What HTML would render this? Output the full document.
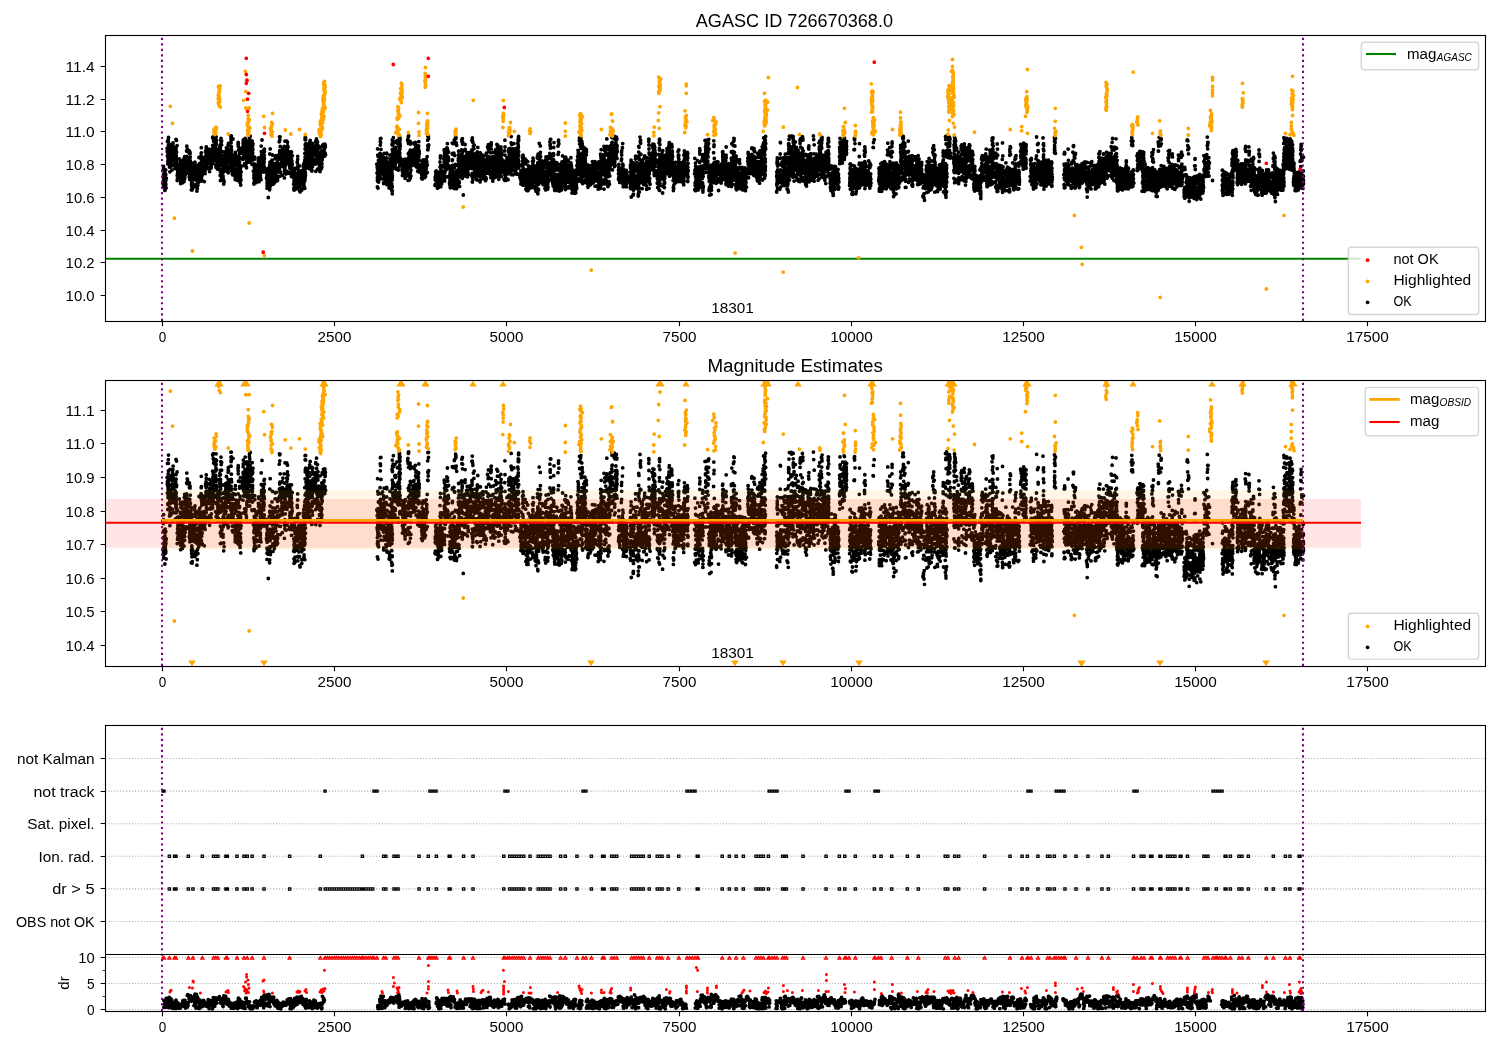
<!DOCTYPE html>
<html><head><meta charset="utf-8"><title>AGASC ID 726670368.0</title>
<style>html,body{margin:0;padding:0;background:#fff}svg{display:block;will-change:transform}</style></head>
<body>
<svg width="1500" height="1050" viewBox="0 0 1500 1050" font-family="Liberation Sans, sans-serif" fill="#000">
<rect width="1500" height="1050" fill="#fff"/>
<defs>
<clipPath id="c1"><rect x="105.5" y="35.5" width="1380.0" height="286.0"/></clipPath>
<clipPath id="c2"><rect x="105.5" y="380.5" width="1380.0" height="286.0"/></clipPath>
<clipPath id="c3"><rect x="105.5" y="725.5" width="1380.0" height="286.0"/></clipPath>
</defs>
<g clip-path="url(#c1)">
<line x1="105.5" y1="258.8" x2="1360.7" y2="258.8" stroke="#008000" stroke-width="2.08"/>
<path transform="scale(.1)" d="M1629 1835h0m4-142h0m0 14h0m1-16h0m0 85h0m1 29h0m1-140h0m0 78h0m0-55h0m0 138h0m0 24h0m1 26h0m0-34h0m1-64h0m0 84h0m0-162h0m1 141h0m0-140h0m1 109h0m0-28h0m1 20h0m1 16h0m0-11h0m3-35h0m2-20h0m1 39h0m1-48h0m0 161h0m0-70h0m1-67h0m1-32h0m0 102h0m1-22h0m0-14h0m0 43h0m1-22h0m0-71h0m0 57h0m1 24h0m0-17h0m2-33h0m1-82h0m0 151h0m0-71h0m1 62h0m0-50h0m0-46h0m1 59h0m2 75h0m2-98h0m8-299h0m2 35h0m0-6h0m1 47h0m1-58h0m0-86h0m3 224h0m1-25h0m1-33h0m0-51h0m0 79h0m1-68h0m1-42h0m0 73h0m0-106h0m0 41h0m1 51h0m0-162h0m1 171h0m0-116h0m0 83h0m0-120h0m1-40h0m2 173h0m8 16h0m0 65h0m0 43h0m1-111h0m0 78h0m0-74h0m0 77h0m1-58h0m1 9h0m0-17h0m1 28h0m0 28h0m0 87h0m0-114h0m0 62h0m1-6h0m0-216h0m0 185h0m1-22h0m0-123h0m1-9h0m0 181h0m2-99h0m0 112h0m0-4h0m0-94h0m0 38h0m1-22h0m0-41h0m1 87h0m1 33h0m0-145h0m3-26h0m1 24h0m9-35h0m0 216h0m1-110h0m0-6h0m0 12h0m1-96h0m0 91h0m1-56h0m0 36h0m2-77h0m0-35h0m1 180h0m0-117h0m0 67h0m1-123h0m0 19h0m1 56h0m0 20h0m1-116h0m0 86h0m0-54h0m0 129h0m1-84h0m0 84h0m0-122h0m1 171h0m0-75h0m0-152h0m0 170h0m0-111h0m2 90h0m1-60h0m1 84h0m1-68h0m1 4h0m13 58h0m3 91h0m0-134h0m1-2h0m0 50h0m1-85h0m0 95h0m1-50h0m0-61h0m1 7h0m0 109h0m1 13h0m0 24h0m0-161h0m0 163h0m1-86h0m0-8h0m1-165h0m0 261h0m0-64h0m0 9h0m1-109h0m0 84h0m0 30h0m0-137h0m0 214h0m2-125h0m1 70h0m0-32h0m0 18h0m0-86h0m1-124h0m1 117h0m2 116h0m0 51h0m3-232h0m1 349h0m0-51h0m3-76h0m0 106h0m1-49h0m1-90h0m1 60h0m0 16h0m1 9h0m0 17h0m1-13h0m0 37h0m0 4h0m1-6h0m0-59h0m1 31h0m0-40h0m1 7h0m1-3h0m0-30h0m0 13h0m0 67h0m4 9h0m5-176h0m0 191h0m2-74h0m0 60h0m1-46h0m1 40h0m0-77h0m1 23h0m1 44h0m1-60h0m0 16h0m1 93h0m0-59h0m1-126h0m0 100h0m0-34h0m1 119h0m1-192h0m0 52h0m2 177h0m1-136h0m0 115h0m1-105h0m1-56h0m0-24h0m7 131h0m1 3h0m1 26h0m1 15h0m1-135h0m0 63h0m0-34h0m0 92h0m2-28h0m0 64h0m0-191h0m0 97h0m1-101h0m0 71h0m0-42h0m0-56h0m1 170h0m0-159h0m0 56h0m0 47h0m0 110h0m0-93h0m1-2h0m0 66h0m1-185h0m1 194h0m0-58h0m0-25h0m0 24h0m9-28h0m0 2h0m2 11h0m0-45h0m1-12h0m1 140h0m1-129h0m0-41h0m0 114h0m1-65h0m0-13h0m1-103h0m1 161h0m0-126h0m0 55h0m1 25h0m0 37h0m0-97h0m0 47h0m1-99h0m0-17h0m1 223h0m0-60h0m1 42h0m0-25h0m1-139h0m0 48h0m1 93h0m1 3h0m1-167h0m0 5h0m1 5h0m8 47h0m1-29h0m1 2h0m0 73h0m1-64h0m1-35h0m0-14h0m0 106h0m1-45h0m0-71h0m0 160h0m0-213h0m1 106h0m0-34h0m0 85h0m1-206h0m0 270h0m0-117h0m1 45h0m0-150h0m0 72h0m0 87h0m0-22h0m1 26h0m0 5h0m0-69h0m0-7h0m1 43h0m0 1h0m1 30h0m0-35h0m0 36h0m0-39h0m1-147h0m0 22h0m1 165h0m1-182h0m2 179h0m1 4h0m12-56h0m2-34h0m0 181h0m1-100h0m1 1h0m0-162h0m0 191h0m0-167h0m1 125h0m1 96h0m1 28h0m1-80h0m0 94h0m0-128h0m0-77h0m0 140h0m0-42h0m0 27h0m0-69h0m0 29h0m1 68h0m1-220h0m1 170h0m0 23h0m0-183h0m0 244h0m0-35h0m1-136h0m0 119h0m0-156h0m1 41h0m0 159h0m0-54h0m0-45h0m0 71h0m2-76h0m0 117h0m2-155h0m2 162h0m1-145h0m3 61h0m0 192h0m1-150h0m1 91h0m1-114h0m0-95h0m0 223h0m0-115h0m0 21h0m0 17h0m1 54h0m0-138h0m0 20h0m1 104h0m0-69h0m1-3h0m0-81h0m0 129h0m0 77h0m0-144h0m1 35h0m0-13h0m0 7h0m0 4h0m0 143h0m0-76h0m1-56h0m0-93h0m0 71h0m0 120h0m0-30h0m2 56h0m0-100h0m0-42h0m1 85h0m1-3h0m1-106h0m0 62h0m1 0h0m0-2h0m18-26h0m0-125h0m1 222h0m0-219h0m1 114h0m0-51h0m0 72h0m0-66h0m1 13h0m0 20h0m0-7h0m1 56h0m0-3h0m0 82h0m0-108h0m1 31h0m0-13h0m0-157h0m1 176h0m0 0h0m0 48h0m1-85h0m0-100h0m1 11h0m0-23h0m1 123h0m6 88h0m3-152h0m1 67h0m1 68h0m0-152h0m1-35h0m1 141h0m1-33h0m0 88h0m0-90h0m1 148h0m2-105h0m0-71h0m0 117h0m2 33h0m0-200h0m0 56h0m0 35h0m2 58h0m0-66h0m2 28h0m2 58h0m1-71h0m3 10h0m2-94h0m1 124h0m2-90h0m1-67h0m0-22h0m0 140h0m1-208h0m0 150h0m0-28h0m1 61h0m0-83h0m0 130h0m0-125h0m1-15h0m0 85h0m1-67h0m1 8h0m1-28h0m1 23h0m0-30h0m0 46h0m2-69h0m1 36h0m0 104h0m2-194h0m0 136h0m5 35h0m1-43h0m0-38h0m0 50h0m0-39h0m1 3h0m1-10h0m0 74h0m0-177h0m1 125h0m1-8h0m0-126h0m0 212h0m1-240h0m0 277h0m0-150h0m1 37h0m0-220h0m0 186h0m0 34h0m0-45h0m0 49h0m0-136h0m1-37h0m0 66h0m0 197h0m1-58h0m2-160h0m0 108h0m0 87h0m0-149h0m1-43h0m0 31h0m0 68h0m1 50h0m1 31h0m1-53h0m0 49h0m0-166h0m2 111h0m1 110h0m1-198h0m10 121h0m4-21h0m1-20h0m0 44h0m1-16h0m0-69h0m1-35h0m0 52h0m0-60h0m0 50h0m0-81h0m1 242h0m0-136h0m2 10h0m0-89h0m0 125h0m1-127h0m2 72h0m0-80h0m1 89h0m1 15h0m1 41h0m0-27h0m3-115h0m1-77h0m3 7h0m0 54h0m1-25h0m0 61h0m1-86h0m0 2h0m0-25h0m0 49h0m1-35h0m0 99h0m0-60h0m0 2h0m0-27h0m0-14h0m1 6h0m0 38h0m0 51h0m0-144h0m0 184h0m1-166h0m0-18h0m0 159h0m1 50h0m0-129h0m0 27h0m1-48h0m0 152h0m1-83h0m1-22h0m1 30h0m0-94h0m2 127h0m16-40h0m2-50h0m0 140h0m3-18h0m1-69h0m0-110h0m0 69h0m0-47h0m0 72h0m1-13h0m1 37h0m2-16h0m0 122h0m0-116h0m1-12h0m1-53h0m1-17h0m1 114h0m1-20h0m3 25h0m0 39h0m0-40h0m1-71h0m2 115h0m1-108h0m1 60h0m0-33h0m0-99h0m0 90h0m1-9h0m1 99h0m2-121h0m1 49h0m0 5h0m0-20h0m0 68h0m1-115h0m3 89h0m3-51h0m1 29h0m0-45h0m2-14h0m0 2h0m0 67h0m2-249h0m0 173h0m0-94h0m0 112h0m1-26h0m0 32h0m0-7h0m0 68h0m0-118h0m0 29h0m0-46h0m1-15h0m0 108h0m1-92h0m0 86h0m0-63h0m0-15h0m0 19h0m0 63h0m1-52h0m0 2h0m0 42h0m1-88h0m0 21h0m1-46h0m0 33h0m0-20h0m0 75h0m0 28h0m1-58h0m0-134h0m1 208h0m0-130h0m0-14h0m0 101h0m0-189h0m1 29h0m1 155h0m0-138h0m1 67h0m2-23h0m13-35h0m4 228h0m1-177h0m1-25h0m0 3h0m1 160h0m0-215h0m0 90h0m0-48h0m0 141h0m1 32h0m1-89h0m0-19h0m0-135h0m0 203h0m0 103h0m0-254h0m1-18h0m0 93h0m1 51h0m0 58h0m1-161h0m1 93h0m1 119h0m0-127h0m0 39h0m0-166h0m2 268h0m0-100h0m6 120h0m0-114h0m2 12h0m0 59h0m0 46h0m1-74h0m1-44h0m0 26h0m0-38h0m0 9h0m0 59h0m0-13h0m2 24h0m0-32h0m0 71h0m2-114h0m1 92h0m0-101h0m1 126h0m0-33h0m0-9h0m1-57h0m0 10h0m2-99h0m1 125h0m8-66h0m0-40h0m1 34h0m0-74h0m1-10h0m0 91h0m0 28h0m1-66h0m0 10h0m2 107h0m0-118h0m0 12h0m1 64h0m0 162h0m0-210h0m1-31h0m0-46h0m0-19h0m1 357h0m0-336h0m0 23h0m0 228h0m1-226h0m0 28h0m0-17h0m0 249h0m1-223h0m0 121h0m0-135h0m0 75h0m1 130h0m0-158h0m0-46h0m0 22h0m1 151h0m0-285h0m1 347h0m1-369h0m0 362h0m1-224h0m0-115h0m0 234h0m0 161h0m1-382h0m0 228h0m0 120h0m4-320h0m0 154h0m0-192h0m0 211h0m1 114h0m2-148h0m1 152h0m7-40h0m0-15h0m2-48h0m2-117h0m0 242h0m0 13h0m1-51h0m0-50h0m0-112h0m1 55h0m0-7h0m0-26h0m1 94h0m1-92h0m0 92h0m0-35h0m0-15h0m1 0h0m1 175h0m0 38h0m0-160h0m0-52h0m1 67h0m0-83h0m0 24h0m0 79h0m1-46h0m0-35h0m0-4h0m0-74h0m0 2h0m0 149h0m1-149h0m1 262h0m2-160h0m0 32h0m9-60h0m1-50h0m0 109h0m1-107h0m0 72h0m0 44h0m1-174h0m2 17h0m0 90h0m1-34h0m0-11h0m1 118h0m0-138h0m0-12h0m0-44h0m1 108h0m0 29h0m0-43h0m0 13h0m1-57h0m0 26h0m1-54h0m2-3h0m0-53h0m1 126h0m1-14h0m1 15h0m7 76h0m1-147h0m1 183h0m1-160h0m2-50h0m0 75h0m1 16h0m1-42h0m0 1h0m0 171h0m0-271h0m0 212h0m0 14h0m1-237h0m0 46h0m0 30h0m2-87h0m0 71h0m0 97h0m0-84h0m0-84h0m0 191h0m1-175h0m0 147h0m0 31h0m1-62h0m0 26h0m0-61h0m0 189h0m1-119h0m0-48h0m0 114h0m1-147h0m0 58h0m1 18h0m1-2h0m1-55h0m1-20h0m14 167h0m2-20h0m0-239h0m1-68h0m0 252h0m0 31h0m1-258h0m0 184h0m1-141h0m0 274h0m0-81h0m0-215h0m0 170h0m0 64h0m0-12h0m0-102h0m0-125h0m1 145h0m0 139h0m0-147h0m1-178h0m0 133h0m1 178h0m0-204h0m0 28h0m0 147h0m0-258h0m1 306h0m1-55h0m0-23h0m0-107h0m0-115h0m0 269h0m2-68h0m2 27h0m0 67h0m3 57h0m1-168h0m1-8h0m0 154h0m1-27h0m1-16h0m0-12h0m0-38h0m1 15h0m0 47h0m0-71h0m0 131h0m1-76h0m0-109h0m0 120h0m1-294h0m0 238h0m0 56h0m1-15h0m1-81h0m0 83h0m0-47h0m1-12h0m1 110h0m0-160h0m0 2h0m1 25h0m0 98h0m14-148h0m1 207h0m0-90h0m2 108h0m0 20h0m0 12h0m1-24h0m1-56h0m0-193h0m1 17h0m0 70h0m0 101h0m1-145h0m0 210h0m0-150h0m0 109h0m1-22h0m1-88h0m0 101h0m2-80h0m0-7h0m1-45h0m0 204h0m0-68h0m1-33h0m2-77h0m0 71h0m11 16h0m1 13h0m0 23h0m2-74h0m1 100h0m0-143h0m1-187h0m0 315h0m1 52h0m0-63h0m1-292h0m0 311h0m0-199h0m0 224h0m0-362h0m1 9h0m0 287h0m0-111h0m0-145h0m0 304h0m1-70h0m0 71h0m0-100h0m0 14h0m1-183h0m0 254h0m1-160h0m0 154h0m1-39h0m1 55h0m0-112h0m0 65h0m0-23h0m5 82h0m1-147h0m2-95h0m0 175h0m0-87h0m1-97h0m0 268h0m1-88h0m0-29h0m0 15h0m0 17h0m1 24h0m0 54h0m0-82h0m1 68h0m0 43h0m0-313h0m0 228h0m1-24h0m0 117h0m0-249h0m0-42h0m0 55h0m0 110h0m0 21h0m1 10h0m1-31h0m0-24h0m0 99h0m0-289h0m2 291h0m0 14h0m0-116h0m1 83h0m0-26h0m1 120h0m0-172h0m0-19h0m3 141h0m1-81h0m13-200h0m4-11h0m1 25h0m1 61h0m0-108h0m1-27h0m0 36h0m0-65h0m2-12h0m0 116h0m0-135h0m0 70h0m1 19h0m0 2h0m1 54h0m0-58h0m1 23h0m0 37h0m0 110h0m0-83h0m0-39h0m1-58h0m1 54h0m0-32h0m1-30h0m0 30h0m2 55h0m5 83h0m1-164h0m1 93h0m1-153h0m1 89h0m0 46h0m1-42h0m0-60h0m0 5h0m1 112h0m0-178h0m2 191h0m0-97h0m0 42h0m0-32h0m4-5h0m0 167h0m1-175h0m0 36h0m1 128h0m1-73h0m0 100h0m0-211h0m2 49h0m2 174h0m2-270h0m0 71h0m1 135h0m1-10h0m0-69h0m0 23h0m1 2h0m0 41h0m0-53h0m1 6h0m0 69h0m0-147h0m0 62h0m1-69h0m0 99h0m1-108h0m0 111h0m0-149h0m0 130h0m1 4h0m0-117h0m0 102h0m0 33h0m0 8h0m1-71h0m1-10h0m0 76h0m1-19h0m0-1h0m1-21h0m0-19h0m1-75h0m1 48h0m1 42h0m8-61h0m3-21h0m0 4h0m2 132h0m0-206h0m0 5h0m0 110h0m1-126h0m0 156h0m0-73h0m0 148h0m1-2h0m0-125h0m0 108h0m1-173h0m1 168h0m0-182h0m0 177h0m0 51h0m1-188h0m0 71h0m1-29h0m0-3h0m0-113h0m1 66h0m1 122h0m0-92h0m0 134h0m1-229h0m0 87h0m2 75h0m9 60h0m0-55h0m3-59h0m0 82h0m1 18h0m0 72h0m1-152h0m0 45h0m0 36h0m2-47h0m0 26h0m1-54h0m0-84h0m0 159h0m1-17h0m0 91h0m0-95h0m1-85h0m0 38h0m1 100h0m1-23h0m0-136h0m0 79h0m0 13h0m1-76h0m0 184h0m2-149h0m1-56h0m4 274h0m4 66h0m1 54h0m1 8h0m0-88h0m1-11h0m0 3h0m1 44h0m1-115h0m0-33h0m0 84h0m0 23h0m1 53h0m0-97h0m0 19h0m1 23h0m0 71h0m1-126h0m0 134h0m0-183h0m0 41h0m1-110h0m0 159h0m0 89h0m0-111h0m2-118h0m2 225h0m0-107h0m1-10h0m2 14h0m1 22h0m2-35h0m1-50h0m1 177h0m0-123h0m1-17h0m1 99h0m1-60h0m0 11h0m0-76h0m0 60h0m1 28h0m1-92h0m0 110h0m0-98h0m1 41h0m1 10h0m0 7h0m1 68h0m1-95h0m9 60h0m2 33h0m0-97h0m4 0h0m0-41h0m1 89h0m0-134h0m0 149h0m0-23h0m1-87h0m0-25h0m1 22h0m0 8h0m0-76h0m1 146h0m0 67h0m0-88h0m0 88h0m1-43h0m0-163h0m0 41h0m2 191h0m1-66h0m1-58h0m0-78h0m1 178h0m2-31h0m2-44h0m1 13h0m1-21h0m0 1h0m1 20h0m0-9h0m0-83h0m1 139h0m1-102h0m1 91h0m0 12h0m0-47h0m1-29h0m0-74h0m0 90h0m0 47h0m0-105h0m0 93h0m1 26h0m2 14h0m3 3h0m1-88h0m1 15h0m0-263h0m0 246h0m1-110h0m0-3h0m0 23h0m0-100h0m0 201h0m2-166h0m0 90h0m0 13h0m1-93h0m1 27h0m0 85h0m0-127h0m1-27h0m1 169h0m0-117h0m0 135h0m1-84h0m0-223h0m2 153h0m3 130h0m1-15h0m2-103h0m1 52h0m2 17h0m0-24h0m1 81h0m0-53h0m1 62h0m0-73h0m0-25h0m1 101h0m0-171h0m0 103h0m1-22h0m0-52h0m0 135h0m0-59h0m0 76h0m0-103h0m1 70h0m0-93h0m0 25h0m1 12h0m0 3h0m0 14h0m1 42h0m1-77h0m0 65h0m1 1h0m0-125h0m0-49h0m0 221h0m0-101h0m0 6h0m1-10h0m0-38h0m0 115h0m1-25h0m0-114h0m2-36h0m0 70h0m0-94h0m21 288h0m2 7h0m1-62h0m1 62h0m0-29h0m0 7h0m0-77h0m1 66h0m0 73h0m0 55h0m1-30h0m0-136h0m0 82h0m1-41h0m0 32h0m0-76h0m1 120h0m1-42h0m0-55h0m0 51h0m2 49h0m0-77h0m0 7h0m3 4h0m0 5h0m1 9h0m1 73h0m2 118h0m8-189h0m0 50h0m0-55h0m2-108h0m1 29h0m0 80h0m0-82h0m0 53h0m1 79h0m1 66h0m0-143h0m1 130h0m0-55h0m1-290h0m0 196h0m0-89h0m0 5h0m0 170h0m1 3h0m0-64h0m0-14h0m1 10h0m0 64h0m0-200h0m0 169h0m0-168h0m1 82h0m0-49h0m0 50h0m0 86h0m0-45h0m1-257h0m0 185h0m0 96h0m1 8h0m0-73h0m1 153h0m0-13h0m1-109h0m4 84h0m1-139h0m8 74h0m0-55h0m2-98h0m3 28h0m1-80h0m0 133h0m0 30h0m0 51h0m0-49h0m1 22h0m1 33h0m0-93h0m0-23h0m2 79h0m0-69h0m0 143h0m1-118h0m0-40h0m0 16h0m1 7h0m0 141h0m0 30h0m0-65h0m2-124h0m1 3h0m0 96h0m2-70h0m0-1h0m9 147h0m3-178h0m2 129h0m1-85h0m0 9h0m0 108h0m1-18h0m0-207h0m1 146h0m0-52h0m1-48h0m0 50h0m0-125h0m1 239h0m0-81h0m0-9h0m1-3h0m0 26h0m0-25h0m0-26h0m0-28h0m0 122h0m1-96h0m2 135h0m2-96h0m0 28h0m2-188h0m3 255h0m2-95h0m2 83h0m1-7h0m0-141h0m1 18h0m2 104h0m0 9h0m1 23h0m0-216h0m0 108h0m2-97h0m0 26h0m0-1h0m0 178h0m1-24h0m0-18h0m1-74h0m1-102h0m1 63h0m8-60h0m4-170h0m1 302h0m1-180h0m0 43h0m0-2h0m1 90h0m0 22h0m0-325h0m1 208h0m1-203h0m0 142h0m0 74h0m1-15h0m0-37h0m0 14h0m0-149h0m0 104h0m1 86h0m0-4h0m0 78h0m1-95h0m1-202h0m0 271h0m1-98h0m0-77h0m1 92h0m0 204h0m0-204h0m1 36h0m0-57h0m1 185h0m13-112h0m0 38h0m0-98h0m0 35h0m1 40h0m0-119h0m1 59h0m0-19h0m1 97h0m0-139h0m0 152h0m0-5h0m1-109h0m0 92h0m0-75h0m0-13h0m0 101h0m1 106h0m2-125h0m0-94h0m0 74h0m1-40h0m0 9h0m1 89h0m0-29h0m1 27h0m1-176h0m1 140h0m0 10h0m1-98h0m9 28h0m0 57h0m1-159h0m1 162h0m0-25h0m1 34h0m1 76h0m0 67h0m0-269h0m1 38h0m2-6h0m0 41h0m0-13h0m0-23h0m1 146h0m0 25h0m0-83h0m1-78h0m0 176h0m0-155h0m0 110h0m1 48h0m0-324h0m0 140h0m3 59h0m0 20h0m0 29h0m0-69h0m3 32h0m0-73h0m1 3h0m2 187h0m8-254h0m1 53h0m0-127h0m1 90h0m1 136h0m0-110h0m1 187h0m2-228h0m0 40h0m1-7h0m0-53h0m0 22h0m0 139h0m0-77h0m1 13h0m0-108h0m0 91h0m0-124h0m1 145h0m0 37h0m1-35h0m1 2h0m2-100h0m1 137h0m3-42h0m7-3h0m0 170h0m3-155h0m1 1h0m0-3h0m1 18h0m1-49h0m0 122h0m0-149h0m1 46h0m0 160h0m1-196h0m0 154h0m0-58h0m0-46h0m1 75h0m0-70h0m0-42h0m1 43h0m1 151h0m3-179h0m0 62h0m1 56h0m3-95h0m0-11h0m0 19h0m3 139h0m0-154h0m1 28h0m0-48h0m0 111h0m1-46h0m0-16h0m0 77h0m0 29h0m0-124h0m1 181h0m0-246h0m2 139h0m1 79h0m1-129h0m0 22h0m1 87h0m0 14h0m1-82h0m1-4h0m1-88h0m13 284h0m1-115h0m1 117h0m0-61h0m1 97h0m1-193h0m0 215h0m0-89h0m2 88h0m1-183h0m0 76h0m0 86h0m0-51h0m0-34h0m1 12h0m0 36h0m0-138h0m0 139h0m1-4h0m0 45h0m1-201h0m0 41h0m0 172h0m0-52h0m0 41h0m0-184h0m1-9h0m0 47h0m0 158h0m0-6h0m1-89h0m0-75h0m0 18h0m1-62h0m1 131h0m0-57h0m0 114h0m0 1h0m0-96h0m2 1h0m4 44h0m12-48h0m3-34h0m0 51h0m1 0h0m0-21h0m0-150h0m0 206h0m1 2h0m1-198h0m1 187h0m0-148h0m1 77h0m1 20h0m0-77h0m0-95h0m0-30h0m0 120h0m1 3h0m0 106h0m1 97h0m0-50h0m0 28h0m0-117h0m1-89h0m1 209h0m0-179h0m2 36h0m1-2h0m0-7h0m4 96h0m1 31h0m2-35h0m2-34h0m1-117h0m0 210h0m0-108h0m0-39h0m1-6h0m0 152h0m1-136h0m2 91h0m0-46h0m0 136h0m2-88h0m0-1h0m1-44h0m0 139h0m1-115h0m0-52h0m1 1h0m0 26h0m0 25h0m1 7h0m6-80h0m1 31h0m0-19h0m1 31h0m0-14h0m0-15h0m0 23h0m1 2h0m0 33h0m2-42h0m1 68h0m0-4h0m0-119h0m1 102h0m0-43h0m0-55h0m0 6h0m0 128h0m1 57h0m0-85h0m0-56h0m0 54h0m1 69h0m1-160h0m1 86h0m1-81h0m0-10h0m0 71h0m0 35h0m1-28h0m1 29h0m0-72h0m9-97h0m1 15h0m2 134h0m2-167h0m1 107h0m0 88h0m1-36h0m0-30h0m0-29h0m0-56h0m0 189h0m1-12h0m1-79h0m0-59h0m0 5h0m0-88h0m1 98h0m0 67h0m0-124h0m0 111h0m0 12h0m0-131h0m1 111h0m0-101h0m1 69h0m0 132h0m0-113h0m0 43h0m0-138h0m0 26h0m1-80h0m0 5h0m1-3h0m0 131h0m0-131h0m1 185h0m0-274h0m0 350h0m0-151h0m0-130h0m1 113h0m0 86h0m1-88h0m1-336h0m0 403h0m0-290h0m0 110h0m0-31h0m0-172h0m1 216h0m1-168h0m0 11h0m0 145h0m1 129h0m0-138h0m1 163h0m1-379h0m0 22h0m1 261h0m0-4h0m0-38h0m1 17h0m0-197h0m0 184h0m1-90h0m1-25h0m1 52h0m0 73h0m2 49h0m0-158h0m0-15h0m0 154h0m2-69h0m2-6h0m1 92h0m1-38h0m0-127h0m1-51h0m0 8h0m1 25h0m0 110h0m0-69h0m0-28h0m0 47h0m1-56h0m0 160h0m0-101h0m1-67h0m0 101h0m1-117h0m0 69h0m1 93h0m0-193h0m1 203h0m1-55h0m1-62h0m0 85h0m0-39h0m1 35h0m7 14h0m1-18h0m1 42h0m0-6h0m1-185h0m1 214h0m0-112h0m1 57h0m0 36h0m1-75h0m0 8h0m0-49h0m0 133h0m0-124h0m1-44h0m0 33h0m0 48h0m0 101h0m2-1h0m0-247h0m0 196h0m0 56h0m1-186h0m0 169h0m0-28h0m0-112h0m0 28h0m0-81h0m1 64h0m0-121h0m0 103h0m0 23h0m1 136h0m0-158h0m1 13h0m0 142h0m1-116h0m2-159h0m0 106h0m10-11h0m1 118h0m2-55h0m0 82h0m1-95h0m1 69h0m1 92h0m1-244h0m0 147h0m0-77h0m0 168h0m0-175h0m1-32h0m0 203h0m0-122h0m0-40h0m1-37h0m0 15h0m0-78h0m0 185h0m0-67h0m0 23h0m1-146h0m0 143h0m0-3h0m0-16h0m0-58h0m1 48h0m1-14h0m0 29h0m0 86h0m1-49h0m0-67h0m0 70h0m0-149h0m0 212h0m1-115h0m1 63h0m0-1h0m1-176h0m2 175h0m1-122h0m18 39h0m0 21h0m1-77h0m0 41h0m0 77h0m1 10h0m1-113h0m0-27h0m1 1h0m1 85h0m0-45h0m0-25h0m1 65h0m0-33h0m1 131h0m1-105h0m0-120h0m0 45h0m1-49h0m0 302h0m0-106h0m1-68h0m0 59h0m6-209h0m2 245h0m0-195h0m1 121h0m1 46h0m1-134h0m1 149h0m0-33h0m1-21h0m0-9h0m1-22h0m1 12h0m0 77h0m0 69h0m1-274h0m0 159h0m1-35h0m1-18h0m0-38h0m0 66h0m1 134h0m1-233h0m0 41h0m1 106h0m0-146h0m1 98h0m0-12h0m8-17h0m1 14h0m2 152h0m3-27h0m0-101h0m1 105h0m1-44h0m0 40h0m1-53h0m0 31h0m0-29h0m2 103h0m1-168h0m0 65h0m1-138h0m2 152h0m0-54h0m4-22h0m1 15h0m1-31h0m0 94h0m1 61h0m1-164h0m0 66h0m0-12h0m0-33h0m0 101h0m0-119h0m1 43h0m1 39h0m1-74h0m0 145h0m0-48h0m0-90h0m1-7h0m0 33h0m0-33h0m1 126h0m0-123h0m0-1h0m0 5h0m1 12h0m0-46h0m0 160h0m1-80h0m0 47h0m1-114h0m0 73h0m1-3h0m0 2h0m0-20h0m1 24h0m0-140h0m6 7h0m0 82h0m2 1h0m2-86h0m0 58h0m2-78h0m4 62h0m0 58h0m3-64h0m1 35h0m1-8h0m0 27h0m4-23h0m0 20h0m1 11h0m0-23h0m1-82h0m0-14h0m0 108h0m1-22h0m0-50h0m2-5h0m2-14h0m2 87h0m512 96h0m2 86h0m2-59h0m2 107h0m0-37h0m0 131h0m0-64h0m1-116h0m1 106h0m0-148h0m0-159h0m1 180h0m0-5h0m1-113h0m0 164h0m0 17h0m0 19h0m1-51h0m0 115h0m0-52h0m0-17h0m1-111h0m0 66h0m0 180h0m1-317h0m0 234h0m0-130h0m1 25h0m0 7h0m0-22h0m0 138h0m0-158h0m1 56h0m0-44h0m0 141h0m1-208h0m1 125h0m1 93h0m2-67h0m10-82h0m1-27h0m2 122h0m0-157h0m0-77h0m1 159h0m0-56h0m0 76h0m1-75h0m0-186h0m0 205h0m0-43h0m0 37h0m0 50h0m0-284h0m1-29h0m0 326h0m0-123h0m1 127h0m0-60h0m0-24h0m1-207h0m0 224h0m1 70h0m0-112h0m1 26h0m0 68h0m0 87h0m0-227h0m0 123h0m0-66h0m1 68h0m0 0h0m0-28h0m0-274h0m0 286h0m0-29h0m1-149h0m0 169h0m1 1h0m0-13h0m0 85h0m4-105h0m0 70h0m2-67h0m0 56h0m9-135h0m3 133h0m0-45h0m1 15h0m1 38h0m2 44h0m0-94h0m1-59h0m0 87h0m0 45h0m1 30h0m1-66h0m0-93h0m0 58h0m0 141h0m0-130h0m0-24h0m0-61h0m1 263h0m0-10h0m0-241h0m0 142h0m1-10h0m1-77h0m0 24h0m1-47h0m0-10h0m1 163h0m0-235h0m0 103h0m2-8h0m0 66h0m2-83h0m14 170h0m0 27h0m1-147h0m0 80h0m0-84h0m1 8h0m0-63h0m0 145h0m1-2h0m0-76h0m0 66h0m1 48h0m0 36h0m1-93h0m0 46h0m2-159h0m0 197h0m0-121h0m1-113h0m0-47h0m0 224h0m0-86h0m0 73h0m1 42h0m0-78h0m0-168h0m0 237h0m1-43h0m0 58h0m0 51h0m0-149h0m0 10h0m1 145h0m1-87h0m0 84h0m0-94h0m0-106h0m2 97h0m9 51h0m2-22h0m0-54h0m0 79h0m2 53h0m1-57h0m2-38h0m0 5h0m0-14h0m1-66h0m0 72h0m0-10h0m1 139h0m0-126h0m1 59h0m0-12h0m1-77h0m0 59h0m0-35h0m0-76h0m1 59h0m0 126h0m0-179h0m1 179h0m0-85h0m0-43h0m1-110h0m0 133h0m0 59h0m0-98h0m1-58h0m0 214h0m1 14h0m1-331h0m0 262h0m2-225h0m12 150h0m0-64h0m0 59h0m0-50h0m2-55h0m0 95h0m1 174h0m0-59h0m0-232h0m1 51h0m1 66h0m0-75h0m0 98h0m0 94h0m1-35h0m0-116h0m0 75h0m0-144h0m0 291h0m1-467h0m0 239h0m0-12h0m0 34h0m0 58h0m0-27h0m1 20h0m0 11h0m0-161h0m0 57h0m1-167h0m0 373h0m0-114h0m0 110h0m0-87h0m0-86h0m0-154h0m1 101h0m0-240h0m0 539h0m0-149h0m0-340h0m1 309h0m0-199h0m0 82h0m0 267h0m0-315h0m1-139h0m0-25h0m1 84h0m1 4h0m0 73h0m1-32h0m0-29h0m1 114h0m0-70h0m1 96h0m0-162h0m0 141h0m1-137h0m0 63h0m0-156h0m2 220h0m1-261h0m0 198h0m1 5h0m0 50h0m1-200h0m9 90h0m1 143h0m1 2h0m1 11h0m0-82h0m0-120h0m1 50h0m0 60h0m0-8h0m0-6h0m0-151h0m0 60h0m1 86h0m0 101h0m3-30h0m0 47h0m0-48h0m0-59h0m1 67h0m0-116h0m0-44h0m0 39h0m0-49h0m1 74h0m3 54h0m1-80h0m3 170h0m8-284h0m4 198h0m0-170h0m2 178h0m0-26h0m2-20h0m0-48h0m1 14h0m0 40h0m1-46h0m0-15h0m0 9h0m0 160h0m1-75h0m1-98h0m1 51h0m1 58h0m0 84h0m6-236h0m1 92h0m1 31h0m0-80h0m0 1h0m0-32h0m1-89h0m1 107h0m0 60h0m0-75h0m0-108h0m1 223h0m0-216h0m0 47h0m0 31h0m0-76h0m0 25h0m0-41h0m0 201h0m1-125h0m0-2h0m0 146h0m1-100h0m0 41h0m0 126h0m0-227h0m0-37h0m0 150h0m1 123h0m0-190h0m0 101h0m0-174h0m1 187h0m0-95h0m0 123h0m1-210h0m1 38h0m0 131h0m0-189h0m1 266h0m1-187h0m1 149h0m0-19h0m14 26h0m2 77h0m1-82h0m3 141h0m0-36h0m2-53h0m2 58h0m0-47h0m0-34h0m1-11h0m0 59h0m0 28h0m1-121h0m0 1h0m0 130h0m0-1h0m2-13h0m0-78h0m0 24h0m0 23h0m1 41h0m0 16h0m1-77h0m3 51h0m6-44h0m1-67h0m1 37h0m0-15h0m1 81h0m0 39h0m0-125h0m1 125h0m1-43h0m0 9h0m1-46h0m0-2h0m0-38h0m0 142h0m0-75h0m1-27h0m0 33h0m0 65h0m1 6h0m0-120h0m0 134h0m1-153h0m0-2h0m0 141h0m0-82h0m1-95h0m0 34h0m0 77h0m0-15h0m1 12h0m0 38h0m1-107h0m0 38h0m1 75h0m0-63h0m0 13h0m1-8h0m17 10h0m0-74h0m2-219h0m1 355h0m2-367h0m0 346h0m0-81h0m0-37h0m1 47h0m0 2h0m2-254h0m0 390h0m0-76h0m1-192h0m0 100h0m1-14h0m0 37h0m0-297h0m0 241h0m0-237h0m0 213h0m1-145h0m0-75h0m1 402h0m1-401h0m2 187h0m1-8h0m0-7h0m0 93h0m3 126h0m1-229h0m1 276h0m3-228h0m1 99h0m1-237h0m0 158h0m1-177h0m2 14h0m0 75h0m0 114h0m0 110h0m0-208h0m1 261h0m0-339h0m1 230h0m0-103h0m1 87h0m0-101h0m0 76h0m0 42h0m1-63h0m0 47h0m1-43h0m0-10h0m1 55h0m0-33h0m0 136h0m0-211h0m1-44h0m0 119h0m0 77h0m14-128h0m2 4h0m2 11h0m0 31h0m1-82h0m0 15h0m2-3h0m0-25h0m1 60h0m1-1h0m0-20h0m0 75h0m0 13h0m1-41h0m0-60h0m1-47h0m0 23h0m0 48h0m0 21h0m0 22h0m1-30h0m0-156h0m0 132h0m0 31h0m1-95h0m0 99h0m0-52h0m1 78h0m1-125h0m1 73h0m1-132h0m10 156h0m1 51h0m1-75h0m0-147h0m0 178h0m0-75h0m2 69h0m0-5h0m0-76h0m1 27h0m0-67h0m0 72h0m1 12h0m0-2h0m1 18h0m0 26h0m1-19h0m0-126h0m0 69h0m1 43h0m0 61h0m0-42h0m1 77h0m0-214h0m1 98h0m0-24h0m0 18h0m2 56h0m0-73h0m0-42h0m2 93h0m0 92h0m2-87h0m9 130h0m0-184h0m2 20h0m0-70h0m0 199h0m1-115h0m0 34h0m1-68h0m1 41h0m1 42h0m0-81h0m1 4h0m0-24h0m0-28h0m2 16h0m0 39h0m0 110h0m0-184h0m0-4h0m1 103h0m0 137h0m1-128h0m0 26h0m0 68h0m0-248h0m1 136h0m1-16h0m1-15h0m1 185h0m0-193h0m1 206h0m0-185h0m1 121h0m16 43h0m2 22h0m1-44h0m1 38h0m1 66h0m1-74h0m1-99h0m0 90h0m0 46h0m1-19h0m1-74h0m0 13h0m1 71h0m0-31h0m0 51h0m1-124h0m0 72h0m1 36h0m0-126h0m0 151h0m1 27h0m1-113h0m0 63h0m0-27h0m2 45h0m5-161h0m1 157h0m1-93h0m1 99h0m2-9h0m0-46h0m0 2h0m1-4h0m0 63h0m1-128h0m1 52h0m0 67h0m0 10h0m0-126h0m1 42h0m1 83h0m0-20h0m1-78h0m1 82h0m0-58h0m1 33h0m0 35h0m1-33h0m0-72h0m0 87h0m1 1h0m0 33h0m0-69h0m1-101h0m1-5h0m2 95h0m5 0h0m0 68h0m1-101h0m3 5h0m1 64h0m0-62h0m2-79h0m1 94h0m0 49h0m2-78h0m1 3h0m0-24h0m0-4h0m0 93h0m1-111h0m1 5h0m1 106h0m3-159h0m1 85h0m0 72h0m4-226h0m0-95h0m1 54h0m1-94h0m1 97h0m0 39h0m2-22h0m3-90h0m0-25h0m2 89h0m63 402h0m2-80h0m0 26h0m1-18h0m1 62h0m1 13h0m0-53h0m1-8h0m0-75h0m2 26h0m1 6h0m0-25h0m0 16h0m1 107h0m1-54h0m0-34h0m1 16h0m0-23h0m0 7h0m1-25h0m0-27h0m2 59h0m1 5h0m1 5h0m3-35h0m1 115h0m1-13h0m1-75h0m1 42h0m1 70h0m1-87h0m0-44h0m1 4h0m0 92h0m1-56h0m2-22h0m0 79h0m0 1h0m1-70h0m0-15h0m0 86h0m1-119h0m0 31h0m0 113h0m0-15h0m0-15h0m1-54h0m0 32h0m2 12h0m12-35h0m1-37h0m1-23h0m0 35h0m0-1h0m1-154h0m0 145h0m1-93h0m0 169h0m1-25h0m0-104h0m1 10h0m0 35h0m0-21h0m1-66h0m0-110h0m0 20h0m1 163h0m0-87h0m1 111h0m0-39h0m2 139h0m0-91h0m0 9h0m0 22h0m1-6h0m1-102h0m0 28h0m0-45h0m2 48h0m1 24h0m1 29h0m1 47h0m1-34h0m0-58h0m0-1h0m1 101h0m0-49h0m0 9h0m1-52h0m0 13h0m0 17h0m0 7h0m0 32h0m0-11h0m1-19h0m0-12h0m1-39h0m0 6h0m0 21h0m2 32h0m0-137h0m0 100h0m0 52h0m0-44h0m1 26h0m1 12h0m5-72h0m10-138h0m0 75h0m2 113h0m0-218h0m1 146h0m0-211h0m0 129h0m1-4h0m0 164h0m1-277h0m0 153h0m0 131h0m1-159h0m0-50h0m0-49h0m1 274h0m0-77h0m0-62h0m0 97h0m0-58h0m1-78h0m0-33h0m0 166h0m0-129h0m1-8h0m0 44h0m1 6h0m0-174h0m0 141h0m0-67h0m0 54h0m1 22h0m0-103h0m0 160h0m0-64h0m0 0h0m1-11h0m0 38h0m0-31h0m2-123h0m0 124h0m0-9h0m1-23h0m0 100h0m1-51h0m13-180h0m0 65h0m0 32h0m2 13h0m0 51h0m0-45h0m1 171h0m0-77h0m1-1h0m0-39h0m1 30h0m0-154h0m1-41h0m0-48h0m0 207h0m0-36h0m1 161h0m0-161h0m0-22h0m1 24h0m1 47h0m0-74h0m0 82h0m0-164h0m1 186h0m1-39h0m1 28h0m0-152h0m2 46h0m0 5h0m1 34h0m1 64h0m2-151h0m1 64h0m8 244h0m1-62h0m0-98h0m1 174h0m2-95h0m0-83h0m1 131h0m0-48h0m0 48h0m0 13h0m1-82h0m0 145h0m0-46h0m1-63h0m1 66h0m1-21h0m0-65h0m0 74h0m0 17h0m0-115h0m2 88h0m0 70h0m1-189h0m1 137h0m3 22h0m1 25h0m7-33h0m0-183h0m0 120h0m1 39h0m0-105h0m0-24h0m0 55h0m1 6h0m1 68h0m0 27h0m1-237h0m0-66h0m0-109h0m0 360h0m2-192h0m0 208h0m0 15h0m0-3h0m1-122h0m0 99h0m0-11h0m1-250h0m0 244h0m0 14h0m0-38h0m1-65h0m0 134h0m0-4h0m0-43h0m1-122h0m1-220h0m7 360h0m0-36h0m1 10h0m0-43h0m0-7h0m1-187h0m2 214h0m0 130h0m0-64h0m1-261h0m0 236h0m1 98h0m0-484h0m1 389h0m0 92h0m0-95h0m0-111h0m1 128h0m0 19h0m0 47h0m1-50h0m1 36h0m0 18h0m0-137h0m0-182h0m0 180h0m1 129h0m0-117h0m0-352h0m2 34h0m1 360h0m0-48h0m0-15h0m1 3h0m2-85h0m2-274h0m1 69h0m1-58h0m1 5h0m1-7h0m1 344h0m2-295h0m0 389h0m1 26h0m0-35h0m1-45h0m0 124h0m1-158h0m0 2h0m1 145h0m0-423h0m1 321h0m0-124h0m0 103h0m1-50h0m0 75h0m0 45h0m0-171h0m1 94h0m1 5h0m1 67h0m0-7h0m2 32h0m1-130h0m0-66h0m0 123h0m2-40h0m5 46h0m1 33h0m0-205h0m1-22h0m0 135h0m0 39h0m1-37h0m0-170h0m1 58h0m0 36h0m0 46h0m0-177h0m0 230h0m0-48h0m0-80h0m1 125h0m1 11h0m0-39h0m0-69h0m0 73h0m1-165h0m0 184h0m0-8h0m1 28h0m0-91h0m0 149h0m0-119h0m0-74h0m1-1h0m0 40h0m0 29h0m0-119h0m1 167h0m0-58h0m1 0h0m0 151h0m1-83h0m0-36h0m1-73h0m1 228h0m0-254h0m3-10h0m1 85h0m10-177h0m0 204h0m3-72h0m0-2h0m1 11h0m1-149h0m1 126h0m0 27h0m0-104h0m0 223h0m1-92h0m0-131h0m1 18h0m0 151h0m1-136h0m0 129h0m0-295h0m0-22h0m1 262h0m0-29h0m1-23h0m0 85h0m0-155h0m1-7h0m0-4h0m0 95h0m1 153h0m0-19h0m0 7h0m0 24h0m1-161h0m0 30h0m0-266h0m1 55h0m0 63h0m0 105h0m1-190h0m7 531h0m7-348h0m1 58h0m2 97h0m0-158h0m2 28h0m0-128h0m1 126h0m1-54h0m0 55h0m0 100h0m1-137h0m0 127h0m0-3h0m1-101h0m0-48h0m1-57h0m0 84h0m0 102h0m1 17h0m0-265h0m1 50h0m1 209h0m0-79h0m0-58h0m1 194h0m0-78h0m0-24h0m2 5h0m0-64h0m0 28h0m1 77h0m9-159h0m4 16h0m1 163h0m0-34h0m1-13h0m0-151h0m0 69h0m1 48h0m0 57h0m0-72h0m1 39h0m0-5h0m0-55h0m0-52h0m1 62h0m0-71h0m0 221h0m0-170h0m1 94h0m0-128h0m1 115h0m1 10h0m0 37h0m0-66h0m0 27h0m0 41h0m1-109h0m0 103h0m0-86h0m1-66h0m0 65h0m0 59h0m0-62h0m1 106h0m1 6h0m0 3h0m1-142h0m0-39h0m15-41h0m0 65h0m1 57h0m1-2h0m0-52h0m1-54h0m0 48h0m0-60h0m1 134h0m0-4h0m0-83h0m1 98h0m0-127h0m1 34h0m1 45h0m1-24h0m0 1h0m0-69h0m2 62h0m2-72h0m2 161h0m2-49h0m1-79h0m1 16h0m1 185h0m0-81h0m0-100h0m1-22h0m1-55h0m0-93h0m0 236h0m1 40h0m0-104h0m1-57h0m0-15h0m0 63h0m0 80h0m1 87h0m1-331h0m0 161h0m0-186h0m0 440h0m0-250h0m1-25h0m0 225h0m0 51h0m1-43h0m0-155h0m0 24h0m1-234h0m0 275h0m1 51h0m0-66h0m1 112h0m1 14h0m0-374h0m0 226h0m1-29h0m0-17h0m4 35h0m0-177h0m5 26h0m3-36h0m1 111h0m2 133h0m1 34h0m0-47h0m0-24h0m2 90h0m0-46h0m0 32h0m1-104h0m1 103h0m0 33h0m0-115h0m1 80h0m0-153h0m1 130h0m0-169h0m0 107h0m0-28h0m0 86h0m1-99h0m0 5h0m0 39h0m0-52h0m2 99h0m5-4h0m0-88h0m3 123h0m2-188h0m2 108h0m0-91h0m0 239h0m0-158h0m1 82h0m0-22h0m1-73h0m0-67h0m0 165h0m1-26h0m0-155h0m1 142h0m0 55h0m1-142h0m0 203h0m1-221h0m0-59h0m0 196h0m2-132h0m0-16h0m1-41h0m0 178h0m1-23h0m0 77h0m1-285h0m0 227h0m0-63h0m1-4h0m1 22h0m1-12h0m0 117h0m1-60h0m1-19h0m0-115h0m0 173h0m0-209h0m1 209h0m0-146h0m0 150h0m1-63h0m0 18h0m0-20h0m1 33h0m0 31h0m1-143h0m1 19h0m3 21h0m4 74h0m1-82h0m1 35h0m1-89h0m0 3h0m0 37h0m1 4h0m1-94h0m0 93h0m0 59h0m0-54h0m0 75h0m0-85h0m1 92h0m0 26h0m0 85h0m0-146h0m1 79h0m0-125h0m0 120h0m0-112h0m1 130h0m0-79h0m0 52h0m1-60h0m0-73h0m0-76h0m0 161h0m1 34h0m1-54h0m1 11h0m0-22h0m0 137h0m1-109h0m0 14h0m1-141h0m0 142h0m1 44h0m0-70h0m0 75h0m18-183h0m0 186h0m1 3h0m0-205h0m1 38h0m0 145h0m0-111h0m1-57h0m0 21h0m0 118h0m0 15h0m1-56h0m1 41h0m0-26h0m0 32h0m1 42h0m0-136h0m0 139h0m1-90h0m1 41h0m0-105h0m0 27h0m0 138h0m1-25h0m0 43h0m3-88h0m0-12h0m9 81h0m2-108h0m3 25h0m0 10h0m0-44h0m1-51h0m0 95h0m0 113h0m0-132h0m1-65h0m1 120h0m0-124h0m1 45h0m0 13h0m1 68h0m0-88h0m0 28h0m1-41h0m0 49h0m0 8h0m0 39h0m0-31h0m1-142h0m0 42h0m0 184h0m0-93h0m1-82h0m0 96h0m1 88h0m0-94h0m0-37h0m0 34h0m1-14h0m0-23h0m0-124h0m3 176h0m7-37h0m0 37h0m0-72h0m1-166h0m1 182h0m2 26h0m1-32h0m0 3h0m1-34h0m0 84h0m0-122h0m0 33h0m1-5h0m0-116h0m0 196h0m0 13h0m0-134h0m0 101h0m1 3h0m1 3h0m0-51h0m0 108h0m1-280h0m0 213h0m1 27h0m0-206h0m0 124h0m0-1h0m1 128h0m0-108h0m2-108h0m0 138h0m0-59h0m1 124h0m1-31h0m2-56h0m1-61h0m11 176h0m1-39h0m0-89h0m2 129h0m0-220h0m1-69h0m1 318h0m1-151h0m1 117h0m0-313h0m0 195h0m0 109h0m0-279h0m1-10h0m1 44h0m0-61h0m1 178h0m1 66h0m0-29h0m1 88h0m0-138h0m0 122h0m2-2h0m1-143h0m3 144h0m3 10h0m2-3h0m1 89h0m1-45h0m1-199h0m1 200h0m0-80h0m0 34h0m1 24h0m1-66h0m0 68h0m0-69h0m0 99h0m0-252h0m1 204h0m1-87h0m0 22h0m1 32h0m0 22h0m1-77h0m1-25h0m5 163h0m2-64h0m0-17h0m2-80h0m2-35h0m1 65h0m0 99h0m0-43h0m1-47h0m0 118h0m1-22h0m0-77h0m1-92h0m1 37h0m2-121h0m0 104h0m0 49h0m4-134h0m1 39h0m1-13h0m1 105h0m2-22h0m2 127h0m1-244h0m0 186h0m1-252h0m0 259h0m0-61h0m1-47h0m0-10h0m0 84h0m0-43h0m1 7h0m0-16h0m0 45h0m0-32h0m0 17h0m1 73h0m0-88h0m1-123h0m1 171h0m0-203h0m1 171h0m0-102h0m2-94h0m0 140h0m3 44h0m5-98h0m1 95h0m1 136h0m0-66h0m0-110h0m1 169h0m0 31h0m1-85h0m1 1h0m0-72h0m0 30h0m0-189h0m0 152h0m1 68h0m0 54h0m0-49h0m1 14h0m0-41h0m1-97h0m2 51h0m1 20h0m0-141h0m0 207h0m1-47h0m4-106h0m3-6h0m1 65h0m1-4h0m1-23h0m0 46h0m1-130h0m0 220h0m0-225h0m0 221h0m1-106h0m0-93h0m0 121h0m0-181h0m1 40h0m1 138h0m0 42h0m0 0h0m0-148h0m0-47h0m0 80h0m1-41h0m0 106h0m1-55h0m0 181h0m0-151h0m0 23h0m0-21h0m1-10h0m0-51h0m0 141h0m1-142h0m0 125h0m1-37h0m1-107h0m1 114h0m0-48h0m2-5h0m18 74h0m1 42h0m1-49h0m1 66h0m0 65h0m0-135h0m1 57h0m0-33h0m1 7h0m1 35h0m2-11h0m0 30h0m0-114h0m1 174h0m0-167h0m0-127h0m0 166h0m0-17h0m1 138h0m0-97h0m0-24h0m0 14h0m0-22h0m0-55h0m1 91h0m0-301h0m0 270h0m1-34h0m0-87h0m0-81h0m0 258h0m0 20h0m1-92h0m0-27h0m0 62h0m0-5h0m0-58h0m1 148h0m1-86h0m0 10h0m1 27h0m0 30h0m1-90h0m2 137h0m12-162h0m0-61h0m1 80h0m1 24h0m1 19h0m0 86h0m0-144h0m1-67h0m1 131h0m0 16h0m2 13h0m1-127h0m0 62h0m0-35h0m0 3h0m2 36h0m1-103h0m0 222h0m3-143h0m3-152h0m1 147h0m0-129h0m0 134h0m0-51h0m1-27h0m0 134h0m1-206h0m0-14h0m1 123h0m1-31h0m1 34h0m0-47h0m1 52h0m0-78h0m0 133h0m1-18h0m1-57h0m1 96h0m1-78h0m4-136h0m1 195h0m5-137h0m1-38h0m1 72h0m0 145h0m1-49h0m1-243h0m0 211h0m1-273h0m0 265h0m0 115h0m1-125h0m0-12h0m1 41h0m0-19h0m0-195h0m1 240h0m2-139h0m0 52h0m0-76h0m0 65h0m1-53h0m0-23h0m0-57h0m0 48h0m0 60h0m0 128h0m2-44h0m1-82h0m6-65h0m0 183h0m1-131h0m1 2h0m1 204h0m1-189h0m0 111h0m1 33h0m0-176h0m1 58h0m0 0h0m0-22h0m1 56h0m0-129h0m0 94h0m1-29h0m0 105h0m0-122h0m1 24h0m0 31h0m1 60h0m2-120h0m1-97h0m0 143h0m9 10h0m3-75h0m1 206h0m0 17h0m1-234h0m0 159h0m0-19h0m0-40h0m1-16h0m0-12h0m1 36h0m0 5h0m0-13h0m1-38h0m0 39h0m1 19h0m0-122h0m2 176h0m0-73h0m0-52h0m0-57h0m0 120h0m0-102h0m1 109h0m1 118h0m0-124h0m1-117h0m0-16h0m1 208h0m1-193h0m2 133h0m0 101h0m6-251h0m3 196h0m1-112h0m1 80h0m0-212h0m1 97h0m0-57h0m1 270h0m0-62h0m0-90h0m0-93h0m0 139h0m1-194h0m0 164h0m1-17h0m0 16h0m0-214h0m0 221h0m0-2h0m0-205h0m1 55h0m0 90h0m0-75h0m0 188h0m1-258h0m1 338h0m1-372h0m0 244h0m0 54h0m0-263h0m0-42h0m1 32h0m0 121h0m0 121h0m0 1h0m0-84h0m1 117h0m11 101h0m5-24h0m1-6h0m1 19h0m0 29h0m0 2h0m2-36h0m0 2h0m1 79h0m0-133h0m0 77h0m0-53h0m0 44h0m1-43h0m1 16h0m0-30h0m0 96h0m0-161h0m1 109h0m0 63h0m3-22h0m1-88h0m0 53h0m4 5h0m1-59h0m3 103h0m1 17h0m0-224h0m0-34h0m1 234h0m1-11h0m0 15h0m0-151h0m1 115h0m0-172h0m0 206h0m1-50h0m0-38h0m1 105h0m0-220h0m0-38h0m0 60h0m0 147h0m0-101h0m0-124h0m0 121h0m0 179h0m1-15h0m0-247h0m0 230h0m1-66h0m0-46h0m1 38h0m0 20h0m0-70h0m0-126h0m0 179h0m1 66h0m0-16h0m0-83h0m0 132h0m0-97h0m1 22h0m1-149h0m2 129h0m1-62h0m12-102h0m1 128h0m3 70h0m0-35h0m1 60h0m0 10h0m0-91h0m0 77h0m1-170h0m1 100h0m0-35h0m1 189h0m0-149h0m1 20h0m1-16h0m0 93h0m1 21h0m1-256h0m1 126h0m0-14h0m2 21h0m1 86h0m1 58h0m0-106h0m1 130h0m0 0h0m1-162h0m2 140h0m0-51h0m0 28h0m1 5h0m0-23h0m0-41h0m1-69h0m1 121h0m0-45h0m1 59h0m0-47h0m0-55h0m1-11h0m0-62h0m0-76h0m0 109h0m0 88h0m1 83h0m0-6h0m1-86h0m2-48h0m0 149h0m1-105h0m0 9h0m2-151h0m9 71h0m1 111h0m1-46h0m0-31h0m1-64h0m0-3h0m2 26h0m1-32h0m0 41h0m0-59h0m1 62h0m0-4h0m1 92h0m1-43h0m0-41h0m0 36h0m0-100h0m0 174h0m1-100h0m0 34h0m1 98h0m0-171h0m0-32h0m0 140h0m0-118h0m0 95h0m1 23h0m0-147h0m0 50h0m1 112h0m1-115h0m0 7h0m0-1h0m1-55h0m11 83h0m1-81h0m3 120h0m1 1h0m1-64h0m0 101h0m0-216h0m0 238h0m1-177h0m0-9h0m0 163h0m1 33h0m0-82h0m0-22h0m1 116h0m1-137h0m0-60h0m0-36h0m0 75h0m0-68h0m1 39h0m0 103h0m0-60h0m0-148h0m0 97h0m0 120h0m1-81h0m0-99h0m0 133h0m0-46h0m1-1h0m1 3h0m0 8h0m0 9h0m1 20h0m0-37h0m0 31h0m0 28h0m0-66h0m0 98h0m0-192h0m1 74h0m1 189h0m15-90h0m1 108h0m3-77h0m2-115h0m0 82h0m0 40h0m0 10h0m1 62h0m0-90h0m0-128h0m1 153h0m1 35h0m0-32h0m0-72h0m0 157h0m1-19h0m0-174h0m0-33h0m1-28h0m1 186h0m1 19h0m0-76h0m0-13h0m0-35h0m0 119h0m1-138h0m0 96h0m0 44h0m0-175h0m0 44h0m1-26h0m0 171h0m1-140h0m2 53h0m0 13h0m0-99h0m2 89h0m1 31h0m1-241h0m0 149h0m2-38h0m0 204h0m0-217h0m0 55h0m0-170h0m1 113h0m1 254h0m0-281h0m0 81h0m1-81h0m0 53h0m0 101h0m0-168h0m1 303h0m0-235h0m0-77h0m1 109h0m1-15h0m0-178h0m0 163h0m0 184h0m0-58h0m0-168h0m1 33h0m0 11h0m0 113h0m0-52h0m1-20h0m0 0h0m0 90h0m1-65h0m2 126h0m0-57h0m5-186h0m1-223h0m2 147h0m1 73h0m0-82h0m1 89h0m0-51h0m0 87h0m0-105h0m1 55h0m0 46h0m1-40h0m0 23h0m0-93h0m1 243h0m0-19h0m0-231h0m0-33h0m0 219h0m1 3h0m0-125h0m1 106h0m1-85h0m0 51h0m1-252h0m0 224h0m0 55h0m1-215h0m0 292h0m0-47h0m1-102h0m0 85h0m1-185h0m1 97h0m1 137h0m0-79h0m0 33h0m1-94h0m8 19h0m2-22h0m2-3h0m1-43h0m0 130h0m1 35h0m0-28h0m0-2h0m0 64h0m1 22h0m0-28h0m0-38h0m0-155h0m1 45h0m0 91h0m1 55h0m0-39h0m0 65h0m0-20h0m1-187h0m0 83h0m0 112h0m1-25h0m1-24h0m0 6h0m1-27h0m0-91h0m1 192h0m0-5h0m1-161h0m0-66h0m0 183h0m1 20h0m0-101h0m0 108h0m2-94h0m12-17h0m3 170h0m1-110h0m1 2h0m0-19h0m1 116h0m1-213h0m1 136h0m0-168h0m1 182h0m1-199h0m0 113h0m0 175h0m1-148h0m0-151h0m0 129h0m0 45h0m0 67h0m0-43h0m2 47h0m0-128h0m0-148h0m1 103h0m2 47h0m2 43h0m0-111h0m1 116h0m5 44h0m2-31h0m1-91h0m0-4h0m1-31h0m0 51h0m1-12h0m1 155h0m0-179h0m0 113h0m0 108h0m1-123h0m0 59h0m1-236h0m0 87h0m0 118h0m0-32h0m0-58h0m1 35h0m0 80h0m0-73h0m0-31h0m0 3h0m1 154h0m0-135h0m1-171h0m0 63h0m0 73h0m0-33h0m2 137h0m0-103h0m0 38h0m1 10h0m0 65h0m0-251h0m3 174h0m0-60h0m1 59h0m10-42h0m0-163h0m0-115h0m2 31h0m1 8h0m1-13h0m1-52h0m0 361h0m0 39h0m1-59h0m0 22h0m0-274h0m0 171h0m0 54h0m1-28h0m1-11h0m1-275h0m0 404h0m0-163h0m0-4h0m0 99h0m0-80h0m1 73h0m0-30h0m0 33h0m1-25h0m0 6h0m1-120h0m0 53h0m0 115h0m0-131h0m0 1h0m0-75h0m1 135h0m3 37h0m1-1h0m0-101h0m2-61h0m0-2h0m1 191h0m1-34h0m7 101h0m0 22h0m2-63h0m3-80h0m0 168h0m0-65h0m1-86h0m0 57h0m0-70h0m0 128h0m0-77h0m1-6h0m0-186h0m0 198h0m0-58h0m0 148h0m0-19h0m1-154h0m0 79h0m0-154h0m0 189h0m0 8h0m0-257h0m0 135h0m1-132h0m0 194h0m0-188h0m0 105h0m0 184h0m0-164h0m0 166h0m1-226h0m0-135h0m0 342h0m1-210h0m0 4h0m0 12h0m0 126h0m0 29h0m0-63h0m0 45h0m1 25h0m1-20h0m0-339h0m0 319h0m0 23h0m1 100h0m0-55h0m0-56h0m0 6h0m0-17h0m1-97h0m0 180h0m0-27h0m1 47h0m0 10h0m0-30h0m1 34h0m0-86h0m0 40h0m0 46h0m0-11h0m1-37h0m0-12h0m0 77h0m0-97h0m0 5h0m1 106h0m1-66h0m0 24h0m1-75h0m0 53h0m0 74h0m0-203h0m0 130h0m1-43h0m0 29h0m1-135h0m3 79h0m7-15h0m2 127h0m0-200h0m1 142h0m2 6h0m0-194h0m0 158h0m1 10h0m0 16h0m1-50h0m0 20h0m0-38h0m0 29h0m1 74h0m0-41h0m1-115h0m0 69h0m0 73h0m1 47h0m0-250h0m0 137h0m0 97h0m1 16h0m0-180h0m1 139h0m1-43h0m0 62h0m0-75h0m0-100h0m1 106h0m0-19h0m0 64h0m0 71h0m1-258h0m1 144h0m1 39h0m1 46h0m0-20h0m2-395h0m1 84h0m3-130h0m2-12h0m0 121h0m0 167h0m3-43h0m0 246h0m0-455h0m1 340h0m1 82h0m1-114h0m0 96h0m1-10h0m0-23h0m0 11h0m0-10h0m1 37h0m0 63h0m1-92h0m0 8h0m2 25h0m0 1h0m1-22h0m0-50h0m1-83h0m1 16h0m7-41h0m0 149h0m0 60h0m1-237h0m1 245h0m0-142h0m1-60h0m1 107h0m1 35h0m0-65h0m0-47h0m0 103h0m0-111h0m0 4h0m1-8h0m0 150h0m0 46h0m0-172h0m0 69h0m1-63h0m0 159h0m0-66h0m1-88h0m0 62h0m0-2h0m1-16h0m0-1h0m0 14h0m1-133h0m0 85h0m0 136h0m0-132h0m1 133h0m0-18h0m0-46h0m0-28h0m0-20h0m0-88h0m1 38h0m1-81h0m0 29h0m0-53h0m2 0h0m0 142h0m1 81h0m0-93h0m1 24h0m0 26h0m1-32h0m1-208h0m0 124h0m0 80h0m0 34h0m1-92h0m0-42h0m0 195h0m1-161h0m0 10h0m0 31h0m1 116h0m0-7h0m1-137h0m0-85h0m0 119h0m1-54h0m1 169h0m0-200h0m0 177h0m1-149h0m0 112h0m0-19h0m1-28h0m0-77h0m0 11h0m1 81h0m0-84h0m2 124h0m10-215h0m3 221h0m1 22h0m1-153h0m0-19h0m0 10h0m1 107h0m0-68h0m0-10h0m0 16h0m0 130h0m1 47h0m0-200h0m0 170h0m1-132h0m0-141h0m1 91h0m0 26h0m1-137h0m0 144h0m0 74h0m1-91h0m0-62h0m1 158h0m0-27h0m0 21h0m0-17h0m0-174h0m0 55h0m0 34h0m1 187h0m0-133h0m1-85h0m0 121h0m0-173h0m0 26h0m0 98h0m2-41h0m10 134h0m1-223h0m2 172h0m2-57h0m0 21h0m0-80h0m1 93h0m0 7h0m1-29h0m0-34h0m0-9h0m0-73h0m0 214h0m0 58h0m1-174h0m0 37h0m0-140h0m0 97h0m0 74h0m0-36h0m1 26h0m0-28h0m0-52h0m0 22h0m0 162h0m1-46h0m0-95h0m1-120h0m0 5h0m0-5h0m0 167h0m0-90h0m1 106h0m0 15h0m1-153h0m1 59h0m1 94h0m1-86h0m2-4h0m1 147h0m10-55h0m1-173h0m0 96h0m1-6h0m0 91h0m0-131h0m2-2h0m0-4h0m1 74h0m0-54h0m0 15h0m1-4h0m1-82h0m0 128h0m0-65h0m0-114h0m1 128h0m0 129h0m1-190h0m0 222h0m1-96h0m1-12h0m0 49h0m0-25h0m1-40h0m0-40h0m0-22h0m0-12h0m0 21h0m0 198h0m1-161h0m0-68h0m1 21h0m0 161h0m0-23h0m0 14h0m1-27h0m3 127h0m3-107h0m1 1h0m1 99h0m0-225h0m0 197h0m1-152h0m0 161h0m0-30h0m1-94h0m0 93h0m0-18h0m1-28h0m0 23h0m0-88h0m0 166h0m1-85h0m0-72h0m1 43h0m0 68h0m0-120h0m0 155h0m2-102h0m0 24h0m1-41h0m0 33h0m0 92h0m1-130h0m1 81h0m2-68h0m0-86h0m9 104h0m1-19h0m3 127h0m1-203h0m1 84h0m0 66h0m0-124h0m1 133h0m1-2h0m0 36h0m0-38h0m0-89h0m0 29h0m1 82h0m0-23h0m0-112h0m0 137h0m0-39h0m1-12h0m0-54h0m0 78h0m2-1h0m0-105h0m0 152h0m0-71h0m1 21h0m0 20h0m0-158h0m0-8h0m0 130h0m1-27h0m0-133h0m0 124h0m0-32h0m0 71h0m1 17h0m0-64h0m1 8h0m1 21h0m1 26h0m0-129h0m1 62h0m0 46h0m3 29h0m1-224h0m3-4h0m0-50h0m1 5h0m2 34h0m0 165h0m0-124h0m0 65h0m1-46h0m0-134h0m1 95h0m0-41h0m1 18h0m0 151h0m0-89h0m0 0h0m1-67h0m0 41h0m0 121h0m1-195h0m0-33h0m0-66h0m1 307h0m0-210h0m0 214h0m1-265h0m0 80h0m1 94h0m0-55h0m0-140h0m0 152h0m1-142h0m0-23h0m0 138h0m1-19h0m0 9h0m1-57h0m1 154h0m2-134h0m0 74h0m4-275h0m2-25h0m0 268h0m1-209h0m2 147h0m0 96h0m1-2h0m0-130h0m1 37h0m0 150h0m0-42h0m0-291h0m0 258h0m0-59h0m1 146h0m1 34h0m1-57h0m1-57h0m1-30h0m1-250h0m0 78h0m1 162h0m1 18h0m1-270h0m1 281h0m1 72h0m0-23h0m1-223h0m0 177h0m2 66h0m0 88h0m1-239h0m1 60h0m1 149h0m0-34h0m1-339h0m1 261h0m0-9h0m0 47h0m0 35h0m0 15h0m0-27h0m1-183h0m0 45h0m0-64h0m1 149h0m0-234h0m1 135h0m0-146h0m1 179h0m0 186h0m0-320h0m0-20h0m1 370h0m0-106h0m0-9h0m1-64h0m1 184h0m0-193h0m0-185h0m0 307h0m1-80h0m1 122h0m8-204h0m1 62h0m1-152h0m1 157h0m1 12h0m0-88h0m1 39h0m0 12h0m0-1h0m1-11h0m0 45h0m0-145h0m1 178h0m0-7h0m0-156h0m1 78h0m0-69h0m0-29h0m0 140h0m0-52h0m0-52h0m1 92h0m1-85h0m0 5h0m1 82h0m0-113h0m1 5h0m0 103h0m0-23h0m1-148h0m1 168h0m0-75h0m0 40h0m0-14h0m0-99h0m0-1h0m1 234h0m2-152h0m0 26h0m1 150h0m1 66h0m0-163h0m1 34h0m1 45h0m1-105h0m0 160h0m1-28h0m0-94h0m1 92h0m0-76h0m1-184h0m1 154h0m0 49h0m0 8h0m0-3h0m0 32h0m0 25h0m0 51h0m1-273h0m1 250h0m0-132h0m0-170h0m1 21h0m0 232h0m1-52h0m0 85h0m1-32h0m0 60h0m1-152h0m3 77h0m4 98h0m2-65h0m2 101h0m0-65h0m1-19h0m0 87h0m0-86h0m1-12h0m0 23h0m1-84h0m0 146h0m0-209h0m0 122h0m0 4h0m1 43h0m1 36h0m2-72h0m0-83h0m0 72h0m0-85h0m1 68h0m7 96h0m2-179h0m1 34h0m1 107h0m3 37h0m1-38h0m0 18h0m1-42h0m1 32h0m1-163h0m0 62h0m0 34h0m1-87h0m0 134h0m0 43h0m0-17h0m1-84h0m0-30h0m0 83h0m0 17h0m0-17h0m0-2h0m2-25h0m0 7h0m3 30h0m0-30h0m3-47h0m8 51h0m0-86h0m0 58h0m0-97h0m0 32h0m1 85h0m0-62h0m0-94h0m0 179h0m0-147h0m0 183h0m1-99h0m0 14h0m1-72h0m0-24h0m1 75h0m0 13h0m0-15h0m0-55h0m0 32h0m0-11h0m2 22h0m0 16h0m0-21h0m1 62h0m0 12h0m0-111h0m1 81h0m1 52h0m0-39h0m0 59h0m0-61h0m1 45h0m0-162h0m2 31h0m0-2h0m0 150h0m0-142h0m9-2h0m2 22h0m3-46h0m0 101h0m0 7h0m1 98h0m0-184h0m0-60h0m0 171h0m0-46h0m1-7h0m0-73h0m1 141h0m0-52h0m0-41h0m0 39h0m1-51h0m0 37h0m0-3h0m1-52h0m0 41h0m1 29h0m0-63h0m1-31h0m0 21h0m0 7h0m0 7h0m1 10h0m0 55h0m0-40h0m0-77h0m0 48h0m0 25h0m1 75h0m2-90h0m2 111h0m0 53h0m0-143h0m18 95h0m0-23h0m2 73h0m0 29h0m0-159h0m1-4h0m0-98h0m0 104h0m0-8h0m0-70h0m1 192h0m0-177h0m0-27h0m1 88h0m0 6h0m0-11h0m2 43h0m0-151h0m0 51h0m0 203h0m3-141h0m1 144h0m0-188h0m3 95h0m1 28h0m0 1h0m0-169h0m1 98h0m1 29h0m1 31h0m1-26h0m0-64h0m0-20h0m0-27h0m1 15h0m1 11h0m1 132h0m0-71h0m0 46h0m0-7h0m0 67h0m1 16h0m0-96h0m0-102h0m0 192h0m1-83h0m1-4h0m0-40h0m0 142h0m0-94h0m0-149h0m1 72h0m0 127h0m0-187h0m0 23h0m0-134h0m0 224h0m0 32h0m0-49h0m1-133h0m0 87h0m0-143h0m1 212h0m0 72h0m1-129h0m1 134h0m0-195h0m0-71h0m0 57h0m1 48h0m0 165h0m0-176h0m0-61h0m0-68h0m0 244h0m1-59h0m0-189h0m0-46h0m0 108h0m0 9h0m0-31h0m1 53h0m0 171h0m0-140h0m1-79h0m0 151h0m0 87h0m0-184h0m0-13h0m1-55h0m1 14h0m0 10h0m0 141h0m0-132h0m1 75h0m1 1h0m16-133h0m0 89h0m1 18h0m1-57h0m1 9h0m0 85h0m1 52h0m1-103h0m1-2h0m0-178h0m0 206h0m0 222h0m1-183h0m0-129h0m1 169h0m1-13h0m1-92h0m0-33h0m1 229h0m0-160h0m1 131h0m0 23h0m1-328h0m1 289h0m0-1h0m0-41h0m0-204h0m0 0h0m0-63h0m1 135h0m0 119h0m8-214h0m0 260h0m0-135h0m1-25h0m2 53h0m0-179h0m0 262h0m0 39h0m1-190h0m1 110h0m0 6h0m1-8h0m0-53h0m1-1h0m1 12h0m0-200h0m0 166h0m0-16h0m1-75h0m1-86h0m0 25h0m0 346h0m1-220h0m0-227h0m0 92h0m1 257h0m1-197h0m0 213h0m2-258h0m2 259h0m1-57h0m3-29h0m1 195h0m1-40h0m0 42h0m4-257h0m1 6h0m0 17h0m0-21h0m0-117h0m0 97h0m1-31h0m1 288h0m1-19h0m0-64h0m0-125h0m1 92h0m0 30h0m0-32h0m1 87h0m0 1h0m0-209h0m1 70h0m0-13h0m0-131h0m1 37h0m1 15h0m0 112h0m1 144h0m0-227h0m1 42h0m2-119h0m1 220h0m0-98h0m0-54h0m0-142h0m0 117h0m1 87h0m1-164h0m0 29h0m0 136h0m1-191h0m0 50h0m2 7h0m1-76h0m0 54h0m1 29h0m0 9h0m1-39h0m4-4h0m0-9h0m4-7h0m1 84h0m1 32h0m0-115h0m1 150h0m0-164h0m0 39h0m0-77h0m0 43h0m1 23h0m0 32h0m0-83h0m1-96h0m0 179h0m0-50h0m1-115h0m0 51h0m0 173h0m0-117h0m0 68h0m3-127h0m0 176h0m1 0h0m0 100h0m1-193h0m0 101h0m1-95h0m4 84h0m11-112h0m1 36h0m0 49h0m0-183h0m1-21h0m1 178h0m0 122h0m2-36h0m0-252h0m1 168h0m0 81h0m0-40h0m1 27h0m3-86h0m1-76h0m0 204h0m0-262h0m1 137h0m0 17h0m2 19h0m2-43h0m0-49h0m1 66h0m0-71h0m1-42h0m1 64h0m2-16h0m1-25h0m0 2h0m0 34h0m0 57h0m1-172h0m0 136h0m0 25h0m1-6h0m0-137h0m0 99h0m0 28h0m1-67h0m0 123h0m0-72h0m0-29h0m1 16h0m0-93h0m1 79h0m0 17h0m1 0h0m0-37h0m0-64h0m1 195h0m1-119h0m1 50h0m13 223h0m0 55h0m0-91h0m2 79h0m0-107h0m0 121h0m1-53h0m1-97h0m0 76h0m0 20h0m0 31h0m1 8h0m0 3h0m1-91h0m1 36h0m0 45h0m1-49h0m0-7h0m0 82h0m0-15h0m2-78h0m0 63h0m1-2h0m0 44h0m1-34h0m1 47h0m0-55h0m13-55h0m1 28h0m1-137h0m0 95h0m1 25h0m0-17h0m1-186h0m1 198h0m0-130h0m1 202h0m0-71h0m0-214h0m0 43h0m0 149h0m2-10h0m0 30h0m0-15h0m0 8h0m1-28h0m0 71h0m1-16h0m0-39h0m0 93h0m1-70h0m0 10h0m2-256h0m0 192h0m1 97h0m0-83h0m2 151h0m0-398h0m1 206h0m1 81h0m2 19h0m0-88h0m0 139h0m1-20h0m0-9h0m0 103h0m0-102h0m0-35h0m1-25h0m1 9h0m0 100h0m0-49h0m0-34h0m0-3h0m0 30h0m1-69h0m1 47h0m0 89h0m0-80h0m0-52h0m0 61h0m0 9h0m1-2h0m0 28h0m0 66h0m1-68h0m0 20h0m0-75h0m0 56h0m1-62h0m0 117h0m1-52h0m0-18h0m1-70h0m0 163h0m1-66h0m1-57h0m1 7h0m1 9h0m11 10h0m0 20h0m3-7h0m1-30h0m0 71h0m0-22h0m1 39h0m0-56h0m0-14h0m0 73h0m1-133h0m1 34h0m0-39h0m0 163h0m0-70h0m1-91h0m0 39h0m0-14h0m0 92h0m1-29h0m0-5h0m0-9h0m1 56h0m0-105h0m1 59h0m0 25h0m0-10h0m0-84h0m1 32h0m0 42h0m1-66h0m1 62h0m0 31h0m2-65h0m1 29h0m1 21h0m2-21h0m25-28h0m0 64h0m1-56h0m0 110h0m0-73h0m1-43h0m1-83h0m0 40h0m0-65h0m0 172h0m1-32h0m0 46h0m0-4h0m1 15h0m0-80h0m1 51h0m0-138h0m1 114h0m0 90h0m0-170h0m1-74h0m0 117h0m1-14h0m0 47h0m0 66h0m1-257h0m0 129h0m0 129h0m0-240h0m0 121h0m0 62h0m2 167h0m0-209h0m1-22h0m0 29h0m0-57h0m0 56h0m2-26h0m11 30h0m2-18h0m0 104h0m1-124h0m1 130h0m0-125h0m0 209h0m1-59h0m0-47h0m0-166h0m1 60h0m0 17h0m0 198h0m1-86h0m0-57h0m0 48h0m0-138h0m0 224h0m1-306h0m0 136h0m0 131h0m0-198h0m1-37h0m0-38h0m0 170h0m3-5h0m0 27h0m0-87h0m1-14h0m2 99h0m10-32h0m2 24h0m1-221h0m0-27h0m0 103h0m0 109h0m1 6h0m1 53h0m1-273h0m0 237h0m1-149h0m0 30h0m0 14h0m0 85h0m1 89h0m1-41h0m0 56h0m1-177h0m0 82h0m0-15h0m1 14h0m0-25h0m2 20h0m0-153h0m2 145h0m4-145h0m5 235h0m1 5h0m1-63h0m1 55h0m1-137h0m0 52h0m0 114h0m1-162h0m1 84h0m0 149h0m0-96h0m1 22h0m0-136h0m0 91h0m0 98h0m1-78h0m0-63h0m0 159h0m0-260h0m0 163h0m0-125h0m2-159h0m0 287h0m0 6h0m1-93h0m0-65h0m0 83h0m0-227h0m0-46h0m0 279h0m0-337h0m0 266h0m1-65h0m1 255h0m0-78h0m0-141h0m0 182h0m0-108h0m1 103h0m0-37h0m0-79h0m0-288h0m0 256h0m1-171h0m1 37h0m1 324h0m1-331h0m1 108h0m1 82h0m1-49h0m1-79h0m2 126h0m0-405h0m0 389h0m0 38h0m1-253h0m0 203h0m0 64h0m1-39h0m0-233h0m0 184h0m1-6h0m0-174h0m0-129h0m0 359h0m0 16h0m1 1h0m0-155h0m0 104h0m0 33h0m1-346h0m0 316h0m1-341h0m1 324h0m0 3h0m0-296h0m1 385h0m0-61h0m1 29h0m0-242h0m4 66h0m4 95h0m0 24h0m2-41h0m2 199h0m0-263h0m0 69h0m0-91h0m1 71h0m0 79h0m0-101h0m0-49h0m0 184h0m0 4h0m1 34h0m0-158h0m0 149h0m0-62h0m1-99h0m0 161h0m1-201h0m0 155h0m1-66h0m0 102h0m0-125h0m0-4h0m0 94h0m0 18h0m1-91h0m1-16h0m2 9h0m6 155h0m0-49h0m2-208h0m1 214h0m1-38h0m1-103h0m0 30h0m1 73h0m0-125h0m0 204h0m1-171h0m0 51h0m2-76h0m0 152h0m0-225h0m1 101h0m1-115h0m2 205h0m2-19h0m1-106h0m3 137h0m0 51h0m2-87h0m0-36h0m1 45h0m1-73h0m1 62h0m0 79h0m0-92h0m0-41h0m1 75h0m0-68h0m0 100h0m0-68h0m0 83h0m1-58h0m0-74h0m1 68h0m1 115h0m0-224h0m0 26h0m1 6h0m0 36h0m1 191h0m0-213h0m1-24h0m1-41h0m2-35h0m1 213h0m12-160h0m1 33h0m1 109h0m2-107h0m1 107h0m0-3h0m0-380h0m0 22h0m1-17h0m0 412h0m0-112h0m0-248h0m1-54h0m0 320h0m0-225h0m1 287h0m0-247h0m0 354h0m0-92h0m1-96h0m0 91h0m1-67h0m0-174h0m0 77h0m0 206h0m0-90h0m1 67h0m0 10h0m0-127h0m1-75h0m0 42h0m1-73h0m1 107h0m0 94h0m4 58h0m2-154h0m15-141h0m0 23h0m0 82h0m2-59h0m0-44h0m1-3h0m0-87h0m0 189h0m2-92h0m0 65h0m1-82h0m0 134h0m1-136h0m0 124h0m0-27h0m1-85h0m0 150h0m0-96h0m0-145h0m1 203h0m0-15h0m1-69h0m0 75h0m1-130h0m0-42h0m0-39h0m1 33h0m7 20h0m0 181h0m1-114h0m0 134h0m1-101h0m1 0h0m0-151h0m0 152h0m1 14h0m0-36h0m0 35h0m1 104h0m0 23h0m1-87h0m0-89h0m0 197h0m0-235h0m0 117h0m0-99h0m1 70h0m0-18h0m0-13h0m0-3h0m0 20h0m0-41h0m0 106h0m1-33h0m0-162h0m0 37h0m0 61h0m0 14h0m1 173h0m0-186h0m1 6h0m0-97h0m0 89h0m0 105h0m0-23h0m0-125h0m1 46h0m1-60h0m1 99h0m1 2h0m0-21h0m1-57h0m0 75h0m3-54h0m16 169h0m1-8h0m0-4h0m1 80h0m0 47h0m0-3h0m0-64h0m0-138h0m2 165h0m0-176h0m0 1h0m1 93h0m0 59h0m0-30h0m1 91h0m0 43h0m1-108h0m1-159h0m1 59h0m0 71h0m0-20h0m2-83h0m1 164h0m0 80h0m1-40h0m2-52h0m0-243h0m2 154h0m0 82h0m1 64h0m0-294h0m0 59h0m1 39h0m0 135h0m0 114h0m1-106h0m0-363h0m2 248h0m0-2h0m0-66h0m0 82h0m0 115h0m1 52h0m0-24h0m0-438h0m0 90h0m0 105h0m1 58h0m0 158h0m0-159h0m0-145h0m1-109h0m0 512h0m0-318h0m0 179h0m0 24h0m0-194h0m0 76h0m0-1h0m1 181h0m0-445h0m1 393h0m0-171h0m0 214h0m1-397h0m0 346h0m0 40h0m0-124h0m0 57h0m1-208h0m1 215h0m0-48h0m1-7h0m1 4h0m2-112h0m13 179h0m0-52h0m3-142h0m0 94h0m0-156h0m1 106h0m1 13h0m0 113h0m1-33h0m1-132h0m0 91h0m0-99h0m1 184h0m0 156h0m1-198h0m0-65h0m0-104h0m0 180h0m1-93h0m0-144h0m1 77h0m0 280h0m4-140h0m1-49h0m5 5h0m0 161h0m1-80h0m1-187h0m0 99h0m0 132h0m1-100h0m0 38h0m1-35h0m0 19h0m0 57h0m0-80h0m1-55h0m0 227h0m0-222h0m1 181h0m1-172h0m0 90h0m0-82h0m0-7h0m1-3h0m0-42h0m0 208h0m0-64h0m1-85h0m0 106h0m0-95h0m0 58h0m1-155h0m2 117h0m3-157h0m11 97h0m1-84h0m0 101h0m3-126h0m0-53h0m1 232h0m0-205h0m1 158h0m0-74h0m0 26h0m0 112h0m1-13h0m0-117h0m0-8h0m0 14h0m1 34h0m0-73h0m1-62h0m0 87h0m2 22h0m1 66h0m0-181h0m3 149h0m1 43h0m0 33h0m2-80h0m1-83h0m1-24h0m1 84h0m1-110h0m0-46h0m0 205h0m1 17h0m0-7h0m1-126h0m0-40h0m1 34h0m0 81h0m0-178h0m1 110h0m0 19h0m1 152h0m0-191h0m0-38h0m0 132h0m0-105h0m0 65h0m0-165h0m0 261h0m1-135h0m0-11h0m0-124h0m0 56h0m0 99h0m1 51h0m0-32h0m1-2h0m0 13h0m0 43h0m0 108h0m0-126h0m1-100h0m1-18h0m0 127h0m1-90h0m0 78h0m1 24h0m13-1h0m0 63h0m2-162h0m1 3h0m1-117h0m0 14h0m1 144h0m0 89h0m0-134h0m1-108h0m0 169h0m0-45h0m1 0h0m0 7h0m0 118h0m1-31h0m1-195h0m0 123h0m0-31h0m0 69h0m0-105h0m0 56h0m0-10h0m1-64h0m1 10h0m0 32h0m0 15h0m0 145h0m1-16h0m1-71h0m1 72h0m0-129h0m0 1h0m0 178h0m1-33h0m2-26h0m2 41h0m0-38h0m0 116h0m0-71h0m0-71h0m1 75h0m1 136h0m0-155h0m1-25h0m0 69h0m0 142h0m0-184h0m1 48h0m0-35h0m1 146h0m0-146h0m0 68h0m0-164h0m1 155h0m0 91h0m2-37h0m2-124h0m0 59h0m7-76h0m1-2h0m0-24h0m0-6h0m1 154h0m0-176h0m1 150h0m0-163h0m1 168h0m0-26h0m0-1h0m0-62h0m1 42h0m0 61h0m0-73h0m1-17h0m0 9h0m0 1h0m0 35h0m0-153h0m1 80h0m0 61h0m0 15h0m0 47h0m1-203h0m1 187h0m0-41h0m0 3h0m0-83h0m0-12h0m1 105h0m2-92h0m0 37h0m0 8h0m2 77h0m2-15h0m13 15h0m1-126h0m0 82h0m0-38h0m1 82h0m1-296h0m0 146h0m0 127h0m1-79h0m1 24h0m0 28h0m0-32h0m0 54h0m1-1h0m0-230h0m1 237h0m0-171h0m1 88h0m0-132h0m0 199h0m0-85h0m1 126h0m0-9h0m0-244h0m0 182h0m1 29h0m1-55h0m0-220h0m0 53h0m0 228h0m0-34h0m0-65h0m0 104h0m1-90h0m0-50h0m0-52h0m0 72h0m0 65h0m1 12h0m0-37h0m1-1h0m0 31h0m0-16h0m16-93h0m1 94h0m0 22h0m0-54h0m1 27h0m0 0h0m1-34h0m0-8h0m1 48h0m0 47h0m0-56h0m1-6h0m0 83h0m0-46h0m0-53h0m0-16h0m1 49h0m1 93h0m1-26h0m0-123h0m1-32h0m1 124h0m0-24h0m1 9h0m4 34h0m5 6h0m4 43h0m0-199h0m1 197h0m0-3h0m0-91h0m0 3h0m1 79h0m0-146h0m0 52h0m1 16h0m0 94h0m1-108h0m0 30h0m0-8h0m1-5h0m0-72h0m0 84h0m0 77h0m1-71h0m0 92h0m0-237h0m0 131h0m0-80h0m1 75h0m0 6h0m0 6h0m1-143h0m0 176h0m0 25h0m0-48h0m0-32h0m0 55h0m0-229h0m0 159h0m0 31h0m1 20h0m1-20h0m0 70h0m0-187h0m1 83h0m0-163h0m1 98h0m0-17h0m0 55h0m0 36h0m1-23h0m0-186h0m0 182h0m0 47h0m0-119h0m1 27h0m1 93h0m0-209h0m0 56h0m1 150h0m0-149h0m0 13h0m0-49h0m0 138h0m0 53h0m1-71h0m1-67h0m1-47h0m1 83h0m1 33h0m15-130h0m6 174h0m0-73h0m0 18h0m0-64h0m0-75h0m1 24h0m0 41h0m0 142h0m0-179h0m1 86h0m1 128h0m0-86h0m0 64h0m2-166h0m0 130h0m0 101h0m0 7h0m0-279h0m1 238h0m0-101h0m2 39h0m0 58h0m0-136h0m1 70h0m63 32h0m2 161h0m2-192h0m0-121h0m2 246h0m0-88h0m1 113h0m1-161h0m2-62h0m0 275h0m0-198h0m1 56h0m0 97h0m0 34h0m0-233h0m1 170h0m1 22h0m0-189h0m1 30h0m0 90h0m0 28h0m3 71h0m0-134h0m1 65h0m1-96h0m11 38h0m0 49h0m1-109h0m1 63h0m0 33h0m0-187h0m1 150h0m0 52h0m1-84h0m0 93h0m0-78h0m0 110h0m1-27h0m0-50h0m1-6h0m0-4h0m1 57h0m0-31h0m0 110h0m0-228h0m1 63h0m4 148h0m0-40h0m1-145h0m2 107h0m1 3h0m1-45h0m1-62h0m0 134h0m0-50h0m1 53h0m0-35h0m0-90h0m0-21h0m0 87h0m0-52h0m1 81h0m0-59h0m0-54h0m1-70h0m0 239h0m0-164h0m1-213h0m0 277h0m0-248h0m1 260h0m0 10h0m0-244h0m0 293h0m0-22h0m1 19h0m1-328h0m0 184h0m1 94h0m0 50h0m0-58h0m0 38h0m2-68h0m1-14h0m1-15h0m0-51h0m12-57h0m2 256h0m1-147h0m0 14h0m1 20h0m0 128h0m0-5h0m0-150h0m0 24h0m1 41h0m0-46h0m0 15h0m0-40h0m1-32h0m0 162h0m1-108h0m0-25h0m0 15h0m0-143h0m0 90h0m1 184h0m0-31h0m0 7h0m0-119h0m1-37h0m0 23h0m0-2h0m0-140h0m0 99h0m1 182h0m0-294h0m0 183h0m1-55h0m1 76h0m0 154h0m0-178h0m0 194h0m0-174h0m1 20h0m1-89h0m0-73h0m0 281h0m0-120h0m3 99h0m12-247h0m4-213h0m0 173h0m2 57h0m2 6h0m1-175h0m0 4h0m1 60h0m1-31h0m0 151h0m1-245h0m0 96h0m0 186h0m0-178h0m1 215h0m1-284h0m1 115h0m0-1h0m0 34h0m1-79h0m2-65h0m0-11h0m12 118h0m1-69h0m0 147h0m1-20h0m0-151h0m2 56h0m1 6h0m0 49h0m0 94h0m0 21h0m0-202h0m1-84h0m1 3h0m2 275h0m1-242h0m0 255h0m2 35h0m0 34h0m0-365h0m0 284h0m1 101h0m1 126h0m0-210h0m0-203h0m1 188h0m1 210h0m0-194h0m1 119h0m0-8h0m1-107h0m0 92h0m1-28h0m0 3h0m0-99h0m1 204h0m0 2h0m0-190h0m0 268h0m1-42h0m1-160h0m1-1h0m1 57h0m5-122h0m0 49h0m1 118h0m0-96h0m2-19h0m0 9h0m0 72h0m1 37h0m0-143h0m0 150h0m1-189h0m0-19h0m1 77h0m0 216h0m1-109h0m1-180h0m0 166h0m0-116h0m1 15h0m0-19h0m0 125h0m0-91h0m0 26h0m0 111h0m1 29h0m0-35h0m0-99h0m0-37h0m1 55h0m0-56h0m0 86h0m0-7h0m1-71h0m0 22h0m1-61h0m1 102h0m1 19h0m1-52h0m1-52h0m1-34h0m9 37h0m0 99h0m2 0h0m0-73h0m1-73h0m0 142h0m0-31h0m1-256h0m1 262h0m0-30h0m0 66h0m0-40h0m0-10h0m1 9h0m0-50h0m0-326h0m1 224h0m0-167h0m1 303h0m1-320h0m0 327h0m0 26h0m0-122h0m0 52h0m1 46h0m0-41h0m1-151h0m0 41h0m0 101h0m0 76h0m1-37h0m0 26h0m0-137h0m1 51h0m2 108h0m7-139h0m2 24h0m1-68h0m0 107h0m1-37h0m0 30h0m1-4h0m1-20h0m0-19h0m1 145h0m0-172h0m0 60h0m1-49h0m0-17h0m1 163h0m1-178h0m0 89h0m0-86h0m0 12h0m0 109h0m1 58h0m0-116h0m0 8h0m0 33h0m0-106h0m0 101h0m0-123h0m1 189h0m1-79h0m0-30h0m0-32h0m5 76h0m4-46h0m1 32h0m1-37h0m0-36h0m2-37h0m0 202h0m0-131h0m0 102h0m1-99h0m0 91h0m0-131h0m1 55h0m1 33h0m0-52h0m0 22h0m0-30h0m1 23h0m0-41h0m0 63h0m1-23h0m0 18h0m0 184h0m0-227h0m1 30h0m0 18h0m1-33h0m0-42h0m2 88h0m3-52h0m13 45h0m2-49h0m0 70h0m1-91h0m0 105h0m0 0h0m0-19h0m1 0h0m0 67h0m0-103h0m1 4h0m1 97h0m0-87h0m0 20h0m1 85h0m0-93h0m0-5h0m1 26h0m1-8h0m0 38h0m0-147h0m0 154h0m1-34h0m0-3h0m0-79h0m0-23h0m0 110h0m0-10h0m1-116h0m1 19h0m1 35h0m1-43h0m0 90h0m0-53h0m2 64h0m0-111h0m1 71h0m0-10h0m3-182h0m0 163h0m0 69h0m0-22h0m0 18h0m1-29h0m0-78h0m0 80h0m1-48h0m0-103h0m0 204h0m0-109h0m0 21h0m1 17h0m0-105h0m0-55h0m0 17h0m0 98h0m0 13h0m0-156h0m1 106h0m0 8h0m0-30h0m1-23h0m0 102h0m0-136h0m1 46h0m0 113h0m1 39h0m0 8h0m0 46h0m0-152h0m0 0h0m1-101h0m0 147h0m1 52h0m1 40h0m17-42h0m0 22h0m2-87h0m3 28h0m1 38h0m0-135h0m0 86h0m1 145h0m0-97h0m1-171h0m0 277h0m0-40h0m0-60h0m1 6h0m0-75h0m0 47h0m0-172h0m0 94h0m0 87h0m1 50h0m0-143h0m0 83h0m0-30h0m0-115h0m0-107h0m1 204h0m0 96h0m1-27h0m0-9h0m0 77h0m0-67h0m1-29h0m0 6h0m0 31h0m1-53h0m0 142h0m0-137h0m1 50h0m2-52h0m0 97h0m1-76h0m1-48h0m9 118h0m1-50h0m1-10h0m1 63h0m1-85h0m0 127h0m0-168h0m1 124h0m0 26h0m0-33h0m0 74h0m0-90h0m1 17h0m0 9h0m0-39h0m1 49h0m0-26h0m0-144h0m0 193h0m1-177h0m0 104h0m0 79h0m0-23h0m1-49h0m1-27h0m0 52h0m0-79h0m0 21h0m0 52h0m1-72h0m0 51h0m0-74h0m1 30h0m4 10h0m1 43h0m0 66h0m12-93h0m0-16h0m0 30h0m1 57h0m3-63h0m0-8h0m0-72h0m0 4h0m0 87h0m1-241h0m0-5h0m0 274h0m0-209h0m0 171h0m0-58h0m1 170h0m0-268h0m1 160h0m1-30h0m0-100h0m0 227h0m0-166h0m0 80h0m0 22h0m0-27h0m0-21h0m1-90h0m0 38h0m0-13h0m0 73h0m0-313h0m0 171h0m1 244h0m0-16h0m0-103h0m0-33h0m1-3h0m0 109h0m0-71h0m1 42h0m1-115h0m0 68h0m2-25h0m6-35h0m0-157h0m1 286h0m2-75h0m0-85h0m1-223h0m0 215h0m0-176h0m0 233h0m0-42h0m1-101h0m0 167h0m0-42h0m1 79h0m0-165h0m0 45h0m0-77h0m1 196h0m0-145h0m1 17h0m0 48h0m0-285h0m0 322h0m1-132h0m0 31h0m1-197h0m1 302h0m0-165h0m0 122h0m0-34h0m1-246h0m2 137h0m1 193h0m2 17h0m2-273h0m2 224h0m0 60h0m2 102h0m1-204h0m1 36h0m0 43h0m1-21h0m0 84h0m0-19h0m0 7h0m0-44h0m0-99h0m1 61h0m1 3h0m1-10h0m1-76h0m0 150h0m0-63h0m0 165h0m0-138h0m0 80h0m1-61h0m0 64h0m0-97h0m0 174h0m0-85h0m1-6h0m0-92h0m0-137h0m0 283h0m0-51h0m0-206h0m1 297h0m0 9h0m0-125h0m1-37h0m0-2h0m1 133h0m0-188h0m0 141h0m0-80h0m1-118h0m0 281h0m1-116h0m0-7h0m1 91h0m0-95h0m0-44h0m0 66h0m0 41h0m0 61h0m1-193h0m0 162h0m0-85h0m1 70h0m0-108h0m0 136h0m0 7h0m0-170h0m1 90h0m0 47h0m0-44h0m0 40h0m0-9h0m0 51h0m3-40h0m0 7h0m2 29h0m0-118h0m11-65h0m3 153h0m0-65h0m2-55h0m0 98h0m0 12h0m2 5h0m0 31h0m0-41h0m0-10h0m1 4h0m0-209h0m0 195h0m0-224h0m1 224h0m0-71h0m0 31h0m0 42h0m0 1h0m1 55h0m0-244h0m0 47h0m0 59h0m0-67h0m0 194h0m1-71h0m0-26h0m0 83h0m0 31h0m0-207h0m1 14h0m0 149h0m0-15h0m1-50h0m0-8h0m1 44h0m1-17h0m12-30h0m4 10h0m1-3h0m0 85h0m0-113h0m0 57h0m1-77h0m0 120h0m0-16h0m1 69h0m0-29h0m0-104h0m0-88h0m1 150h0m0-37h0m0 23h0m0-5h0m0 21h0m1-17h0m0 37h0m1 3h0m0-119h0m0 60h0m0 26h0m0 80h0m2-151h0m0-45h0m1 198h0m0-39h0m0-42h0m0 12h0m0-74h0m1 26h0m0-86h0m1 47h0m0 50h0m0-79h0m1 164h0m1-146h0m2-50h0m1 48h0m12 41h0m1-25h0m0 69h0m1 48h0m1-102h0m0 62h0m1-144h0m0 105h0m0-7h0m0 45h0m1 33h0m0-118h0m0 35h0m1-33h0m0 47h0m1 45h0m1-116h0m0 165h0m0-172h0m0 34h0m0-20h0m0 97h0m1-59h0m0 147h0m0-126h0m0-38h0m0 39h0m1-23h0m0 40h0m1-58h0m0 73h0m0-31h0m0 55h0m0-37h0m1-41h0m0 65h0m2 0h0m0-67h0m0 22h0m1-14h0m4 106h0m13-289h0m0 30h0m3-90h0m0 103h0m1-30h0m0-56h0m1 103h0m1 9h0m0-76h0m0 110h0m1 88h0m1 4h0m0-56h0m0-26h0m0-155h0m0 16h0m1 147h0m0-114h0m0 53h0m0 56h0m0-128h0m1 64h0m0 13h0m0-54h0m1 33h0m0 82h0m1 1h0m0-148h0m0 99h0m1 25h0m0 50h0m1-162h0m14 83h0m3 9h0m0-27h0m3 90h0m1-171h0m1 4h0m0 123h0m1 5h0m0-51h0m0-12h0m1 35h0m0-33h0m0-39h0m1-104h0m1 137h0m0 39h0m0-45h0m1 75h0m0-213h0m0 256h0m1-96h0m0-55h0m0 93h0m0 1h0m0-133h0m1 122h0m0 18h0m0-84h0m2-14h0m1 64h0m9-87h0m0 60h0m0-14h0m1-125h0m0 191h0m0-114h0m1 189h0m0-129h0m0 22h0m0 62h0m3-28h0m1-12h0m0 6h0m0 11h0m0-102h0m1 99h0m0-174h0m0 155h0m0-61h0m1-113h0m0 144h0m0 38h0m1-16h0m0 73h0m1 1h0m1-114h0m0 7h0m0 132h0m1-183h0m0 188h0m0-11h0m1-79h0m0-79h0m1-72h0m0 87h0m2 131h0m0-71h0m0-40h0m3 16h0m13 21h0m0 4h0m2 22h0m0 34h0m1-3h0m1-20h0m0 55h0m0-136h0m0 165h0m3-133h0m1 83h0m0-88h0m0 118h0m0 40h0m1 7h0m1-98h0m0-19h0m0-153h0m0 192h0m0 1h0m0-68h0m1 22h0m1 54h0m0-91h0m0 131h0m0-116h0m1-89h0m0 121h0m0-2h0m1-52h0m0-110h0m2 114h0m6-79h0m2 211h0m0-25h0m2-34h0m0 38h0m0-214h0m1 136h0m0-27h0m1-22h0m0 94h0m1-197h0m0 160h0m1 31h0m0-53h0m1-48h0m0 216h0m0-151h0m0-24h0m1 16h0m0-111h0m1 106h0m1-137h0m0-22h0m1 206h0m0-142h0m0 221h0m0-136h0m1 86h0m0-96h0m4 5h0m1 128h0m6-172h0m1 138h0m1-147h0m1 132h0m0-172h0m0 85h0m1-63h0m1-29h0m0 110h0m0-46h0m2-3h0m0-14h0m0 94h0m1-48h0m0 69h0m0-103h0m0 53h0m1-54h0m0-143h0m0 172h0m0 29h0m0-81h0m1-51h0m0 189h0m1-81h0m0-57h0m1-73h0m0 95h0m0-113h0m0 31h0m1 272h0m1-207h0m0-42h0m1 134h0m1-37h0m3-197h0m2-11h0m3 10h0m0-71h0m3 46h0m1 0h0m1 216h0m2 100h0m1-146h0m0 187h0m1-265h0m0-77h0m0 66h0m0 97h0m0-7h0m1 185h0m0-97h0m0-139h0m0-63h0m0 101h0m1 135h0m0-260h0m1 296h0m0-108h0m0-251h0m0 154h0m0 206h0m1-375h0m0 330h0m1-302h0m0 335h0m1 3h0m0 11h0m1-9h0m0-56h0m0-3h0m1-219h0m0 149h0m0 52h0m0 37h0m0-304h0m0 186h0m1 73h0m2-298h0m1 69h0m0 56h0m109 424h0m1-149h0m0 155h0m0 0h0m1-202h0m0 134h0m1-103h0m0 85h0m0-115h0m2-92h0m0 146h0m0-136h0m1-26h0m0 177h0m0 11h0m1 23h0m0-244h0m0 61h0m0 124h0m0 52h0m0-217h0m1 190h0m1 95h0m0-267h0m0 177h0m0-177h0m0 140h0m1 81h0m0-177h0m1 38h0m0 21h0m1 74h0m1 14h0m0-169h0m1 181h0m1-51h0m16 17h0m1 108h0m1-132h0m1 48h0m0-101h0m2-168h0m1 335h0m0-231h0m0-62h0m0 180h0m0-338h0m1 392h0m0-234h0m0 196h0m0 6h0m1-357h0m0 365h0m0 25h0m0-389h0m1 443h0m0-226h0m0 55h0m1 39h0m0-1h0m0 55h0m1 31h0m0-75h0m2-100h0m0 92h0m0 20h0m4-14h0m6-127h0m1 157h0m1-152h0m1 0h0m0 213h0m2-35h0m0-99h0m1-42h0m2-11h0m0-30h0m0 233h0m0-150h0m0 76h0m1 67h0m0-103h0m1-100h0m0 193h0m1-257h0m0 75h0m1 84h0m2 76h0m1-29h0m0 19h0m5-211h0m2 40h0m1 142h0m0 74h0m1-155h0m0 160h0m0-253h0m1 73h0m0 180h0m1-107h0m1-4h0m0 2h0m0-6h0m1-80h0m1 111h0m0-175h0m0 217h0m1-239h0m0 119h0m0-87h0m1 110h0m0 127h0m0-41h0m1-204h0m0 32h0m1 190h0m0-278h0m0 232h0m1-96h0m4-40h0m10 117h0m3 135h0m1-198h0m0 16h0m0 27h0m0-33h0m1 46h0m0 4h0m1-149h0m0 91h0m1 23h0m0-136h0m0 187h0m1 8h0m0 80h0m0-122h0m0-23h0m1-7h0m1 41h0m0-208h0m0 360h0m1-143h0m0 31h0m1 53h0m0-24h0m1-237h0m1 12h0m0 164h0m0-139h0m1 6h0m0 300h0m2-396h0m0 114h0m0-37h0m1-157h0m0 263h0m0-271h0m1 56h0m0 274h0m0-307h0m0 228h0m0-16h0m0-218h0m1 139h0m0 63h0m0 117h0m1 31h0m0-124h0m0-240h0m0 166h0m0 67h0m0-45h0m1 81h0m0 36h0m0-88h0m0 103h0m0-174h0m0-191h0m0 49h0m1 163h0m0 41h0m0 71h0m0-134h0m1 139h0m0-78h0m1-66h0m1 222h0m0-439h0m1 315h0m8-22h0m2-1h0m1-79h0m0 72h0m2-167h0m1 225h0m0-52h0m1-183h0m0 137h0m1 91h0m0-42h0m0-106h0m1 70h0m1-105h0m1-154h0m2 8h0m0 303h0m0 30h0m0-153h0m2 71h0m0-29h0m1 166h0m0-395h0m0 359h0m0 13h0m1-259h0m6 35h0m1 206h0m0-34h0m0 12h0m1 34h0m0-364h0m1 357h0m0 51h0m1-199h0m1 32h0m0-24h0m1-58h0m0-101h0m0-30h0m0 242h0m0-268h0m1 285h0m0-74h0m0-164h0m1 9h0m0 204h0m0-49h0m1-144h0m1 33h0m0 187h0m1 20h0m0-35h0m0 28h0m0-74h0m0-168h0m0 314h0m1-79h0m0-104h0m0-136h0m1 241h0m1-86h0m1-119h0m0 356h0m1-51h0m7-89h0m0-122h0m1 55h0m3-12h0m0-172h0m1 156h0m0 183h0m2-247h0m0 115h0m0-139h0m1 110h0m1 97h0m0-122h0m1-6h0m1-48h0m0 83h0m0-36h0m2 206h0m0-133h0m2 65h0m0-231h0m7 186h0m1 138h0m1-127h0m0 18h0m1 101h0m0-45h0m0-50h0m1-162h0m0 166h0m1 23h0m0-148h0m1 73h0m1 59h0m1-82h0m0 89h0m1-20h0m0-91h0m0 68h0m0 134h0m1-302h0m1 145h0m0 152h0m3 13h0m0-114h0m1-170h0m2 148h0m5 73h0m1-197h0m4 262h0m0-234h0m0 87h0m0-71h0m1 21h0m0 201h0m1-17h0m0-146h0m0 21h0m1-242h0m0-31h0m0 11h0m1 180h0m0 64h0m1-264h0m0 335h0m1-126h0m0 129h0m0-335h0m0 146h0m0 177h0m0-142h0m1 133h0m0-322h0m0 319h0m0-311h0m0 275h0m1 81h0m0-34h0m0-42h0m0 36h0m0-18h0m1-223h0m0 324h0m0-9h0m1-253h0m1 130h0m0 31h0m1-289h0m1 189h0m7 190h0m1-194h0m1 71h0m1 0h0m0-21h0m1-93h0m0-63h0m0 216h0m0-29h0m1-2h0m0-30h0m1-37h0m0-236h0m1 235h0m0-88h0m0 61h0m0 31h0m0 1h0m1 127h0m0 55h0m0-400h0m0 147h0m0 189h0m0-28h0m1-117h0m1 52h0m0-14h0m1-216h0m0 139h0m0 19h0m0 38h0m0 180h0m0-393h0m1 185h0m0 154h0m0-184h0m0 46h0m1 123h0m0-96h0m0 54h0m0-24h0m1-22h0m0-112h0m1 117h0m2-77h0m1 264h0m0-209h0m0 131h0m14-4h0m2 50h0m1-157h0m0 75h0m2 130h0m1-221h0m0-63h0m0 202h0m0 100h0m0-212h0m0 14h0m1 95h0m0 56h0m0-73h0m1 5h0m0 95h0m2-208h0m1 174h0m0-236h0m0 90h0m0 1h0m0 8h0m0 22h0m1-10h0m1 21h0m1-84h0m0 230h0m1-150h0m0 177h0m1-150h0m2 54h0m6-160h0m4 142h0m1-182h0m2 12h0m0 125h0m1 85h0m1-137h0m0-52h0m0-11h0m0-37h0m1 40h0m0 28h0m2-50h0m0 152h0m0-164h0m0-80h0m1 137h0m0 70h0m0 118h0m0-106h0m0 62h0m1-5h0m0-261h0m1 127h0m0-158h0m0 131h0m2 137h0m0-6h0m1 96h0m6-171h0m1-62h0m1 95h0m0-19h0m0 129h0m0-160h0m1 118h0m0-66h0m1 55h0m0 40h0m1-55h0m0 49h0m0 12h0m1-225h0m0 190h0m0-77h0m0 117h0m1-13h0m1-210h0m0 106h0m0-61h0m0 104h0m0-100h0m0-70h0m1 86h0m0 90h0m0-110h0m1-73h0m0 132h0m0-79h0m1 18h0m1 84h0m0-58h0m1 70h0m0-72h0m0 82h0m0-65h0m0 88h0m1 65h0m1-54h0m0-20h0m0 45h0m1-64h0m3 9h0m11 62h0m1-134h0m3 3h0m0-32h0m0 117h0m2-375h0m1 235h0m0 44h0m0 43h0m0 37h0m1-76h0m0 14h0m0 77h0m1-337h0m0 365h0m0-163h0m0 91h0m1 47h0m0-127h0m1 154h0m0-16h0m0-4h0m0 0h0m0-110h0m0-95h0m1 172h0m1 102h0m0-227h0m1-137h0m0 197h0m1 24h0m0 23h0m2 85h0m13-161h0m2 23h0m2-98h0m1 200h0m0-47h0m1-9h0m0-117h0m1 143h0m1-47h0m0 30h0m1-71h0m1-8h0m0 123h0m1-26h0m0-117h0m1 63h0m1 55h0m0-156h0m3-4h0m1 210h0m1-94h0m0 40h0m1-17h0m0 15h0m2-51h0m0 84h0m0-78h0m2 141h0m0-167h0m1-50h0m2 41h0m1 3h0m0 14h0m0-12h0m1 24h0m0-90h0m1 46h0m0 92h0m1-53h0m0 33h0m1-256h0m1 194h0m1 167h0m0-95h0m2-221h0m0 190h0m0-168h0m2 250h0m1-273h0m0-5h0m0 221h0m1-277h0m0 113h0m0-33h0m1 197h0m0 12h0m0-206h0m0 75h0m1 83h0m0 20h0m0-126h0m2 71h0m1 54h0m1 13h0m1-174h0m1 136h0m0-117h0m1 88h0m1 42h0m0-94h0m2-112h0m1 232h0m2-210h0m0 115h0m1 41h0m1-76h0m0-169h0m1 307h0m0-226h0m2 16h0m0-50h0m2 336h0m0-376h0m1 331h0m0-13h0m0-163h0m0 93h0m0-238h0m1-29h0m1 307h0m0-10h0m0 83h0m1-106h0m0-12h0m1 108h0m0-160h0m0 35h0m0 90h0m1-2h0m0-111h0m1 23h0m5 88h0m2 70h0m0-45h0m2-68h0m1-96h0m0 91h0m0-34h0m0 75h0m1-17h0m0 15h0m0-16h0m0-74h0m1 102h0m1-45h0m0-31h0m1 108h0m0-31h0m1 65h0m0-65h0m1 20h0m0-83h0m1-67h0m0 35h0m1 55h0m1-108h0m0 160h0m1-76h0m0 70h0m0 4h0m0-21h0m1-141h0m2 107h0m0 137h0m0-169h0m1-40h0m2 114h0m0-110h0m0 66h0m0 10h0m0-44h0m0 9h0m0 30h0m1-119h0m0 65h0m1 27h0m1 67h0m0-47h0m1-31h0m0 136h0m0-95h0m0 0h0m0-6h0m0-37h0m0-49h0m1 193h0m1 63h0m0-131h0m0-13h0m0-36h0m0 16h0m0 6h0m1-49h0m1 140h0m1-245h0m0-3h0m14 153h0m0-154h0m1 173h0m1-106h0m0 25h0m0 34h0m0-209h0m2 184h0m0-189h0m0 291h0m1-19h0m0-107h0m0 66h0m0-119h0m0-80h0m0 292h0m1-10h0m0-212h0m0-28h0m0 68h0m1-175h0m0 226h0m0-4h0m0 1h0m1-72h0m0 130h0m0-61h0m0-235h0m0 17h0m0-2h0m1 179h0m0 72h0m0-22h0m0-117h0m1 64h0m0 61h0m0-252h0m0 279h0m0-70h0m1-45h0m0 187h0m0-91h0m0-17h0m1 2h0m0-212h0m0 189h0m1-66h0m0 48h0m1-121h0m0 197h0m1 32h0m11 90h0m1 46h0m0-7h0m2 44h0m0-98h0m1 66h0m1-37h0m0 9h0m0-16h0m1-55h0m0 144h0m0-55h0m0-6h0m2-32h0m0 116h0m0-125h0m1-5h0m0 10h0m0-14h0m0-27h0m0 119h0m0-43h0m1-82h0m0-49h0m0 65h0m0 2h0m2-20h0m0 3h0m0 56h0m0-27h0m1 73h0m0-73h0m2-108h0m0 86h0m2 10h0m2 22h0m4 11h0m0 46h0m1-108h0m1 199h0m1-125h0m0 38h0m1-42h0m1-4h0m0 133h0m0-67h0m1 35h0m1-109h0m0-30h0m1 90h0m0 109h0m1-138h0m0-44h0m0-84h0m0 254h0m0-156h0m1-14h0m4-1h0m1 48h0m1-73h0m0-8h0m0 89h0m1-96h0m1-36h0m1 119h0m1-103h0m1 38h0m0 60h0m0-122h0m0 209h0m0-67h0m1-90h0m0-4h0m1-70h0m0 97h0m0 78h0m0-51h0m1-26h0m0-9h0m0 58h0m1 7h0m1-9h0m0 65h0m0-128h0m1 29h0m0 109h0m0-30h0m0-105h0m0-16h0m2-56h0m0 130h0m0-19h0m0-30h0m1-46h0m0-7h0m1 69h0m0 78h0m0-186h0m2 83h0m0-15h0m0-7h0m1 13h0m13 73h0m4-77h0m1-4h0m1 98h0m0-106h0m1 16h0m0 62h0m0-54h0m1 103h0m1-58h0m0 38h0m1-139h0m0 107h0m1-18h0m0-8h0m1-22h0m0 5h0m1 135h0m0-82h0m1-67h0m1 44h0m1-6h0m0 9h0m2 83h0m0-54h0m6-255h0m1 8h0m0-99h0m1 164h0m0-148h0m1 118h0m1-94h0m0-24h0m1 35h0m0 34h0m0-135h0m0-40h0m1 173h0m0-77h0m0 123h0m0-96h0m1-84h0m0 104h0m0-89h0m1 124h0m1 47h0m0 5h0m0-142h0m0 78h0m1-46h0m1 1h0m0 48h0m1-81h0m1 3h0m1 75h0m3 4h0m5-32h0m2-77h0m2 108h0m0-41h0m0 52h0m1-57h0m2 51h0m0 74h0m0-40h0m1 8h0m0-62h0m2-72h0m0-56h0m2 128h0m1-92h0m1 108h0m0-76h0m6 96h0m1-103h0m2-40h0m0 71h0m1-123h0m0 80h0m0 104h0m1-69h0m0 55h0m0-76h0m1 22h0m0 100h0m2-213h0m0 121h0m0 74h0m1-162h0m1 31h0m0 45h0m1 56h0m3-64h0m1-73h0m1 117h0m0-58h0m2 56h0m0-15h0m3-34h0m1 1h0m0-25h0m0 71h0m1 24h0m0-102h0m1-1h0m1 6h0m0 95h0m0-27h0m1-36h0m0-47h0m0 40h0m1-25h0m0-31h0m1 76h0m0 5h0m1-35h0m0 67h0m0-116h0m30 439h0m0-117h0m2 53h0m0 29h0m1 16h0m1-194h0m0 131h0m2 3h0m0-90h0m0-8h0m0 51h0m1-90h0m0 182h0m0 71h0m1-90h0m0-91h0m0 24h0m1-43h0m0 71h0m1 3h0m0 11h0m1 59h0m2-69h0m1 128h0m2-130h0m1 30h0m2-6h0m3 83h0m0-75h0m1 144h0m0-109h0m1 37h0m0-133h0m0 139h0m1-117h0m0 50h0m0-22h0m0-62h0m0-69h0m1 221h0m0-129h0m0 22h0m0 26h0m0 16h0m1-1h0m0-110h0m2 103h0m0 81h0m0 4h0m0-96h0m0 128h0m0 25h0m1-240h0m2 139h0m1-21h0m0-74h0m0 29h0m2-46h0m1 0h0m2 133h0m0 13h0m2-72h0m0-14h0m1 57h0m0 6h0m1-73h0m0-31h0m0 44h0m2-2h0m0-295h0m1 363h0m0-111h0m0 125h0m1-131h0m1-356h0m0 335h0m1-224h0m0 285h0m0-122h0m1-166h0m0-102h0m1 6h0m0-17h0m0 315h0m2 98h0m0-118h0m1 17h0m1-258h0m3 380h0m1-35h0m2 17h0m0-28h0m0 112h0m1-60h0m1-27h0m0-45h0m0-19h0m0 72h0m1-25h0m0-95h0m0 85h0m0 170h0m1-197h0m0 54h0m0 46h0m0-54h0m0-71h0m0 110h0m1 63h0m0-35h0m1-101h0m1 24h0m0 139h0m0-162h0m0 90h0m1 48h0m0-115h0m0 2h0m0 70h0m0-36h0m1-1h0m0 9h0m0-37h0m0 42h0m1-36h0m0-91h0m0 127h0m0-36h0m1 64h0m0 10h0m2-29h0m0-73h0m3-67h0m11 187h0m2-50h0m1-51h0m2-33h0m1 105h0m0-27h0m0 40h0m0-105h0m0 39h0m1-1h0m1-154h0m0 174h0m2 12h0m0-44h0m0 40h0m0-262h0m1 134h0m0 41h0m0-20h0m1-283h0m0 440h0m0-75h0m0-170h0m1 105h0m0 12h0m0 29h0m2-13h0m0 23h0m1-102h0m1 105h0m2 58h0m1-135h0m1-8h0m3-1h0m0 49h0m2-35h0m0 110h0m2-155h0m0 178h0m1-30h0m0-142h0m0 160h0m0-171h0m1 94h0m1-12h0m0-48h0m0 4h0m1-54h0m0 81h0m0 34h0m1-42h0m2 67h0m1-161h0m0 156h0m0-132h0m2 180h0m2-175h0m4-19h0m0 138h0m1-98h0m0 52h0m0 46h0m0-22h0m1 45h0m1-12h0m1-2h0m0-104h0m0 131h0m0-85h0m0 62h0m0-112h0m1 88h0m0-90h0m0 60h0m1-44h0m0 60h0m1-36h0m1-65h0m0 77h0m0 57h0m3-62h0m0 25h0m1-18h0m4-225h0m2 155h0m0-118h0m0 5h0m1 11h0m0 259h0m0-258h0m0-3h0m0 292h0m0-340h0m1 156h0m0 29h0m1 59h0m0-139h0m0 166h0m0-312h0m1 416h0m0-416h0m0 215h0m1 96h0m0-266h0m0 329h0m0-41h0m0-305h0m0 252h0m1 45h0m0-2h0m0-58h0m1 10h0m0 50h0m0-277h0m1 199h0m0-196h0m0 338h0m0-200h0m1 80h0m0 93h0m0-47h0m0-150h0m4 86h0m0 52h0m2-17h0m10 20h0m4 33h0m0 8h0m1 5h0m0-6h0m2-78h0m0 2h0m0 25h0m0 7h0m1-25h0m0 1h0m0 36h0m1 43h0m0-92h0m0-73h0m0 81h0m1-40h0m2 14h0m1 43h0m0 37h0m1-133h0m1 125h0m1 63h0m1-243h0m0 214h0m4-71h0m6-7h0m1 135h0m0-56h0m0-44h0m0 40h0m1-169h0m0 117h0m0-136h0m0 43h0m2 137h0m1-9h0m0 44h0m0-97h0m0-87h0m1 101h0m1-16h0m2 109h0m1-118h0m0 85h0m0-172h0m2 139h0m1 40h0m21-357h0m3 2h0m1-51h0m7-28h0m45 413h0m1-14h0m1-111h0m2-5h0m0 93h0m1-54h0m0 24h0m1-65h0m0 221h0m1-14h0m0 27h0m0-205h0m1 68h0m0 108h0m0-110h0m0 64h0m1-9h0m0 67h0m2-179h0m1 106h0m3-44h0m1 83h0m2-107h0m0-9h0m2-107h0m0 60h0m0 140h0m0-44h0m3-91h0m0-32h0m1 143h0m0 87h0m1-139h0m0-45h0m2 11h0m1 37h0m0-61h0m0 118h0m1-129h0m0 199h0m1-128h0m0 149h0m0-225h0m1 42h0m2 20h0m0 131h0m1-72h0m1-182h0m0 179h0m1-13h0m1-66h0m2 72h0m2-44h0m2-66h0m1 12h0m0 79h0m0-2h0m1-84h0m0 103h0m1 61h0m0-20h0m0-84h0m1 130h0m0-111h0m0-51h0m0 18h0m0-54h0m0 31h0m0 79h0m0-45h0m1 4h0m1-59h0m1 31h0m0 47h0m1 31h0m1-25h0m0-126h0m1 162h0m1 45h0m5-244h0m3 171h0m3 62h0m0 2h0m0-102h0m0 96h0m1-109h0m0 80h0m1-73h0m0 16h0m0-43h0m0 61h0m0-26h0m0-118h0m0 153h0m2 12h0m0-128h0m2 50h0m1 6h0m1 30h0m0-9h0m0 99h0m0-205h0m1 64h0m1-11h0m0-5h0m0 198h0m1-234h0m0 29h0m6-39h0m5 124h0m0-220h0m0 282h0m1-329h0m0 347h0m2-102h0m0 11h0m1-92h0m0 74h0m0-307h0m1 266h0m0 31h0m0 79h0m0-33h0m1 90h0m0-340h0m1-13h0m1 320h0m0-175h0m1 112h0m2-37h0m0 112h0m2-150h0m4 77h0m2-18h0m0-205h0m1-3h0m0 252h0m1-36h0m0-27h0m0 75h0m1 0h0m0-28h0m0 45h0m1-349h0m0 307h0m0-107h0m1 69h0m1 73h0m0-79h0m0-124h0m0-63h0m1 254h0m0-17h0m0-67h0m0-21h0m1 21h0m0 44h0m1-27h0m0 34h0m1 60h0m0-199h0m1 48h0m2-18h0m3 167h0m0 19h0m1 34h0m2-87h0m0-31h0m0-234h0m1 251h0m1 40h0m1-256h0m1 276h0m0-90h0m1 64h0m1-303h0m0 250h0m1 18h0m0-50h0m0 124h0m0-28h0m0-27h0m1 40h0m0-377h0m1-46h0m0 15h0m0 235h0m1 155h0m1 5h0m0-309h0m1 0h0m1 328h0m0 43h0m1-212h0m1-13h0m2 115h0m0 24h0m1 85h0m0-232h0m0-18h0m1 262h0m0-169h0m1 28h0m0-130h0m1 270h0m0-83h0m0-67h0m2 114h0m0 12h0m0-46h0m1 24h0m0-119h0m0 22h0m0 207h0m0-215h0m0 53h0m1-100h0m0 19h0m0 92h0m1-85h0m0 196h0m1-197h0m0 22h0m1 8h0m0-103h0m2 141h0m0 75h0m1-60h0m2 134h0m7-185h0m2 100h0m1-45h0m0-106h0m2 28h0m0 33h0m1-50h0m0-21h0m0 55h0m0 59h0m1-98h0m1 142h0m1 81h0m0-256h0m0 256h0m0-175h0m0 82h0m0-67h0m1-74h0m0 61h0m0-12h0m0-26h0m1 39h0m0 122h0m0-259h0m0 1h0m1 224h0m0-72h0m2 39h0m1-32h0m0-34h0m1 102h0m0-200h0m1 73h0m7 23h0m1 1h0m0-11h0m1 72h0m2-162h0m0 154h0m0-155h0m1 154h0m0-25h0m0 40h0m2-48h0m0-64h0m0 127h0m0-77h0m0-37h0m1 3h0m0 13h0m1-2h0m0 2h0m0-24h0m1 66h0m0 98h0m1-82h0m1-85h0m0 158h0m1-61h0m0-140h0m1 13h0m0 70h0m2 41h0m0 41h0m12-118h0m1-196h0m1-64h0m0 326h0m0-167h0m0 0h0m0 53h0m0-182h0m1 170h0m1-54h0m0 80h0m1 128h0m0-15h0m1-195h0m0-59h0m0 158h0m1 25h0m0-163h0m0 105h0m0-63h0m0-23h0m1 15h0m0 117h0m0-237h0m1 231h0m1 0h0m1-81h0m3-15h0m0 121h0m6-203h0m0 41h0m1 206h0m1-329h0m0-63h0m2 145h0m0 213h0m1-79h0m0 133h0m0-428h0m0 283h0m1-125h0m0-158h0m0 3h0m1 262h0m1-181h0m0 124h0m0 160h0m0-371h0m1 1h0m1 72h0m0-17h0m0 233h0m0-222h0m1 205h0m0-102h0m0 97h0m0-248h0m1 234h0m1-114h0m0-56h0m2 239h0m5-214h0m3 253h0m1-289h0m0 353h0m0-151h0m0-5h0m0-21h0m1-52h0m0-95h0m1 205h0m0-129h0m0 218h0m0-186h0m1 96h0m0-11h0m0-88h0m0 47h0m1 5h0m0-57h0m0-34h0m1 78h0m0 52h0m1 94h0m0 120h0m0-357h0m1 128h0m0-62h0m1 229h0m0-21h0m1-105h0m3 27h0m0 160h0m2-305h0m10 95h0m5 14h0m1-156h0m1 128h0m0 23h0m1 4h0m1 55h0m0-34h0m0-117h0m1 148h0m0-83h0m1-234h0m0 314h0m1-212h0m0 108h0m1-16h0m0-31h0m0 250h0m1-202h0m3 128h0m1-31h0m0-68h0m0-3h0m0 54h0m1-115h0m0 122h0m1-17h0m0-19h0m0 75h0m1-17h0m0-30h0m0-133h0m0 237h0m0-98h0m1-36h0m0-110h0m1 53h0m0 174h0m1-79h0m0-25h0m0 30h0m2-121h0m0 75h0m0 49h0m1 30h0m0-98h0m0 73h0m1 6h0m0-85h0m0-78h0m1 31h0m1 213h0m2-154h0m14 195h0m1-54h0m1-172h0m1 27h0m1 142h0m0-103h0m0-133h0m1 166h0m0-129h0m1 119h0m0 96h0m1-49h0m0-31h0m1-33h0m0-3h0m0 38h0m0 131h0m1-17h0m0-111h0m0-70h0m1 55h0m6-62h0m4 30h0m0 87h0m1-173h0m2 73h0m3 12h0m0 107h0m1-110h0m1 15h0m0 63h0m1-49h0m0 38h0m0-1h0m0-63h0m1 75h0m1-85h0m2 29h0m0 20h0m0 2h0m0-2h0m0-22h0m0-136h0m1 139h0m0 79h0m0-91h0m1 75h0m0-31h0m5 8h0m3-85h0m1 135h0m1-81h0m0-109h0m2 63h0m2 79h0m0-104h0m0-28h0m1 124h0m0-46h0m0 109h0m0-62h0m1-149h0m0 106h0m1-14h0m0-1h0m0 16h0m1 20h0m0-41h0m3-69h0m2 236h0m1-157h0m0-83h0m3 115h0m2-63h0m0 142h0m0-243h0m0 235h0m0 19h0m1-106h0m0 120h0m0-126h0m1 76h0m0 34h0m1-178h0m0 168h0m0 46h0m1-233h0m0 186h0m1-67h0m0 79h0m0-61h0m0-15h0m1 61h0m0-73h0m0 24h0m2-88h0m0 153h0m0-220h0m0 120h0m2-83h0m0 67h0m4 104h0m8 28h0m0-54h0m1-97h0m0 54h0m2-9h0m0 19h0m1-105h0m0 202h0m0-109h0m0-19h0m1 3h0m1 18h0m0 28h0m0-88h0m2 86h0m0-106h0m0 51h0m0 51h0m1 58h0m0-1h0m1-98h0m0-53h0m0 67h0m0 27h0m0-93h0m0 115h0m1-56h0m0 28h0m0-34h0m1-20h0m1-68h0m1 147h0m0-122h0m0 88h0m11 229h0m0-217h0m3 131h0m2 93h0m0-13h0m1-9h0m0-198h0m1-6h0m1 67h0m1 50h0m2 114h0m0-114h0m1-90h0m0 53h0m0-36h0m1-1h0m0 22h0m0 126h0m1-128h0m2 194h0m12-117h0m1-80h0m4-35h0m0-68h0m1 112h0m1-126h0m0 92h0m1-123h0m0 25h0m0 162h0m1-76h0m0 19h0m2-20h0m0 39h0m1 67h0m0-168h0m0 115h0m0-100h0m0 203h0m0-184h0m2 75h0m0-79h0m1-120h0m0 205h0m0-69h0m1 64h0m3 15h0m6-47h0m1 134h0m0-74h0m0-206h0m1 112h0m0-104h0m1 96h0m2-83h0m0 227h0m0-87h0m1-110h0m0-15h0m0 119h0m1-169h0m0 172h0m0-69h0m0 118h0m1-10h0m0-200h0m0 5h0m0 20h0m1 240h0m0-316h0m0 304h0m1-14h0m0-89h0m0 7h0m0-24h0m1 64h0m0-3h0m0 10h0m1 61h0m3-79h0m0 81h0m0-210h0m2 146h0m6-120h0m0-16h0m2 93h0m0-67h0m3-31h0m0 95h0m0 53h0m0-145h0m1 51h0m0 87h0m0-135h0m1 41h0m0-66h0m0 29h0m0 79h0m0-8h0m0 118h0m1-214h0m0 114h0m1-112h0m0 37h0m0-4h0m1-46h0m0 158h0m1-39h0m0-181h0m0 121h0m0 54h0m1-33h0m0 4h0m0 32h0m0-30h0m0 30h0m1-74h0m0 161h0m1-61h0m0-31h0m0 22h0m1-149h0m0 159h0m1 48h0m0-143h0m2-57h0m5-139h0m0-38h0m1 41h0m1-48h0m5 65h0m0-70h0m1 29h0m1-46h0m3 316h0m0 10h0m2-226h0m1-59h0m1 308h0m0-188h0m0 98h0m1-132h0m0 76h0m0 83h0m0 104h0m0-139h0m1 100h0m0-184h0m0-76h0m0 65h0m0 217h0m1-112h0m1-20h0m0-148h0m0 372h0m1-230h0m0-143h0m1 213h0m0-117h0m0 90h0m1 16h0m0-123h0m0-71h0m0 205h0m1 20h0m0-82h0m0 12h0m1-41h0m0 69h0m9 5h0m1 33h0m1-39h0m2 31h0m1-80h0m2 130h0m0-14h0m0-78h0m1-43h0m0 175h0m0-79h0m1-48h0m0 16h0m0-2h0m0 56h0m0 110h0m2-154h0m0 9h0m0 148h0m0-191h0m1 90h0m0 92h0m0-123h0m0 9h0m1 75h0m0-65h0m0 58h0m1 56h0m0-127h0m0 26h0m0-81h0m1 119h0m1-113h0m2-30h0m0-21h0m1 154h0m0 30h0m1-67h0m0 42h0m9 33h0m2-229h0m1 67h0m0-36h0m2 20h0m0 2h0m0-31h0m0 105h0m1-73h0m1-2h0m1-24h0m0 188h0m0-79h0m0 19h0m1-12h0m0-16h0m0 26h0m0-7h0m0-115h0m1-14h0m0 54h0m0-12h0m0 37h0m1-103h0m0 122h0m0 123h0m0-43h0m0-122h0m0 123h0m0-36h0m1-1h0m0-139h0m1 64h0m0-32h0m0 114h0m1-127h0m0 132h0m1-2h0m0-97h0m0-35h0m1 49h0m0 68h0m1-91h0m1 120h0m3-19h0m13-101h0m1-87h0m0 93h0m0 72h0m1 25h0m0-74h0m1 102h0m1-67h0m0 40h0m0-98h0m0-40h0m0 13h0m0-39h0m1 65h0m0 34h0m0 4h0m1-234h0m0 82h0m0 16h0m0 238h0m1-307h0m0 7h0m0 132h0m0 152h0m1-246h0m0 89h0m0 96h0m0-276h0m0 194h0m0-179h0m1 125h0m0 180h0m1-313h0m0 199h0m0 67h0m0 138h0m0-82h0m0-108h0m2 30h0m1 21h0m3 12h0m10-13h0m2 107h0m0-162h0m0 80h0m1 141h0m1-309h0m0 72h0m0-342h0m0 387h0m0-224h0m0 208h0m1-22h0m0 70h0m0-140h0m1-249h0m0 139h0m2 33h0m0 152h0m0 51h0m0 151h0m0 39h0m1-110h0m0-17h0m0 139h0m0-312h0m0-272h0m1 51h0m0 493h0m0-146h0m0 76h0m1-126h0m0 128h0m0-95h0m1 51h0m0-112h0m0 92h0m1-44h0m0-105h0m1 36h0m0 131h0m1-167h0m0 265h0m0-236h0m0-322h0m0 150h0m0 223h0m1 39h0m1 50h0m1-427h0m1 344h0m0 31h0m6-268h0m3-35h0m1-92h0m0 62h0m3 140h0m0-129h0m1-64h0m0 126h0m1 35h0m0-89h0m3 56h0m1-120h0m3 29h0m1-13h0m1-35h0m1 32h0m0-17h0m0 118h0m0 68h0m2-112h0m0-37h0m1 14h0m1 111h0m0-166h0m1 10h0m2 187h0m2-16h0m1-33h0m2 47h0m29-10h0m2 64h0m0-40h0m1 109h0m0-89h0m0 171h0m1-194h0m0-138h0m0 267h0m1-184h0m1 76h0m0 32h0m0-167h0m0-20h0m2 130h0m0-17h0m0-64h0m0 146h0m0-148h0m0-92h0m0 293h0m0-56h0m0-1h0m1-277h0m0 302h0m0 55h0m0-150h0m0 15h0m1-1h0m0 27h0m0 210h0m1-250h0m0-148h0m0 195h0m1-193h0m0 143h0m0-192h0m0 299h0m1 115h0m0-391h0m0 25h0m0-12h0m0 15h0m1 253h0m0-298h0m1 10h0m0 428h0m0-431h0m1-6h0m3 59h0m2-38h0m4 288h0m2 19h0m1-76h0m0-62h0m1 67h0m1 7h0m0 143h0m0-317h0m1 195h0m0-58h0m0-118h0m1 180h0m1-79h0m1-33h0m0 18h0m0 36h0m1 85h0m1 19h0m0-172h0m1 96h0m1 154h0m3-84h0m2-15h0m1-34h0m1 17h0m1 10h0m0 22h0m1-92h0m1 162h0m0-267h0m1 145h0m0 18h0m1-46h0m0 95h0m0-150h0m0 254h0m0-242h0m1 219h0m1-34h0m0-105h0m0-31h0m0 159h0m0-133h0m0 27h0m1 83h0m0-60h0m0 93h0m0-136h0m1-89h0m0 113h0m3-99h0m2-37h0m14 48h0m1-10h0m1 48h0m0-190h0m1 179h0m0-154h0m0 230h0m1-219h0m0 133h0m0-22h0m1-66h0m0 3h0m0 122h0m1-192h0m0 115h0m1 207h0m1-139h0m0-27h0m0-181h0m0 244h0m1-145h0m1-64h0m1 158h0m0-101h0m0 225h0m0-57h0m1-167h0m2 63h0m0 77h0m1-172h0m9 173h0m0-94h0m1 187h0m1-326h0m3 80h0m0 204h0m0-78h0m0-50h0m0-67h0m2 140h0m0 128h0m1-107h0m1-66h0m1 1h0m0-196h0m0 19h0m0 160h0m2-114h0m0 119h0m2 5h0m1-22h0m1-53h0m2 97h0m2 55h0m1-164h0m0-52h0m1 361h0m0-318h0m1 103h0m0 51h0m2-83h0m0-3h0m0 84h0m0-168h0m0 137h0m1 1h0m0 59h0m0 100h0m0-110h0m1-166h0m1 65h0m0-38h0m0 126h0m1 67h0m0-136h0m0 162h0m0-248h0m0 59h0m1 104h0m0-209h0m0 282h0m1-116h0m0 27h0m1-205h0m0 265h0m0 24h0m0-232h0m1 135h0m1 42h0m3-24h0m14-184h0m1 187h0m0-84h0m0-8h0m1-27h0m0 12h0m1-6h0m0 21h0m1 92h0m2-226h0m0 51h0m0 68h0m0 187h0m1-103h0m0-113h0m1 0h0m1 134h0m0-104h0m0 122h0m0-178h0m0-82h0m0 124h0m1 145h0m0 20h0m0-170h0m0 200h0m1-67h0m1-209h0m0 29h0m0 10h0m1 79h0m1-49h0m0 94h0m1-100h0m0-96h0m13 234h0m2-163h0m0 0h0m1 224h0m1-166h0m1 198h0m0-119h0m0 92h0m0-85h0m0-46h0m2 42h0m0-63h0m0-22h0m0 65h0m0 56h0m1-60h0m0 111h0m1-165h0m0 187h0m0-133h0m1 58h0m0 2h0m1-190h0m0 24h0m0 97h0m2 145h0m0-245h0m0 79h0m0 151h0m0-237h0m0 106h0m1 132h0m0 23h0m0-121h0m2 28h0m0-101h0m1 117h0m1-162h0m7 180h0m0 112h0m0-162h0m1 191h0m1-33h0m1 56h0m1-168h0m0 61h0m1-17h0m0 94h0m1 5h0m1 8h0m0-62h0m0-20h0m0 8h0m0 47h0m0-40h0m1 32h0m0-19h0m0-149h0m1 29h0m0-6h0m0 119h0m0 95h0m1-220h0m1 22h0m0 169h0m0-218h0m1 189h0m1-25h0m0-122h0m1 99h0m0-38h0m2 60h0m1-79h0m17 82h0m2 46h0m0-74h0m1-27h0m0-13h0m1 45h0m0-43h0m1 70h0m0 62h0m1-22h0m0-107h0m0 49h0m0-34h0m0 71h0m0 47h0m1 3h0m0-47h0m0 8h0m1-3h0m0-57h0m0 80h0m0-69h0m3 38h0m2 21h0m1-34h0m0-23h0m7 41h0m0 41h0m3-81h0m0-23h0m2-11h0m0 119h0m1-58h0m0-44h0m1 11h0m0-19h0m1-16h0m0 1h0m0 158h0m0-235h0m0-4h0m0 103h0m1-14h0m1-8h0m1 79h0m0 84h0m0-185h0m0 152h0m1-28h0m0-41h0m1-65h0m1 104h0m2 33h0m0 43h0m0-122h0m0 153h0m0-6h0m1-46h0m1-255h0m0 24h0m5 108h0m0-218h0m1 79h0m1-10h0m1-90h0m0 60h0m1 153h0m0-75h0m0 20h0m0 53h0m0-113h0m0 63h0m1-1h0m0 6h0m2-161h0m1 142h0m0 18h0m0-74h0m0 5h0m0-99h0m0 164h0m0-32h0m0-140h0m1 18h0m0 21h0m0 170h0m0-213h0m1 230h0m0-87h0m0-129h0m1 199h0m0 36h0m0-32h0m1-71h0m1-100h0m0 136h0m0-11h0m2 27h0m2-99h0m2-74h0m13 11h0m4 120h0m1 6h0m1 85h0m0-154h0m0 35h0m2 38h0m1 78h0m1-230h0m0 11h0m0 187h0m0-228h0m2 25h0m0 79h0m1-16h0m0 90h0m2-227h0m1 303h0m1-162h0m1 40h0m1 124h0m1-179h0m0 154h0m0-61h0m0 42h0m0-35h0m0-47h0m1-41h0m0 146h0m0 61h0m0-132h0m1 159h0m0-96h0m0 40h0m1-148h0m1 13h0m0 129h0m0 59h0m0-264h0m0 42h0m1 130h0m0 43h0m0 56h0m0-119h0m0-48h0m0 51h0m1-7h0m0-3h0m0 16h0m2-103h0m0 200h0m1-74h0m1-2h0m0-89h0m0-117h0m2 45h0m0 145h0m4 66h0m9-163h0m1 136h0m3 18h0m0-143h0m0-81h0m1-94h0m0 226h0m1-108h0m0 141h0m1-198h0m0 140h0m0-12h0m1 151h0m0-137h0m0 86h0m0 41h0m1-61h0m1 79h0m0-317h0m0 140h0m1 16h0m0 32h0m0 15h0m0-23h0m1 91h0m1-104h0m1-11h0m0 19h0m1-176h0m1 292h0m2-69h0m7 24h0m3-156h0m1-215h0m0 429h0m1-141h0m0 145h0m0-459h0m1 262h0m0 180h0m0-330h0m0 337h0m0-293h0m0 168h0m0-108h0m1 93h0m0-243h0m0 162h0m1 210h0m0-153h0m0-139h0m0 23h0m0 63h0m0 208h0m0-235h0m2 103h0m0-58h0m0 124h0m1-366h0m0 279h0m0-236h0m0 339h0m0-122h0m0 10h0m1 79h0m0-2h0m0-27h0m0-198h0m0 171h0m0 69h0m0-55h0m0-140h0m0-63h0m1 152h0m0-267h0m1 256h0m0-79h0m0-34h0m1 200h0m0-260h0m1 209h0m0-83h0m18 185h0m2 47h0m1 8h0m0-60h0m3 102h0m0-145h0m1 91h0m0-51h0m0-112h0m1-120h0m0 43h0m1 77h0m0-3h0m1 77h0m0 20h0m0-65h0m1-45h0m0 27h0m1-87h0m0 292h0m1-289h0m1 137h0m1 171h0m1-202h0m1 52h0m0-179h0m1 104h0m0 190h0m1-152h0m0 74h0m0-49h0m1 190h0m0-122h0m0-68h0m1-26h0m0-259h0m0 333h0m1-28h0m0-79h0m1 88h0m0-60h0m1-7h0m0 226h0m0-123h0m0-299h0m0 202h0m1 58h0m0 144h0m1-185h0m0-158h0m0 184h0m1 177h0m0-144h0m1-14h0m1 6h0m0-75h0m0-35h0m1 117h0m4-27h0m9 136h0m1-108h0m0-28h0m1 51h0m0-13h0m0 1h0m1 45h0m0-78h0m0-13h0m0-79h0m1 27h0m0 23h0m1 125h0m1 33h0m0-149h0m0-57h0m0 167h0m1 3h0m1-136h0m1 12h0m0 43h0m1-27h0m0 125h0m1-76h0m0 92h0m0-7h0m0-191h0m1 40h0m0 133h0m1-18h0m3 58h0m1-217h0m9 78h0m1-55h0m1 82h0m0-8h0m0-63h0m1-98h0m0 247h0m1-15h0m0-115h0m0 166h0m0 20h0m0-50h0m1-22h0m0-396h0m1 481h0m0-56h0m0-124h0m0 193h0m0-119h0m1 118h0m0-100h0m0-49h0m1 53h0m0-267h0m0 176h0m0-68h0m1 127h0m0-3h0m1-60h0m0 58h0m0-120h0m0 185h0m0-40h0m1-68h0m1 35h0m1 72h0m0-41h0m0-8h0m0-24h0m0-15h0m1 93h0m0-42h0m0 20h0m14 36h0m3-163h0m1 0h0m1 97h0m1-89h0m0 83h0m0-69h0m0 175h0m1-77h0m1-79h0m0 44h0m1 24h0m1-77h0m1 66h0m0 15h0m0-194h0m1 190h0m0 29h0m1-136h0m0 85h0m1-56h0m0-9h0m0-32h0m2 93h0m1 64h0m5-49h0m0-40h0m1-23h0m1-63h0m0 29h0m1 67h0m2-6h0m0-51h0m1-15h0m0 122h0m0-155h0m0 24h0m1-5h0m0 171h0m0 45h0m1-103h0m0 5h0m0 1h0m2-40h0m0 85h0m0-153h0m1 24h0m0 23h0m2 5h0m0 79h0m3-99h0m0 21h0m4-6h0m2 166h0m0-86h0m1-77h0m0 70h0m1 97h0m0-22h0m0-177h0m0 68h0m0 26h0m1-129h0m0 153h0m0-63h0m1-43h0m0 99h0m0-81h0m0 89h0m0-54h0m0 27h0m1 2h0m0-20h0m0-244h0m0 257h0m0-254h0m1 362h0m0-211h0m0 154h0m0-34h0m0-330h0m0 267h0m0 80h0m1-92h0m0 46h0m0-278h0m1 263h0m1-49h0m0 47h0m0 32h0m0-96h0m1-248h0m0 315h0m3-237h0m0 223h0m1-293h0m0 227h0m1 90h0m15-3h0m0-54h0m1 38h0m1-45h0m1 83h0m0-53h0m0 39h0m0-21h0m1 45h0m0-81h0m1-5h0m0-106h0m0 157h0m1 69h0m0-121h0m0 51h0m1 19h0m0-109h0m0 71h0m1-51h0m1 134h0m1-60h0m0-61h0m1 35h0m0-15h0m0 41h0m1 97h0m1-127h0m3 140h0m9-69h0m1 40h0m1-108h0m0-49h0m0-115h0m1 214h0m0-80h0m0-78h0m0 163h0m1 19h0m0-119h0m2 83h0m0-119h0m0 146h0m0-81h0m1-176h0m0 235h0m0-42h0m1-38h0m0 7h0m1-76h0m0 197h0m0 17h0m1-107h0m0-20h0m0-158h0m0 55h0m1 109h0m0 42h0m1-54h0m0 83h0m1 67h0m0-149h0m0-22h0m0-12h0m1-146h0m0 190h0m1 61h0m0-98h0m2 38h0m1 36h0m1-59h0m11 74h0m3 19h0m1-3h0m0-66h0m0 143h0m0-126h0m2 20h0m2-7h0m0-8h0m0 31h0m0-53h0m0 38h0m1-155h0m1 129h0m0-30h0m0 10h0m0-37h0m1 75h0m0 37h0m0-156h0m0 140h0m0 87h0m0-151h0m0-82h0m2 164h0m1-22h0m0-30h0m0-24h0m0 60h0m1-80h0m0 49h0m1 71h0m1-19h0m1-29h0m0 22h0m11-373h0m0 73h0m1 48h0m1 52h0m1-164h0m0 97h0m0-44h0m1 109h0m0-35h0m3-123h0m0 9h0m0-3h0m1 35h0m1 142h0m1-183h0m0 161h0m0-1h0m1-135h0m3 122h0m1 6h0m6-86h0m0-75h0m3 216h0m0-133h0m0-77h0m0 41h0m2-41h0m0 238h0m1-78h0m0 25h0m0-74h0m1 17h0m2 78h0m0-183h0m0-17h0m1 209h0m0-238h0m0 187h0m1-29h0m0-61h0m1 118h0m0-126h0m1 45h0m3-75h0m2-32h0m2 78h0m1-93h0m1 240h0m0-201h0m3 110h0m0 11h0m0-110h0m1 0h0m1 115h0m1 8h0m0-32h0m1-67h0m0 129h0m1-109h0m0 119h0m0-72h0m1 9h0m0-122h0m1 145h0m0 57h0m0-74h0m1-60h0m0 79h0m1-120h0m0-52h0m0 21h0m0 168h0m1-120h0m0 166h0m40 86h0m0 42h0m2-209h0m3 212h0m0-166h0m2 63h0m1-20h0m0-58h0m1 174h0m0-151h0m0 56h0m0-25h0m1 38h0m0 70h0m0-52h0m1-57h0m0-100h0m0 59h0m1 87h0m0-134h0m0 177h0m0-36h0m1 21h0m0-76h0m1 25h0m3 138h0m8-10h0m4-49h0m1-9h0m0-59h0m0 70h0m2 86h0m0-138h0m1 149h0m0 6h0m0-86h0m0-119h0m1 30h0m0 64h0m0-25h0m0 2h0m0-69h0m0-38h0m1 130h0m0 34h0m1-82h0m1-5h0m0-38h0m0 170h0m0-106h0m1 31h0m1-103h0m0 40h0m0 116h0m2-108h0m3-92h0m1 94h0m9 102h0m1-125h0m1 151h0m0-134h0m0 18h0m0-10h0m1 142h0m0-119h0m0 24h0m1-103h0m0 156h0m0-74h0m0-171h0m1 177h0m0-39h0m3-19h0m0 61h0m0 74h0m1-283h0m1 240h0m0-63h0m0-366h0m1 359h0m0-36h0m0 29h0m1 51h0m2 67h0m1-161h0m4-234h0m0 302h0m1 1h0m1 23h0m0-4h0m0-115h0m1 44h0m0 62h0m1 21h0m0-59h0m0-26h0m1 9h0m0 48h0m1-121h0m0-24h0m0 164h0m0-158h0m0-105h0m1 253h0m0-245h0m0-80h0m0 313h0m0-77h0m1 123h0m0-61h0m1-69h0m0 110h0m0-91h0m1-4h0m1 40h0m0-3h0m0 16h0m5 63h0m5-7h0m2-68h0m1 70h0m1 24h0m1-156h0m0 107h0m0 7h0m1-38h0m0-26h0m1-15h0m1 80h0m0-107h0m2 10h0m0 46h0m0 29h0m1-40h0m1 13h0m0-59h0m0 66h0m0-110h0m0 59h0m0 106h0m1 37h0m0-146h0m0 171h0m0-82h0m1 16h0m1-20h0m1-124h0m0 153h0m1-122h0m1 88h0m0-71h0m1-31h0m15-276h0m1 430h0m0-94h0m1 32h0m1 22h0m0-149h0m0 179h0m0-355h0m0 365h0m1-238h0m0 157h0m0-237h0m0 329h0m1-171h0m0 31h0m0-56h0m1-188h0m0 112h0m0 100h0m0 77h0m0-113h0m1-156h0m0 283h0m0-14h0m0 105h0m1-238h0m0-84h0m0 248h0m0 101h0m0-257h0m0 135h0m1-79h0m0 139h0m0 97h0m0-93h0m0-95h0m1 7h0m1 36h0m3 40h0m1-78h0m12-89h0m0 137h0m1-34h0m1-42h0m0 153h0m1-39h0m0-169h0m0 64h0m1 127h0m0-214h0m0 46h0m0 118h0m1-44h0m0 106h0m0-186h0m0 217h0m1-240h0m1 162h0m0 0h0m1-36h0m0 77h0m0-139h0m1 44h0m0-47h0m1 25h0m0 62h0m2-24h0m4 59h0m7 8h0m1-23h0m0-10h0m1-131h0m2 86h0m0 65h0m0-197h0m1 135h0m0 22h0m0-36h0m0 38h0m1 4h0m0-144h0m0 31h0m1 188h0m0-13h0m1-161h0m0 116h0m0 30h0m1-167h0m0 185h0m0-153h0m1 66h0m0 87h0m0-99h0m2 0h0m1-28h0m1 109h0m1-96h0m13 101h0m2-35h0m0-54h0m1-4h0m1-16h0m1 106h0m0-17h0m0-162h0m0 96h0m0 53h0m0-46h0m1-90h0m0 75h0m1-85h0m0 69h0m0-27h0m0 135h0m1-62h0m0-132h0m0 165h0m1-17h0m1-7h0m0 102h0m0-152h0m0-82h0m1 191h0m0 35h0m1-173h0m0 104h0m0-45h0m3 55h0m0-27h0m22-395h0m0 126h0m0 27h0m0-113h0m1 71h0m0-31h0m1 22h0m0-80h0m1 115h0m0-7h0m1-92h0m0 94h0m2-82h0m2 109h0m2 0h0m0-149h0m83 362h0m3 100h0m0 3h0m1-208h0m0-102h0m0 242h0m1-131h0m0 228h0m2-177h0m1 8h0m0 163h0m0-136h0m0-212h0m0 354h0m0-339h0m0 120h0m1 78h0m0-44h0m0 63h0m1-4h0m0-219h0m0 265h0m0-18h0m1-2h0m1 97h0m1-123h0m3-78h0m2 55h0m1 72h0m1-48h0m1 58h0m1-22h0m1-15h0m0-134h0m1 116h0m1-70h0m1 103h0m0-120h0m0 53h0m0 23h0m0 65h0m0-31h0m2-14h0m0-106h0m0 103h0m3 48h0m0-81h0m0 72h0m0 2h0m0-30h0m5-50h0m1-31h0m0 85h0m0 65h0m0-59h0m2 28h0m0-152h0m1 62h0m0 85h0m3-64h0m0 24h0m0-275h0m0 149h0m1 149h0m0 58h0m0-97h0m0 6h0m0 18h0m0-11h0m1-49h0m0-14h0m1 80h0m0-177h0m0 97h0m0 28h0m0-52h0m0 80h0m0-18h0m1 103h0m0-103h0m0 3h0m0-100h0m1 104h0m0-81h0m0 81h0m1-3h0m0 24h0m1-52h0m0 11h0m14 29h0m2 42h0m0-16h0m2-84h0m1 87h0m1-73h0m1 73h0m0 80h0m1-53h0m0 48h0m1-98h0m0 26h0m1-57h0m1 154h0m0-94h0m0-19h0m1 3h0m0 97h0m0-76h0m1-155h0m1 61h0m1 115h0m0-49h0m1-141h0m2 251h0m0-180h0m0 122h0m0-66h0m1-71h0m2 53h0m5 17h0m1-229h0m2 233h0m0 42h0m0-84h0m1-109h0m0 129h0m1 26h0m0 24h0m0-325h0m1 314h0m0-87h0m0 151h0m0-124h0m0 63h0m1-4h0m0-241h0m0 179h0m0 78h0m0-322h0m1-8h0m1 295h0m2-43h0m0-85h0m1-2h0m2 173h0m1-7h0m0-217h0m3 206h0m0-225h0m3 299h0m0-123h0m0-147h0m1 226h0m0 27h0m0 19h0m2-60h0m0-27h0m0 13h0m0 30h0m0 71h0m1-64h0m0-9h0m0-2h0m0-260h0m0 197h0m2 12h0m0-221h0m1 178h0m0 61h0m0 77h0m0-110h0m1 74h0m0-32h0m0-129h0m1 172h0m1-147h0m2 78h0m1 78h0m2-88h0m5-98h0m1 96h0m1-17h0m0 36h0m1-86h0m0 111h0m1-14h0m2-21h0m0 101h0m0-115h0m1 56h0m0-90h0m0 96h0m0 35h0m1-102h0m0-34h0m0 74h0m1-107h0m1 107h0m0 13h0m1-45h0m0 79h0m2-130h0m3 96h0m1-87h0m0 27h0m2 43h0m1-37h0m2-47h0m0-18h0m1 55h0m0 28h0m0 8h0m1 117h0m0-104h0m1 16h0m0-95h0m0 134h0m0-67h0m0-86h0m1 182h0m0-144h0m0-57h0m0 67h0m1-8h0m0 4h0m0-3h0m1 147h0m0-50h0m1-151h0m0 103h0m1-46h0m0 99h0m1-138h0m1 133h0m2-37h0m1-95h0m4 141h0m3-70h0m2-28h0m0 81h0m0 16h0m2-52h0m0-101h0m0 58h0m1 61h0m0 11h0m0-12h0m1-140h0m0 117h0m0 6h0m0 23h0m0 20h0m1-12h0m0-20h0m0-10h0m0-118h0m0 143h0m0-150h0m0 186h0m1-87h0m0 32h0m0-30h0m1 61h0m0 3h0m0-24h0m1-111h0m0 88h0m0 69h0m0-59h0m1-47h0m0 21h0m0-49h0m1 96h0m0-158h0m0 102h0m0-16h0m1 83h0m2-2h0m12-127h0m1 98h0m1 37h0m2-115h0m1 81h0m0-16h0m0-48h0m1 8h0m0-59h0m0 105h0m1 0h0m0 12h0m0-155h0m1 93h0m0 34h0m0-79h0m0-3h0m0 16h0m1 37h0m0 66h0m1-44h0m1-113h0m0 12h0m1-21h0m0 95h0m2-31h0m0 43h0m3 9h0m1 1h0m6 72h0m1-51h0m1-83h0m1 128h0m0 87h0m0-154h0m1 97h0m2-59h0m1-54h0m0-49h0m1 123h0m0-18h0m0 31h0m0 97h0m1-55h0m0-125h0m1 247h0m1-64h0m0 10h0m0-293h0m1 174h0m1 25h0m0-69h0m2 18h0m1 36h0m2 14h0m0 37h0m2-128h0m1 124h0m0 23h0m0-101h0m0 32h0m1-44h0m1 69h0m0-13h0m1-44h0m0-29h0m1 26h0m0 35h0m0-59h0m0-62h0m1 176h0m0-110h0m0-41h0m0 65h0m0 4h0m0-7h0m1-17h0m0-88h0m0 121h0m0 20h0m2-17h0m0-41h0m1 9h0m0 95h0m2-29h0m1-103h0m7 62h0m1 19h0m1-62h0m1 93h0m0-208h0m2 121h0m1 100h0m0-17h0m0-34h0m1 32h0m0-70h0m1 128h0m0-166h0m0 38h0m1 9h0m0 21h0m1-148h0m0 14h0m0 60h0m1 85h0m1 42h0m0-53h0m0-58h0m1-18h0m2 126h0m1-225h0m0 108h0m1 97h0m1-21h0m3-59h0m1 15h0m1-60h0m1 63h0m2 73h0m0-103h0m0 84h0m0-10h0m1-30h0m1-81h0m1 152h0m0-88h0m0 44h0m1-32h0m0-18h0m0 49h0m1-63h0m1 49h0m0 29h0m0-18h0m1-59h0m0 15h0m1-1h0m1 26h0m1-48h0m1 52h0m1-126h0m1 69h0m0 90h0m5-133h0m2 53h0m1 14h0m0-76h0m3 116h0m0-132h0m0 112h0m1 121h0m0-157h0m0 8h0m0 23h0m1 59h0m1-145h0m0-5h0m0 204h0m0-103h0m0 20h0m1 3h0m0-117h0m2 209h0m1-10h0m2-169h0m3 6h0m1 132h0m2-60h0m1-32h0m1-86h0m0 129h0m1-58h0m0-78h0m1 211h0m0-163h0m1 15h0m0-14h0m0 38h0m0 10h0m3-48h0m0 135h0m2-112h0m0-36h0m2-53h0m0 107h0m0 3h0m1-101h0m1 99h0m0-24h0m5-6h0m0 144h0m0-138h0m0-57h0m1 55h0m0-32h0m1-157h0m0 176h0m0 102h0m1-17h0m0-35h0m0-190h0m0 166h0m1-66h0m0 31h0m0 36h0m0-123h0m0 197h0m0-39h0m1 50h0m0-157h0m0-53h0m0 196h0m0-173h0m1 20h0m0 162h0m0-62h0m1 76h0m0-94h0m1 38h0m0-239h0m0 283h0m1 7h0m0-248h0m0 184h0m0 16h0m0-179h0m0 236h0m1-89h0m0 23h0m0-24h0m0-119h0m1 134h0m0 9h0m0-60h0m2-197h0m1 278h0m0-86h0m2-58h0m3-25h0m0 177h0m1-73h0m2-24h0m0 2h0m1 121h0m0-115h0m1-60h0m0 98h0m0-117h0m0 77h0m1 7h0m0-41h0m1 78h0m0-84h0m0 29h0m1 68h0m0-132h0m0 117h0m3 70h0m0-223h0m0 85h0m0 21h0m0 36h0m1-21h0m0-29h0m0 121h0m0-99h0m0 6h0m0-139h0m3 152h0m0-78h0m12-22h0m0 59h0m2-152h0m0 156h0m0-89h0m0 85h0m1-23h0m0-36h0m2 80h0m0-99h0m1 4h0m0 199h0m0-27h0m0 2h0m1-106h0m0 99h0m0-83h0m0-78h0m0 103h0m3 75h0m0-6h0m0-140h0m0 85h0m0-158h0m0 154h0m1-67h0m0-20h0m0 60h0m1-3h0m1 59h0m2-56h0m1 130h0m1-237h0m12 112h0m1 43h0m0-61h0m1 46h0m0-88h0m1 88h0m0-220h0m1 75h0m0-4h0m0-33h0m1 207h0m1-74h0m0 75h0m1-245h0m0 175h0m1 5h0m0-103h0m0 33h0m0 31h0m0-41h0m1 149h0m0-174h0m0 1h0m0 13h0m0 143h0m1-158h0m0-2h0m0 185h0m1-220h0m0 60h0m0-57h0m7 109h0m0-130h0m10-10h0m1 172h0m2-27h0m0 20h0m2-142h0m1 3h0m0 54h0m0 88h0m1-82h0m0 23h0m1-77h0m0 57h0m0-53h0m0 50h0m1 31h0m1-97h0m1 204h0m0-94h0m1 40h0m0-100h0m0 41h0m1 54h0m1-26h0m1 10h0m1-123h0m5 100h0m0-56h0m0 75h0m0-55h0m2-156h0m0 199h0m0-19h0m1 75h0m0-187h0m0 114h0m0 44h0m0-65h0m2 42h0m1-11h0m1 59h0m0-25h0m0 56h0m0-72h0m0-205h0m2 301h0m0-108h0m0 63h0m1-100h0m1 135h0m0-192h0m0-148h0m0 78h0m1 174h0m0-60h0m1 109h0m0-92h0m0-32h0m0 176h0m1-8h0m0-171h0m1-212h0m0 398h0m1-130h0m10 93h0m1-58h0m2 49h0m0-119h0m0 36h0m0-4h0m1 99h0m0 57h0m1-102h0m0-120h0m0 121h0m0-204h0m1 110h0m0 108h0m0-25h0m1 40h0m1-149h0m1-12h0m0 35h0m1-136h0m0 187h0m2 8h0m1 1h0m0-109h0m3 182h0m4 16h0m2-216h0m2-153h0m0 250h0m1 98h0m0-63h0m0-193h0m1 198h0m1-35h0m1-13h0m1-27h0m0-67h0m0 166h0m0 86h0m0-153h0m1-67h0m0 51h0m0 57h0m0-192h0m0 338h0m2-141h0m0 126h0m0-24h0m1 6h0m0 44h0m0-186h0m0 161h0m1-98h0m0 68h0m2 18h0m0-193h0m1 64h0m0 106h0m0-52h0m0-15h0m1 161h0m0 39h0m0-23h0m0-191h0m0 79h0m1-37h0m1 1h0m0 87h0m1 21h0m0 17h0m0-18h0m0 8h0m0-50h0m1 109h0m0-30h0m1-137h0m0 160h0m2-154h0m1 121h0m0-152h0m1 185h0m2-119h0m9-5h0m1 35h0m0-52h0m0 122h0m1-49h0m2-79h0m0 43h0m2-46h0m0 28h0m0 46h0m1-97h0m0-49h0m0 18h0m1 144h0m0-79h0m0 12h0m0-79h0m1 134h0m0-45h0m1 44h0m0-109h0m3 70h0m2 95h0m4-35h0m1 43h0m0-74h0m0-14h0m2 28h0m0-91h0m0 18h0m1 16h0m1-6h0m0 45h0m0-57h0m1 97h0m0-131h0m1 79h0m1-73h0m1 30h0m0-71h0m0 147h0m0-6h0m1-124h0m2 193h0m1-70h0m0-78h0m3-59h0m2 93h0m0 36h0m1-25h0m0-60h0m0 16h0m0 34h0m1 99h0m0-92h0m1 30h0m0-79h0m0 23h0m1 105h0m0-87h0m0-47h0m0 36h0m1 2h0m0-24h0m0-10h0m0-44h0m1 102h0m0-21h0m0-43h0m0 77h0m0-30h0m1 31h0m1 43h0m1-90h0m1-69h0m0 149h0m1-145h0m0 23h0m0 94h0m0-78h0m1 62h0m0 79h0m11-181h0m1 96h0m1 21h0m0 1h0m1-143h0m0 120h0m1 89h0m0-189h0m0 158h0m1-103h0m0 71h0m1-1h0m0 34h0m0-161h0m0 169h0m1-6h0m0 2h0m1-206h0m0 182h0m0-15h0m0-148h0m1-57h0m0 7h0m0-13h0m1 175h0m0 17h0m0-7h0m0-69h0m0 129h0m0-100h0m1 58h0m1 13h0m1 40h0m0-52h0m8-29h0m1-105h0m4 33h0m0 62h0m0 47h0m0-50h0m1-92h0m0 71h0m1 22h0m0 117h0m0-147h0m1 117h0m1-43h0m1 6h0m0-137h0m0 196h0m0-65h0m0 25h0m0-68h0m0 85h0m1-61h0m1 38h0m2-13h0m3 11h0m7 9h0m0-111h0m1 13h0m3 88h0m0 22h0m1-29h0m0-76h0m0 67h0m1 53h0m0-69h0m0 5h0m0 37h0m1-61h0m0 18h0m0 13h0m2-11h0m1 58h0m0-28h0m0 28h0m0-52h0m1 10h0m1-7h0m2 19h0m0-421h0m1 421h0m1-109h0m1-269h0m2-5h0m0-71h0m2 48h0m0-25h0m2 470h0m0-142h0m0 99h0m1-378h0m2 365h0m0-9h0m1-356h0m1 9h0m0 332h0m1 19h0m1 55h0m0-22h0m1-428h0m0 355h0m0 49h0m0-36h0m1 34h0m0 4h0m2-120h0m1 91h0m0-45h0m2 87h0m0-127h0m1 125h0m2 2h0m31-271h0m3 124h0m1 22h0m0-102h0m1-52h0m1-13h0m1 70h0m0-56h0m0 36h0m0 17h0m1-38h0m0 132h0m0-56h0m1-85h0m0 108h0m1-134h0m1 56h0m0 68h0m2-120h0m0 21h0m0 112h0m0-48h0m1-14h0m11-25h0m2 82h0m0-98h0m1-54h0m0 115h0m1-64h0m1 54h0m1-46h0m1 114h0m1-43h0m0-75h0m1 88h0m0 28h0m0-108h0m0-47h0m0 7h0m0 136h0m1-158h0m1 35h0m0 122h0m1-135h0m1 10h0m1 140h0m0-74h0m1-56h0m3 80h0m8 9h0m0 267h0m3-84h0m1-201h0m1 86h0m1 9h0m0-30h0m1 145h0m0-68h0m0 46h0m0-43h0m0-98h0m1 13h0m0-28h0m0-141h0m0 31h0m0 281h0m0-74h0m0 150h0m1-278h0m0 138h0m0-105h0m0 50h0m0-14h0m0-108h0m0 237h0m0-67h0m0 64h0m0-297h0m0 26h0m1 221h0m0-20h0m1-26h0m0-176h0m0 104h0m0 217h0m1-79h0m0-185h0m1 3h0m0 170h0m0-206h0m0 39h0m0 16h0m0 136h0m0 25h0m1-221h0m0 284h0m1-307h0m0 98h0m1 203h0m0-324h0m1 62h0m3 27h0m2 222h0m2 78h0m2-108h0m0 101h0m1-72h0m0 31h0m0-19h0m0-7h0m0-85h0m0 85h0m1 49h0m0-62h0m0-174h0m1 192h0m0-118h0m0 114h0m0-202h0m1 9h0m0 212h0m0-170h0m0 66h0m0 140h0m1-14h0m0-40h0m1 27h0m2-35h0m0-88h0m1 87h0m0-143h0m1 173h0m0-155h0m1 135h0m1-20h0m6-7h0m2 9h0m0-67h0m1 65h0m0 13h0m0-12h0m2 73h0m0-124h0m0 22h0m1 30h0m0-94h0m1 82h0m1 38h0m0 3h0m1-157h0m0 27h0m1 18h0m0 48h0m2 13h0m0 76h0m1 5h0m0-206h0m0 76h0m1 74h0m0-40h0m3 63h0m3-42h0m3-67h0m1 79h0m0 16h0m2-143h0m0 44h0m1 51h0m1-76h0m1 58h0m0 91h0m0-75h0m1 80h0m0-98h0m0-82h0m0 99h0m1-44h0m0-13h0m0 166h0m0-49h0m1-52h0m0 19h0m1-63h0m1 54h0m0-44h0m0 37h0m0 18h0m1 44h0m1-55h0m1-91h0m1 97h0m1 72h0m12-70h0m0 7h0m1 65h0m1-320h0m2-36h0m0 319h0m0 60h0m0-76h0m0 32h0m1 20h0m1-126h0m1-59h0m0 16h0m1 155h0m0-321h0m1 129h0m0-132h0m0 280h0m1-212h0m1-27h0m0-57h0m0 379h0m1-100h0m0-27h0m0-257h0m1 320h0m0-245h0m1 256h0m1-113h0m1 81h0m0-32h0m1-76h0m0 89h0m2-182h0m0-125h0m1 309h0m1-35h0m2 137h0m0-104h0m0 11h0m1-78h0m0 74h0m0 50h0m1-89h0m0 7h0m1 88h0m1-114h0m0 34h0m0 47h0m1-121h0m1 57h0m0-46h0m0 89h0m1 21h0m0-47h0m3-87h0m1 122h0m3 72h0m4-57h0m0 6h0m1 13h0m1-28h0m0 18h0m1 31h0m0-57h0m0 49h0m1-70h0m0 51h0m1 22h0m0 57h0m0 34h0m1-80h0m0 25h0m0-96h0m1-33h0m0 91h0m0 30h0m0-14h0m1 22h0m0-154h0m0 105h0m1 62h0m0-192h0m0 169h0m0-42h0m1-51h0m0 48h0m1 56h0m3-65h0m1-49h0m0 171h0m9-99h0m1-448h0m1 342h0m0 28h0m1-280h0m0 334h0m0 58h0m0-470h0m0 82h0m1 204h0m1-268h0m0 393h0m0-73h0m1-25h0m0-281h0m1 374h0m0-51h0m1-22h0m0-302h0m1 386h0m1-103h0m0 82h0m0 4h0m1-455h0m0 408h0m0 91h0m1-97h0m1-45h0m0 107h0m0-26h0m0 35h0m1-105h0m0 76h0m0-55h0m2-5h0m0-64h0m1 156h0m4-98h0m3-296h0m1 239h0m2 111h0m0 56h0m0-77h0m0-23h0m0-26h0m1 7h0m0 125h0m0-134h0m0 35h0m1 16h0m0-387h0m1 349h0m0 40h0m1-65h0m0 37h0m0-370h0m0 336h0m0-70h0m0 109h0m0 31h0m0 32h0m1-43h0m0-13h0m0 15h0m0-349h0m0 307h0m1 31h0m1 46h0m0-112h0m0 61h0m0-36h0m0-3h0m2 123h0m1-93h0m3 1h0m9 10h0m3-97h0m1 140h0m1 33h0m0-20h0m1 1h0m0-77h0m0 3h0m0 22h0m1-84h0m0 31h0m0 71h0m1-54h0m0 117h0m0-117h0m0-9h0m1 57h0m0-126h0m0 64h0m1 49h0m0 3h0m2-17h0m0 34h0m0-64h0m0-10h0m1 27h0m0-47h0m0 79h0m2-53h0m0 14h0m0-31h0m10 93h0m2-28h0m1 13h0m1 39h0m0 39h0m1-112h0m1 74h0m0-76h0m1-24h0m0 71h0m0-34h0m0-18h0m1-1h0m0 92h0m0-84h0m2 86h0m0-65h0m0 27h0m1-111h0m0-8h0m0 6h0m1 87h0m0-78h0m1 8h0m0 148h0m0-41h0m1 45h0m0-10h0m0-107h0m0-38h0m0 100h0m1-28h0m2 111h0m1-94h0m1 47h0m7-263h0m2 25h0m0-26h0m0-66h0m2 330h0m1-84h0m1-180h0m0 135h0m1-166h0m1 189h0m1 8h0m0 4h0m0 49h0m1-7h0m0-70h0m0-95h0m1 191h0m0-277h0m0 13h0m1 273h0m0-18h0m0-36h0m1 13h0m0 43h0m0 35h0m0-128h0m0-35h0m0 113h0m1-41h0m1-265h0m0 303h0m0-269h0m0 318h0m0 4h0m0-196h0m0 104h0m1 41h0m0 34h0m1-18h0m0-51h0m0 67h0m0-87h0m0-15h0m4 104h0m12-11h0m1 24h0m1-139h0m1 149h0m0-78h0m1 81h0m1-70h0m0-130h0m0 143h0m1 27h0m1-27h0m0-28h0m1 48h0m0 12h0m0-165h0m0 28h0m0-64h0m0 43h0m1 135h0m0 48h0m0 10h0m0-123h0m0-217h0m1 219h0m0 50h0m0-16h0m1-224h0m0 177h0m0 133h0m0-35h0m0-45h0m1 13h0m0 65h0m1-153h0m0 116h0m0-35h0m13 20h0m0-68h0m1 7h0m1-9h0m1-91h0m2 86h0m0-50h0m0 24h0m1 49h0m0 44h0m1-87h0m0 94h0m0 4h0m0-130h0m1 196h0m0-150h0m0 35h0m1-24h0m0-29h0m0 109h0m0-39h0m1-34h0m1-59h0m0 80h0m1-67h0m0 165h0m0-118h0m0-14h0m1-101h0m0 111h0m1 60h0m0-6h0m0-95h0m2 21h0m1-42h0m3 179h0m6-30h0m1-65h0m1 8h0m0 7h0m0-6h0m2-88h0m0 93h0m0-51h0m1 4h0m1-40h0m1-52h0m1 83h0m1 22h0m0-43h0m0 107h0m0 15h0m1 19h0m1-66h0m0-65h0m1-4h0m0 92h0m1-37h0m0 14h0m2-33h0m1 87h0m0-91h0m2-205h0m1 300h0m0-260h0m1 259h0m0-243h0m4 158h0m1-203h0m0 7h0m0 236h0m1-69h0m0 99h0m0-74h0m0 25h0m0 11h0m1 30h0m0-53h0m1-102h0m0-101h0m0 190h0m1-85h0m0-124h0m0 217h0m0 20h0m0 30h0m1 25h0m0-119h0m0 87h0m0 15h0m0-4h0m1-62h0m0 93h0m0-13h0m2 12h0m0-12h0m1-36h0m0 39h0m0-23h0m0 4h0m8-75h0m3 93h0m1-270h0m1 282h0m1-123h0m1-80h0m0 118h0m0 28h0m0-277h0m1 19h0m0 219h0m0 90h0m0-2h0m1-156h0m1-34h0m0 45h0m1 43h0m0-104h0m0 127h0m1 75h0m0-76h0m1 55h0m0-45h0m1 40h0m0-109h0m2 79h0m0-235h0m1 230h0m16 183h0m0-68h0m1 21h0m0 15h0m0-14h0m2-164h0m0 170h0m1 27h0m0 7h0m1-42h0m0 24h0m0-21h0m0 6h0m1-253h0m0 258h0m1-13h0m0 64h0m0-107h0m1 62h0m0-60h0m1-127h0m0 206h0m0-261h0m0 202h0m1 69h0m0-25h0m1 35h0m1-45h0m0 10h0m0-1h0m2 18h0m3 6h0m1-58h0m0-6h0m2-77h0m0 140h0m0-217h0m0 160h0m1-1h0m0-19h0m0 12h0m3 69h0m0-72h0m0-18h0m1 32h0m0-151h0m1 109h0m1 21h0m0-83h0m1 31h0m0-21h0m0 91h0m0 43h0m0-129h0m0-23h0m1-17h0m1 53h0m0-427h0m1 450h0m1-458h0m0 530h0m1-127h0m0 37h0m1-10h0m0 21h0m2-393h0m1 41h0m1-89h0m4 466h0m1 84h0m0-468h0m0 406h0m1-358h0m0 280h0m0-343h0m2 338h0m1-6h0m0 46h0m0-45h0m0-325h0m1 427h0m0 10h0m1 9h0m1-153h0m0 34h0m1 102h0m0 101h0m0-154h0m0 55h0m1 64h0m0-123h0m0-51h0m1 120h0m0-115h0m0 102h0m1 3h0m0 44h0m2-91h0m1-26h0m1-63h0m1 132h0m1-109h0m7 55h0m6 84h0m0-68h0m1 86h0m0-175h0m0 144h0m1-74h0m0 46h0m1-85h0m0 35h0m1-7h0m0 10h0m1-38h0m1 41h0m0 7h0m0 109h0m0-32h0m1-22h0m0 23h0m0 30h0m0-63h0m0 49h0m1-105h0m0-66h0m1 122h0m2-9h0m1 21h0m9-101h0m1 68h0m1 19h0m0-43h0m0 107h0m2-43h0m1-90h0m0 74h0m0-27h0m1-115h0m0 129h0m0-64h0m0-31h0m1 182h0m0-208h0m0 174h0m0-35h0m0 16h0m1 6h0m0-64h0m0-74h0m2 131h0m0-72h0m1-62h0m0 93h0m0-32h0m0 20h0m0-218h0m0 162h0m1-30h0m0 73h0m0 9h0m1 100h0m0-91h0m0-45h0m1 143h0m1-110h0m0-54h0m0-223h0m1-6h0m1 71h0m0 0h0m1 37h0m0 132h0m1-64h0m12 151h0m1 81h0m1-212h0m2-13h0m1 172h0m0-32h0m0-114h0m1 25h0m1 75h0m0 21h0m1-18h0m0-132h0m1-7h0m0 121h0m0-108h0m0 160h0m1-132h0m0 80h0m0-47h0m1 128h0m1-42h0m0-138h0m1 94h0m1 10h0m0-46h0m0 66h0m10-139h0m1 109h0m0 59h0m1-49h0m0-99h0m1 113h0m0-14h0m1-70h0m0 98h0m1-25h0m0 33h0m0-25h0m1 45h0m0-120h0m1 83h0m0-47h0m0 29h0m0-143h0m0 88h0m1 110h0m0-123h0m1 159h0m0-115h0m0 63h0m0-7h0m1-45h0m0-12h0m0 82h0m1-79h0m0-45h0m1-32h0m0 66h0m1-51h0m1 80h0m0-35h0m0-87h0m0 64h0m1-7h0m3 173h0m1-70h0m13-9h0m3-24h0m0-68h0m1 83h0m0-47h0m0-16h0m1 90h0m0-93h0m0-80h0m0 19h0m0 93h0m1 8h0m0-11h0m1-40h0m0-25h0m0-24h0m0 124h0m0-86h0m0 43h0m0 27h0m0-15h0m1 10h0m0 16h0m0-9h0m0-114h0m0 8h0m0 62h0m1-43h0m1 61h0m0 2h0m0 50h0m1-92h0m0 34h0m2 25h0m0-128h0m1 122h0m3-260h0m0-57h0m1 137h0m2 15h0m2-149h0m1 61h0m0-61h0m0 176h0m2-100h0m0 56h0m1 4h0m1-29h0m0-76h0m1 149h0m1-57h0m2-115h0m2 114h0m0 58h0m7-86h0m0 110h0m3-118h0m0 104h0m1-57h0m0 40h0m1-88h0m0-98h0m0 199h0m2-70h0m0-49h0m0 129h0m1-92h0m0-33h0m1-51h0m1 95h0m0 75h0m0-36h0m1 35h0m0-292h0m0-86h0m4 73h0m0 44h0m0-63h0m4 0h0m1 299h0m1-40h0m1-30h0m0 32h0m1-71h0m0 145h0m1-103h0m1 102h0m0-103h0m1 28h0m0-107h0m2 183h0m5-132h0m30 177h0m97 48h0m1-151h0m0 201h0m0-100h0m1-48h0m2 151h0m1-17h0m0-34h0m0-150h0m1 175h0m0-2h0m1-41h0m0 97h0m0-144h0m0 136h0m0-182h0m1 209h0m1-112h0m0 12h0m1 46h0m0-103h0m1 41h0m0 74h0m0 7h0m1-112h0m0-20h0m1 162h0m6-138h0m3 6h0m0 20h0m0 13h0m1 42h0m0-69h0m0 33h0m0-26h0m1 18h0m1-45h0m1 86h0m0-24h0m0-66h0m0 78h0m1-23h0m0-34h0m0-41h0m0 36h0m1 54h0m1-145h0m2 118h0m0-97h0m1 84h0m0 25h0m1-61h0m1-9h0m0-53h0m1 51h0m1-47h0m2 102h0m2 51h0m0 52h0m2-76h0m2-118h0m0-11h0m1 193h0m0-43h0m0-73h0m0 23h0m0 19h0m1-52h0m1 95h0m1-28h0m0-4h0m0 80h0m1-152h0m1 130h0m0-55h0m0 4h0m1-57h0m0 41h0m1-1h0m0 16h0m1 15h0m1 16h0m0-116h0m0 85h0m5 42h0m6-108h0m1 32h0m1 104h0m0-73h0m2-92h0m0 81h0m0 22h0m1-43h0m0-70h0m0 121h0m1-123h0m0 79h0m0-97h0m1 116h0m0-6h0m1-31h0m0-70h0m1 155h0m0-52h0m1-63h0m0 65h0m0-4h0m1 19h0m0-113h0m1 108h0m3-3h0m3-21h0m1-28h0m8 29h0m1-30h0m0 43h0m0 1h0m2-96h0m0-28h0m1 178h0m1-80h0m1 35h0m0-214h0m0-29h0m0-31h0m1 165h0m0-45h0m0 1h0m0 120h0m1-194h0m0 181h0m0-176h0m0 94h0m0 181h0m0-41h0m1 18h0m0 54h0m0-60h0m0-12h0m1-165h0m0-87h0m0-4h0m0-22h0m1 217h0m0 13h0m0-299h0m1 185h0m0-197h0m0 66h0m0 67h0m0 49h0m0 139h0m0-98h0m1-17h0m0 125h0m0-22h0m0-290h0m0 45h0m0 302h0m1-73h0m0-288h0m0 304h0m0-243h0m0 64h0m1-145h0m0 193h0m0-180h0m0 240h0m1 17h0m0-55h0m0-33h0m0-135h0m0 67h0m1-12h0m0 28h0m0-58h0m0 38h0m1 77h0m0-55h0m0-48h0m1-2h0m2 23h0m0 88h0m3-29h0m1-2h0m9-6h0m0 8h0m1-84h0m1-84h0m4-2h0m0 88h0m1-3h0m0 17h0m0 60h0m0-66h0m0-73h0m2-26h0m0 73h0m1 57h0m0-127h0m0 43h0m1 8h0m0 50h0m0 98h0m0-37h0m0-169h0m2 55h0m0 88h0m0-84h0m0 6h0m0 117h0m1-85h0m1 72h0m1-144h0m2 163h0m5 145h0m2-52h0m1 14h0m1-39h0m0 4h0m0 46h0m1 45h0m0-100h0m0 26h0m0-16h0m0-25h0m1 22h0m0 78h0m1-180h0m0-2h0m0 65h0m0-108h0m1 186h0m0-63h0m0-34h0m1-12h0m0 30h0m0 52h0m1-58h0m0 84h0m0-82h0m1 115h0m0-65h0m0-72h0m1-7h0m0 58h0m0-95h0m1 127h0m0 63h0m1-82h0m0-12h0m0 85h0m1-85h0m0 11h0m0-28h0m0 74h0m1 21h0m16-66h0m1-69h0m1-18h0m0 69h0m0 29h0m0 11h0m3 23h0m0-43h0m3-5h0m1-46h0m0 11h0m1 17h0m0-89h0m1 122h0m0-73h0m0 115h0m1-38h0m1 77h0m5-16h0m0-74h0m2 34h0m1-31h0m0-31h0m3 81h0m0 13h0m0-55h0m1-109h0m1 46h0m0-19h0m1 20h0m1 54h0m0-118h0m1 29h0m0 24h0m0 123h0m1-48h0m1 17h0m0-86h0m0-8h0m1-24h0m2 105h0m1-127h0m0 83h0m1-3h0m8-6h0m0 17h0m0-41h0m1 40h0m0 35h0m1-75h0m1 37h0m0 31h0m0-46h0m1 56h0m1 22h0m0-88h0m0-215h0m0 302h0m0-22h0m1-1h0m0 69h0m0-183h0m1 52h0m1 62h0m0 55h0m0-102h0m0 33h0m0 18h0m0-25h0m1-70h0m0 125h0m0 28h0m0-367h0m0 161h0m0 44h0m0 93h0m0 13h0m0-139h0m1-36h0m0 116h0m0-213h0m1 11h0m0 130h0m1-25h0m2 163h0m0-99h0m17-79h0m0 170h0m4-13h0m1-34h0m0 85h0m0-115h0m0 39h0m1-116h0m0 99h0m1 2h0m0 14h0m0-31h0m1 21h0m0-208h0m0 241h0m1-47h0m0 88h0m0-67h0m1 68h0m0-53h0m0 0h0m1-278h0m0 222h0m1 77h0m1-237h0m0 18h0m0 152h0m0 68h0m0 43h0m1-284h0m0 126h0m0-135h0m2-6h0m5 207h0m1 48h0m0-19h0m3 24h0m0-22h0m1-143h0m0 165h0m0-29h0m1 55h0m0-116h0m0-73h0m0 43h0m1 211h0m1-48h0m0-83h0m0 0h0m1 38h0m1-110h0m0 10h0m1 186h0m2-53h0m0-124h0m0 37h0m0-126h0m0 312h0m2-61h0m0-92h0m1-8h0m1-33h0m8-19h0m2 99h0m0-102h0m1 96h0m1-25h0m0-110h0m0-39h0m1 32h0m0 64h0m1-29h0m0 95h0m0 66h0m0-103h0m1 80h0m0-68h0m2 43h0m0-89h0m2-125h0m1 239h0m0-54h0m1-174h0m0 106h0m1 13h0m3 83h0m0 98h0m0-170h0m0 180h0m1-20h0m0-107h0m0 131h0m0-103h0m1-105h0m0 2h0m0 166h0m1-120h0m0 107h0m0-84h0m1 33h0m0 36h0m1 56h0m0-209h0m0 111h0m1 50h0m0-59h0m0 85h0m1 57h0m1-37h0m0-14h0m0-62h0m0 23h0m0-25h0m1 59h0m0 58h0m1-68h0m2-41h0m0 26h0m0-6h0m0 63h0m3 44h0m10-60h0m1 34h0m1-156h0m2 92h0m1 36h0m1-56h0m0-26h0m1 145h0m0-119h0m0-4h0m1 33h0m1-80h0m0 46h0m0 28h0m0 47h0m1-69h0m1-65h0m1 105h0m0-177h0m0 59h0m0 22h0m1 87h0m3 86h0m4-256h0m1 164h0m1-38h0m0-52h0m0-64h0m1 22h0m0-187h0m1-40h0m1 221h0m0-107h0m0 236h0m1-47h0m0 91h0m0-41h0m0-9h0m1-65h0m0 105h0m0-120h0m0 99h0m0-34h0m0 31h0m0-81h0m1 23h0m0 9h0m1-88h0m0-182h0m0 353h0m0-34h0m1 14h0m0-123h0m0-186h0m1 146h0m1-29h0m0 106h0m1 93h0m0-133h0m1 114h0m1 14h0m0-145h0m1-18h0m1 24h0m9-28h0m2 114h0m0-101h0m0 8h0m2 200h0m1-125h0m0-91h0m1 97h0m0-14h0m0 129h0m1-115h0m1 100h0m0-99h0m1-97h0m0 237h0m0-131h0m0 73h0m1-26h0m1-164h0m0 127h0m1-80h0m1 158h0m1-42h0m0-36h0m0-39h0m1-21h0m0 55h0m6-13h0m1-65h0m1 149h0m1-98h0m0 85h0m1 7h0m1-64h0m0-79h0m0 111h0m1-20h0m0 14h0m0 27h0m1 2h0m0-83h0m1 98h0m0-23h0m0-86h0m1 136h0m1-56h0m1-97h0m1 17h0m1 116h0m0-71h0m0 24h0m1 75h0m4-192h0m8-6h0m0 107h0m1-53h0m1 70h0m0 3h0m1 69h0m1-204h0m0 44h0m1 89h0m1-142h0m0 122h0m1-81h0m0-58h0m0 114h0m0 40h0m1-56h0m1 50h0m1 3h0m1-83h0m1 123h0m0-51h0m1-78h0m1 96h0m2-91h0m1-4h0m3 5h0m0 17h0m1 18h0m1-32h0m0-57h0m1 95h0m0 3h0m0-114h0m0 5h0m1 79h0m1-46h0m0 51h0m1-66h0m0 127h0m0-150h0m0 138h0m0-122h0m0 79h0m0 29h0m1-59h0m0 142h0m1-121h0m0-44h0m1-11h0m0 34h0m0 105h0m0-53h0m0-86h0m1 6h0m1 54h0m2-23h0m1-2h0m1 112h0m12-56h0m3-68h0m0 86h0m2-12h0m0 37h0m1-14h0m0-27h0m0 100h0m0-46h0m1-27h0m0 52h0m0-125h0m0 68h0m0 39h0m1-12h0m1-22h0m1 26h0m1 57h0m0-2h0m1-89h0m1 59h0m0-69h0m4-101h0m1 162h0m0-73h0m3 14h0m1-56h0m0 78h0m0 40h0m1-38h0m1-15h0m0 18h0m0-196h0m0 215h0m1-148h0m0-78h0m1 275h0m1-343h0m0 268h0m1-69h0m0-200h0m0 241h0m0-57h0m0 47h0m0 126h0m0-410h0m0 254h0m1-200h0m0 219h0m1-40h0m1 163h0m2-146h0m1 48h0m0-215h0m1-50h0m2 285h0m1-4h0m0-18h0m3-265h0m0 167h0m0 118h0m0-164h0m0 149h0m1-6h0m0 31h0m0-164h0m0 97h0m0 94h0m1-57h0m0 149h0m0-360h0m0 302h0m0-92h0m1 35h0m0 99h0m0-306h0m0-26h0m0 171h0m1-219h0m1 185h0m1 39h0m0-46h0m1 257h0m0-172h0m1-81h0m1 44h0m0-40h0m0 109h0m0 73h0m0-179h0m3-52h0m0 102h0m1-140h0m1 143h0m5-33h0m1 51h0m0 19h0m0-77h0m1 76h0m1-63h0m2 116h0m0-13h0m1-46h0m1-15h0m1 21h0m1-85h0m0 62h0m0 59h0m0-27h0m0 77h0m0-131h0m1 47h0m0-3h0m1-120h0m1-45h0m0 155h0m0-15h0m0-90h0m1-7h0m1 67h0m1-14h0m1 83h0m2-29h0m0-1h0m1-112h0m13 165h0m0-154h0m1-8h0m1 4h0m0 71h0m1-43h0m0 92h0m0-112h0m0 149h0m1-66h0m0 16h0m1 17h0m0-3h0m0-41h0m0 8h0m0-97h0m1 56h0m0 70h0m0-150h0m0 104h0m0-16h0m0-8h0m0-22h0m1-32h0m1 135h0m0-90h0m0-28h0m0 101h0m2-97h0m0 97h0m1-12h0m1-61h0m0 128h0m0-79h0m1 21h0m1-65h0m2-27h0m12-47h0m1 67h0m3 103h0m0-26h0m0 52h0m0-21h0m0-65h0m0-15h0m1-156h0m0 161h0m1-67h0m0 109h0m1-107h0m0 64h0m0-95h0m0 74h0m0 63h0m0-47h0m0 36h0m1-35h0m0-52h0m0-94h0m1 130h0m0 11h0m0 11h0m0-135h0m1 169h0m0-170h0m0 4h0m1 4h0m0-76h0m0 135h0m0-125h0m0 247h0m0-425h0m1 215h0m0 130h0m0-90h0m0 120h0m1 19h0m0-452h0m0 163h0m0 311h0m0-281h0m1 139h0m0 117h0m0-290h0m0 326h0m0-287h0m1-36h0m0-152h0m1 172h0m0-60h0m1 107h0m0-66h0m0-44h0m2-82h0m0 144h0m1 82h0m0-106h0m0-21h0m1 80h0m0-115h0m1 33h0m0 32h0m1-128h0m8 57h0m1-33h0m2 109h0m0 135h0m0-87h0m1-31h0m0-146h0m1 202h0m0-72h0m2 122h0m0-127h0m0-154h0m0 193h0m1-72h0m0 94h0m0-117h0m0 81h0m1 82h0m1-105h0m1-162h0m0 140h0m0 47h0m1-153h0m1 43h0m0 225h0m0-296h0m3 99h0m1 64h0m11-83h0m1 180h0m1-186h0m1 162h0m1-65h0m1 67h0m1-215h0m0 212h0m0-138h0m1 182h0m0-66h0m0-9h0m0-58h0m1 29h0m1-19h0m0 67h0m0-66h0m0 20h0m0-2h0m1-8h0m0-91h0m0 17h0m1 39h0m0-17h0m0 106h0m0-192h0m1 275h0m0-252h0m0 118h0m0-111h0m0 54h0m1 137h0m0-154h0m1-8h0m0-49h0m0 129h0m2-168h0m2 259h0m9-241h0m2 228h0m1-123h0m0-10h0m1 61h0m1 48h0m0-150h0m0-17h0m1 71h0m1 186h0m0-283h0m1 261h0m0-153h0m0 37h0m0-57h0m2-63h0m0 104h0m0-11h0m1-50h0m0 56h0m0 38h0m0-59h0m2 72h0m0-14h0m0-21h0m1-109h0m0 35h0m1 68h0m0 46h0m1 50h0m0-141h0m0 115h0m0-104h0m1 101h0m5 199h0m0 4h0m2 25h0m1-30h0m0-16h0m0-9h0m0 40h0m1-171h0m0 122h0m0 0h0m2-152h0m0 195h0m0-29h0m0 49h0m0-204h0m0 41h0m0 79h0m1 95h0m0-158h0m1 103h0m0-88h0m0 114h0m1-44h0m0-54h0m1 109h0m2-114h0m0 49h0m0-48h0m5 180h0m1-62h0m0 54h0m2-126h0m0 10h0m0 83h0m1-60h0m0 59h0m0-4h0m0 36h0m1-24h0m0-81h0m0-24h0m1 64h0m0 6h0m1-114h0m0 103h0m1 60h0m0-125h0m1 60h0m0 59h0m1-14h0m0 17h0m1-10h0m0-38h0m0-12h0m1-79h0m0 100h0m0-24h0m0-2h0m1 89h0m0-95h0m1 12h0m1-19h0m0 7h0m0 83h0m1-38h0m13-72h0m2-35h0m0 101h0m1 48h0m0-169h0m2 108h0m0 22h0m2-58h0m0 4h0m0-35h0m1 18h0m1 26h0m0 70h0m1-152h0m0 73h0m0-86h0m0 108h0m0-67h0m0 75h0m0-52h0m1 12h0m0-77h0m1 121h0m2 12h0m2-4h0m4-76h0m1-159h0m1 140h0m1 71h0m0-50h0m2-4h0m0-1h0m1-230h0m0 66h0m0 272h0m1-49h0m1-331h0m0 346h0m0-17h0m0-2h0m0-158h0m2 151h0m0-348h0m0 328h0m1 8h0m0 53h0m0-415h0m0 368h0m1 2h0m0-311h0m1 305h0m0-349h0m0 339h0m1 44h0m0 13h0m1-29h0m0-88h0m1 67h0m1-236h0m1 40h0m1-29h0m0 235h0m8-8h0m0-39h0m2 117h0m1-172h0m0 137h0m0-42h0m0 1h0m2-51h0m0 48h0m1 22h0m0-68h0m0 35h0m0-84h0m1 97h0m0-1h0m0-42h0m1-192h0m0 266h0" stroke="#000" stroke-width="38" stroke-linecap="round" fill="none"/>
<path transform="scale(.1)" d="M1703 1063h0m22 170h0m19 949h0m180 328h0m216-1179h0m1-16h0m0-23h0m1 30h0m5-21h0m1 44h0m8-40h0m3 30h0m2-64h0m3 12h0m18-297h0m0-35h0m1 77h0m2-164h0m0 111h0m1-36h0m0 100h0m3-112h0m1-46h0m1 127h0m0-48h0m1-59h0m0 5h0m0 153h0m4-39h0m0-106h0m1 86h0m0-14h0m1-102h0m3-24h0m2 209h0m1 2h0m79 269h0m154-337h0m16-290h0m5 204h0m0 163h0m9-280h0m6 437h0m0 15h0m1 53h0m0-77h0m2 31h0m2 64h0m1 7h0m1 19h0m0-10h0m1-108h0m1-45h0m0 79h0m1 37h0m0-149h0m2 53h0m1 10h0m1-23h0m0 82h0m0 77h0m2-65h0m1 26h0m2-233h0m0 1150h0m1-1033h0m6 83h0m139-117h0m6 1391h0m1-1279h0m59 11h0m6 58h0m1-39h0m1-4h0m1 25h0m0-53h0m2-48h0m0 38h0m3-4h0m1-31h0m0 134h0m1-11h0m4-33h0m0-79h0m1-106h0m128 167h0m55 40h0m87-45h0m58 50h0m136-36h0m3-12h0m2 39h0m3-23h0m4-93h0m0 128h0m1 12h0m1-117h0m0 3h0m1 72h0m1-81h0m1 96h0m0-43h0m0 76h0m1-24h0m1-63h0m1 48h0m2-70h0m0 7h0m1-64h0m1 151h0m0-49h0m0-25h0m1-137h0m0 112h0m2-21h0m1-25h0m0-53h0m2 25h0m1-5h0m0-60h0m0 101h0m0-70h0m1-20h0m1 147h0m2-186h0m1 5h0m1 195h0m0-91h0m1-46h0m0 79h0m0-65h0m1-60h0m1-102h0m0-13h0m1 142h0m1 54h0m1-170h0m1 60h0m1-120h0m0 12h0m0 141h0m0-13h0m0-57h0m1 8h0m0 151h0m0-78h0m1-276h0m2-2h0m0 201h0m0 17h0m0-164h0m0 130h0m0-199h0m1 191h0m0-56h0m0 14h0m0 191h0m2-215h0m1-52h0m0-35h0m0 49h0m0-80h0m0 45h0m1 184h0m1-81h0m1-164h0m1 186h0m0-96h0m2 25h0m0-45h0m1 56h0m1-88h0m2 227h0m0-210h0m1 49h0m704 408h0m9-59h0m4 43h0m1-34h0m2-15h0m0-86h0m0 17h0m1 103h0m3 8h0m1-197h0m1-41h0m0 253h0m1 19h0m1-53h0m0-194h0m2 48h0m1 44h0m0-79h0m0 22h0m2-45h0m1 273h0m1-11h0m7 9h0m0-60h0m2-128h0m0-13h0m0-164h0m7-57h0m1 70h0m1-114h0m4 74h0m0 49h0m3-64h0m0 80h0m0-193h0m5 45h0m1-32h0m0 95h0m0-78h0m1 55h0m1-18h0m2 76h0m60 350h0m102-200h0m0 108h0m5 87h0m0 35h0m60-546h0m1-75h0m1 139h0m0-47h0m1-41h0m1-33h0m1 107h0m0-184h0m0 92h0m0 9h0m1 64h0m2 8h0m0-46h0m5 497h0m1 36h0m3-82h0m1 35h0m0-18h0m2-39h0m0 93h0m2-8h0m1-102h0m2-81h0m1 129h0m1 22h0m0-74h0m1 27h0m5 106h0m269-36h0m0 40h0m0-23h0m6 10h0m1 8h0m1-28h0m2-23h0m70 779h0m101-1067h0m294 164h0m1 108h0m3-62h0m1-35h0m0 16h0m1-190h0m0 129h0m1 1h0m3 16h0m47 206h0m0-34h0m5 9h0m2-40h0m3-17h0m2 66h0m1-60h0m3 28h0m1-1h0m4-82h0m38 88h0m154-8h0m3 31h0m1-46h0m5 27h0m347-87h0m0 83h0m0 47h0m136-37h0m7-14h0m2-157h0m1 64h0m0 45h0m3-76h0m1 81h0m1-108h0m0-22h0m1 151h0m0-43h0m0 99h0m1-95h0m0 103h0m0-62h0m1-108h0m0 23h0m1 129h0m3 24h0m0-147h0m0 19h0m0 88h0m1-124h0m0-44h0m1 128h0m3-40h0m2 63h0m5-133h0m89 1535h0m101-1407h0m0 0h0m87 53h0m4-40h0m0-33h0m1 57h0m5 8h0m2-27h0m1-171h0m4-2h0m0 211h0m4-59h0m0 19h0m0-17h0m1 26h0m1 15h0m0-47h0m1 72h0m1-150h0m0 2h0m8 97h0m405 16h0m0 33h0m4-86h0m41-67h0m4-77h0m0-357h0m0 150h0m1-58h0m2 70h0m2 350h0m1-382h0m1-30h0m0-60h0m1 9h0m0-36h0m1 106h0m0-52h0m0-9h0m4 77h0m0 161h0m0-213h0m3 28h0m0-33h0m1-49h0m2-12h0m241 537h0m2-73h0m1-144h0m4 59h0m1 71h0m0-27h0m1-16h0m0-16h0m1-5h0m0 104h0m0-50h0m0 38h0m4-5h0m1-62h0m1-357h0m0 16h0m0 75h0m1 222h0m5 63h0m206 129h0m51-141h0m10 110h0m2-141h0m1 178h0m2-88h0m1-75h0m0 2h0m1 113h0m0-26h0m1-36h0m5 10h0m1 34h0m3 10h0m2 51h0m2-15h0m2-97h0m1-18h0m191 1313h0m282-1218h0m8-96h0m3-204h0m0 236h0m1-316h0m0 319h0m2-66h0m0 73h0m0-143h0m1-9h0m1 71h0m1-134h0m1 89h0m1-59h0m0 95h0m1 57h0m0-146h0m0 4h0m0-45h0m0 122h0m1 79h0m1-96h0m0-80h0m1-7h0m1-55h0m3 31h0m0 159h0m0-71h0m1 83h0m1 20h0m2-66h0m0-20h0m11-38h0m3-79h0m5-246h0m149 1946h0m1-1449h0m142-397h0m20 470h0m203-5h0m1 5h0m1 5h0m227-41h0m4 38h0m2-80h0m2 90h0m0-11h0m1 13h0m1-92h0m3 65h0m1-17h0m0 18h0m1-15h0m2-18h0m1-217h0m0 0h0m3 246h0m5-104h0m0 0h0m99 134h0m1-104h0m1 72h0m2 18h0m0-34h0m0 6h0m30 1261h0m127-1740h0m1 170h0m1-29h0m0 143h0m1-95h0m1 17h0m0-122h0m1 415h0m1-287h0m1 21h0m1-162h0m0 26h0m1 168h0m1-118h0m0 334h0m1-348h0m0 125h0m0-147h0m0 169h0m1-103h0m0-55h0m0 255h0m2-149h0m0 163h0m1-231h0m0 83h0m0 142h0m0 42h0m3-347h0m1 280h0m1 89h0m0-111h0m1 123h0m1 49h0m1-161h0m1 107h0m0-17h0m3 48h0m0-76h0m0-12h0m2 22h0m5-58h0m7 112h0m171-18h0m72 55h0m2-32h0m1-34h0m0 21h0m3-53h0m1 91h0m1-221h0m0 58h0m2 97h0m1-57h0m1 21h0m1 79h0m0-56h0m1 28h0m1-61h0m1 106h0m463-373h0m2-55h0m2 433h0m0-413h0m3 371h0m0-309h0m1-75h0m2-22h0m1 94h0m0-41h0m1 174h0m0-92h0m0 38h0m0 39h0m1-248h0m1 110h0m0 44h0m0 9h0m4 74h0m0-53h0m1 47h0m0 116h0m1-340h0m1 20h0m5 175h0m12-206h0m0-142h0m2 380h0m3-44h0m0-67h0m0-71h0m1 95h0m2 11h0m0-118h0m1 113h0m0 116h0m0-195h0m0-231h0m1 132h0m0 155h0m0 177h0m1-265h0m0-305h0m0 68h0m0 377h0m1-170h0m1-103h0m1 371h0m0-318h0m0 257h0m1-268h0m1 257h0m0 87h0m0-355h0m1-45h0m0 35h0m0 60h0m0-77h0m0 345h0m0-17h0m1-367h0m1-10h0m0 97h0m0 414h0m0-488h0m1 123h0m0 241h0m1-189h0m0 106h0m1 31h0m1-111h0m0-61h0m2 75h0m1 14h0m1 169h0m0-188h0m1 395h0m3-78h0m200 50h0m358-27h0m114-28h0m0 41h0m38-145h0m2-163h0m1 52h0m1 8h0m1-20h0m0-30h0m1-28h0m2 41h0m4-51h0m0 109h0m0-164h0m1 129h0m0-26h0m1-54h0m0 158h0m1-25h0m2 10h0m0-118h0m3-296h0m0 638h0m0-244h0m3-19h0m267 213h0m5 44h0m1 28h0m1-23h0m1 10h0m0-259h0m0 130h0m8 102h0m183 839h0m69 320h0m9 169h0m234-1671h0m2 121h0m2-12h0m0-63h0m1-38h0m0-155h0m1 40h0m1 237h0m1-42h0m0-114h0m1-12h0m0 61h0m0 43h0m0-8h0m0-154h0m0 136h0m1-162h0m1 80h0m1 139h0m1-111h0m2-68h0m0-47h0m0 67h0m4-9h0m241 357h0m4 75h0m3-14h0m0-10h0m1-66h0m0 51h0m1 53h0m3-96h0m0 21h0m2 17h0m3-567h0m34 496h0m5-16h0m0 11h0m2 18h0m3-61h0m0-2h0m1 14h0m2 67h0m145 84h0m72-125h0m4 125h0m1 1640h0m1-1661h0m1 17h0m1-21h0m0 33h0m3 12h0m275-70h0m0 67h0m213-92h0m2-10h0m5-27h0m2-116h0m0 64h0m2 21h0m1-28h0m4 69h0m0 37h0m0 12h0m0-38h0m0-58h0m0 103h0m0-133h0m1 151h0m1-132h0m1 127h0m0-153h0m0-7h0m0 64h0m1 7h0m1 63h0m3-57h0m5-442h0m0 25h0m0 63h0m0 37h0m0 30h0m0 28h0m296 101h0m2-73h0m1 86h0m0-29h0m0 10h0m1-220h0m0 175h0m2 13h0m1-26h0m1 20h0m1 17h0m3-104h0m231 1962h0m177-736h0m14-821h0m45 14h0m13-122h0m0 35h0m0 32h0m0-254h0m2-55h0m2 25h0m0-107h0m0 116h0m1 309h0m0 5h0m2-286h0m1 25h0m1-131h0m1 37h0m1 119h0m0-43h0m1-130h0m0-159h0m0 392h0m0-91h0m0 22h0m0-121h0m0 354h0m1-375h0m1 83h0m2-115h0m3 81h0m3 345h0m0-385h0m5 400h0" stroke="#ffa500" stroke-width="38" stroke-linecap="round" fill="none"/>
<path transform="scale(.1)" d="M2463 583h0m0 162h0m0 88h0m7-28h0m5 187h0m0 121h0m12-180h0m145 1589h0m13-1189h0m1288-688h0m350-62h0m0 180h0m760 312h0m3700-453h0m3920 1011h0m339 59h0" stroke="#ff0000" stroke-width="38" stroke-linecap="round" fill="none"/>
<line x1="162.0" y1="320.9" x2="162.0" y2="35.5" stroke="#800080" stroke-width="2.08" stroke-dasharray="2.08 3.43"/>
<line x1="1303.0" y1="320.9" x2="1303.0" y2="35.5" stroke="#800080" stroke-width="2.08" stroke-dasharray="2.08 3.43"/>
</g>
<text x="732.5" y="312.7" font-size="14.7" text-anchor="middle" textLength="42.6" lengthAdjust="spacingAndGlyphs">18301</text>
<rect x="105.5" y="35.5" width="1380.0" height="286.0" fill="none" stroke="#000" stroke-width="1.11"/>
<text x="162.5" y="342.0" font-size="14.7" text-anchor="middle" textLength="7.5" lengthAdjust="spacingAndGlyphs">0</text>
<text x="334.5" y="342.0" font-size="14.7" text-anchor="middle" textLength="33.8" lengthAdjust="spacingAndGlyphs">2500</text>
<text x="506.5" y="342.0" font-size="14.7" text-anchor="middle" textLength="33.8" lengthAdjust="spacingAndGlyphs">5000</text>
<text x="679.5" y="342.0" font-size="14.7" text-anchor="middle" textLength="33.8" lengthAdjust="spacingAndGlyphs">7500</text>
<text x="851.5" y="342.0" font-size="14.7" text-anchor="middle" textLength="42.7" lengthAdjust="spacingAndGlyphs">10000</text>
<text x="1023.5" y="342.0" font-size="14.7" text-anchor="middle" textLength="42.7" lengthAdjust="spacingAndGlyphs">12500</text>
<text x="1195.5" y="342.0" font-size="14.7" text-anchor="middle" textLength="42.7" lengthAdjust="spacingAndGlyphs">15000</text>
<text x="1367.5" y="342.0" font-size="14.7" text-anchor="middle" textLength="42.7" lengthAdjust="spacingAndGlyphs">17500</text>
<path d="M162.5 321.5v4.86M334.5 321.5v4.86M506.5 321.5v4.86M679.5 321.5v4.86M851.5 321.5v4.86M1023.5 321.5v4.86M1195.5 321.5v4.86M1367.5 321.5v4.86" stroke="#000" stroke-width="1.11"/>
<text x="94.6" y="300.8" font-size="14.7" text-anchor="end" textLength="29.0" lengthAdjust="spacingAndGlyphs">10.0</text>
<text x="94.6" y="267.8" font-size="14.7" text-anchor="end" textLength="29.0" lengthAdjust="spacingAndGlyphs">10.2</text>
<text x="94.6" y="235.8" font-size="14.7" text-anchor="end" textLength="29.0" lengthAdjust="spacingAndGlyphs">10.4</text>
<text x="94.6" y="202.8" font-size="14.7" text-anchor="end" textLength="29.0" lengthAdjust="spacingAndGlyphs">10.6</text>
<text x="94.6" y="169.8" font-size="14.7" text-anchor="end" textLength="29.0" lengthAdjust="spacingAndGlyphs">10.8</text>
<text x="94.6" y="136.8" font-size="14.7" text-anchor="end" textLength="29.0" lengthAdjust="spacingAndGlyphs">11.0</text>
<text x="94.6" y="104.8" font-size="14.7" text-anchor="end" textLength="29.0" lengthAdjust="spacingAndGlyphs">11.2</text>
<text x="94.6" y="71.8" font-size="14.7" text-anchor="end" textLength="29.0" lengthAdjust="spacingAndGlyphs">11.4</text>
<path d="M105.5 295.5h-4.86M105.5 262.5h-4.86M105.5 230.5h-4.86M105.5 197.5h-4.86M105.5 164.5h-4.86M105.5 131.5h-4.86M105.5 99.5h-4.86M105.5 66.5h-4.86" stroke="#000" stroke-width="1.11"/>
<text x="794.4" y="26.7" font-size="17.6" text-anchor="middle" textLength="197.2" lengthAdjust="spacingAndGlyphs">AGASC ID 726670368.0</text>
<rect x="1361.3" y="42.3" width="117.3" height="27.4" rx="2.8" fill="#fff" fill-opacity=".8" stroke="#ccc" stroke-opacity=".8" stroke-width="1.39"/>
<line x1="1366" y1="54" x2="1396" y2="54" stroke="#008000" stroke-width="2.08"/>
<text x="1407.0" y="59.0" font-size="14.7" text-anchor="start" textLength="29.4" lengthAdjust="spacingAndGlyphs">mag</text>
<text x="1436.8" y="61.4" font-size="10.4" text-anchor="start" textLength="35.0" lengthAdjust="spacingAndGlyphs" font-style="italic">AGASC</text>
<rect x="1348.3" y="247.3" width="130.4" height="67.2" rx="2.8" fill="#fff" fill-opacity=".8" stroke="#ccc" stroke-opacity=".8" stroke-width="1.39"/>
<circle cx="1367.6" cy="260.2" r="1.85" fill="#ff0000"/>
<text x="1393.4" y="263.9" font-size="14.7" text-anchor="start" textLength="45.2" lengthAdjust="spacingAndGlyphs">not OK</text>
<circle cx="1367.6" cy="281.4" r="1.85" fill="#ffa500"/>
<text x="1393.4" y="285.1" font-size="14.7" text-anchor="start" textLength="77.8" lengthAdjust="spacingAndGlyphs">Highlighted</text>
<circle cx="1367.6" cy="302.3" r="1.85" fill="#000"/>
<text x="1393.4" y="306.0" font-size="14.7" text-anchor="start" textLength="18.2" lengthAdjust="spacingAndGlyphs">OK</text>
<g clip-path="url(#c2)">
<path transform="scale(.1)" d="M1629 5498h0m4-292h0m0 29h0m1-34h0m0 176h0m1 60h0m1-290h0m0 161h0m0-112h0m0 282h0m0 51h0m1 52h0m0-70h0m1-131h0m0 173h0m0-333h0m1 291h0m0-290h0m1 225h0m0-58h0m1 42h0m1 34h0m0-23h0m3-73h0m2-41h0m1 80h0m1-98h0m0 331h0m0-145h0m1-137h0m1-67h0m0 210h0m1-45h0m0-29h0m0 89h0m1-45h0m0-146h0m0 117h0m1 49h0m0-35h0m2-68h0m1-168h0m0 311h0m0-146h0m1 127h0m0-103h0m0-95h0m1 122h0m2 154h0m2-202h0m8-613h0m2 71h0m0-12h0m1 96h0m1-118h0m0-178h0m3 461h0m1-51h0m1-68h0m0-105h0m0 162h0m1-139h0m1-87h0m0 150h0m0-217h0m0 84h0m1 103h0m0-331h0m1 350h0m0-238h0m0 171h0m0-246h0m1-82h0m2 356h0m8 31h0m0 133h0m0 89h0m1-228h0m0 160h0m0-150h0m0 157h0m1-119h0m1 17h0m0-34h0m1 58h0m0 58h0m0 178h0m0-234h0m0 128h0m1-14h0m0-443h0m0 380h0m1-45h0m0-253h0m1-18h0m0 371h0m2-202h0m0 229h0m0-8h0m0-193h0m0 78h0m1-44h0m0-86h0m1 180h0m1 67h0m0-297h0m3-55h0m1 50h0m9-71h0m0 442h0m1-225h0m0-11h0m0 24h0m1-197h0m0 185h0m1-114h0m0 73h0m2-156h0m0-73h0m1 370h0m0-240h0m0 137h0m1-252h0m0 38h0m1 115h0m0 41h0m1-238h0m0 178h0m0-113h0m0 265h0m1-172h0m0 172h0m0-249h0m1 351h0m0-155h0m0-312h0m0 350h0m0-228h0m2 185h0m1-124h0m1 173h0m1-141h0m1 10h0m13 118h0m3 187h0m0-275h0m1-4h0m0 103h0m1-175h0m0 195h0m1-103h0m0-124h0m1 14h0m0 224h0m1 26h0m0 50h0m0-331h0m0 335h0m1-177h0m0-16h0m1-339h0m0 535h0m0-132h0m0 19h0m1-224h0m0 174h0m0 61h0m0-282h0m0 439h0m2-256h0m1 145h0m0-67h0m0 38h0m0-177h0m1-256h0m1 241h0m2 238h0m0 106h0m3-476h0m1 716h0m0-105h0m3-157h0m0 220h0m1-103h0m1-184h0m1 124h0m0 32h0m1 19h0m0 34h0m1-27h0m0 78h0m0 7h0m1-12h0m0-121h0m1 64h0m0-82h0m1 13h0m1-6h0m0-61h0m0 27h0m0 136h0m4 19h0m5-361h0m0 393h0m2-153h0m0 124h0m1-96h0m1 83h0m0-157h0m1 47h0m1 91h0m1-124h0m0 32h0m1 191h0m0-120h0m1-260h0m0 205h0m0-69h0m1 245h0m1-395h0m0 107h0m2 363h0m1-280h0m0 237h0m1-215h0m1-115h0m0-49h0m7 268h0m1 6h0m1 54h0m1 30h0m1-276h0m0 129h0m0-71h0m0 189h0m2-57h0m0 132h0m0-392h0m0 199h0m1-208h0m0 147h0m0-88h0m0-115h0m1 351h0m0-327h0m0 115h0m0 96h0m0 227h0m0-192h0m1-4h0m0 135h0m1-379h0m1 398h0m0-119h0m0-51h0m0 49h0m9-59h0m0 6h0m2 22h0m0-93h0m1-24h0m1 288h0m1-265h0m0-84h0m0 234h0m1-133h0m0-28h0m1-211h0m1 331h0m0-260h0m0 114h0m1 51h0m0 76h0m0-200h0m0 98h0m1-205h0m0-34h0m1 458h0m0-123h0m1 86h0m0-52h0m1-284h0m0 98h0m1 191h0m1 7h0m1-343h0m0 9h0m1 11h0m8 95h0m1-59h0m1 6h0m0 148h0m1-130h0m1-73h0m0-29h0m0 219h0m1-93h0m0-147h0m0 330h0m0-439h0m1 219h0m0-70h0m0 175h0m1-424h0m0 556h0m0-242h0m1 93h0m0-309h0m0 149h0m0 178h0m0-45h0m1 53h0m0 10h0m0-141h0m0-13h0m1 88h0m0 0h0m1 62h0m0-70h0m0 73h0m0-81h0m1-302h0m0 47h0m1 337h0m1-374h0m2 369h0m1 7h0m12-113h0m2-71h0m0 373h0m1-207h0m1 4h0m0-334h0m0 392h0m0-343h0m1 257h0m1 197h0m1 57h0m1-164h0m0 194h0m0-265h0m0-158h0m0 289h0m0-87h0m0 55h0m0-140h0m0 59h0m1 139h0m1-451h0m1 349h0m0 48h0m0-377h0m0 502h0m0-72h0m1-280h0m0 244h0m0-321h0m1 84h0m0 329h0m0-111h0m0-94h0m0 146h0m2-155h0m0 240h0m2-319h0m2 332h0m1-296h0m3 124h0m0 395h0m1-308h0m1 186h0m1-233h0m0-196h0m0 458h0m0-237h0m0 45h0m0 34h0m1 112h0m0-284h0m0 41h0m1 214h0m0-142h0m1-7h0m0-167h0m0 267h0m0 158h0m0-296h0m1 71h0m0-27h0m0 15h0m0 8h0m0 293h0m0-155h0m1-115h0m0-192h0m0 146h0m0 247h0m0-62h0m2 115h0m0-206h0m0-85h0m1 175h0m1-6h0m1-219h0m0 129h0m1-1h0m0-3h0m18-54h0m0-258h0m1 458h0m0-450h0m1 232h0m0-105h0m0 150h0m0-135h0m1 26h0m0 40h0m0-13h0m1 113h0m0-6h0m0 168h0m0-220h0m1 62h0m0-26h0m0-322h0m1 361h0m0 0h0m0 100h0m1-175h0m0-206h0m1 22h0m0-47h0m1 253h0m6 182h0m3-313h0m1 138h0m1 140h0m0-314h0m1-71h0m1 289h0m1-67h0m0 180h0m0-184h0m1 304h0m2-215h0m0-147h0m0 241h0m2 66h0m0-409h0m0 115h0m0 70h0m2 121h0m0-136h0m2 58h0m2 119h0m1-146h0m3 21h0m2-194h0m1 255h0m2-184h0m1-139h0m0-44h0m0 287h0m1-427h0m0 308h0m0-58h0m1 126h0m0-171h0m0 268h0m0-259h0m1-30h0m0 176h0m1-139h0m1 17h0m1-58h0m1 47h0m0-62h0m0 95h0m2-142h0m1 74h0m0 214h0m2-398h0m0 278h0m5 74h0m1-90h0m0-78h0m0 104h0m0-81h0m1 6h0m1-21h0m0 152h0m0-364h0m1 257h0m1-15h0m0-258h0m0 434h0m1-493h0m0 569h0m0-308h0m1 77h0m0-452h0m0 382h0m0 70h0m0-94h0m0 101h0m0-279h0m1-77h0m0 137h0m0 404h0m1-118h0m2-329h0m0 221h0m0 179h0m0-306h0m1-88h0m0 64h0m0 139h0m1 102h0m1 64h0m1-108h0m0 99h0m0-339h0m2 228h0m1 225h0m1-406h0m10 248h0m4-43h0m1-41h0m0 90h0m1-33h0m0-141h0m1-72h0m0 107h0m0-124h0m0 103h0m0-166h0m1 496h0m0-280h0m2 21h0m0-182h0m0 256h0m1-260h0m2 147h0m0-164h0m1 183h0m1 32h0m1 83h0m0-55h0m3-237h0m1-157h0m3 13h0m0 112h0m1-52h0m0 126h0m1-177h0m0 3h0m0-51h0m0 101h0m1-71h0m0 202h0m0-122h0m0 3h0m0-56h0m0-28h0m1 12h0m0 78h0m0 105h0m0-295h0m0 377h0m1-341h0m0-36h0m0 327h0m1 101h0m0-263h0m0 54h0m1-97h0m0 311h0m1-171h0m1-44h0m1 60h0m0-193h0m2 261h0m16-81h0m2-104h0m0 289h0m3-38h0m1-141h0m0-226h0m0 141h0m0-96h0m0 148h0m1-28h0m1 78h0m2-33h0m0 250h0m0-239h0m1-24h0m1-108h0m1-37h0m1 236h0m1-43h0m3 53h0m0 79h0m0-80h0m1-148h0m2 237h0m1-223h0m1 124h0m0-67h0m0-204h0m0 185h0m1-17h0m1 203h0m2-250h0m1 100h0m0 12h0m0-41h0m0 138h0m1-234h0m3 182h0m3-104h0m1 59h0m0-93h0m2-29h0m0 5h0m0 137h0m2-512h0m0 356h0m0-194h0m0 231h0m1-53h0m0 66h0m0-15h0m0 139h0m0-242h0m0 60h0m0-95h0m1-30h0m0 221h0m1-188h0m0 175h0m0-130h0m0-30h0m0 40h0m0 129h0m1-106h0m0 4h0m0 85h0m1-181h0m0 45h0m1-95h0m0 67h0m0-40h0m0 153h0m0 57h0m1-118h0m0-277h0m1 428h0m0-266h0m0-28h0m0 205h0m0-386h0m1 58h0m1 320h0m0-285h0m1 138h0m2-47h0m13-73h0m4 469h0m1-363h0m1-51h0m0 6h0m1 328h0m0-441h0m0 184h0m0-98h0m0 290h0m1 65h0m1-183h0m0-38h0m0-278h0m0 417h0m0 213h0m0-523h0m1-36h0m0 190h0m1 105h0m0 120h0m1-331h0m1 190h0m1 244h0m0-261h0m0 82h0m0-342h0m2 550h0m0-205h0m6 247h0m0-234h0m2 24h0m0 121h0m0 95h0m1-152h0m1-91h0m0 53h0m0-77h0m0 18h0m0 122h0m0-26h0m2 48h0m0-65h0m0 146h0m2-236h0m1 190h0m0-207h0m1 258h0m0-68h0m0-18h0m1-116h0m0 20h0m2-204h0m1 256h0m8-134h0m0-84h0m1 72h0m0-154h0m1-19h0m0 186h0m0 57h0m1-136h0m0 23h0m2 218h0m0-243h0m0 26h0m1 131h0m0 332h0m0-430h0m1-64h0m0-94h0m0-39h0m1 733h0m0-691h0m0 48h0m0 468h0m1-463h0m0 56h0m0-35h0m0 512h0m1-458h0m0 248h0m0-276h0m0 153h0m1 268h0m0-325h0m0-95h0m0 45h0m1 310h0m0-585h0m1 713h0m1-758h0m0 744h0m1-461h0m0-235h0m0 481h0m0 331h0m1-786h0m0 469h0m0 246h0m4-658h0m0 316h0m0-393h0m0 434h0m1 232h0m2-304h0m1 314h0m7-83h0m0-30h0m2-100h0m2-239h0m0 496h0m0 27h0m1-104h0m0-102h0m0-232h0m1 113h0m0-14h0m0-53h0m1 193h0m1-189h0m0 189h0m0-72h0m0-30h0m1 0h0m1 358h0m0 79h0m0-329h0m0-107h0m1 139h0m0-171h0m0 49h0m0 161h0m1-94h0m0-71h0m0-10h0m0-151h0m0 5h0m0 306h0m1-307h0m1 539h0m2-329h0m0 65h0m9-122h0m1-102h0m0 222h0m1-219h0m0 147h0m0 91h0m1-357h0m2 34h0m0 185h0m1-69h0m0-22h0m1 241h0m0-283h0m0-26h0m0-88h0m1 221h0m0 59h0m0-89h0m0 27h0m1-116h0m0 52h0m1-110h0m2-6h0m0-108h0m1 257h0m1-28h0m1 31h0m7 155h0m1-301h0m1 376h0m1-330h0m2-102h0m0 155h0m1 32h0m1-86h0m0 1h0m0 353h0m0-556h0m0 434h0m0 29h0m1-487h0m0 95h0m0 62h0m2-179h0m0 146h0m0 200h0m0-175h0m0-172h0m0 393h0m1-359h0m0 302h0m0 64h0m1-129h0m0 55h0m0-127h0m0 390h0m1-245h0m0-99h0m0 235h0m1-303h0m0 120h0m1 37h0m1-4h0m1-113h0m1-41h0m14 342h0m2-40h0m0-491h0m1-140h0m0 518h0m0 62h0m1-530h0m0 379h0m1-289h0m0 562h0m0-166h0m0-441h0m0 349h0m0 130h0m0-24h0m0-209h0m0-256h0m1 296h0m0 287h0m0-303h0m1-365h0m0 272h0m1 367h0m0-419h0m0 56h0m0 304h0m0-532h0m1 629h0m1-113h0m0-47h0m0-220h0m0-237h0m0 553h0m2-139h0m2 57h0m0 136h0m3 118h0m1-346h0m1-15h0m0 316h0m1-57h0m1-32h0m0-24h0m0-78h0m1 30h0m0 96h0m0-145h0m0 269h0m1-155h0m0-226h0m0 246h0m1-603h0m0 489h0m0 114h0m1-29h0m1-167h0m0 171h0m0-98h0m1-23h0m1 225h0m0-329h0m0 5h0m1 52h0m0 200h0m14-303h0m1 425h0m0-184h0m2 221h0m0 40h0m0 26h0m1-51h0m1-114h0m0-396h0m1 34h0m0 144h0m0 208h0m1-298h0m0 431h0m0-309h0m0 226h0m1-46h0m1-181h0m0 207h0m2-164h0m0-13h0m1-94h0m0 419h0m0-139h0m1-69h0m2-158h0m0 146h0m11 32h0m1 28h0m0 48h0m2-153h0m1 206h0m0-295h0m1-382h0m0 645h0m1 109h0m0-130h0m1-601h0m0 639h0m0-409h0m0 461h0m0-743h0m1 19h0m0 588h0m0-229h0m0-296h0m0 623h0m1-144h0m0 146h0m0-204h0m0 28h0m1-375h0m0 521h0m1-328h0m0 317h0m1-82h0m1 113h0m0-230h0m0 134h0m0-47h0m5 169h0m1-302h0m2-196h0m0 359h0m0-177h0m1-199h0m0 549h0m1-181h0m0-58h0m0 30h0m0 34h0m1 50h0m0 111h0m0-169h0m1 140h0m0 89h0m0-643h0m0 467h0m1-48h0m0 239h0m0-512h0m0-85h0m0 114h0m0 225h0m0 44h0m1 19h0m1-63h0m0-50h0m0 204h0m0-593h0m2 597h0m0 29h0m0-238h0m1 171h0m0-54h0m1 247h0m0-353h0m0-41h0m3 290h0m1-166h0m13-411h0m4-22h0m1 51h0m1 125h0m0-222h0m1-56h0m0 76h0m0-134h0m2-26h0m0 238h0m0-277h0m0 145h0m1 38h0m0 5h0m1 111h0m0-119h0m1 47h0m0 77h0m0 224h0m0-169h0m0-81h0m1-120h0m1 113h0m0-67h0m1-61h0m0 61h0m2 113h0m5 171h0m1-337h0m1 191h0m1-313h0m1 181h0m0 95h0m1-87h0m0-123h0m0 11h0m1 230h0m0-366h0m2 391h0m0-198h0m0 87h0m0-67h0m4-10h0m0 343h0m1-358h0m0 73h0m1 262h0m1-150h0m0 206h0m0-433h0m2 100h0m2 358h0m2-556h0m0 147h0m1 277h0m1-21h0m0-141h0m0 47h0m1 5h0m0 83h0m0-108h0m1 13h0m0 141h0m0-302h0m0 128h0m1-142h0m0 202h0m1-222h0m0 228h0m0-304h0m0 266h0m1 9h0m0-240h0m0 209h0m0 68h0m0 17h0m1-147h0m1-20h0m0 154h0m1-37h0m0-3h0m1-44h0m0-37h0m1-155h0m1 100h0m1 86h0m8-126h0m3-44h0m0 9h0m2 270h0m0-421h0m0 9h0m0 226h0m1-259h0m0 320h0m0-148h0m0 302h0m1-3h0m0-258h0m0 223h0m1-356h0m1 345h0m0-374h0m0 364h0m0 105h0m1-386h0m0 145h0m1-58h0m0-7h0m0-233h0m1 135h0m1 252h0m0-189h0m0 275h0m1-471h0m0 180h0m2 154h0m9 122h0m0-113h0m3-121h0m0 169h0m1 37h0m0 148h0m1-313h0m0 93h0m0 75h0m2-98h0m0 53h0m1-110h0m0-172h0m0 326h0m1-34h0m0 186h0m0-195h0m1-174h0m0 76h0m1 208h0m1-48h0m0-279h0m0 161h0m0 28h0m1-158h0m0 378h0m2-305h0m1-116h0m4 563h0m4 136h0m1 111h0m1 16h0m0-180h0m1-23h0m0 7h0m1 90h0m1-236h0m0-68h0m0 173h0m0 46h0m1 110h0m0-199h0m0 38h0m1 48h0m0 145h0m1-258h0m0 276h0m0-377h0m0 84h0m1-226h0m0 327h0m0 182h0m0-228h0m2-241h0m2 460h0m0-219h0m1-21h0m2 30h0m1 44h0m2-71h0m1-102h0m1 362h0m0-251h0m1-35h0m1 202h0m1-122h0m0 22h0m0-156h0m0 123h0m1 59h0m1-190h0m0 225h0m0-201h0m1 84h0m1 20h0m0 16h0m1 139h0m1-194h0m9 123h0m2 68h0m0-199h0m4-1h0m0-84h0m1 182h0m0-275h0m0 307h0m0-49h0m1-177h0m0-52h0m1 46h0m0 16h0m0-157h0m1 300h0m0 138h0m0-180h0m0 181h0m1-88h0m0-336h0m0 84h0m2 392h0m1-135h0m1-120h0m0-160h0m1 365h0m2-62h0m2-91h0m1 28h0m1-45h0m0 4h0m1 40h0m0-19h0m0-169h0m1 284h0m1-209h0m1 187h0m0 24h0m0-95h0m1-60h0m0-153h0m0 185h0m0 96h0m0-216h0m0 191h0m1 55h0m2 29h0m3 5h0m1-180h0m1 30h0m0-540h0m0 505h0m1-226h0m0-5h0m0 48h0m0-207h0m0 413h0m2-341h0m0 184h0m0 27h0m1-190h0m1 56h0m0 173h0m0-261h0m1-54h0m1 347h0m0-241h0m0 277h0m1-173h0m0-457h0m2 314h0m3 267h0m1-31h0m2-211h0m1 106h0m2 36h0m0-49h0m1 166h0m0-109h0m1 127h0m0-149h0m0-53h0m1 208h0m0-351h0m0 213h0m1-46h0m0-107h0m0 278h0m0-123h0m0 157h0m0-212h0m1 144h0m0-191h0m0 51h0m1 25h0m0 7h0m0 28h0m1 86h0m1-159h0m0 134h0m1 2h0m0-257h0m0-101h0m0 455h0m0-207h0m0 11h0m1-20h0m0-78h0m0 236h0m1-51h0m0-233h0m2-76h0m0 145h0m0-193h0m21 591h0m2 15h0m1-127h0m1 128h0m0-62h0m0 16h0m0-159h0m1 135h0m0 151h0m0 113h0m1-62h0m0-279h0m0 169h0m1-84h0m0 65h0m0-157h0m1 247h0m1-87h0m0-112h0m0 104h0m2 102h0m0-158h0m0 14h0m3 7h0m0 11h0m1 19h0m1 149h0m2 243h0m8-388h0m0 103h0m0-114h0m2-221h0m1 58h0m0 166h0m0-169h0m0 109h0m1 162h0m1 137h0m0-294h0m1 266h0m0-113h0m1-596h0m0 404h0m0-183h0m0 10h0m0 348h0m1 7h0m0-131h0m0-30h0m1 21h0m0 132h0m0-411h0m0 348h0m0-346h0m1 168h0m0-100h0m0 102h0m0 177h0m0-92h0m1-528h0m0 379h0m0 199h0m1 15h0m0-150h0m1 315h0m0-28h0m1-223h0m4 172h0m1-285h0m8 151h0m0-113h0m2-200h0m3 57h0m1-163h0m0 273h0m0 61h0m0 104h0m0-100h0m1 46h0m1 68h0m0-192h0m0-48h0m2 164h0m0-142h0m0 293h0m1-242h0m0-83h0m0 32h0m1 15h0m0 291h0m0 61h0m0-134h0m2-255h0m1 6h0m0 198h0m2-143h0m0-3h0m9 302h0m3-366h0m2 266h0m1-175h0m0 19h0m0 222h0m1-38h0m0-424h0m1 298h0m0-107h0m1-98h0m0 102h0m0-255h0m1 491h0m0-167h0m0-18h0m1-7h0m0 53h0m0-50h0m0-55h0m0-57h0m0 251h0m1-196h0m2 276h0m2-197h0m0 58h0m2-387h0m3 524h0m2-196h0m2 172h0m1-14h0m0-291h0m1 38h0m2 214h0m0 17h0m1 49h0m0-445h0m0 222h0m2-200h0m0 54h0m0-2h0m0 365h0m1-49h0m0-36h0m1-152h0m1-210h0m1 130h0m8-123h0m4-349h0m1 620h0m1-370h0m0 89h0m0-5h0m1 186h0m0 44h0m0-667h0m1 426h0m1-417h0m0 292h0m0 151h0m1-31h0m0-74h0m0 27h0m0-304h0m0 213h0m1 175h0m0-6h0m0 159h0m1-196h0m1-413h0m0 556h0m1-202h0m0-157h0m1 188h0m0 420h0m0-419h0m1 73h0m0-117h0m1 380h0m13-231h0m0 79h0m0-201h0m0 72h0m1 82h0m0-244h0m1 121h0m0-38h0m1 198h0m0-285h0m0 312h0m0-10h0m1-224h0m0 189h0m0-155h0m0-26h0m0 208h0m1 217h0m2-256h0m0-194h0m0 151h0m1-82h0m0 20h0m1 182h0m0-59h0m1 55h0m1-362h0m1 287h0m0 22h0m1-201h0m9 57h0m0 117h0m1-326h0m1 332h0m0-52h0m1 71h0m1 156h0m0 138h0m0-552h0m1 78h0m2-13h0m0 84h0m0-26h0m0-47h0m1 299h0m0 52h0m0-171h0m1-160h0m0 361h0m0-319h0m0 227h0m1 97h0m0-665h0m0 288h0m3 121h0m0 42h0m0 59h0m0-143h0m3 67h0m0-150h0m1 6h0m2 384h0m8-521h0m1 108h0m0-260h0m1 185h0m1 279h0m0-226h0m1 384h0m2-469h0m0 82h0m1-13h0m0-109h0m0 45h0m0 285h0m0-158h0m1 27h0m0-223h0m0 188h0m0-254h0m1 298h0m0 76h0m1-74h0m1 6h0m2-206h0m1 281h0m3-86h0m7-6h0m0 349h0m3-319h0m1 3h0m0-7h0m1 37h0m1-99h0m0 249h0m0-305h0m1 94h0m0 329h0m1-404h0m0 318h0m0-120h0m0-94h0m1 153h0m0-143h0m0-87h0m1 90h0m1 309h0m3-368h0m0 128h0m1 114h0m3-195h0m0-22h0m0 38h0m3 286h0m0-315h0m1 56h0m0-98h0m0 227h0m1-93h0m0-33h0m0 157h0m0 60h0m0-254h0m1 371h0m0-505h0m2 286h0m1 163h0m1-266h0m0 46h0m1 179h0m0 27h0m1-167h0m1-10h0m1-180h0m13 583h0m1-235h0m1 240h0m0-125h0m1 199h0m1-397h0m0 442h0m0-183h0m2 181h0m1-375h0m0 155h0m0 177h0m0-106h0m0-68h0m1 24h0m0 74h0m0-283h0m0 284h0m1-7h0m0 93h0m1-413h0m0 84h0m0 353h0m0-107h0m0 85h0m0-380h0m1-17h0m0 97h0m0 325h0m0-14h0m1-182h0m0-154h0m0 37h0m1-128h0m1 269h0m0-117h0m0 235h0m0 1h0m0-196h0m2 2h0m4 91h0m12-100h0m3-69h0m0 104h0m1 0h0m0-43h0m0-309h0m0 424h0m1 4h0m1-407h0m1 385h0m0-305h0m1 159h0m1 42h0m0-159h0m0-196h0m0-61h0m0 246h0m1 7h0m0 217h0m1 199h0m0-102h0m0 58h0m0-242h0m1-182h0m1 429h0m0-367h0m2 74h0m1-4h0m0-14h0m4 196h0m1 65h0m2-73h0m2-71h0m1-239h0m0 432h0m0-222h0m0-80h0m1-12h0m0 312h0m1-280h0m2 187h0m0-95h0m0 279h0m2-181h0m0-1h0m1-90h0m0 284h0m1-236h0m0-106h0m1 3h0m0 53h0m0 52h0m1 12h0m6-163h0m1 64h0m0-40h0m1 64h0m0-29h0m0-31h0m0 47h0m1 5h0m0 68h0m2-87h0m1 140h0m0-8h0m0-245h0m1 209h0m0-86h0m0-115h0m0 14h0m0 262h0m1 117h0m0-174h0m0-116h0m0 110h0m1 144h0m1-329h0m1 175h0m1-166h0m0-20h0m0 147h0m0 71h0m1-57h0m1 59h0m0-147h0m9-201h0m1 32h0m2 275h0m2-342h0m1 218h0m0 182h0m1-75h0m0-61h0m0-59h0m0-115h0m0 388h0m1-24h0m1-163h0m0-122h0m0 10h0m0-181h0m1 202h0m0 137h0m0-254h0m0 228h0m0 24h0m0-267h0m1 226h0m0-207h0m1 142h0m0 272h0m0-233h0m0 89h0m0-284h0m0 54h0m1-164h0m0 8h0m1-5h0m0 270h0m0-269h0m1 380h0m0-564h0m0 720h0m0-310h0m0-268h0m1 233h0m0 175h0m1-180h0m1-690h0m0 828h0m0-597h0m0 226h0m0-64h0m0-352h0m1 443h0m1-344h0m0 22h0m0 298h0m1 264h0m0-282h0m1 333h0m1-778h0m0 46h0m1 536h0m0-8h0m0-78h0m1 34h0m0-403h0m0 376h0m1-183h0m1-52h0m1 107h0m0 150h0m2 100h0m0-324h0m0-31h0m0 315h0m2-141h0m2-12h0m1 189h0m1-78h0m0-262h0m1-103h0m0 17h0m1 49h0m0 227h0m0-143h0m0-55h0m0 96h0m1-115h0m0 328h0m0-208h0m1-137h0m0 208h0m1-242h0m0 142h0m1 191h0m0-397h0m1 418h0m1-112h0m1-127h0m0 173h0m0-80h0m1 73h0m7 27h0m1-36h0m1 86h0m0-12h0m1-379h0m1 440h0m0-232h0m1 117h0m0 75h0m1-154h0m0 16h0m0-100h0m0 272h0m0-255h0m1-89h0m0 67h0m0 98h0m0 209h0m2-2h0m0-509h0m0 404h0m0 115h0m1-383h0m0 348h0m0-58h0m0-230h0m0 58h0m0-168h0m1 132h0m0-247h0m0 211h0m0 47h0m1 278h0m0-323h0m1 27h0m0 292h0m1-239h0m2-327h0m0 218h0m10-23h0m1 242h0m2-113h0m0 169h0m1-195h0m1 142h0m1 190h0m1-503h0m0 303h0m0-159h0m0 346h0m0-360h0m1-65h0m0 417h0m0-252h0m0-82h0m1-75h0m0 30h0m0-160h0m0 380h0m0-138h0m0 47h0m1-299h0m0 293h0m0-5h0m0-33h0m0-119h0m1 97h0m1-28h0m0 59h0m0 178h0m1-102h0m0-136h0m0 142h0m0-306h0m0 436h0m1-235h0m1 128h0m0-1h0m1-361h0m2 358h0m1-250h0m18 79h0m0 44h0m1-158h0m0 84h0m0 157h0m1 22h0m1-233h0m0-55h0m1 2h0m1 175h0m0-92h0m0-52h0m1 133h0m0-66h0m1 267h0m1-215h0m0-246h0m0 92h0m1-101h0m0 620h0m0-218h0m1-138h0m0 121h0m6-429h0m2 502h0m0-400h0m1 248h0m1 96h0m1-277h0m1 306h0m0-68h0m1-42h0m0-19h0m1-44h0m1 23h0m0 158h0m0 142h0m1-561h0m0 325h0m1-71h0m1-37h0m0-79h0m0 136h0m1 275h0m1-478h0m0 84h0m1 217h0m0-300h0m1 202h0m0-24h0m8-35h0m1 28h0m2 312h0m3-55h0m0-208h0m1 216h0m1-90h0m0 82h0m1-108h0m0 63h0m0-60h0m2 213h0m1-345h0m0 132h0m1-283h0m2 313h0m0-111h0m4-46h0m1 30h0m1-63h0m0 193h0m1 126h0m1-337h0m0 134h0m0-23h0m0-68h0m0 208h0m0-245h0m1 87h0m1 80h0m1-150h0m0 297h0m0-99h0m0-185h0m1-14h0m0 69h0m0-68h0m1 259h0m0-254h0m0-3h0m0 12h0m1 25h0m0-95h0m0 328h0m1-164h0m0 96h0m1-234h0m0 151h0m1-7h0m0 4h0m0-40h0m1 49h0m0-287h0m6 13h0m0 169h0m2 2h0m2-177h0m0 120h0m2-160h0m4 126h0m0 120h0m3-132h0m1 71h0m1-16h0m0 56h0m4-47h0m0 41h0m1 23h0m0-48h0m1-167h0m0-30h0m0 223h0m1-46h0m0-102h0m2-11h0m2-29h0m2 178h0m512 197h0m2 178h0m2-121h0m2 220h0m0-76h0m0 267h0m0-130h0m1-238h0m1 217h0m0-303h0m0-327h0m1 370h0m0-11h0m1-232h0m0 336h0m0 36h0m0 38h0m1-104h0m0 237h0m0-107h0m0-35h0m1-228h0m0 135h0m0 369h0m1-650h0m0 481h0m0-267h0m1 50h0m0 15h0m0-45h0m0 283h0m0-323h0m1 115h0m0-91h0m0 289h0m1-428h0m1 258h0m1 190h0m2-137h0m10-168h0m1-56h0m2 251h0m0-322h0m0-159h0m1 326h0m0-114h0m0 155h0m1-153h0m0-383h0m0 422h0m0-88h0m0 76h0m0 102h0m0-582h0m1-61h0m0 670h0m0-252h0m1 259h0m0-122h0m0-49h0m1-427h0m0 462h0m1 143h0m0-231h0m1 54h0m0 141h0m0 177h0m0-466h0m0 253h0m0-135h0m1 139h0m0 0h0m0-58h0m0-561h0m0 586h0m0-58h0m1-308h0m0 349h0m1 1h0m0-26h0m0 173h0m4-214h0m0 143h0m2-138h0m0 116h0m9-278h0m3 273h0m0-93h0m1 31h0m1 79h0m2 90h0m0-193h0m1-122h0m0 181h0m0 92h0m1 62h0m1-137h0m0-191h0m0 120h0m0 289h0m0-268h0m0-48h0m0-126h0m1 540h0m0-20h0m0-495h0m0 292h0m1-20h0m1-160h0m0 51h0m1-97h0m0-20h0m1 334h0m0-482h0m0 211h0m2-17h0m0 135h0m2-170h0m14 349h0m0 56h0m1-302h0m0 165h0m0-173h0m1 17h0m0-130h0m0 298h0m1-4h0m0-156h0m0 136h0m1 97h0m0 75h0m1-191h0m0 94h0m2-327h0m0 405h0m0-247h0m1-234h0m0-96h0m0 461h0m0-178h0m0 150h0m1 87h0m0-160h0m0-345h0m0 487h0m1-89h0m0 119h0m0 105h0m0-306h0m0 21h0m1 296h0m1-178h0m0 173h0m0-193h0m0-218h0m2 199h0m9 105h0m2-45h0m0-110h0m0 162h0m2 108h0m1-116h0m2-78h0m0 9h0m0-28h0m1-136h0m0 148h0m0-21h0m1 286h0m0-258h0m1 120h0m0-24h0m1-159h0m0 121h0m0-70h0m0-157h0m1 121h0m0 259h0m0-368h0m1 367h0m0-173h0m0-89h0m1-226h0m0 272h0m0 122h0m0-202h0m1-119h0m0 440h0m1 28h0m1-680h0m0 539h0m2-462h0m12 308h0m0-131h0m0 120h0m0-102h0m2-114h0m0 197h0m1 356h0m0-120h0m0-476h0m1 104h0m1 136h0m0-156h0m0 202h0m0 193h0m1-71h0m0-238h0m0 153h0m0-294h0m0 596h0m1-958h0m0 490h0m0-24h0m0 69h0m0 120h0m0-57h0m1 43h0m0 22h0m0-331h0m0 116h0m1-342h0m0 766h0m0-234h0m0 226h0m0-178h0m0-178h0m0-316h0m1 208h0m0-493h0m0 1107h0m0-307h0m0-698h0m1 636h0m0-409h0m0 168h0m0 548h0m0-646h0m1-285h0m0-52h0m1 173h0m1 7h0m0 150h0m1-65h0m0-59h0m1 233h0m0-145h0m1 198h0m0-332h0m0 288h0m1-279h0m0 129h0m0-320h0m2 451h0m1-536h0m0 405h0m1 13h0m0 102h0m1-411h0m9 185h0m1 294h0m1 4h0m1 22h0m0-168h0m0-246h0m1 102h0m0 123h0m0-17h0m0-12h0m0-310h0m0 122h0m1 177h0m0 209h0m3-62h0m0 96h0m0-98h0m0-121h0m1 137h0m0-238h0m0-91h0m0 81h0m0-102h0m1 154h0m3 110h0m1-164h0m3 348h0m8-583h0m4 408h0m0-349h0m2 364h0m0-53h0m2-41h0m0-98h0m1 28h0m0 83h0m1-96h0m0-31h0m0 19h0m0 330h0m1-155h0m1-202h0m1 105h0m1 119h0m0 173h0m6-485h0m1 189h0m1 65h0m0-166h0m0 4h0m0-66h0m1-183h0m1 218h0m0 125h0m0-154h0m0-223h0m1 459h0m0-445h0m0 98h0m0 63h0m0-157h0m0 53h0m0-85h0m0 413h0m1-257h0m0-3h0m0 299h0m1-206h0m0 85h0m0 258h0m0-466h0m0-76h0m0 309h0m1 251h0m0-389h0m0 208h0m0-357h0m1 383h0m0-195h0m0 252h0m1-431h0m1 79h0m0 267h0m0-386h0m1 545h0m1-383h0m1 306h0m0-41h0m14 55h0m2 158h0m1-168h0m3 289h0m0-74h0m2-109h0m2 119h0m0-95h0m0-70h0m1-24h0m0 122h0m0 57h0m1-248h0m0 1h0m0 268h0m0-1h0m2-28h0m0-161h0m0 50h0m0 46h0m1 86h0m0 32h0m1-157h0m3 103h0m6-89h0m1-137h0m1 74h0m0-29h0m1 166h0m0 80h0m0-256h0m1 255h0m1-88h0m0 19h0m1-94h0m0-4h0m0-79h0m0 293h0m0-156h0m1-55h0m0 69h0m0 132h0m1 12h0m0-246h0m0 275h0m1-313h0m0-5h0m0 289h0m0-168h0m1-196h0m0 70h0m0 159h0m0-31h0m1 26h0m0 77h0m1-220h0m0 78h0m1 155h0m0-129h0m0 25h0m1-15h0m17 21h0m0-152h0m2-450h0m1 728h0m2-754h0m0 712h0m0-167h0m0-77h0m1 97h0m0 4h0m2-520h0m0 800h0m0-156h0m1-395h0m0 206h0m1-29h0m0 76h0m0-610h0m0 494h0m0-486h0m0 437h0m1-298h0m0-153h0m1 825h0m1-824h0m2 384h0m1-16h0m0-15h0m0 193h0m3 258h0m1-470h0m1 567h0m3-469h0m1 203h0m1-487h0m0 326h0m1-364h0m2 29h0m0 153h0m0 235h0m0 225h0m0-426h0m1 536h0m0-697h0m1 472h0m0-211h0m1 179h0m0-209h0m0 156h0m0 88h0m1-130h0m0 98h0m1-91h0m0-20h0m1 114h0m0-68h0m0 280h0m0-435h0m1-89h0m0 243h0m0 159h0m14-263h0m2 8h0m2 24h0m0 62h0m1-168h0m0 30h0m2-4h0m0-53h0m1 125h0m1-4h0m0-40h0m0 154h0m0 26h0m1-84h0m0-122h0m1-97h0m0 48h0m0 97h0m0 43h0m0 45h0m1-62h0m0-319h0m0 271h0m0 63h0m1-194h0m0 203h0m0-108h0m1 161h0m1-257h0m1 149h0m1-270h0m10 321h0m1 103h0m1-154h0m0-301h0m0 366h0m0-155h0m2 144h0m0-13h0m0-154h0m1 54h0m0-138h0m0 148h0m1 26h0m0-5h0m1 37h0m0 53h0m1-39h0m0-257h0m0 142h0m1 86h0m0 126h0m0-86h0m1 159h0m0-441h0m1 202h0m0-49h0m0 37h0m2 115h0m0-151h0m0-85h0m2 191h0m0 188h0m2-178h0m9 267h0m0-378h0m2 40h0m0-143h0m0 408h0m1-234h0m0 69h0m1-140h0m1 85h0m1 86h0m0-167h0m1 8h0m0-50h0m0-57h0m2 33h0m0 81h0m0 226h0m0-378h0m0-8h0m1 210h0m0 282h0m1-263h0m0 53h0m0 140h0m0-509h0m1 279h0m1-32h0m1-31h0m1 379h0m0-396h0m1 423h0m0-380h0m1 248h0m16 89h0m2 45h0m1-89h0m1 78h0m1 134h0m1-152h0m1-204h0m0 186h0m0 95h0m1-40h0m1-152h0m0 28h0m1 144h0m0-63h0m0 105h0m1-255h0m0 149h0m1 73h0m0-259h0m0 311h0m1 54h0m1-232h0m0 131h0m0-56h0m2 93h0m5-332h0m1 323h0m1-192h0m1 205h0m2-19h0m0-95h0m0 5h0m1-8h0m0 129h0m1-264h0m1 108h0m0 138h0m0 19h0m0-258h0m1 86h0m1 170h0m0-40h0m1-160h0m1 168h0m0-118h0m1 67h0m0 72h0m1-68h0m0-147h0m0 177h0m1 2h0m0 69h0m0-142h0m1-208h0m1-10h0m2 195h0m5 0h0m0 141h0m1-208h0m3 9h0m1 132h0m0-128h0m2-161h0m1 192h0m0 101h0m2-160h0m1 6h0m0-49h0m0-9h0m0 192h0m1-229h0m1 10h0m1 218h0m3-327h0m1 175h0m0 148h0m4-465h0m0-194h0m1 112h0m1-195h0m1 200h0m0 80h0m2-45h0m3-185h0m0-52h0m2 183h0m63 826h0m2-164h0m0 53h0m1-36h0m1 126h0m1 27h0m0-109h0m1-15h0m0-156h0m2 55h0m1 12h0m0-52h0m0 33h0m1 221h0m1-112h0m0-70h0m1 33h0m0-48h0m0 16h0m1-51h0m0-56h0m2 121h0m1 10h0m1 10h0m3-73h0m1 237h0m1-26h0m1-155h0m1 87h0m1 144h0m1-179h0m0-90h0m1 9h0m0 187h0m1-113h0m2-47h0m0 164h0m0 1h0m1-143h0m0-32h0m0 178h0m1-245h0m0 63h0m0 233h0m0-30h0m0-32h0m1-110h0m0 66h0m2 23h0m12-71h0m1-77h0m1-46h0m0 72h0m0-2h0m1-317h0m0 297h0m1-190h0m0 346h0m1-50h0m0-215h0m1 21h0m0 73h0m0-43h0m1-137h0m0-225h0m0 41h0m1 335h0m0-180h0m1 229h0m0-80h0m2 286h0m0-187h0m0 18h0m0 44h0m1-11h0m1-209h0m0 56h0m0-93h0m2 100h0m1 48h0m1 62h0m1 95h0m1-70h0m0-120h0m0-1h0m1 207h0m0-100h0m0 18h0m1-106h0m0 26h0m0 35h0m0 16h0m0 64h0m0-23h0m1-38h0m0-25h0m1-80h0m0 12h0m0 44h0m2 66h0m0-282h0m0 205h0m0 107h0m0-91h0m1 53h0m1 26h0m5-149h0m10-282h0m0 154h0m2 232h0m0-448h0m1 299h0m0-434h0m0 266h0m1-8h0m0 336h0m1-569h0m0 314h0m0 271h0m1-327h0m0-103h0m0-100h0m1 562h0m0-159h0m0-126h0m0 200h0m0-121h0m1-159h0m0-69h0m0 341h0m0-264h0m1-17h0m0 92h0m1 11h0m0-358h0m0 290h0m0-137h0m0 111h0m1 44h0m0-211h0m0 329h0m0-132h0m0 1h0m1-23h0m0 77h0m0-62h0m2-253h0m0 255h0m0-19h0m1-47h0m0 205h0m1-105h0m13-369h0m0 133h0m0 66h0m2 26h0m0 104h0m0-92h0m1 352h0m0-158h0m1-2h0m0-80h0m1 61h0m0-316h0m1-85h0m0-98h0m0 425h0m0-73h0m1 329h0m0-329h0m0-47h0m1 50h0m1 96h0m0-152h0m0 170h0m0-339h0m1 384h0m1-80h0m1 56h0m0-311h0m2 95h0m0 9h0m1 70h0m1 132h0m2-310h0m1 131h0m8 501h0m1-127h0m0-201h0m1 357h0m2-195h0m0-170h0m1 269h0m0-99h0m0 98h0m0 27h0m1-168h0m0 297h0m0-94h0m1-129h0m1 135h0m1-43h0m0-133h0m0 152h0m0 35h0m0-236h0m2 180h0m0 145h0m1-389h0m1 281h0m3 45h0m1 51h0m7-68h0m0-375h0m0 246h0m1 80h0m0-214h0m0-51h0m0 113h0m1 13h0m1 139h0m0 56h0m1-487h0m0-135h0m0-225h0m0 739h0m2-392h0m0 426h0m0 32h0m0-8h0m1-251h0m0 205h0m0-24h0m1-513h0m0 501h0m0 29h0m0-78h0m1-134h0m0 275h0m0-7h0m0-89h0m1-251h0m1-452h0m7 741h0m0-76h0m1 22h0m0-89h0m0-14h0m1-385h0m2 440h0m0 267h0m0-131h0m1-537h0m0 485h0m1 202h0m0-995h0m1 800h0m0 189h0m0-195h0m0-229h0m1 264h0m0 39h0m0 97h0m1-103h0m1 73h0m0 38h0m0-283h0m0-373h0m0 370h0m1 266h0m0-242h0m0-723h0m2 71h0m1 739h0m0-98h0m0-31h0m1 6h0m2-175h0m2-563h0m1 141h0m1-119h0m1 11h0m1-14h0m1 707h0m2-607h0m0 800h0m1 53h0m0-72h0m1-92h0m0 255h0m1-325h0m0 4h0m1 298h0m0-869h0m1 659h0m0-254h0m0 210h0m1-102h0m0 155h0m0 92h0m0-352h0m1 194h0m1 10h0m1 137h0m0-13h0m2 64h0m1-266h0m0-135h0m0 251h0m2-81h0m5 94h0m1 67h0m0-421h0m1-43h0m0 277h0m0 78h0m1-75h0m0-349h0m1 119h0m0 75h0m0 93h0m0-362h0m0 472h0m0-99h0m0-164h0m1 257h0m1 21h0m0-80h0m0-141h0m0 150h0m1-339h0m0 377h0m0-16h0m1 58h0m0-186h0m0 306h0m0-245h0m0-153h0m1-1h0m0 82h0m0 60h0m0-245h0m1 343h0m0-118h0m1-1h0m0 310h0m1-171h0m0-74h0m1-150h0m1 469h0m0-522h0m3-19h0m1 173h0m10-364h0m0 419h0m3-147h0m0-5h0m1 24h0m1-307h0m1 260h0m0 54h0m0-214h0m0 460h0m1-189h0m0-270h0m1 36h0m0 310h0m1-278h0m0 264h0m0-605h0m0-45h0m1 537h0m0-59h0m1-47h0m0 174h0m0-317h0m1-16h0m0-8h0m0 196h0m1 314h0m0-40h0m0 16h0m0 49h0m1-332h0m0 63h0m0-547h0m1 113h0m0 130h0m0 216h0m1-392h0m7 1092h0m7-714h0m1 119h0m2 198h0m0-324h0m2 58h0m0-263h0m1 257h0m1-110h0m0 113h0m0 206h0m1-282h0m0 260h0m0-5h0m1-208h0m0-98h0m1-116h0m0 171h0m0 210h0m1 34h0m0-544h0m1 103h0m1 429h0m0-162h0m0-119h0m1 397h0m0-158h0m0-51h0m2 10h0m0-130h0m0 58h0m1 157h0m9-326h0m4 32h0m1 336h0m0-69h0m1-27h0m0-311h0m0 142h0m1 97h0m0 117h0m0-148h0m1 81h0m0-9h0m0-114h0m0-107h0m1 128h0m0-146h0m0 454h0m0-350h0m1 193h0m0-261h0m1 235h0m1 21h0m0 75h0m0-134h0m0 55h0m0 84h0m1-224h0m0 211h0m0-175h0m1-138h0m0 135h0m0 120h0m0-126h0m1 218h0m1 11h0m0 7h0m1-291h0m0-81h0m15-84h0m0 132h0m1 118h0m1-4h0m0-107h0m1-111h0m0 99h0m0-122h0m1 274h0m0-9h0m0-170h0m1 201h0m0-261h0m1 70h0m1 94h0m1-51h0m0 2h0m0-140h0m2 127h0m2-149h0m2 332h0m2-101h0m1-162h0m1 31h0m1 381h0m0-167h0m0-204h0m1-46h0m1-114h0m0-189h0m0 484h0m1 81h0m0-213h0m1-117h0m0-31h0m0 130h0m0 164h0m1 178h0m1-680h0m0 333h0m0-383h0m0 903h0m0-514h0m1-50h0m0 462h0m0 106h0m1-90h0m0-318h0m0 50h0m1-482h0m0 565h0m1 105h0m0-135h0m1 229h0m1 30h0m0-769h0m0 464h0m1-60h0m0-34h0m4 71h0m0-363h0m5 53h0m3-73h0m1 228h0m2 272h0m1 72h0m0-97h0m0-50h0m2 185h0m0-95h0m0 67h0m1-214h0m1 210h0m0 68h0m0-236h0m1 165h0m0-314h0m1 266h0m0-347h0m0 219h0m0-56h0m0 176h0m1-204h0m0 10h0m0 82h0m0-106h0m2 202h0m5-8h0m0-181h0m3 253h0m2-386h0m2 221h0m0-187h0m0 491h0m0-323h0m1 166h0m0-44h0m1-150h0m0-138h0m0 339h0m1-53h0m0-319h0m1 293h0m0 112h0m1-292h0m0 418h0m1-454h0m0-122h0m0 403h0m2-270h0m0-35h0m1-83h0m0 365h0m1-47h0m0 159h0m1-587h0m0 466h0m0-128h0m1-8h0m1 45h0m1-26h0m0 242h0m1-124h0m1-39h0m0-236h0m0 355h0m0-430h0m1 429h0m0-298h0m0 307h0m1-129h0m0 38h0m0-41h0m1 67h0m0 64h0m1-295h0m1 39h0m3 44h0m4 153h0m1-170h0m1 72h0m1-182h0m0 6h0m0 77h0m1 6h0m1-192h0m0 191h0m0 121h0m0-111h0m0 154h0m0-175h0m1 189h0m0 54h0m0 175h0m0-300h0m1 163h0m0-257h0m0 247h0m0-232h0m1 268h0m0-162h0m0 107h0m1-124h0m0-151h0m0-155h0m0 331h0m1 70h0m1-112h0m1 24h0m0-47h0m0 282h0m1-224h0m0 30h0m1-290h0m0 290h0m1 92h0m0-144h0m0 155h0m18-377h0m0 383h0m1 5h0m0-421h0m1 77h0m0 300h0m0-228h0m1-118h0m0 43h0m0 243h0m0 30h0m1-114h0m1 83h0m0-53h0m0 65h0m1 87h0m0-280h0m0 287h0m1-185h0m1 83h0m0-214h0m0 54h0m0 283h0m1-51h0m0 88h0m3-180h0m0-24h0m9 167h0m2-224h0m3 52h0m0 21h0m0-91h0m1-104h0m0 195h0m0 233h0m0-272h0m1-133h0m1 247h0m0-256h0m1 93h0m0 26h0m1 139h0m0-179h0m0 57h0m1-85h0m0 101h0m0 17h0m0 81h0m0-65h0m1-292h0m0 87h0m0 378h0m0-192h0m1-167h0m0 197h0m1 180h0m0-193h0m0-75h0m0 70h0m1-30h0m0-47h0m0-256h0m3 363h0m7-76h0m0 76h0m0-149h0m1-341h0m1 375h0m2 53h0m1-67h0m0 6h0m1-68h0m0 172h0m0-250h0m0 67h0m1-10h0m0-238h0m0 402h0m0 26h0m0-274h0m0 207h0m1 7h0m1 5h0m0-105h0m0 223h0m1-577h0m0 439h0m1 56h0m0-423h0m0 254h0m0-2h0m1 262h0m0-222h0m2-220h0m0 283h0m0-122h0m1 254h0m1-62h0m2-115h0m1-126h0m11 362h0m1-80h0m0-184h0m2 267h0m0-453h0m1-141h0m1 652h0m1-309h0m1 240h0m0-644h0m0 400h0m0 226h0m0-574h0m1-20h0m1 90h0m0-126h0m1 366h0m1 135h0m0-59h0m1 182h0m0-285h0m0 252h0m2-5h0m1-293h0m3 295h0m3 20h0m2-5h0m1 183h0m1-94h0m1-408h0m1 410h0m0-165h0m0 71h0m1 49h0m1-135h0m0 139h0m0-140h0m0 201h0m0-515h0m1 418h0m1-179h0m0 45h0m1 66h0m0 44h0m1-157h0m1-52h0m5 335h0m2-130h0m0-36h0m2-164h0m2-72h0m1 134h0m0 203h0m0-89h0m1-97h0m0 243h0m1-45h0m0-158h0m1-189h0m1 76h0m2-249h0m0 213h0m0 101h0m4-275h0m1 80h0m1-26h0m1 215h0m2-46h0m2 261h0m1-499h0m0 380h0m1-516h0m0 531h0m0-124h0m1-98h0m0-21h0m0 174h0m0-89h0m1 14h0m0-33h0m0 93h0m0-66h0m0 36h0m1 150h0m0-181h0m1-252h0m1 350h0m0-417h0m1 351h0m0-209h0m2-192h0m0 286h0m3 91h0m5-201h0m1 195h0m1 279h0m0-135h0m0-227h0m1 348h0m0 64h0m1-175h0m1 1h0m0-148h0m0 62h0m0-388h0m0 313h0m1 139h0m0 111h0m0-101h0m1 30h0m0-85h0m1-200h0m2 106h0m1 41h0m0-290h0m0 426h0m1-98h0m4-216h0m3-13h0m1 132h0m1-7h0m1-47h0m0 93h0m1-267h0m0 452h0m0-461h0m0 453h0m1-217h0m0-192h0m0 249h0m0-372h0m1 83h0m1 284h0m0 84h0m0 2h0m0-305h0m0-96h0m0 164h0m1-84h0m0 219h0m1-114h0m0 371h0m0-309h0m0 48h0m0-44h0m1-21h0m0-104h0m0 288h0m1-291h0m0 256h0m1-76h0m1-218h0m1 234h0m0-99h0m2-11h0m18 153h0m1 85h0m1-101h0m1 137h0m0 134h0m0-278h0m1 117h0m0-69h0m1 15h0m1 73h0m2-24h0m0 63h0m0-235h0m1 358h0m0-344h0m0-261h0m0 342h0m0-36h0m1 285h0m0-200h0m0-49h0m0 29h0m0-45h0m0-114h0m1 188h0m0-619h0m0 554h0m1-69h0m0-179h0m0-167h0m0 531h0m0 41h0m1-190h0m0-54h0m0 126h0m0-10h0m0-118h0m1 302h0m1-175h0m0 21h0m1 55h0m0 62h0m1-185h0m2 281h0m12-333h0m0-125h0m1 165h0m1 48h0m1 40h0m0 176h0m0-295h0m1-139h0m1 270h0m0 33h0m2 26h0m1-261h0m0 129h0m0-74h0m0 8h0m2 74h0m1-213h0m0 455h0m3-292h0m3-312h0m1 302h0m0-267h0m0 277h0m0-104h0m1-57h0m0 276h0m1-423h0m0-29h0m1 252h0m1-64h0m1 70h0m0-95h0m1 105h0m0-159h0m0 273h0m1-36h0m1-118h0m1 197h0m1-160h0m4-279h0m1 399h0m5-280h0m1-78h0m1 148h0m0 298h0m1-100h0m1-500h0m0 432h0m1-560h0m0 544h0m0 236h0m1-256h0m0-24h0m1 84h0m0-41h0m0-398h0m1 491h0m2-285h0m0 107h0m0-156h0m0 133h0m1-107h0m0-48h0m0-117h0m0 99h0m0 122h0m0 262h0m2-88h0m1-169h0m6-133h0m0 374h0m1-269h0m1 4h0m1 420h0m1-388h0m0 227h0m1 69h0m0-362h0m1 118h0m0 1h0m0-46h0m1 116h0m0-266h0m0 194h0m1-60h0m0 216h0m0-251h0m1 49h0m0 63h0m1 125h0m2-246h0m1-200h0m0 294h0m9 20h0m3-154h0m1 423h0m0 35h0m1-480h0m0 325h0m0-38h0m0-82h0m1-33h0m0-24h0m1 73h0m0 10h0m0-25h0m1-80h0m0 81h0m1 39h0m0-251h0m2 362h0m0-149h0m0-109h0m0-115h0m0 245h0m0-208h0m1 223h0m1 243h0m0-255h0m1-241h0m0-32h0m1 427h0m1-396h0m2 272h0m0 208h0m6-516h0m3 404h0m1-232h0m1 166h0m0-437h0m1 199h0m0-117h0m1 555h0m0-127h0m0-184h0m0-192h0m0 285h0m1-399h0m0 338h0m1-34h0m0 31h0m0-438h0m0 453h0m0-3h0m0-422h0m1 114h0m0 184h0m0-155h0m0 387h0m1-530h0m1 694h0m1-763h0m0 501h0m0 110h0m0-541h0m0-85h0m1 65h0m0 250h0m0 247h0m0 4h0m0-173h0m1 240h0m11 207h0m5-49h0m1-12h0m1 39h0m0 60h0m0 3h0m2-74h0m0 4h0m1 162h0m0-273h0m0 158h0m0-109h0m0 91h0m1-88h0m1 32h0m0-61h0m0 198h0m0-332h0m1 225h0m0 129h0m3-46h0m1-180h0m0 110h0m4 9h0m1-121h0m3 211h0m1 34h0m0-459h0m0-70h0m1 482h0m1-23h0m0 31h0m0-310h0m1 236h0m0-353h0m0 421h0m1-101h0m0-78h0m1 215h0m0-452h0m0-77h0m0 122h0m0 301h0m0-207h0m0-253h0m0 247h0m0 369h0m1-32h0m0-506h0m0 471h0m1-136h0m0-94h0m1 78h0m0 42h0m0-145h0m0-257h0m0 366h0m1 136h0m0-33h0m0-171h0m0 271h0m0-198h0m1 46h0m1-307h0m2 264h0m1-127h0m12-208h0m1 262h0m3 144h0m0-72h0m1 123h0m0 21h0m0-187h0m0 158h0m1-350h0m1 207h0m0-74h0m1 390h0m0-306h0m1 41h0m1-33h0m0 191h0m1 42h0m1-525h0m1 258h0m0-27h0m2 43h0m1 176h0m1 120h0m0-219h0m1 268h0m0-2h0m1-332h0m2 288h0m0-105h0m0 57h0m1 11h0m0-47h0m0-85h0m1-142h0m1 249h0m0-91h0m1 121h0m0-98h0m0-113h0m1-23h0m0-127h0m0-155h0m0 224h0m0 180h0m1 170h0m0-11h0m1-176h0m2-100h0m0 307h0m1-217h0m0 18h0m2-310h0m9 147h0m1 227h0m1-93h0m0-65h0m1-131h0m0-7h0m2 54h0m1-65h0m0 84h0m0-122h0m1 129h0m0-10h0m1 189h0m1-87h0m0-85h0m0 74h0m0-205h0m0 357h0m1-205h0m0 70h0m1 200h0m0-350h0m0-65h0m0 286h0m0-241h0m0 193h0m1 48h0m0-302h0m0 104h0m1 229h0m1-235h0m0 13h0m0-1h0m1-114h0m11 171h0m1-166h0m3 247h0m1 0h0m1-131h0m0 209h0m0-445h0m0 489h0m1-363h0m0-18h0m0 334h0m1 67h0m0-167h0m0-45h0m1 237h0m1-280h0m0-125h0m0-73h0m0 155h0m0-140h0m1 80h0m0 211h0m0-122h0m0-304h0m0 199h0m0 246h0m1-168h0m0-203h0m0 275h0m0-95h0m1-2h0m1 5h0m0 18h0m0 18h0m1 40h0m0-75h0m0 64h0m0 57h0m0-137h0m0 203h0m0-395h0m1 151h0m1 389h0m15-184h0m1 222h0m3-159h0m2-236h0m0 169h0m0 81h0m0 20h0m1 129h0m0-186h0m0-263h0m1 315h0m1 71h0m0-64h0m0-149h0m0 324h0m1-41h0m0-357h0m0-68h0m1-56h0m1 380h0m1 41h0m0-157h0m0-28h0m0-71h0m0 245h0m1-283h0m0 197h0m0 90h0m0-360h0m0 91h0m1-54h0m0 351h0m1-287h0m2 109h0m0 27h0m0-204h0m2 184h0m1 63h0m1-496h0m0 306h0m2-78h0m0 419h0m0-446h0m0 114h0m0-350h0m1 233h0m1 522h0m0-577h0m0 165h0m1-166h0m0 108h0m0 209h0m0-345h0m1 621h0m0-482h0m0-157h0m1 223h0m1-32h0m0-364h0m0 335h0m0 377h0m0-119h0m0-344h0m1 67h0m0 22h0m0 233h0m0-107h0m1-42h0m0 0h0m0 186h0m1-135h0m2 259h0m0-115h0m5-383h0m1-459h0m2 303h0m1 149h0m0-168h0m1 183h0m0-104h0m0 179h0m0-217h0m1 114h0m0 93h0m1-81h0m0 47h0m0-190h0m1 497h0m0-39h0m0-474h0m0-68h0m0 451h0m1 5h0m0-256h0m1 218h0m1-174h0m0 104h0m1-519h0m0 462h0m0 111h0m1-440h0m0 599h0m0-96h0m1-210h0m0 176h0m1-382h0m1 201h0m1 281h0m0-164h0m0 69h0m1-192h0m8 39h0m2-47h0m2-6h0m1-88h0m0 268h0m1 71h0m0-58h0m0-4h0m0 133h0m1 43h0m0-57h0m0-77h0m0-319h0m1 92h0m0 188h0m1 113h0m0-80h0m0 133h0m0-41h0m1-384h0m0 171h0m0 229h0m1-51h0m1-50h0m0 14h0m1-56h0m0-186h0m1 392h0m0-9h0m1-330h0m0-137h0m0 377h0m1 40h0m0-206h0m0 220h0m2-192h0m12-35h0m3 350h0m1-226h0m1 3h0m0-40h0m1 239h0m1-437h0m1 280h0m0-345h0m1 372h0m1-408h0m0 231h0m0 362h0m1-306h0m0-310h0m0 266h0m0 92h0m0 139h0m0-89h0m2 97h0m0-265h0m0-303h0m1 212h0m2 97h0m2 88h0m0-228h0m1 238h0m5 90h0m2-64h0m1-186h0m0-9h0m1-62h0m0 104h0m1-25h0m1 319h0m0-368h0m0 232h0m0 221h0m1-252h0m0 122h0m1-486h0m0 178h0m0 244h0m0-67h0m0-118h0m1 70h0m0 166h0m0-151h0m0-62h0m0 5h0m1 317h0m0-278h0m1-352h0m0 130h0m0 150h0m0-68h0m2 281h0m0-210h0m0 78h0m1 20h0m0 133h0m0-515h0m3 356h0m0-122h0m1 122h0m10-86h0m0-336h0m0-237h0m2 64h0m1 17h0m1-26h0m1-107h0m0 740h0m0 81h0m1-121h0m0 46h0m0-563h0m0 350h0m0 111h0m1-57h0m1-23h0m1-564h0m0 829h0m0-335h0m0-9h0m0 205h0m0-164h0m1 150h0m0-62h0m0 68h0m1-52h0m0 13h0m1-248h0m0 109h0m0 238h0m0-269h0m0 1h0m0-154h0m1 278h0m3 74h0m1-1h0m0-208h0m2-125h0m0-4h0m1 393h0m1-69h0m7 207h0m0 45h0m2-131h0m3-162h0m0 345h0m0-134h0m1-178h0m0 119h0m0-145h0m0 263h0m0-158h0m1-13h0m0-382h0m0 407h0m0-119h0m0 304h0m0-38h0m1-317h0m0 162h0m0-317h0m0 389h0m0 17h0m0-530h0m0 278h0m1-271h0m0 398h0m0-386h0m0 217h0m0 377h0m0-337h0m0 342h0m1-464h0m0-279h0m0 703h0m1-431h0m0 8h0m0 25h0m0 259h0m0 60h0m0-131h0m0 93h0m1 52h0m1-40h0m0-697h0m0 655h0m0 47h0m1 205h0m0-112h0m0-115h0m0 11h0m0-35h0m1-198h0m0 369h0m0-55h0m1 95h0m0 22h0m0-62h0m1 70h0m0-177h0m0 83h0m0 93h0m0-21h0m1-76h0m0-26h0m0 159h0m0-199h0m0 10h0m1 217h0m1-135h0m0 49h0m1-154h0m0 109h0m0 153h0m0-418h0m0 268h0m1-90h0m0 59h0m1-277h0m3 163h0m7-30h0m2 262h0m0-412h0m1 292h0m2 12h0m0-398h0m0 324h0m1 21h0m0 32h0m1-102h0m0 41h0m0-78h0m0 60h0m1 151h0m0-85h0m1-235h0m0 141h0m0 151h0m1 95h0m0-514h0m0 284h0m0 198h0m1 33h0m0-371h0m1 287h0m1-88h0m0 126h0m0-154h0m0-204h0m1 217h0m0-39h0m0 131h0m0 147h0m1-532h0m1 297h0m1 80h0m1 95h0m0-41h0m2-812h0m1 172h0m3-266h0m2-25h0m0 249h0m0 343h0m3-88h0m0 505h0m0-935h0m1 698h0m1 170h0m1-236h0m0 198h0m1-21h0m0-47h0m0 22h0m0-20h0m1 77h0m0 128h0m1-188h0m0 17h0m2 50h0m0 1h0m1-44h0m0-103h0m1-169h0m1 33h0m7-84h0m0 305h0m0 123h0m1-487h0m1 504h0m0-292h0m1-123h0m1 218h0m1 73h0m0-134h0m0-95h0m0 211h0m0-228h0m0 8h0m1-17h0m0 308h0m0 96h0m0-354h0m0 141h0m1-128h0m0 326h0m0-135h0m1-183h0m0 129h0m0-4h0m1-33h0m0-2h0m0 28h0m1-274h0m0 175h0m0 280h0m0-272h0m1 275h0m0-37h0m0-96h0m0-56h0m0-42h0m0-181h0m1 78h0m1-166h0m0 59h0m0-109h0m2 0h0m0 293h0m1 166h0m0-191h0m1 50h0m0 52h0m1-66h0m1-427h0m0 254h0m0 166h0m0 69h0m1-188h0m0-88h0m0 402h0m1-332h0m0 22h0m0 62h0m1 239h0m0-14h0m1-281h0m0-174h0m0 243h0m1-111h0m1 348h0m0-411h0m0 363h0m1-305h0m0 230h0m0-40h0m1-58h0m0-158h0m0 23h0m1 167h0m0-173h0m2 255h0m10-442h0m3 454h0m1 46h0m1-315h0m0-39h0m0 20h0m1 221h0m0-139h0m0-21h0m0 32h0m0 268h0m1 96h0m0-410h0m0 348h0m1-271h0m0-290h0m1 187h0m0 53h0m1-281h0m0 296h0m0 153h0m1-187h0m0-128h0m1 324h0m0-55h0m0 42h0m0-33h0m0-359h0m0 114h0m0 69h0m1 385h0m0-274h0m1-173h0m0 248h0m0-356h0m0 53h0m0 202h0m2-85h0m10 275h0m1-458h0m2 355h0m2-117h0m0 41h0m0-163h0m1 191h0m0 14h0m1-60h0m0-69h0m0-20h0m0-149h0m0 439h0m0 120h0m1-357h0m0 75h0m0-287h0m0 199h0m0 153h0m0-75h0m1 53h0m0-57h0m0-106h0m0 44h0m0 332h0m1-94h0m0-194h0m1-246h0m0 10h0m0-11h0m0 342h0m0-185h0m1 220h0m0 29h0m1-314h0m1 122h0m1 194h0m1-177h0m2-9h0m1 303h0m10-114h0m1-355h0m0 196h0m1-11h0m0 186h0m0-269h0m2-4h0m0-9h0m1 152h0m0-110h0m0 31h0m1-9h0m1-169h0m0 263h0m0-132h0m0-234h0m1 262h0m0 266h0m1-390h0m0 456h0m1-199h0m1-24h0m0 101h0m0-51h0m1-83h0m0-81h0m0-47h0m0-25h0m0 45h0m0 407h0m1-331h0m0-140h0m1 42h0m0 331h0m0-46h0m0 29h0m1-56h0m3 262h0m3-222h0m1 2h0m1 205h0m0-464h0m0 407h0m1-314h0m0 332h0m0-63h0m1-192h0m0 190h0m0-36h0m1-58h0m0 48h0m0-181h0m0 340h0m1-174h0m0-147h0m1 87h0m0 141h0m0-247h0m0 318h0m2-209h0m0 48h0m1-83h0m0 68h0m0 188h0m1-266h0m1 165h0m2-138h0m0-177h0m9 213h0m1-39h0m3 261h0m1-417h0m1 172h0m0 136h0m0-254h0m1 273h0m1-4h0m0 73h0m0-77h0m0-184h0m0 61h0m1 167h0m0-47h0m0-230h0m0 282h0m0-80h0m1-26h0m0-110h0m0 161h0m2-3h0m0-216h0m0 312h0m0-144h0m1 41h0m0 42h0m0-324h0m0-16h0m0 266h0m1-55h0m0-274h0m0 254h0m0-65h0m0 147h0m1 33h0m0-130h0m1 16h0m1 43h0m1 53h0m0-264h0m1 127h0m0 95h0m3 59h0m1-460h0m3-8h0m0-102h0m1 8h0m2 71h0m0 339h0m0-255h0m0 134h0m1-95h0m0-275h0m1 196h0m0-86h0m1 37h0m0 312h0m0-183h0m0 0h0m1-139h0m0 85h0m0 248h0m1-401h0m0-66h0m0-136h0m1 629h0m0-431h0m0 441h0m1-544h0m0 163h0m1 193h0m0-113h0m0-288h0m0 313h0m1-291h0m0-48h0m0 283h0m1-39h0m0 20h0m1-117h0m1 315h0m2-276h0m0 152h0m4-563h0m2-52h0m0 551h0m1-429h0m2 302h0m0 195h0m1-2h0m0-267h0m1 75h0m0 309h0m0-87h0m0-598h0m0 530h0m0-121h0m1 299h0m1 70h0m1-117h0m1-116h0m1-63h0m1-514h0m0 161h0m1 333h0m1 37h0m1-554h0m1 577h0m1 148h0m0-48h0m1-457h0m0 364h0m2 134h0m0 180h0m1-489h0m1 123h0m1 305h0m0-69h0m1-696h0m1 535h0m0-18h0m0 97h0m0 72h0m0 30h0m0-55h0m1-376h0m0 92h0m0-130h0m1 305h0m0-480h0m1 276h0m0-300h0m1 368h0m0 382h0m0-657h0m0-40h0m1 759h0m0-218h0m0-17h0m1-132h0m1 378h0m0-396h0m0-381h0m0 631h0m1-165h0m1 250h0m8-418h0m1 127h0m1-311h0m1 322h0m1 25h0m0-181h0m1 79h0m0 25h0m0-3h0m1-22h0m0 92h0m0-296h0m1 364h0m0-13h0m0-322h0m1 160h0m0-140h0m0-61h0m0 288h0m0-105h0m0-108h0m1 190h0m1-176h0m0 10h0m1 170h0m0-233h0m1 11h0m0 210h0m0-46h0m1-305h0m1 346h0m0-154h0m0 82h0m0-30h0m0-203h0m0-1h0m1 480h0m2-311h0m0 53h0m1 307h0m1 136h0m0-334h0m1 69h0m1 92h0m1-215h0m0 327h0m1-55h0m0-195h0m1 189h0m0-156h0m1-377h0m1 315h0m0 101h0m0 17h0m0-6h0m0 66h0m0 51h0m0 104h0m1-560h0m1 513h0m0-271h0m0-348h0m1 43h0m0 475h0m1-106h0m0 175h0m1-67h0m0 124h0m1-311h0m3 157h0m4 200h0m2-132h0m2 207h0m0-134h0m1-38h0m0 178h0m0-176h0m1-24h0m0 45h0m1-171h0m0 301h0m0-431h0m0 252h0m0 6h0m1 90h0m1 73h0m2-148h0m0-169h0m0 147h0m0-174h0m1 139h0m7 197h0m2-367h0m1 70h0m1 219h0m3 76h0m1-77h0m0 37h0m1-88h0m1 66h0m1-334h0m0 127h0m0 69h0m1-177h0m0 274h0m0 89h0m0-35h0m1-172h0m0-63h0m0 171h0m0 35h0m0-34h0m0-5h0m2-52h0m0 16h0m3 60h0m0-60h0m3-97h0m8 104h0m0-177h0m0 119h0m0-197h0m0 65h0m1 174h0m0-128h0m0-193h0m0 369h0m0-304h0m0 377h0m1-203h0m0 29h0m1-149h0m0-48h0m1 154h0m0 25h0m0-29h0m0-113h0m0 65h0m0-22h0m2 45h0m0 34h0m0-44h0m1 126h0m0 25h0m0-228h0m1 166h0m1 108h0m0-80h0m0 120h0m0-124h0m1 91h0m0-331h0m2 63h0m0-4h0m0 307h0m0-290h0m9-4h0m2 45h0m3-94h0m0 205h0m0 16h0m1 201h0m0-379h0m0-122h0m0 350h0m0-94h0m1-14h0m0-151h0m1 291h0m0-107h0m0-85h0m0 80h0m1-104h0m0 77h0m0-6h0m1-109h0m0 86h0m1 59h0m0-130h0m1-64h0m0 44h0m0 14h0m0 14h0m1 21h0m0 112h0m0-80h0m0-160h0m0 99h0m0 51h0m1 155h0m2-186h0m2 228h0m0 111h0m0-294h0m18 195h0m0-48h0m2 150h0m0 60h0m0-326h0m1-9h0m0-202h0m0 214h0m0-17h0m0-142h0m1 393h0m0-363h0m0-56h0m1 182h0m0 12h0m0-22h0m2 87h0m0-309h0m0 103h0m0 417h0m3-290h0m1 296h0m0-386h0m3 196h0m1 57h0m0 2h0m0-347h0m1 202h0m1 59h0m1 64h0m1-53h0m0-133h0m0-41h0m0-54h0m1 29h0m1 23h0m1 273h0m0-147h0m0 95h0m0-15h0m0 137h0m1 34h0m0-198h0m0-209h0m0 393h0m1-168h0m1-9h0m0-83h0m0 293h0m0-193h0m0-308h0m1 149h0m0 261h0m0-385h0m0 48h0m0-276h0m0 461h0m0 66h0m0-101h0m1-274h0m0 179h0m0-292h0m1 434h0m0 149h0m1-266h0m1 276h0m0-401h0m0-146h0m0 117h0m1 99h0m0 339h0m0-361h0m0-125h0m0-142h0m0 502h0m1-122h0m0-388h0m0-94h0m0 222h0m0 18h0m0-63h0m1 109h0m0 352h0m0-289h0m1-162h0m0 310h0m0 178h0m0-377h0m0-26h0m1-114h0m1 30h0m0 19h0m0 291h0m0-272h0m1 154h0m1 2h0m16-273h0m0 182h0m1 38h0m1-117h0m1 18h0m0 174h0m1 107h0m1-211h0m1-5h0m0-365h0m0 424h0m0 456h0m1-377h0m0-265h0m1 348h0m1-26h0m1-189h0m0-69h0m1 470h0m0-328h0m1 269h0m0 48h0m1-675h0m1 595h0m0-3h0m0-84h0m0-419h0m0 0h0m0-129h0m1 276h0m0 246h0m8-440h0m0 534h0m0-278h0m1-51h0m2 109h0m0-367h0m0 537h0m0 81h0m1-391h0m1 226h0m0 13h0m1-16h0m0-110h0m1-2h0m1 25h0m0-411h0m0 341h0m0-33h0m1-153h0m1-177h0m0 51h0m0 711h0m1-452h0m0-466h0m0 188h0m1 529h0m1-404h0m0 435h0m2-530h0m2 532h0m1-117h0m3-59h0m1 400h0m1-82h0m0 86h0m4-528h0m1 13h0m0 36h0m0-44h0m0-240h0m0 199h0m1-64h0m1 593h0m1-39h0m0-133h0m0-255h0m1 189h0m0 61h0m0-66h0m1 178h0m0 2h0m0-429h0m1 144h0m0-27h0m0-269h0m1 76h0m1 30h0m0 231h0m1 296h0m0-467h0m1 86h0m2-243h0m1 452h0m0-202h0m0-110h0m0-293h0m0 241h0m1 179h0m1-337h0m0 59h0m0 279h0m1-392h0m0 103h0m2 15h0m1-157h0m0 111h0m1 60h0m0 19h0m1-81h0m4-8h0m0-19h0m4-15h0m1 173h0m1 66h0m0-235h0m1 307h0m0-337h0m0 81h0m0-159h0m0 88h0m1 47h0m0 66h0m0-171h0m1-196h0m0 368h0m0-103h0m1-237h0m0 105h0m0 356h0m0-240h0m0 138h0m3-259h0m0 361h0m1 0h0m0 204h0m1-396h0m0 209h0m1-195h0m4 171h0m11-230h0m1 74h0m0 100h0m0-375h0m1-43h0m1 366h0m0 250h0m2-75h0m0-516h0m1 345h0m0 166h0m0-83h0m1 56h0m3-177h0m1-156h0m0 420h0m0-539h0m1 283h0m0 33h0m2 41h0m2-90h0m0-101h0m1 137h0m0-147h0m1-85h0m1 132h0m2-35h0m1-50h0m0 3h0m0 71h0m0 117h0m1-354h0m0 280h0m0 51h0m1-12h0m0-282h0m0 203h0m0 58h0m1-138h0m0 253h0m0-148h0m0-59h0m1 33h0m0-192h0m1 162h0m0 35h0m1 2h0m0-77h0m0-132h0m1 401h0m1-244h0m1 102h0m13 458h0m0 113h0m0-186h0m2 162h0m0-220h0m0 248h0m1-109h0m1-200h0m0 158h0m0 40h0m0 65h0m1 16h0m0 6h0m1-187h0m1 74h0m0 92h0m1-101h0m0-13h0m0 168h0m0-31h0m2-160h0m0 129h0m1-5h0m0 91h0m1-70h0m1 96h0m0-111h0m13-114h0m1 57h0m1-281h0m0 194h0m1 53h0m0-35h0m1-383h0m1 408h0m0-267h0m1 413h0m0-146h0m0-439h0m0 90h0m0 304h0m2-19h0m0 60h0m0-30h0m0 17h0m1-58h0m0 146h0m1-34h0m0-78h0m0 190h0m1-143h0m0 20h0m2-527h0m0 396h0m1 199h0m0-171h0m2 310h0m0-817h0m1 423h0m1 166h0m2 40h0m0-180h0m0 284h0m1-41h0m0-18h0m0 210h0m0-208h0m0-72h0m1-51h0m1 19h0m0 205h0m0-102h0m0-70h0m0-5h0m0 62h0m1-142h0m1 95h0m0 183h0m0-163h0m0-107h0m0 126h0m0 18h0m1-4h0m0 57h0m0 137h0m1-142h0m0 41h0m0-154h0m0 116h0m1-127h0m0 241h0m1-109h0m0-37h0m1-142h0m0 334h0m1-135h0m1-118h0m1 15h0m1 19h0m11 20h0m0 40h0m3-12h0m1-63h0m0 145h0m0-45h0m1 81h0m0-115h0m0-28h0m0 148h0m1-273h0m1 70h0m0-79h0m0 334h0m0-143h0m1-187h0m0 80h0m0-29h0m0 188h0m1-59h0m0-11h0m0-18h0m1 115h0m0-216h0m1 122h0m0 52h0m0-21h0m0-172h0m1 64h0m0 88h0m1-136h0m1 128h0m0 62h0m2-133h0m1 60h0m1 43h0m2-43h0m25-58h0m0 133h0m1-116h0m0 227h0m0-151h0m1-89h0m1-169h0m0 81h0m0-134h0m0 354h0m1-65h0m0 93h0m0-7h0m1 31h0m0-165h0m1 106h0m0-284h0m1 234h0m0 184h0m0-349h0m1-152h0m0 241h0m1-30h0m0 96h0m0 137h0m1-527h0m0 264h0m0 265h0m0-492h0m0 247h0m0 127h0m2 344h0m0-430h0m1-44h0m0 58h0m0-117h0m0 116h0m2-53h0m11 61h0m2-38h0m0 215h0m1-256h0m1 267h0m0-256h0m0 430h0m1-121h0m0-98h0m0-340h0m1 124h0m0 34h0m0 407h0m1-176h0m0-118h0m0 99h0m0-283h0m0 458h0m1-627h0m0 279h0m0 268h0m0-405h0m1-77h0m0-77h0m0 348h0m3-10h0m0 56h0m0-178h0m1-30h0m2 204h0m10-67h0m2 49h0m1-453h0m0-55h0m0 212h0m0 223h0m1 13h0m1 109h0m1-560h0m0 485h0m1-305h0m0 61h0m0 29h0m0 175h0m1 183h0m1-84h0m0 115h0m1-365h0m0 169h0m0-31h0m1 28h0m0-51h0m2 41h0m0-315h0m2 299h0m4-298h0m5 482h0m1 10h0m1-127h0m1 112h0m1-281h0m0 106h0m0 235h0m1-334h0m1 173h0m0 307h0m0-197h0m1 44h0m0-279h0m0 186h0m0 202h0m1-160h0m0-130h0m0 328h0m0-535h0m0 335h0m0-257h0m2-327h0m0 591h0m0 12h0m1-192h0m0-133h0m0 170h0m0-467h0m0-93h0m0 573h0m0-692h0m0 547h0m1-135h0m1 524h0m0-160h0m0-290h0m0 373h0m0-221h0m1 211h0m0-76h0m0-162h0m0-591h0m0 526h0m1-351h0m1 76h0m1 664h0m1-679h0m1 222h0m1 168h0m1-101h0m1-162h0m2 259h0m0-832h0m0 799h0m0 79h0m1-520h0m0 417h0m0 132h0m1-80h0m0-479h0m0 377h0m1-12h0m0-357h0m0-266h0m0 737h0m0 34h0m1 2h0m0-318h0m0 214h0m0 67h0m1-711h0m0 650h0m1-700h0m1 665h0m0 7h0m0-610h0m1 791h0m0-125h0m1 59h0m0-497h0m4 135h0m4 196h0m0 50h0m2-84h0m2 408h0m0-541h0m0 142h0m0-185h0m1 144h0m0 163h0m0-208h0m0-101h0m0 378h0m0 9h0m1 69h0m0-323h0m0 306h0m0-127h0m1-204h0m0 330h0m1-412h0m0 318h0m1-136h0m0 210h0m0-256h0m0-10h0m0 194h0m0 36h0m1-185h0m1-34h0m2 19h0m6 317h0m0-99h0m2-427h0m1 438h0m1-78h0m1-212h0m0 63h0m1 149h0m0-256h0m0 418h0m1-349h0m0 103h0m2-156h0m0 313h0m0-463h0m1 209h0m1-238h0m2 422h0m2-40h0m1-216h0m3 281h0m0 104h0m2-179h0m0-75h0m1 94h0m1-150h0m1 127h0m0 162h0m0-189h0m0-84h0m1 155h0m0-140h0m0 204h0m0-140h0m0 172h0m1-120h0m0-150h0m1 138h0m1 237h0m0-461h0m0 55h0m1 12h0m0 73h0m1 393h0m0-439h0m1-48h0m1-85h0m2-72h0m1 439h0m12-330h0m1 68h0m1 225h0m2-220h0m1 219h0m0-6h0m0-781h0m0 46h0m1-34h0m0 845h0m0-230h0m0-509h0m1-111h0m0 656h0m0-461h0m1 590h0m0-508h0m0 728h0m0-191h0m1-196h0m0 186h0m1-137h0m0-357h0m0 158h0m0 422h0m0-185h0m1 140h0m0 19h0m0-260h0m1-154h0m0 86h0m1-150h0m1 219h0m0 193h0m4 120h0m2-316h0m15-290h0m0 48h0m0 168h0m2-121h0m0-91h0m1-6h0m0-178h0m0 388h0m2-190h0m0 135h0m1-169h0m0 275h0m1-279h0m0 254h0m0-56h0m1-175h0m0 310h0m0-199h0m0-296h0m1 415h0m0-30h0m1-142h0m0 154h0m1-267h0m0-87h0m0-79h0m1 69h0m7 41h0m0 371h0m1-233h0m0 273h0m1-207h0m1 1h0m0-310h0m0 312h0m1 27h0m0-72h0m0 72h0m1 213h0m0 46h0m1-177h0m0-184h0m0 405h0m0-482h0m0 240h0m0-204h0m1 145h0m0-37h0m0-28h0m0-5h0m0 41h0m0-84h0m0 217h0m1-67h0m0-333h0m0 76h0m0 124h0m0 29h0m1 356h0m0-382h0m1 13h0m0-199h0m0 182h0m0 215h0m0-46h0m0-258h0m1 96h0m1-125h0m1 203h0m1 5h0m0-44h0m1-116h0m0 153h0m3-109h0m16 346h0m1-16h0m0-9h0m1 166h0m0 95h0m0-6h0m0-131h0m0-283h0m2 338h0m0-362h0m0 4h0m1 190h0m0 121h0m0-62h0m1 188h0m0 88h0m1-223h0m1-326h0m1 121h0m0 146h0m0-41h0m2-171h0m1 338h0m0 164h0m1-82h0m2-108h0m0-498h0m2 315h0m0 169h0m1 132h0m0-604h0m0 121h0m1 79h0m0 278h0m0 236h0m1-220h0m0-745h0m2 509h0m0-4h0m0-134h0m0 168h0m0 236h0m1 106h0m0-48h0m0-900h0m0 185h0m0 215h0m1 120h0m0 323h0m0-327h0m0-296h0m1-225h0m0 1053h0m0-654h0m0 367h0m0 49h0m0-398h0m0 157h0m0-2h0m1 372h0m0-915h0m1 807h0m0-352h0m0 441h0m1-817h0m0 711h0m0 82h0m0-253h0m0 117h0m1-427h0m1 440h0m0-97h0m1-15h0m1 7h0m2-229h0m13 369h0m0-107h0m3-293h0m0 194h0m0-322h0m1 220h0m1 26h0m0 233h0m1-69h0m1-272h0m0 188h0m0-203h0m1 378h0m0 319h0m1-405h0m0-135h0m0-212h0m0 368h0m1-191h0m0-296h0m1 159h0m0 575h0m4-287h0m1-102h0m5 11h0m0 331h0m1-166h0m1-383h0m0 203h0m0 271h0m1-204h0m0 77h0m1-71h0m0 38h0m0 117h0m0-163h0m1-113h0m0 466h0m0-457h0m1 372h0m1-354h0m0 186h0m0-168h0m0-16h0m1-5h0m0-85h0m0 426h0m0-132h0m1-175h0m0 219h0m0-196h0m0 119h0m1-317h0m2 239h0m3-322h0m11 199h0m1-171h0m0 206h0m3-258h0m0-110h0m1 476h0m0-420h0m1 324h0m0-152h0m0 55h0m0 229h0m1-28h0m0-238h0m0-17h0m0 28h0m1 70h0m0-150h0m1-127h0m0 179h0m2 45h0m1 135h0m0-372h0m3 307h0m1 87h0m0 69h0m2-165h0m1-171h0m1-49h0m1 172h0m1-225h0m0-94h0m0 422h0m1 33h0m0-14h0m1-259h0m0-82h0m1 69h0m0 168h0m0-366h0m1 226h0m0 40h0m1 312h0m0-393h0m0-79h0m0 272h0m0-217h0m0 136h0m0-341h0m0 537h0m1-278h0m0-22h0m0-255h0m0 114h0m0 205h0m1 103h0m0-63h0m1-5h0m0 27h0m0 88h0m0 221h0m0-259h0m1-206h0m1-36h0m0 261h0m1-185h0m0 161h0m1 49h0m13-2h0m0 129h0m2-332h0m1 7h0m1-242h0m0 30h0m1 294h0m0 184h0m0-275h0m1-223h0m0 348h0m0-93h0m1 1h0m0 14h0m0 242h0m1-63h0m1-400h0m0 252h0m0-65h0m0 143h0m0-217h0m0 115h0m0-20h0m1-131h0m1 21h0m0 64h0m0 32h0m0 299h0m1-35h0m1-144h0m1 146h0m0-264h0m0 2h0m0 365h0m1-67h0m2-53h0m2 84h0m0-78h0m0 239h0m0-146h0m0-146h0m1 153h0m1 279h0m0-317h0m1-53h0m0 143h0m0 292h0m0-379h0m1 99h0m0-72h0m1 300h0m0-301h0m0 141h0m0-338h0m1 319h0m0 188h0m2-77h0m2-254h0m0 121h0m7-157h0m1-4h0m0-50h0m0-11h0m1 316h0m0-361h0m1 307h0m0-335h0m1 346h0m0-54h0m0-2h0m0-127h0m1 87h0m0 124h0m0-150h0m1-33h0m0 17h0m0 2h0m0 73h0m0-315h0m1 164h0m0 125h0m0 32h0m0 96h0m1-417h0m1 384h0m0-85h0m0 8h0m0-172h0m0-24h0m1 216h0m2-190h0m0 77h0m0 16h0m2 159h0m2-33h0m13 33h0m1-259h0m0 168h0m0-77h0m1 166h0m1-607h0m0 300h0m0 261h0m1-163h0m1 51h0m0 57h0m0-67h0m0 112h0m1-1h0m0-474h0m1 488h0m0-352h0m1 181h0m0-272h0m0 410h0m0-176h0m1 259h0m0-18h0m0-501h0m0 374h0m1 59h0m1-114h0m0-451h0m0 108h0m0 469h0m0-70h0m0-134h0m0 215h0m1-186h0m0-102h0m0-106h0m0 147h0m0 134h0m1 25h0m0-77h0m1-1h0m0 63h0m0-33h0m16-191h0m1 193h0m0 46h0m0-112h0m1 56h0m0 0h0m1-70h0m0-16h0m1 99h0m0 95h0m0-114h0m1-13h0m0 171h0m0-95h0m0-107h0m0-34h0m1 101h0m1 189h0m1-51h0m0-254h0m1-65h0m1 254h0m0-48h0m1 18h0m4 69h0m5 12h0m4 88h0m0-408h0m1 404h0m0-6h0m0-187h0m0 7h0m1 162h0m0-299h0m0 106h0m1 33h0m0 193h0m1-222h0m0 62h0m0-17h0m1-9h0m0-148h0m0 172h0m0 159h0m1-147h0m0 189h0m0-486h0m0 268h0m0-164h0m1 154h0m0 12h0m0 13h0m1-295h0m0 362h0m0 51h0m0-99h0m0-64h0m0 112h0m0-470h0m0 327h0m0 63h0m1 42h0m1-41h0m0 144h0m0-385h0m1 172h0m0-336h0m1 202h0m0-36h0m0 113h0m0 75h0m1-47h0m0-383h0m0 375h0m0 94h0m0-243h0m1 56h0m1 191h0m0-431h0m0 117h0m1 307h0m0-305h0m0 25h0m0-100h0m0 284h0m0 109h0m1-146h0m1-138h0m1-96h0m1 169h0m1 69h0m15-268h0m6 358h0m0-151h0m0 39h0m0-133h0m0-154h0m1 50h0m0 84h0m0 291h0m0-367h0m1 176h0m1 263h0m0-176h0m0 131h0m2-341h0m0 268h0m0 207h0m0 15h0m0-574h0m1 489h0m0-208h0m2 81h0m0 120h0m0-279h0m1 142h0m63 66h0m2 331h0m2-394h0m0-249h0m2 506h0m0-183h0m1 235h0m1-332h0m2-127h0m0 565h0m0-407h0m1 116h0m0 197h0m0 72h0m0-480h0m1 349h0m1 46h0m0-389h0m1 62h0m0 185h0m0 58h0m3 146h0m0-277h0m1 135h0m1-197h0m11 78h0m0 101h0m1-226h0m1 131h0m0 68h0m0-385h0m1 309h0m0 105h0m1-171h0m0 191h0m0-161h0m0 226h0m1-55h0m0-104h0m1-12h0m0-8h0m1 117h0m0-62h0m0 225h0m0-469h0m1 131h0m4 304h0m0-83h0m1-297h0m2 219h0m1 6h0m1-93h0m1-127h0m0 276h0m0-103h0m1 109h0m0-71h0m0-185h0m0-45h0m0 179h0m0-105h0m1 165h0m0-122h0m0-109h0m1-146h0m0 492h0m0-338h0m1-436h0m0 568h0m0-510h0m1 536h0m0 20h0m0-501h0m0 601h0m0-45h0m1 39h0m1-673h0m0 378h0m1 192h0m0 103h0m0-120h0m0 78h0m2-139h0m1-29h0m1-30h0m0-105h0m12-118h0m2 528h0m1-304h0m0 31h0m1 39h0m0 263h0m0-10h0m0-307h0m0 48h0m1 85h0m0-94h0m0 30h0m0-83h0m1-64h0m0 333h0m1-222h0m0-53h0m0 31h0m0-292h0m0 183h0m1 378h0m0-63h0m0 14h0m0-243h0m1-78h0m0 47h0m0-3h0m0-288h0m0 203h0m1 374h0m0-604h0m0 377h0m1-113h0m1 156h0m0 316h0m0-365h0m0 398h0m0-358h0m1 42h0m1-183h0m0-150h0m0 578h0m0-247h0m3 203h0m12-507h0m4-438h0m0 355h0m2 118h0m2 12h0m1-360h0m0 9h0m1 122h0m1-62h0m0 309h0m1-503h0m0 198h0m0 381h0m0-365h0m1 442h0m1-583h0m1 235h0m0-2h0m0 71h0m1-164h0m2-133h0m0-22h0m12 243h0m1-143h0m0 303h0m1-41h0m0-312h0m2 116h0m1 12h0m0 101h0m0 193h0m0 43h0m0-415h0m1-172h0m1 7h0m2 564h0m1-496h0m0 523h0m2 71h0m0 71h0m0-751h0m0 584h0m1 208h0m1 258h0m0-432h0m0-417h0m1 388h0m1 430h0m0-398h0m1 244h0m0-16h0m1-220h0m0 189h0m1-58h0m0 6h0m0-203h0m1 420h0m0 3h0m0-389h0m0 550h0m1-87h0m1-329h0m1-2h0m1 118h0m5-251h0m0 101h0m1 241h0m0-196h0m2-38h0m0 18h0m0 147h0m1 76h0m0-294h0m0 308h0m1-388h0m0-38h0m1 157h0m0 444h0m1-223h0m1-369h0m0 340h0m0-238h0m1 30h0m0-38h0m0 256h0m0-188h0m0 54h0m0 228h0m1 61h0m0-73h0m0-202h0m0-78h0m1 114h0m0-115h0m0 177h0m0-15h0m1-145h0m0 45h0m1-126h0m1 210h0m1 39h0m1-106h0m1-108h0m1-69h0m9 75h0m0 204h0m2-1h0m0-149h0m1-151h0m0 293h0m0-63h0m1-527h0m1 537h0m0-60h0m0 136h0m0-84h0m0-20h0m1 19h0m0-104h0m0-668h0m1 460h0m0-344h0m1 623h0m1-657h0m0 672h0m0 53h0m0-252h0m0 107h0m1 95h0m0-83h0m1-311h0m0 84h0m0 208h0m0 157h0m1-77h0m0 53h0m0-282h0m1 106h0m2 221h0m7-285h0m2 49h0m1-141h0m0 222h0m1-76h0m0 61h0m1-8h0m1-42h0m0-39h0m1 298h0m0-354h0m0 125h0m1-101h0m0-35h0m1 335h0m1-366h0m0 182h0m0-176h0m0 24h0m0 224h0m1 119h0m0-237h0m0 16h0m0 69h0m0-219h0m0 207h0m0-252h0m1 388h0m1-161h0m0-63h0m0-66h0m5 157h0m4-96h0m1 66h0m1-75h0m0-74h0m2-76h0m0 415h0m0-270h0m0 210h0m1-202h0m0 185h0m0-269h0m1 114h0m1 68h0m0-107h0m0 45h0m0-62h0m1 47h0m0-83h0m0 129h0m1-48h0m0 37h0m0 378h0m0-467h0m1 63h0m0 37h0m1-69h0m0-85h0m2 180h0m3-107h0m13 93h0m2-100h0m0 144h0m1-188h0m0 216h0m0 0h0m0-40h0m1 2h0m0 137h0m0-212h0m1 9h0m1 199h0m0-180h0m0 42h0m1 173h0m0-190h0m0-9h0m1 53h0m1-18h0m0 78h0m0-301h0m0 316h0m1-70h0m0-5h0m0-164h0m0-46h0m0 225h0m0-21h0m1-236h0m1 38h0m1 72h0m1-89h0m0 186h0m0-108h0m2 129h0m0-227h0m1 147h0m0-22h0m3-373h0m0 334h0m0 142h0m0-46h0m0 39h0m1-61h0m0-160h0m0 164h0m1-99h0m0-212h0m0 419h0m0-224h0m0 44h0m1 36h0m0-216h0m0-113h0m0 34h0m0 203h0m0 25h0m0-320h0m1 218h0m0 17h0m0-62h0m1-48h0m0 209h0m0-279h0m1 95h0m0 232h0m1 80h0m0 17h0m0 94h0m0-313h0m0 0h0m1-205h0m0 301h0m1 107h0m1 81h0m17-85h0m0 45h0m2-179h0m3 57h0m1 78h0m0-276h0m0 175h0m1 298h0m0-199h0m1-350h0m0 567h0m0-82h0m0-123h0m1 12h0m0-153h0m0 97h0m0-353h0m0 192h0m0 179h0m1 102h0m0-293h0m0 171h0m0-62h0m0-237h0m0-219h0m1 418h0m0 198h0m1-55h0m0-20h0m0 159h0m0-138h0m1-58h0m0 12h0m0 63h0m1-109h0m0 291h0m0-281h0m1 104h0m2-108h0m0 200h0m1-157h0m1-98h0m9 241h0m1-101h0m1-22h0m1 131h0m1-176h0m0 262h0m0-345h0m1 254h0m0 55h0m0-70h0m0 152h0m0-185h0m1 36h0m0 18h0m0-80h0m1 102h0m0-55h0m0-295h0m0 395h0m1-362h0m0 212h0m0 164h0m0-47h0m1-101h0m1-57h0m0 107h0m0-162h0m0 45h0m0 105h0m1-147h0m0 105h0m0-152h0m1 60h0m4 21h0m1 88h0m0 136h0m12-191h0m0-33h0m0 62h0m1 118h0m3-130h0m0-17h0m0-148h0m0 8h0m0 179h0m1-494h0m0-11h0m0 562h0m0-429h0m0 352h0m0-119h0m1 349h0m0-551h0m1 329h0m1-61h0m0-206h0m0 466h0m0-341h0m0 164h0m0 47h0m0-56h0m0-45h0m1-183h0m0 77h0m0-26h0m0 150h0m0-642h0m0 350h0m1 501h0m0-33h0m0-210h0m0-70h0m1-6h0m0 226h0m0-147h0m1 86h0m1-236h0m0 141h0m2-52h0m6-73h0m0-321h0m1 587h0m2-154h0m0-174h0m1-460h0m0 441h0m0-361h0m0 480h0m0-88h0m1-207h0m0 344h0m0-86h0m1 161h0m0-338h0m0 91h0m0-156h0m1 401h0m0-297h0m1 35h0m0 99h0m0-585h0m0 661h0m1-272h0m0 64h0m1-405h0m1 621h0m0-340h0m0 252h0m0-71h0m1-505h0m2 282h0m1 397h0m2 34h0m2-561h0m2 460h0m0 123h0m2 210h0m1-419h0m1 73h0m0 89h0m1-43h0m0 172h0m0-37h0m0 12h0m0-90h0m0-203h0m1 125h0m1 6h0m1-20h0m1-156h0m0 308h0m0-130h0m0 339h0m0-282h0m0 163h0m1-125h0m0 131h0m0-199h0m0 359h0m0-176h0m1-11h0m0-190h0m0-281h0m0 582h0m0-105h0m0-423h0m1 610h0m0 18h0m0-258h0m1-75h0m0-4h0m1 274h0m0-388h0m0 290h0m0-164h0m1-242h0m0 576h0m1-238h0m0-13h0m1 186h0m0-195h0m0-90h0m0 135h0m0 85h0m0 126h0m1-397h0m0 333h0m0-176h0m1 145h0m0-223h0m0 280h0m0 15h0m0-351h0m1 185h0m0 98h0m0-91h0m0 81h0m0-17h0m0 105h0m3-83h0m0 15h0m2 59h0m0-243h0m11-132h0m3 314h0m0-133h0m2-114h0m0 202h0m0 25h0m2 10h0m0 64h0m0-85h0m0-21h0m1 8h0m0-430h0m0 402h0m0-461h0m1 460h0m0-146h0m0 65h0m0 85h0m0 4h0m1 112h0m0-501h0m0 97h0m0 120h0m0-138h0m0 399h0m1-146h0m0-52h0m0 170h0m0 62h0m0-424h0m1 29h0m0 305h0m0-29h0m1-104h0m0-17h0m1 91h0m1-34h0m12-63h0m4 21h0m1-7h0m0 176h0m0-232h0m0 117h0m1-159h0m0 246h0m0-32h0m1 142h0m0-60h0m0-214h0m0-181h0m1 310h0m0-76h0m0 47h0m0-11h0m0 44h0m1-36h0m0 77h0m1 6h0m0-246h0m0 123h0m0 55h0m0 163h0m2-308h0m0-94h0m1 407h0m0-80h0m0-87h0m0 25h0m0-152h0m1 54h0m0-177h0m1 97h0m0 103h0m0-163h0m1 336h0m1-300h0m2-101h0m1 98h0m12 84h0m1-52h0m0 143h0m1 98h0m1-209h0m0 128h0m1-297h0m0 217h0m0-15h0m0 91h0m1 68h0m0-242h0m0 73h0m1-68h0m0 96h0m1 93h0m1-238h0m0 338h0m0-354h0m0 70h0m0-40h0m0 199h0m1-121h0m0 301h0m0-259h0m0-78h0m0 80h0m1-47h0m0 82h0m1-118h0m0 149h0m0-64h0m0 113h0m0-75h0m1-85h0m0 134h0m2 0h0m0-138h0m0 46h0m1-30h0m4 219h0m13-594h0m0 62h0m3-185h0m0 212h0m1-62h0m0-116h0m1 213h0m1 17h0m0-156h0m0 227h0m1 180h0m1 9h0m0-115h0m0-55h0m0-318h0m0 33h0m1 302h0m0-234h0m0 108h0m0 117h0m0-264h0m1 132h0m0 27h0m0-112h0m1 69h0m0 169h0m1 1h0m0-305h0m0 204h0m1 51h0m0 104h0m1-334h0m14 171h0m3 19h0m0-56h0m3 184h0m1-350h0m1 7h0m0 254h0m1 10h0m0-104h0m0-25h0m1 71h0m0-67h0m0-81h0m1-214h0m1 281h0m0 82h0m0-93h0m1 154h0m0-437h0m0 526h0m1-199h0m0-112h0m0 190h0m0 3h0m0-273h0m1 250h0m0 38h0m0-173h0m2-29h0m1 132h0m9-178h0m0 121h0m0-28h0m1-256h0m0 392h0m0-234h0m1 387h0m0-264h0m0 45h0m0 128h0m3-57h0m1-25h0m0 12h0m0 22h0m0-210h0m1 204h0m0-358h0m0 319h0m0-125h0m1-233h0m0 297h0m0 77h0m1-33h0m0 150h0m1 3h0m1-234h0m0 15h0m0 270h0m1-376h0m0 386h0m0-23h0m1-162h0m0-163h0m1-146h0m0 179h0m2 267h0m0-144h0m0-83h0m3 34h0m13 43h0m0 8h0m2 45h0m0 69h0m1-7h0m1-40h0m0 113h0m0-279h0m0 339h0m3-274h0m1 171h0m0-182h0m0 242h0m0 85h0m1 12h0m1-199h0m0-40h0m0-314h0m0 393h0m0 2h0m0-138h0m1 45h0m1 110h0m0-187h0m0 269h0m0-239h0m1-181h0m0 247h0m0-3h0m1-107h0m0-226h0m2 234h0m6-163h0m2 434h0m0-51h0m2-69h0m0 77h0m0-439h0m1 278h0m0-54h0m1-45h0m0 192h0m1-405h0m0 329h0m1 64h0m0-109h0m1-99h0m0 445h0m0-311h0m0-49h0m1 32h0m0-226h0m1 216h0m1-281h0m0-46h0m1 424h0m0-292h0m0 454h0m0-279h0m1 177h0m0-197h0m4 9h0m1 264h0m6-353h0m1 282h0m1-302h0m1 272h0m0-353h0m0 174h0m1-130h0m1-59h0m0 227h0m0-95h0m2-6h0m0-30h0m0 194h0m1-98h0m0 142h0m0-214h0m0 109h0m1-110h0m0-293h0m0 353h0m0 59h0m0-165h0m1-105h0m0 387h0m1-166h0m0-118h0m1-148h0m0 193h0m0-232h0m0 64h0m1 560h0m1-426h0m0-85h0m1 274h0m1-77h0m3-403h0m2-23h0m3 21h0m0-147h0m3 96h0m1-1h0m1 444h0m2 206h0m1-301h0m0 384h0m1-543h0m0-158h0m0 135h0m0 199h0m0-15h0m1 381h0m0-199h0m0-287h0m0-128h0m0 207h0m1 278h0m0-535h0m1 609h0m0-222h0m0-516h0m0 316h0m0 424h0m1-771h0m0 678h0m1-621h0m0 688h0m1 6h0m0 23h0m1-17h0m0-116h0m0-6h0m1-451h0m0 306h0m0 108h0m0 75h0m0-624h0m0 382h0m1 150h0m2-612h0m1 142h0m0 114h0m109 872h0m1-305h0m0 317h0m0 1h0m1-417h0m0 277h0m1-211h0m0 173h0m0-236h0m2-189h0m0 300h0m0-279h0m1-55h0m0 366h0m0 21h0m1 47h0m0-500h0m0 126h0m0 254h0m0 107h0m0-447h0m1 391h0m1 195h0m0-548h0m0 363h0m0-363h0m0 286h0m1 167h0m0-363h0m1 77h0m0 44h0m1 152h0m1 30h0m0-347h0m1 370h0m1-104h0m16 34h0m1 222h0m1-270h0m1 98h0m0-208h0m2-344h0m1 688h0m0-475h0m0-128h0m0 371h0m0-695h0m1 806h0m0-480h0m0 401h0m0 12h0m1-733h0m0 750h0m0 52h0m0-801h0m1 912h0m0-466h0m0 114h0m1 80h0m0-1h0m0 112h0m1 64h0m0-155h0m2-205h0m0 189h0m0 41h0m4-28h0m6-261h0m1 322h0m1-313h0m1 1h0m0 438h0m2-73h0m0-202h0m1-87h0m2-22h0m0-61h0m0 477h0m0-307h0m0 155h0m1 139h0m0-213h0m1-206h0m0 398h0m1-528h0m0 153h0m1 174h0m2 156h0m1-60h0m0 38h0m5-434h0m2 83h0m1 292h0m0 152h0m1-319h0m0 330h0m0-520h0m1 150h0m0 370h0m1-220h0m1-9h0m0 5h0m0-12h0m1-165h0m1 227h0m0-358h0m0 444h0m1-489h0m0 244h0m0-178h0m1 224h0m0 263h0m0-85h0m1-420h0m0 67h0m1 390h0m0-571h0m0 477h0m1-198h0m4-81h0m10 238h0m3 278h0m1-407h0m0 33h0m0 55h0m0-67h0m1 95h0m0 7h0m1-305h0m0 186h0m1 49h0m0-281h0m0 385h0m1 17h0m0 164h0m0-252h0m0-46h0m1-15h0m1 84h0m0-427h0m0 740h0m1-294h0m0 63h0m1 109h0m0-50h0m1-486h0m1 25h0m0 337h0m0-286h0m1 12h0m0 618h0m2-814h0m0 233h0m0-75h0m1-322h0m0 540h0m0-558h0m1 116h0m0 562h0m0-629h0m0 468h0m0-33h0m0-448h0m1 286h0m0 129h0m0 239h0m1 65h0m0-255h0m0-494h0m0 342h0m0 137h0m0-91h0m1 167h0m0 72h0m0-180h0m0 212h0m0-358h0m0-393h0m0 101h0m1 334h0m0 86h0m0 144h0m0-274h0m1 286h0m0-161h0m1-136h0m1 457h0m0-902h0m1 646h0m8-45h0m2-2h0m1-162h0m0 147h0m2-341h0m1 462h0m0-108h0m1-375h0m0 280h0m1 188h0m0-86h0m0-218h0m1 144h0m1-216h0m1-316h0m2 16h0m0 622h0m0 62h0m0-315h0m2 147h0m0-60h0m1 340h0m0-810h0m0 737h0m0 27h0m1-531h0m6 71h0m1 422h0m0-68h0m0 24h0m1 70h0m0-747h0m1 732h0m0 105h0m1-408h0m1 66h0m0-49h0m1-121h0m0-206h0m0-62h0m0 496h0m0-550h0m1 586h0m0-152h0m0-338h0m1 18h0m0 421h0m0-102h0m1-296h0m1 68h0m0 384h0m1 42h0m0-72h0m0 57h0m0-152h0m0-345h0m0 646h0m1-162h0m0-215h0m0-278h0m1 494h0m1-176h0m1-245h0m0 732h0m1-106h0m7-182h0m0-250h0m1 112h0m3-24h0m0-353h0m1 319h0m0 376h0m2-507h0m0 236h0m0-286h0m1 227h0m1 200h0m0-251h0m1-12h0m1-100h0m0 171h0m0-74h0m2 423h0m0-273h0m2 133h0m0-474h0m7 381h0m1 283h0m1-260h0m0 37h0m1 209h0m0-94h0m0-102h0m1-334h0m0 343h0m1 46h0m0-303h0m1 150h0m1 120h0m1-167h0m0 181h0m1-40h0m0-187h0m0 140h0m0 275h0m1-620h0m1 298h0m0 312h0m3 26h0m0-234h0m1-350h0m2 305h0m5 150h0m1-406h0m4 539h0m0-480h0m0 179h0m0-147h0m1 44h0m0 413h0m1-36h0m0-300h0m0 43h0m1-495h0m0-66h0m0 23h0m1 371h0m0 130h0m1-541h0m0 689h0m1-260h0m0 266h0m0-690h0m0 300h0m0 364h0m0-292h0m1 273h0m0-661h0m0 655h0m0-637h0m0 563h0m1 166h0m0-69h0m0-86h0m0 74h0m0-37h0m1-459h0m0 666h0m0-19h0m1-520h0m1 268h0m0 63h0m1-594h0m1 390h0m7 389h0m1-399h0m1 146h0m1 0h0m0-42h0m1-191h0m0-129h0m0 443h0m0-59h0m1-5h0m0-61h0m1-77h0m0-484h0m1 484h0m0-182h0m0 124h0m0 64h0m0 2h0m1 261h0m0 114h0m0-822h0m0 302h0m0 389h0m0-58h0m1-240h0m1 106h0m0-28h0m1-445h0m0 287h0m0 38h0m0 79h0m0 369h0m0-806h0m1 379h0m0 316h0m0-378h0m0 95h0m1 252h0m0-197h0m0 111h0m0-49h0m1-45h0m0-231h0m1 240h0m2-158h0m1 543h0m0-429h0m0 268h0m14-8h0m2 104h0m1-323h0m0 155h0m2 266h0m1-454h0m0-130h0m0 415h0m0 205h0m0-435h0m0 28h0m1 196h0m0 116h0m0-151h0m1 11h0m0 195h0m2-427h0m1 358h0m0-485h0m0 184h0m0 2h0m0 17h0m0 45h0m1-20h0m1 42h0m1-171h0m0 472h0m1-309h0m0 363h0m1-308h0m2 112h0m6-329h0m4 292h0m1-375h0m2 25h0m0 257h0m1 176h0m1-282h0m0-107h0m0-22h0m0-77h0m1 83h0m0 57h0m2-103h0m0 312h0m0-338h0m0-162h0m1 280h0m0 144h0m0 243h0m0-218h0m0 128h0m1-10h0m0-538h0m1 262h0m0-326h0m0 269h0m2 283h0m0-12h0m1 196h0m6-351h0m1-127h0m1 196h0m0-40h0m0 266h0m0-329h0m1 241h0m0-134h0m1 112h0m0 82h0m1-113h0m0 102h0m0 23h0m1-462h0m0 391h0m0-159h0m0 240h0m1-27h0m1-430h0m0 217h0m0-125h0m0 213h0m0-205h0m0-143h0m1 176h0m0 185h0m0-225h0m1-151h0m0 272h0m0-162h0m1 36h0m1 173h0m0-120h0m1 145h0m0-149h0m0 170h0m0-135h0m0 181h0m1 134h0m1-111h0m0-41h0m0 93h0m1-133h0m3 20h0m11 127h0m1-276h0m3 7h0m0-66h0m0 240h0m2-769h0m1 481h0m0 91h0m0 89h0m0 76h0m1-156h0m0 29h0m0 156h0m1-691h0m0 750h0m0-335h0m0 187h0m1 96h0m0-260h0m1 316h0m0-34h0m0-8h0m0 1h0m0-227h0m0-194h0m1 353h0m1 208h0m0-465h0m1-282h0m0 406h0m1 48h0m0 48h0m2 175h0m13-331h0m2 46h0m2-200h0m1 410h0m0-96h0m1-19h0m0-241h0m1 294h0m1-95h0m0 62h0m1-146h0m1-18h0m0 253h0m1-53h0m0-240h0m1 130h0m1 112h0m0-320h0m3-10h0m1 433h0m1-193h0m0 81h0m1-34h0m0 30h0m2-104h0m0 172h0m0-160h0m2 290h0m0-344h0m1-102h0m2 83h0m1 8h0m0 28h0m0-24h0m1 49h0m0-185h0m1 94h0m0 190h0m1-110h0m0 69h0m1-527h0m1 399h0m1 343h0m0-195h0m2-454h0m0 391h0m0-347h0m2 515h0m1-562h0m0-9h0m0 453h0m1-568h0m0 233h0m0-69h0m1 404h0m0 25h0m0-422h0m0 153h0m1 171h0m0 41h0m0-258h0m2 146h0m1 110h0m1 26h0m1-357h0m1 279h0m0-240h0m1 181h0m1 86h0m0-193h0m2-231h0m1 477h0m2-431h0m0 237h0m1 84h0m1-158h0m0-346h0m1 631h0m0-465h0m2 34h0m0-104h0m2 691h0m0-773h0m1 680h0m0-25h0m0-336h0m0 192h0m0-491h0m1-58h0m1 630h0m0-20h0m0 171h0m1-218h0m0-25h0m1 221h0m0-328h0m0 72h0m0 184h0m1-3h0m0-229h0m1 48h0m5 180h0m2 145h0m0-93h0m2-139h0m1-198h0m0 186h0m0-70h0m0 155h0m1-34h0m0 30h0m0-33h0m0-152h0m1 209h0m1-92h0m0-63h0m1 221h0m0-64h0m1 134h0m0-133h0m1 40h0m0-170h0m1-137h0m0 72h0m1 112h0m1-222h0m0 330h0m1-157h0m0 144h0m0 9h0m0-43h0m1-290h0m2 218h0m0 283h0m0-348h0m1-82h0m2 235h0m0-226h0m0 136h0m0 19h0m0-90h0m0 18h0m0 62h0m1-245h0m0 134h0m1 55h0m1 139h0m0-96h0m1-64h0m0 279h0m0-196h0m0 1h0m0-12h0m0-77h0m0-101h0m1 397h0m1 129h0m0-268h0m0-27h0m0-75h0m0 33h0m0 13h0m1-101h0m1 288h0m1-504h0m0-5h0m14 315h0m0-317h0m1 354h0m1-217h0m0 52h0m0 70h0m0-430h0m2 377h0m0-388h0m0 597h0m1-39h0m0-219h0m0 137h0m0-244h0m0-165h0m0 599h0m1-20h0m0-435h0m0-58h0m0 140h0m1-361h0m0 464h0m0-8h0m0 2h0m1-147h0m0 266h0m0-124h0m0-484h0m0 36h0m0-5h0m1 369h0m0 147h0m0-45h0m0-241h0m1 132h0m0 127h0m0-519h0m0 574h0m0-144h0m1-93h0m0 385h0m0-187h0m0-36h0m1 5h0m0-435h0m0 388h0m1-137h0m0 99h0m1-249h0m0 406h0m1 64h0m11 186h0m1 94h0m0-14h0m2 90h0m0-201h0m1 136h0m1-76h0m0 17h0m0-32h0m1-114h0m0 296h0m0-112h0m0-12h0m2-67h0m0 239h0m0-256h0m1-10h0m0 21h0m0-31h0m0-54h0m0 244h0m0-88h0m1-169h0m0-100h0m0 133h0m0 4h0m2-42h0m0 8h0m0 114h0m0-55h0m1 150h0m0-151h0m2-221h0m0 177h0m2 20h0m2 45h0m4 24h0m0 94h0m1-223h0m1 410h0m1-257h0m0 78h0m1-86h0m1-9h0m0 274h0m0-137h0m1 70h0m1-224h0m0-61h0m1 185h0m0 224h0m1-284h0m0-91h0m0-171h0m0 521h0m0-321h0m1-27h0m4-2h0m1 97h0m1-148h0m0-17h0m0 183h0m1-199h0m1-73h0m1 244h0m1-211h0m1 78h0m0 124h0m0-252h0m0 430h0m0-138h0m1-185h0m0-8h0m1-144h0m0 199h0m0 161h0m0-105h0m1-53h0m0-18h0m0 118h0m1 14h0m1-18h0m0 133h0m0-263h0m1 60h0m0 224h0m0-62h0m0-215h0m0-32h0m2-115h0m0 266h0m0-38h0m0-62h0m1-95h0m0-15h0m1 143h0m0 159h0m0-381h0m2 171h0m0-31h0m0-15h0m1 26h0m13 151h0m4-159h0m1-9h0m1 202h0m0-217h0m1 33h0m0 126h0m0-109h0m1 209h0m1-119h0m0 79h0m1-284h0m0 218h0m1-37h0m0-16h0m1-45h0m0 10h0m1 278h0m0-169h0m1-137h0m1 89h0m1-11h0m0 19h0m2 169h0m0-110h0m6-523h0m1 16h0m0-204h0m1 337h0m0-305h0m1 243h0m1-194h0m0-48h0m1 72h0m0 68h0m0-276h0m0-82h0m1 356h0m0-159h0m0 252h0m0-196h0m1-174h0m0 214h0m0-182h0m1 255h0m1 96h0m0 11h0m0-293h0m0 162h0m1-97h0m1 4h0m0 98h0m1-167h0m1 7h0m1 153h0m3 10h0m5-67h0m2-158h0m2 222h0m0-85h0m0 107h0m1-116h0m2 104h0m0 153h0m0-83h0m1 17h0m0-128h0m2-147h0m0-117h0m2 265h0m1-189h0m1 221h0m0-155h0m6 197h0m1-213h0m2-81h0m0 145h0m1-253h0m0 164h0m0 214h0m1-140h0m0 113h0m0-157h0m1 46h0m0 205h0m2-437h0m0 248h0m0 151h0m1-332h0m1 63h0m0 94h0m1 114h0m3-131h0m1-152h0m1 241h0m0-119h0m2 115h0m0-31h0m3-70h0m1 3h0m0-51h0m0 146h0m1 48h0m0-210h0m1-2h0m1 13h0m0 196h0m0-55h0m1-75h0m0-97h0m0 82h0m1-50h0m0-64h0m1 155h0m0 11h0m1-71h0m0 138h0m0-239h0m30 902h0m0-241h0m2 109h0m0 60h0m1 33h0m1-400h0m0 269h0m2 8h0m0-186h0m0-16h0m0 105h0m1-185h0m0 374h0m0 145h0m1-184h0m0-187h0m0 49h0m1-88h0m0 145h0m1 7h0m0 22h0m1 122h0m2-141h0m1 262h0m2-267h0m1 61h0m2-13h0m3 172h0m0-154h0m1 296h0m0-225h0m1 76h0m0-273h0m0 285h0m1-239h0m0 101h0m0-45h0m0-126h0m0-142h0m1 454h0m0-265h0m0 45h0m0 53h0m0 33h0m1-2h0m0-227h0m2 213h0m0 165h0m0 9h0m0-196h0m0 262h0m0 51h0m1-493h0m2 285h0m1-42h0m0-152h0m0 59h0m2-94h0m1 0h0m2 273h0m0 26h0m2-146h0m0-30h0m1 118h0m0 11h0m1-150h0m0-64h0m0 92h0m2-5h0m0-605h0m1 744h0m0-226h0m0 255h0m1-268h0m1-732h0m0 688h0m1-459h0m0 585h0m0-252h0m1-340h0m0-209h0m1 11h0m0-35h0m0 648h0m2 201h0m0-241h0m1 33h0m1-529h0m3 780h0m1-72h0m2 35h0m0-56h0m0 228h0m1-122h0m1-55h0m0-94h0m0-37h0m0 147h0m1-51h0m0-197h0m0 177h0m0 347h0m1-403h0m0 110h0m0 94h0m0-110h0m0-146h0m0 227h0m1 129h0m0-73h0m1-206h0m1 47h0m0 286h0m0-332h0m0 184h0m1 100h0m0-236h0m0 3h0m0 144h0m0-73h0m1-2h0m0 17h0m0-75h0m0 86h0m1-74h0m0-188h0m0 262h0m0-74h0m1 132h0m0 19h0m2-58h0m0-151h0m3-136h0m11 383h0m2-102h0m1-104h0m2-69h0m1 216h0m0-55h0m0 82h0m0-216h0m0 79h0m1-2h0m1-315h0m0 356h0m2 26h0m0-92h0m0 84h0m0-539h0m1 276h0m0 82h0m0-39h0m1-581h0m0 903h0m0-155h0m0-348h0m1 214h0m0 26h0m0 60h0m2-28h0m0 47h0m1-209h0m1 215h0m2 121h0m1-278h0m1-18h0m3-1h0m0 101h0m2-72h0m0 227h0m2-319h0m0 365h0m1-61h0m0-292h0m0 328h0m0-351h0m1 193h0m1-24h0m0-99h0m0 9h0m1-111h0m0 166h0m0 69h0m1-85h0m2 136h0m1-330h0m0 321h0m0-271h0m2 370h0m2-361h0m4-37h0m0 283h0m1-202h0m0 108h0m0 94h0m0-45h0m1 91h0m1-24h0m1-4h0m0-213h0m0 268h0m0-173h0m0 126h0m0-231h0m1 181h0m0-184h0m0 124h0m1-91h0m0 123h0m1-74h0m1-134h0m0 159h0m0 116h0m3-126h0m0 50h0m1-35h0m4-462h0m2 317h0m0-241h0m0 10h0m1 22h0m0 531h0m0-530h0m0-5h0m0 600h0m0-700h0m1 321h0m0 59h0m1 121h0m0-284h0m0 341h0m0-642h0m1 855h0m0-854h0m0 441h0m1 198h0m0-548h0m0 678h0m0-86h0m0-625h0m0 516h0m1 93h0m0-4h0m0-119h0m1 21h0m0 102h0m0-568h0m1 409h0m0-403h0m0 693h0m0-410h0m1 164h0m0 191h0m0-96h0m0-308h0m4 176h0m0 108h0m2-35h0m10 40h0m4 68h0m0 17h0m1 11h0m0-13h0m2-160h0m0 3h0m0 52h0m0 14h0m1-52h0m0 3h0m0 73h0m1 89h0m0-190h0m0-149h0m0 166h0m1-82h0m2 30h0m1 88h0m0 76h0m1-273h0m1 255h0m1 129h0m1-497h0m0 439h0m4-147h0m6-14h0m1 278h0m0-116h0m0-90h0m0 83h0m1-348h0m0 240h0m0-278h0m0 87h0m2 282h0m1-19h0m0 91h0m0-199h0m0-178h0m1 207h0m1-33h0m2 224h0m1-243h0m0 175h0m0-354h0m2 287h0m1 80h0m21-731h0m3 3h0m1-106h0m7-57h0m45 848h0m1-28h0m1-228h0m2-10h0m0 190h0m1-109h0m0 49h0m1-133h0m0 453h0m1-29h0m0 56h0m0-422h0m1 141h0m0 221h0m0-226h0m0 131h0m1-18h0m0 137h0m2-367h0m1 217h0m3-90h0m1 171h0m2-220h0m0-19h0m2-220h0m0 124h0m0 288h0m0-91h0m3-187h0m0-65h0m1 294h0m0 178h0m1-285h0m0-93h0m2 22h0m1 76h0m0-125h0m0 242h0m1-265h0m0 410h0m1-264h0m0 306h0m0-461h0m1 86h0m2 40h0m0 270h0m1-148h0m1-374h0m0 369h0m1-28h0m1-134h0m2 147h0m2-91h0m2-135h0m1 24h0m0 163h0m0-4h0m1-173h0m0 211h0m1 126h0m0-42h0m0-171h0m1 265h0m0-227h0m0-105h0m0 38h0m0-113h0m0 65h0m0 163h0m0-93h0m1 9h0m1-122h0m1 64h0m0 96h0m1 63h0m1-51h0m0-259h0m1 333h0m1 92h0m5-501h0m3 351h0m3 128h0m0 5h0m0-209h0m0 195h0m1-223h0m0 165h0m1-150h0m0 31h0m0-87h0m0 126h0m0-54h0m0-243h0m0 315h0m2 25h0m0-263h0m2 102h0m1 13h0m1 62h0m0-20h0m0 204h0m0-420h0m1 131h0m1-24h0m0-9h0m0 407h0m1-481h0m0 60h0m6-81h0m5 254h0m0-451h0m0 579h0m1-676h0m0 713h0m2-209h0m0 23h0m1-189h0m0 152h0m0-632h0m1 547h0m0 64h0m0 161h0m0-67h0m1 185h0m0-699h0m1-27h0m1 659h0m0-361h0m1 231h0m2-77h0m0 231h0m2-308h0m4 159h0m2-39h0m0-421h0m1-4h0m0 516h0m1-73h0m0-55h0m0 154h0m1-2h0m0-57h0m0 94h0m1-718h0m0 630h0m0-220h0m1 143h0m1 150h0m0-163h0m0-254h0m0-130h0m1 523h0m0-36h0m0-138h0m0-44h0m1 45h0m0 90h0m1-56h0m0 70h0m1 122h0m0-407h0m1 98h0m2-36h0m3 343h0m0 38h0m1 70h0m2-179h0m0-64h0m0-479h0m1 515h0m1 82h0m1-526h0m1 567h0m0-186h0m1 132h0m1-621h0m0 512h0m1 37h0m0-102h0m0 254h0m0-57h0m0-55h0m1 83h0m0-775h0m1-94h0m0 29h0m0 483h0m1 320h0m1 10h0m0-635h0m1-2h0m1 676h0m0 89h0m1-436h0m1-28h0m2 237h0m0 49h0m1 174h0m0-475h0m0-38h0m1 537h0m0-346h0m1 57h0m0-266h0m1 554h0m0-171h0m0-136h0m2 234h0m0 23h0m0-95h0m1 50h0m0-244h0m0 46h0m0 425h0m0-442h0m0 109h0m1-205h0m0 39h0m0 188h0m1-175h0m0 403h0m1-403h0m0 45h0m1 16h0m0-212h0m2 289h0m0 154h0m1-122h0m2 274h0m7-379h0m2 205h0m1-93h0m0-216h0m2 57h0m0 67h0m1-102h0m0-44h0m0 114h0m0 120h0m1-201h0m1 292h0m1 165h0m0-525h0m0 527h0m0-361h0m0 169h0m0-138h0m1-152h0m0 125h0m0-23h0m0-55h0m1 80h0m0 250h0m0-530h0m0 2h0m1 460h0m0-149h0m2 81h0m1-66h0m0-69h0m1 208h0m0-410h0m1 150h0m7 48h0m1 1h0m0-22h0m1 148h0m2-332h0m0 316h0m0-319h0m1 315h0m0-50h0m0 81h0m2-97h0m0-132h0m0 260h0m0-158h0m0-77h0m1 7h0m0 28h0m1-4h0m0 2h0m0-49h0m1 137h0m0 202h0m1-169h0m1-175h0m0 323h0m1-125h0m0-286h0m1 27h0m0 142h0m2 84h0m0 86h0m12-243h0m1-404h0m1-129h0m0 668h0m0-342h0m0-1h0m0 110h0m0-375h0m1 350h0m1-110h0m0 163h0m1 262h0m0-30h0m1-401h0m0-121h0m0 326h0m1 51h0m0-336h0m0 217h0m0-130h0m0-48h0m1 31h0m0 241h0m0-488h0m1 475h0m1 0h0m1-166h0m3-30h0m0 248h0m6-418h0m0 84h0m1 424h0m1-676h0m0-130h0m2 299h0m0 438h0m1-163h0m0 274h0m0-880h0m0 581h0m1-257h0m0-325h0m0 7h0m1 539h0m1-372h0m0 255h0m0 329h0m0-763h0m1 3h0m1 146h0m0-34h0m0 479h0m0-456h0m1 422h0m0-211h0m0 199h0m0-509h0m1 481h0m1-235h0m0-114h0m2 491h0m5-440h0m3 520h0m1-595h0m0 726h0m0-310h0m0-11h0m0-42h0m1-108h0m0-195h0m1 422h0m0-265h0m0 446h0m0-382h0m1 198h0m0-23h0m0-179h0m0 96h0m1 11h0m0-119h0m0-68h0m1 160h0m0 107h0m1 192h0m0 247h0m0-733h0m1 263h0m0-129h0m1 470h0m0-42h0m1-216h0m3 57h0m0 329h0m2-628h0m10 196h0m5 27h0m1-320h0m1 262h0m0 49h0m1 9h0m1 112h0m0-70h0m0-240h0m1 304h0m0-172h0m1-480h0m0 645h0m1-436h0m0 223h0m1-34h0m0-63h0m0 514h0m1-414h0m3 262h0m1-65h0m0-138h0m0-8h0m0 113h0m1-237h0m0 250h0m1-34h0m0-40h0m0 154h0m1-34h0m0-62h0m0-273h0m0 487h0m0-201h0m1-75h0m0-226h0m1 109h0m0 358h0m1-163h0m0-51h0m0 61h0m2-247h0m0 154h0m0 99h0m1 63h0m0-202h0m0 151h0m1 11h0m0-173h0m0-161h0m1 63h0m1 438h0m2-316h0m14 401h0m1-112h0m1-352h0m1 54h0m1 292h0m0-211h0m0-274h0m1 341h0m0-265h0m1 245h0m0 198h0m1-102h0m0-62h0m1-68h0m0-7h0m0 78h0m0 269h0m1-35h0m0-227h0m0-144h0m1 112h0m6-128h0m4 62h0m0 178h0m1-354h0m2 149h0m3 24h0m0 220h0m1-224h0m1 30h0m0 129h0m1-100h0m0 77h0m0-1h0m0-130h0m1 153h0m1-173h0m2 59h0m0 42h0m0 4h0m0-5h0m0-44h0m0-280h0m1 285h0m0 162h0m0-185h0m1 152h0m0-63h0m5 16h0m3-174h0m1 277h0m1-165h0m0-224h0m2 128h0m2 162h0m0-212h0m0-58h0m1 254h0m0-95h0m0 225h0m0-128h0m1-306h0m0 219h0m1-29h0m0-3h0m0 33h0m1 42h0m0-85h0m3-142h0m2 486h0m1-323h0m0-170h0m3 235h0m2-129h0m0 291h0m0-499h0m0 483h0m0 40h0m1-219h0m0 246h0m0-258h0m1 157h0m0 68h0m1-365h0m0 346h0m0 93h0m1-477h0m0 382h0m1-138h0m0 161h0m0-125h0m0-30h0m1 126h0m0-151h0m0 49h0m2-181h0m0 316h0m0-452h0m0 246h0m2-171h0m0 138h0m4 213h0m8 58h0m0-111h0m1-198h0m0 109h0m2-18h0m0 39h0m1-215h0m0 414h0m0-223h0m0-39h0m1 6h0m1 37h0m0 57h0m0-181h0m2 177h0m0-218h0m0 104h0m0 107h0m1 118h0m0-2h0m1-202h0m0-109h0m0 138h0m0 55h0m0-191h0m0 237h0m1-114h0m0 57h0m0-70h0m1-41h0m1-140h0m1 302h0m0-251h0m0 182h0m11 469h0m0-444h0m3 268h0m2 190h0m0-26h0m1-19h0m0-406h0m1-13h0m1 139h0m1 101h0m2 236h0m0-236h0m1-184h0m0 108h0m0-72h0m1-3h0m0 44h0m0 260h0m1-263h0m2 399h0m12-241h0m1-163h0m4-73h0m0-141h0m1 230h0m1-258h0m0 189h0m1-252h0m0 51h0m0 333h0m1-155h0m0 37h0m2-40h0m0 81h0m1 137h0m0-345h0m0 236h0m0-207h0m0 418h0m0-377h0m2 154h0m0-163h0m1-247h0m0 422h0m0-142h0m1 132h0m3 30h0m6-95h0m1 274h0m0-151h0m0-425h0m1 231h0m0-214h0m1 197h0m2-171h0m0 468h0m0-180h0m1-225h0m0-32h0m0 245h0m1-346h0m0 352h0m0-141h0m0 241h0m1-19h0m0-410h0m0 10h0m0 40h0m1 492h0m0-649h0m0 626h0m1-30h0m0-182h0m0 15h0m0-51h0m1 133h0m0-6h0m0 20h0m1 125h0m3-163h0m0 166h0m0-431h0m2 301h0m6-247h0m0-33h0m2 192h0m0-138h0m3-63h0m0 194h0m0 110h0m0-299h0m1 105h0m0 179h0m0-277h0m1 84h0m0-137h0m0 61h0m0 161h0m0-15h0m0 242h0m1-440h0m0 235h0m1-230h0m0 75h0m0-8h0m1-93h0m0 324h0m1-81h0m0-372h0m0 249h0m0 111h0m1-68h0m0 9h0m0 65h0m0-63h0m0 63h0m1-151h0m0 330h0m1-126h0m0-63h0m0 44h0m1-306h0m0 327h0m1 99h0m0-294h0m2-117h0m5-285h0m0-79h0m1 84h0m1-97h0m5 132h0m0-143h0m1 59h0m1-93h0m3 647h0m0 23h0m2-466h0m1-121h0m1 633h0m0-386h0m0 201h0m1-271h0m0 155h0m0 172h0m0 213h0m0-286h0m1 207h0m0-378h0m0-156h0m0 132h0m0 445h0m1-229h0m1-40h0m0-306h0m0 765h0m1-472h0m0-293h0m1 437h0m0-241h0m0 184h0m1 33h0m0-251h0m0-146h0m0 421h0m1 41h0m0-169h0m0 24h0m1-84h0m0 142h0m9 10h0m1 68h0m1-81h0m2 65h0m1-164h0m2 267h0m0-29h0m0-160h0m1-88h0m0 359h0m0-162h0m1-99h0m0 32h0m0-4h0m0 115h0m0 226h0m2-316h0m0 20h0m0 303h0m0-393h0m1 185h0m0 189h0m0-253h0m0 19h0m1 153h0m0-132h0m0 119h0m1 115h0m0-262h0m0 54h0m0-166h0m1 245h0m1-232h0m2-62h0m0-44h0m1 316h0m0 62h0m1-136h0m0 85h0m9 69h0m2-471h0m1 138h0m0-75h0m2 40h0m0 5h0m0-64h0m0 217h0m1-152h0m1-3h0m1-49h0m0 387h0m0-163h0m0 40h0m1-26h0m0-32h0m0 53h0m0-14h0m0-236h0m1-30h0m0 111h0m0-25h0m0 76h0m1-210h0m0 251h0m0 251h0m0-87h0m0-252h0m0 253h0m0-74h0m1-3h0m0-285h0m1 133h0m0-67h0m0 234h0m1-260h0m0 272h0m1-5h0m0-200h0m0-72h0m1 100h0m0 141h0m1-187h0m1 247h0m3-39h0m13-209h0m1-177h0m0 190h0m0 149h0m1 50h0m0-152h0m1 210h0m1-138h0m0 82h0m0-201h0m0-82h0m0 28h0m0-81h0m1 133h0m0 71h0m0 8h0m1-482h0m0 170h0m0 33h0m0 488h0m1-631h0m0 15h0m0 271h0m0 312h0m1-505h0m0 181h0m0 200h0m0-568h0m0 399h0m0-368h0m1 257h0m0 369h0m1-643h0m0 408h0m0 138h0m0 284h0m0-168h0m0-222h0m2 62h0m1 41h0m3 25h0m10-25h0m2 220h0m0-334h0m0 165h0m1 290h0m1-636h0m0 149h0m0-702h0m0 794h0m0-460h0m0 426h0m1-44h0m0 144h0m0-287h0m1-512h0m0 285h0m2 67h0m0 313h0m0 104h0m0 312h0m0 80h0m1-227h0m0-35h0m0 286h0m0-641h0m0-558h0m1 104h0m0 1012h0m0-298h0m0 154h0m1-258h0m0 264h0m0-196h0m1 106h0m0-232h0m0 189h0m1-90h0m0-215h0m1 73h0m0 269h0m1-342h0m0 544h0m0-485h0m0-661h0m0 308h0m0 457h0m1 82h0m1 102h0m1-878h0m1 708h0m0 62h0m6-549h0m3-73h0m1-188h0m0 126h0m3 288h0m0-266h0m1-130h0m0 259h0m1 72h0m0-184h0m3 116h0m1-247h0m3 60h0m1-27h0m1-72h0m1 67h0m0-35h0m0 241h0m0 141h0m2-232h0m0-74h0m1 28h0m1 227h0m0-340h0m1 21h0m2 385h0m2-34h0m1-68h0m2 98h0m29-22h0m2 131h0m0-82h0m1 225h0m0-183h0m0 350h0m1-398h0m0-283h0m0 548h0m1-379h0m1 157h0m0 65h0m0-341h0m0-41h0m2 267h0m0-36h0m0-130h0m0 298h0m0-304h0m0-189h0m0 603h0m0-116h0m0-1h0m1-570h0m0 620h0m0 114h0m0-309h0m0 30h0m1 0h0m0 54h0m0 431h0m1-512h0m0-305h0m0 401h0m1-397h0m0 295h0m0-394h0m0 612h0m1 237h0m0-803h0m0 51h0m0-24h0m0 31h0m1 519h0m0-611h0m1 20h0m0 880h0m0-886h0m1-12h0m3 121h0m2-79h0m4 593h0m2 37h0m1-156h0m0-126h0m1 137h0m1 14h0m0 294h0m0-650h0m1 400h0m0-120h0m0-241h0m1 370h0m1-164h0m1-66h0m0 36h0m0 73h0m1 175h0m1 40h0m0-354h0m1 198h0m1 315h0m3-171h0m2-32h0m1-70h0m1 35h0m1 21h0m0 45h0m1-188h0m1 332h0m0-549h0m1 298h0m0 37h0m1-95h0m0 196h0m0-309h0m0 522h0m0-497h0m1 451h0m1-70h0m0-215h0m0-65h0m0 326h0m0-272h0m0 55h0m1 171h0m0-123h0m0 190h0m0-280h0m1-181h0m0 231h0m3-202h0m2-76h0m14 97h0m1-21h0m1 99h0m0-390h0m1 367h0m0-315h0m0 472h0m1-450h0m0 273h0m0-45h0m1-136h0m0 7h0m0 250h0m1-394h0m0 236h0m1 426h0m1-286h0m0-56h0m0-371h0m0 501h0m1-298h0m1-132h0m1 324h0m0-206h0m0 462h0m0-117h0m1-344h0m2 129h0m0 160h0m1-354h0m9 354h0m0-191h0m1 383h0m1-669h0m3 164h0m0 419h0m0-160h0m0-103h0m0-137h0m2 286h0m0 264h0m1-220h0m1-134h0m1 1h0m0-404h0m0 39h0m0 330h0m2-234h0m0 244h0m2 11h0m1-46h0m1-108h0m2 198h0m2 114h0m1-338h0m0-106h0m1 741h0m0-652h0m1 210h0m0 106h0m2-171h0m0-7h0m0 173h0m0-345h0m0 282h0m1 2h0m0 120h0m0 206h0m0-226h0m1-341h0m1 134h0m0-79h0m0 259h0m1 139h0m0-280h0m0 333h0m0-509h0m0 120h0m1 215h0m0-430h0m0 579h0m1-239h0m0 55h0m1-419h0m0 544h0m0 49h0m0-476h0m1 276h0m1 87h0m3-49h0m14-378h0m1 383h0m0-172h0m0-16h0m1-57h0m0 25h0m1-12h0m0 43h0m1 190h0m2-465h0m0 104h0m0 140h0m0 385h0m1-212h0m0-231h0m1-2h0m1 276h0m0-212h0m0 249h0m0-366h0m0-168h0m0 255h0m1 297h0m0 42h0m0-348h0m0 409h0m1-137h0m1-430h0m0 60h0m0 22h0m1 161h0m1-101h0m0 193h0m1-205h0m0-198h0m13 481h0m2-333h0m0-2h0m1 462h0m1-342h0m1 407h0m0-244h0m0 188h0m0-174h0m0-96h0m2 86h0m0-128h0m0-44h0m0 131h0m0 116h0m1-123h0m0 229h0m1-339h0m0 383h0m0-273h0m1 119h0m0 5h0m1-390h0m0 48h0m0 199h0m2 298h0m0-503h0m0 162h0m0 310h0m0-487h0m0 218h0m1 272h0m0 47h0m0-248h0m2 56h0m0-207h0m1 242h0m1-334h0m7 369h0m0 231h0m0-334h0m1 394h0m1-69h0m1 115h0m1-344h0m0 124h0m1-34h0m0 194h0m1 8h0m1 18h0m0-127h0m0-42h0m0 17h0m0 97h0m0-82h0m1 65h0m0-39h0m0-306h0m1 59h0m0-12h0m0 244h0m0 195h0m1-451h0m1 45h0m0 348h0m0-449h0m1 387h0m1-49h0m0-252h0m1 204h0m0-79h0m2 123h0m1-162h0m17 169h0m2 95h0m0-153h0m1-55h0m0-26h0m1 93h0m0-89h0m1 143h0m0 128h0m1-46h0m0-220h0m0 101h0m0-69h0m0 146h0m0 97h0m1 5h0m0-96h0m0 16h0m1-6h0m0-117h0m0 165h0m0-143h0m3 79h0m2 44h0m1-71h0m0-48h0m7 85h0m0 84h0m3-167h0m0-46h0m2-22h0m0 244h0m1-119h0m0-91h0m1 22h0m0-38h0m1-33h0m0 2h0m0 324h0m0-483h0m0-9h0m0 213h0m1-30h0m1-16h0m1 163h0m0 172h0m0-379h0m0 311h0m1-57h0m0-85h0m1-132h0m1 213h0m2 69h0m0 87h0m0-251h0m0 314h0m0-13h0m1-93h0m1-524h0m0 48h0m5 223h0m0-448h0m1 162h0m1-21h0m1-184h0m0 123h0m1 315h0m0-154h0m0 41h0m0 110h0m0-235h0m0 130h0m1-1h0m0 11h0m2-331h0m1 293h0m0 38h0m0-153h0m0 11h0m0-205h0m0 338h0m0-67h0m0-287h0m1 37h0m0 43h0m0 350h0m0-437h0m1 471h0m0-179h0m0-265h0m1 410h0m0 74h0m0-66h0m1-146h0m1-205h0m0 279h0m0-23h0m2 56h0m2-203h0m2-152h0m13 22h0m4 247h0m1 12h0m1 175h0m0-317h0m0 72h0m2 79h0m1 160h0m1-473h0m0 23h0m0 384h0m0-469h0m2 53h0m0 161h0m1-33h0m0 185h0m2-467h0m1 623h0m1-333h0m1 83h0m1 254h0m1-366h0m0 316h0m0-126h0m0 87h0m0-73h0m0-96h0m1-85h0m0 300h0m0 125h0m0-270h0m1 326h0m0-197h0m0 82h0m1-303h0m1 25h0m0 266h0m0 120h0m0-540h0m0 84h0m1 267h0m0 88h0m0 116h0m0-244h0m0-100h0m0 105h0m1-13h0m0-7h0m0 33h0m2-211h0m0 410h0m1-152h0m1-4h0m0-182h0m0-240h0m2 92h0m0 298h0m4 135h0m9-335h0m1 279h0m3 38h0m0-294h0m0-167h0m1-192h0m0 464h0m1-223h0m0 290h0m1-407h0m0 289h0m0-25h0m1 309h0m0-281h0m0 176h0m0 86h0m1-126h0m1 162h0m0-652h0m0 290h0m1 32h0m0 65h0m0 31h0m0-47h0m1 187h0m1-214h0m1-23h0m0 40h0m1-362h0m1 599h0m2-142h0m7 50h0m3-320h0m1-442h0m0 881h0m1-288h0m0 296h0m0-942h0m1 538h0m0 370h0m0-679h0m0 693h0m0-602h0m0 345h0m0-221h0m1 190h0m0-499h0m0 333h0m1 431h0m0-313h0m0-286h0m0 47h0m0 130h0m0 427h0m0-483h0m2 211h0m0-119h0m0 254h0m1-750h0m0 572h0m0-485h0m0 697h0m0-251h0m0 20h0m1 164h0m0-4h0m0-57h0m0-406h0m0 352h0m0 141h0m0-114h0m0-288h0m0-127h0m1 311h0m0-548h0m1 526h0m0-163h0m0-70h0m1 412h0m0-534h0m1 428h0m0-170h0m18 380h0m2 97h0m1 15h0m0-122h0m3 208h0m0-296h0m1 187h0m0-105h0m0-231h0m1-247h0m0 89h0m1 159h0m0-6h0m1 157h0m0 41h0m0-134h0m1-92h0m0 56h0m1-179h0m0 600h0m1-594h0m1 281h0m1 352h0m1-415h0m1 108h0m0-368h0m1 214h0m0 390h0m1-312h0m0 152h0m0-102h0m1 392h0m0-252h0m0-140h0m1-54h0m0-531h0m0 684h0m1-58h0m0-163h0m1 182h0m0-123h0m1-15h0m0 466h0m0-253h0m0-616h0m0 415h0m1 119h0m0 297h0m1-381h0m0-324h0m0 379h0m1 364h0m0-298h0m1-27h0m1 12h0m0-154h0m0-72h0m1 239h0m4-55h0m9 280h0m1-222h0m0-58h0m1 105h0m0-27h0m0 2h0m1 92h0m0-159h0m0-28h0m0-162h0m1 56h0m0 47h0m1 257h0m1 68h0m0-306h0m0-118h0m0 343h0m1 7h0m1-280h0m1 26h0m0 87h0m1-55h0m0 256h0m1-156h0m0 190h0m0-14h0m0-393h0m1 82h0m0 274h0m1-37h0m3 119h0m1-445h0m9 159h0m1-112h0m1 167h0m0-16h0m0-130h0m1-201h0m0 509h0m1-33h0m0-235h0m0 341h0m0 41h0m0-102h0m1-47h0m0-812h0m1 988h0m0-116h0m0-254h0m0 395h0m0-243h0m1 242h0m0-205h0m0-101h0m1 109h0m0-548h0m0 361h0m0-140h0m1 261h0m0-6h0m1-124h0m0 121h0m0-247h0m0 379h0m0-82h0m1-139h0m1 71h0m1 148h0m0-84h0m0-16h0m0-51h0m0-29h0m1 190h0m0-85h0m0 41h0m14 73h0m3-335h0m1 1h0m1 200h0m1-185h0m0 171h0m0-142h0m0 360h0m1-157h0m1-164h0m0 91h0m1 49h0m1-158h0m1 137h0m0 30h0m0-399h0m1 391h0m0 59h0m1-280h0m0 175h0m1-115h0m0-18h0m0-66h0m2 191h0m1 132h0m5-101h0m0-83h0m1-47h0m1-130h0m0 61h0m1 137h0m2-11h0m0-106h0m1-30h0m0 250h0m0-319h0m0 51h0m1-12h0m0 351h0m0 93h0m1-211h0m0 10h0m0 1h0m2-81h0m0 174h0m0-314h0m1 50h0m0 47h0m2 10h0m0 163h0m3-203h0m0 42h0m4-13h0m2 343h0m0-177h0m1-159h0m0 143h0m1 200h0m0-44h0m0-366h0m0 140h0m0 55h0m1-265h0m0 315h0m0-130h0m1-89h0m0 204h0m0-168h0m0 183h0m0-110h0m0 55h0m1 5h0m0-42h0m0-502h0m0 530h0m0-523h0m1 743h0m0-433h0m0 317h0m0-71h0m0-678h0m0 549h0m0 165h0m1-189h0m0 94h0m0-571h0m1 540h0m1-100h0m0 96h0m0 66h0m0-197h0m1-509h0m0 646h0m3-487h0m0 460h0m1-604h0m0 467h0m1 185h0m15-7h0m0-110h0m1 79h0m1-92h0m1 169h0m0-109h0m0 81h0m0-44h0m1 93h0m0-166h0m1-11h0m0-219h0m0 323h0m1 143h0m0-248h0m0 103h0m1 39h0m0-223h0m0 147h0m1-105h0m1 274h0m1-124h0m0-124h0m1 71h0m0-29h0m0 84h0m1 198h0m1-260h0m3 287h0m9-142h0m1 83h0m1-223h0m0-100h0m0-236h0m1 440h0m0-165h0m0-160h0m0 334h0m1 40h0m0-245h0m2 170h0m0-244h0m0 299h0m0-165h0m1-363h0m0 484h0m0-87h0m1-77h0m0 13h0m1-156h0m0 406h0m0 34h0m1-219h0m0-42h0m0-325h0m0 114h0m1 223h0m0 87h0m1-111h0m0 170h0m1 138h0m0-306h0m0-46h0m0-24h0m1-300h0m0 390h0m1 126h0m0-201h0m2 77h0m1 75h0m1-122h0m11 153h0m3 39h0m1-6h0m0-135h0m0 293h0m0-259h0m2 41h0m2-14h0m0-16h0m0 63h0m0-110h0m0 79h0m1-318h0m1 264h0m0-62h0m0 21h0m0-75h0m1 153h0m0 77h0m0-321h0m0 287h0m0 179h0m0-310h0m0-168h0m2 337h0m1-45h0m0-62h0m0-50h0m0 125h0m1-167h0m0 102h0m1 146h0m1-39h0m1-60h0m0 45h0m11-766h0m0 151h0m1 98h0m1 106h0m1-336h0m0 200h0m0-91h0m1 224h0m0-73h0m3-252h0m0 18h0m0-6h0m1 72h0m1 291h0m1-376h0m0 332h0m0-3h0m1-276h0m3 249h0m1 13h0m6-176h0m0-155h0m3 443h0m0-272h0m0-157h0m0 83h0m2-85h0m0 491h0m1-162h0m0 52h0m0-152h0m1 36h0m2 158h0m0-374h0m0-37h0m1 431h0m0-489h0m0 384h0m1-59h0m0-127h0m1 243h0m0-259h0m1 94h0m3-156h0m2-65h0m2 161h0m1-193h0m1 494h0m0-413h0m3 226h0m0 23h0m0-225h0m1-1h0m1 236h0m1 17h0m0-66h0m1-138h0m0 266h0m1-224h0m0 243h0m0-147h0m1 18h0m0-251h0m1 300h0m0 116h0m0-153h0m1-122h0m0 162h0m1-247h0m0-106h0m0 42h0m0 345h0m1-246h0m0 341h0m40 178h0m0 85h0m2-428h0m3 435h0m0-342h0m2 130h0m1-42h0m0-118h0m1 357h0m0-311h0m0 115h0m0-51h0m1 78h0m0 145h0m0-107h0m1-117h0m0-206h0m0 120h0m1 181h0m0-276h0m0 364h0m0-75h0m1 43h0m0-155h0m1 51h0m3 282h0m8-19h0m4-102h0m1-18h0m0-121h0m0 145h0m2 176h0m0-284h0m1 307h0m0 11h0m0-177h0m0-243h0m1 60h0m0 132h0m0-50h0m0 3h0m0-141h0m0-79h0m1 267h0m0 70h0m1-168h0m1-9h0m0-79h0m0 349h0m0-219h0m1 64h0m1-210h0m0 80h0m0 239h0m2-222h0m3-188h0m1 193h0m9 209h0m1-256h0m1 309h0m0-275h0m0 38h0m0-22h0m1 292h0m0-244h0m0 49h0m1-211h0m0 320h0m0-152h0m0-350h0m1 362h0m0-80h0m3-38h0m0 124h0m0 153h0m1-582h0m1 493h0m0-128h0m0-752h0m1 737h0m0-74h0m0 60h0m1 105h0m2 137h0m1-332h0m4-480h0m0 621h0m1 2h0m1 47h0m0-8h0m0-237h0m1 90h0m0 129h0m1 43h0m0-121h0m0-55h0m1 20h0m0 97h0m1-247h0m0-50h0m0 338h0m0-326h0m0-215h0m1 519h0m0-502h0m0-165h0m0 643h0m0-159h0m1 253h0m0-126h0m1-141h0m0 226h0m0-186h0m1-8h0m1 82h0m0-7h0m0 33h0m5 130h0m5-16h0m2-139h0m1 144h0m1 50h0m1-321h0m0 220h0m0 13h0m1-77h0m0-53h0m1-31h0m1 164h0m0-219h0m2 19h0m0 95h0m0 59h0m1-82h0m1 28h0m0-122h0m0 137h0m0-227h0m0 121h0m0 218h0m1 75h0m0-299h0m0 351h0m0-168h0m1 33h0m1-42h0m1-255h0m0 315h0m1-251h0m1 181h0m0-146h0m1-62h0m15-567h0m1 883h0m0-194h0m1 65h0m1 47h0m0-306h0m0 366h0m0-729h0m0 749h0m1-489h0m0 324h0m0-488h0m0 677h0m1-351h0m0 63h0m0-115h0m1-386h0m0 231h0m0 204h0m0 159h0m0-233h0m1-321h0m0 582h0m0-29h0m0 216h0m1-489h0m0-173h0m0 510h0m0 207h0m0-528h0m0 278h0m1-163h0m0 286h0m0 200h0m0-191h0m0-196h0m1 16h0m1 73h0m3 82h0m1-161h0m12-182h0m0 281h0m1-69h0m1-87h0m0 314h0m1-80h0m0-347h0m0 131h0m1 261h0m0-440h0m0 96h0m0 242h0m1-91h0m0 219h0m0-383h0m0 446h0m1-493h0m1 333h0m0-1h0m1-73h0m0 157h0m0-286h0m1 92h0m0-97h0m1 51h0m0 128h0m2-49h0m4 121h0m7 17h0m1-48h0m0-21h0m1-268h0m2 175h0m0 135h0m0-406h0m1 278h0m0 46h0m0-76h0m0 80h0m1 8h0m0-296h0m0 64h0m1 386h0m0-26h0m1-332h0m0 238h0m0 62h0m1-344h0m0 382h0m0-315h0m1 136h0m0 178h0m0-203h0m2-1h0m1-56h0m1 222h0m1-196h0m13 208h0m2-73h0m0-110h0m1-9h0m1-33h0m1 219h0m0-36h0m0-332h0m0 197h0m0 109h0m0-94h0m1-185h0m0 153h0m1-175h0m0 143h0m0-55h0m0 276h0m1-128h0m0-271h0m0 340h0m1-36h0m1-13h0m0 209h0m0-313h0m0-167h0m1 392h0m0 72h0m1-356h0m0 215h0m0-93h0m3 112h0m0-55h0m22-812h0m0 259h0m0 56h0m0-232h0m1 145h0m0-62h0m1 44h0m0-165h0m1 237h0m0-14h0m1-190h0m0 193h0m2-167h0m2 224h0m2-1h0m0-307h0m83 745h0m3 206h0m0 5h0m1-426h0m0-211h0m0 498h0m1-270h0m0 470h0m2-364h0m1 16h0m0 335h0m0-280h0m0-435h0m0 728h0m0-698h0m0 248h0m1 159h0m0-91h0m0 131h0m1-9h0m0-450h0m0 545h0m0-38h0m1-4h0m1 200h0m1-253h0m3-159h0m2 111h0m1 148h0m1-97h0m1 118h0m1-45h0m1-30h0m0-277h0m1 239h0m1-143h0m1 210h0m0-245h0m0 109h0m0 47h0m0 133h0m0-63h0m2-29h0m0-218h0m0 211h0m3 100h0m0-168h0m0 150h0m0 2h0m0-60h0m5-104h0m1-63h0m0 173h0m0 136h0m0-123h0m2 58h0m0-312h0m1 127h0m0 174h0m3-131h0m0 49h0m0-565h0m0 307h0m1 306h0m0 120h0m0-200h0m0 12h0m0 37h0m0-23h0m1-100h0m0-30h0m1 165h0m0-362h0m0 199h0m0 57h0m0-106h0m0 163h0m0-37h0m1 213h0m0-212h0m0 5h0m0-206h0m1 214h0m0-165h0m0 165h0m1-7h0m0 51h0m1-108h0m0 24h0m14 59h0m2 87h0m0-34h0m2-172h0m1 179h0m1-151h0m1 151h0m0 163h0m1-107h0m0 98h0m1-202h0m0 54h0m1-116h0m1 314h0m0-191h0m0-39h0m1 4h0m0 201h0m0-157h0m1-319h0m1 126h0m1 237h0m0-102h0m1-288h0m2 515h0m0-370h0m0 251h0m0-137h0m1-145h0m2 110h0m5 35h0m1-472h0m2 479h0m0 87h0m0-173h0m1-223h0m0 263h0m1 53h0m0 50h0m0-667h0m1 644h0m0-177h0m0 309h0m0-255h0m0 130h0m1-9h0m0-494h0m0 369h0m0 158h0m0-660h0m1-17h0m1 606h0m2-88h0m0-175h0m1-4h0m2 355h0m1-13h0m0-447h0m3 422h0m0-461h0m3 614h0m0-252h0m0-302h0m1 463h0m0 56h0m0 39h0m2-124h0m0-55h0m0 28h0m0 62h0m0 146h0m1-133h0m0-17h0m0-5h0m0-534h0m0 403h0m2 25h0m0-453h0m1 367h0m0 123h0m0 159h0m0-227h0m1 154h0m0-67h0m0-265h0m1 354h0m1-301h0m2 158h0m1 162h0m2-181h0m5-202h0m1 197h0m1-34h0m0 73h0m1-175h0m0 226h0m1-29h0m2-43h0m0 208h0m0-237h0m1 116h0m0-185h0m0 197h0m0 72h0m1-209h0m0-71h0m0 153h0m1-219h0m1 218h0m0 28h0m1-92h0m0 162h0m2-268h0m3 198h0m1-178h0m0 55h0m2 87h0m1-74h0m2-97h0m0-37h0m1 113h0m0 56h0m0 17h0m1 240h0m0-213h0m1 34h0m0-197h0m0 277h0m0-139h0m0-176h0m1 374h0m0-297h0m0-116h0m0 137h0m1-15h0m0 7h0m0-5h0m1 301h0m0-104h0m1-308h0m0 212h0m1-96h0m0 204h0m1-284h0m1 274h0m2-78h0m1-194h0m4 290h0m3-145h0m2-56h0m0 165h0m0 34h0m2-106h0m0-208h0m0 118h0m1 127h0m0 21h0m0-24h0m1-288h0m0 240h0m0 12h0m0 47h0m0 41h0m1-23h0m0-42h0m0-20h0m0-242h0m0 293h0m0-307h0m0 381h0m1-178h0m0 65h0m0-62h0m1 127h0m0 5h0m0-50h0m1-227h0m0 180h0m0 141h0m0-121h0m1-95h0m0 42h0m0-101h0m1 199h0m0-326h0m0 210h0m0-34h0m1 171h0m2-4h0m12-260h0m1 202h0m1 75h0m2-237h0m1 167h0m0-33h0m0-98h0m1 16h0m0-121h0m0 217h0m1-2h0m0 25h0m0-318h0m1 190h0m0 71h0m0-163h0m0-5h0m0 31h0m1 78h0m0 134h0m1-90h0m1-232h0m0 24h0m1-42h0m0 195h0m2-64h0m0 89h0m3 17h0m1 3h0m6 148h0m1-105h0m1-169h0m1 261h0m0 179h0m0-315h0m1 199h0m2-123h0m1-110h0m0-101h0m1 254h0m0-38h0m0 64h0m0 200h0m1-113h0m0-257h0m1 506h0m1-131h0m0 20h0m0-600h0m1 357h0m1 50h0m0-141h0m2 37h0m1 74h0m2 30h0m0 75h0m2-264h0m1 256h0m0 46h0m0-206h0m0 65h0m1-91h0m1 143h0m0-26h0m1-91h0m0-60h0m1 53h0m0 72h0m0-121h0m0-127h0m1 360h0m0-225h0m0-85h0m0 135h0m0 7h0m0-13h0m1-36h0m0-182h0m0 250h0m0 41h0m2-35h0m0-84h0m1 19h0m0 194h0m2-59h0m1-211h0m7 127h0m1 38h0m1-127h0m1 193h0m0-428h0m2 248h0m1 205h0m0-34h0m0-71h0m1 67h0m0-145h0m1 264h0m0-341h0m0 77h0m1 19h0m0 44h0m1-305h0m0 28h0m0 124h0m1 174h0m1 87h0m0-109h0m0-118h0m1-38h0m2 259h0m1-463h0m0 222h0m1 200h0m1-44h0m3-121h0m1 30h0m1-121h0m1 128h0m2 150h0m0-211h0m0 173h0m0-22h0m1-60h0m1-166h0m1 311h0m0-181h0m0 91h0m1-66h0m0-38h0m0 102h0m1-130h0m1 101h0m0 60h0m0-37h0m1-121h0m0 29h0m1 0h0m1 51h0m1-97h0m1 106h0m1-258h0m1 141h0m0 185h0m5-274h0m2 109h0m1 30h0m0-156h0m3 237h0m0-270h0m0 229h0m1 248h0m0-321h0m0 15h0m0 48h0m1 123h0m1-299h0m0-11h0m0 419h0m0-211h0m0 40h0m1 8h0m0-242h0m2 430h0m1-20h0m2-348h0m3 13h0m1 272h0m2-124h0m1-66h0m1-177h0m0 266h0m1-119h0m0-161h0m1 433h0m0-334h0m1 31h0m0-29h0m0 78h0m0 20h0m3-97h0m0 276h0m2-230h0m0-74h0m2-110h0m0 222h0m0 5h0m1-206h0m1 201h0m0-49h0m5-12h0m0 297h0m0-284h0m0-118h0m1 113h0m0-66h0m1-322h0m0 363h0m0 209h0m1-36h0m0-71h0m0-391h0m0 341h0m1-136h0m0 64h0m0 74h0m0-252h0m0 404h0m0-80h0m1 103h0m0-323h0m0-108h0m0 401h0m0-354h0m1 41h0m0 332h0m0-127h0m1 156h0m0-192h0m1 77h0m0-490h0m0 581h0m1 13h0m0-509h0m0 380h0m0 33h0m0-370h0m0 486h0m1-184h0m0 49h0m0-51h0m0-244h0m1 276h0m0 19h0m0-125h0m2-404h0m1 570h0m0-175h0m2-119h0m3-51h0m0 364h0m1-152h0m2-48h0m0 4h0m1 248h0m0-236h0m1-124h0m0 201h0m0-240h0m0 159h0m1 15h0m0-85h0m1 161h0m0-173h0m0 58h0m1 141h0m0-272h0m0 241h0m3 143h0m0-457h0m0 174h0m0 44h0m0 73h0m1-43h0m0-58h0m0 247h0m0-203h0m0 12h0m0-284h0m3 311h0m0-159h0m12-46h0m0 121h0m2-313h0m0 322h0m0-184h0m0 174h0m1-47h0m0-74h0m2 164h0m0-203h0m1 8h0m0 409h0m0-55h0m0 3h0m1-218h0m0 205h0m0-170h0m0-160h0m0 210h0m3 154h0m0-12h0m0-288h0m0 176h0m0-325h0m0 317h0m1-138h0m0-42h0m0 123h0m1-6h0m1 121h0m2-114h0m1 267h0m1-486h0m12 229h0m1 87h0m0-125h0m1 95h0m0-180h0m1 180h0m0-451h0m1 153h0m0-7h0m0-68h0m1 425h0m1-153h0m0 155h0m1-504h0m0 361h0m1 10h0m0-212h0m0 67h0m0 63h0m0-82h0m1 304h0m0-356h0m0 2h0m0 26h0m0 293h0m1-323h0m0-4h0m0 379h0m1-451h0m0 122h0m0-116h0m7 224h0m0-266h0m10-22h0m1 353h0m2-56h0m0 43h0m2-292h0m1 6h0m0 110h0m0 182h0m1-170h0m0 48h0m1-157h0m0 117h0m0-110h0m0 102h0m1 64h0m1-198h0m1 419h0m0-194h0m1 82h0m0-205h0m0 83h0m1 113h0m1-55h0m1 21h0m1-252h0m5 204h0m0-114h0m0 155h0m0-114h0m2-320h0m0 409h0m0-40h0m1 154h0m0-383h0m0 233h0m0 91h0m0-133h0m2 85h0m1-21h0m1 121h0m0-52h0m0 115h0m0-147h0m0-422h0m2 617h0m0-222h0m0 131h0m1-206h0m1 278h0m0-396h0m0-302h0m0 159h0m1 359h0m0-125h0m1 225h0m0-190h0m0-65h0m0 360h0m1-15h0m0-350h0m1-437h0m0 817h0m1-265h0m10 189h0m1-119h0m2 101h0m0-244h0m0 73h0m0-8h0m1 204h0m0 117h0m1-210h0m0-246h0m0 248h0m0-418h0m1 226h0m0 221h0m0-52h0m1 83h0m1-305h0m1-25h0m0 71h0m1-278h0m0 383h0m2 17h0m1 2h0m0-225h0m3 374h0m4 32h0m2-442h0m2-315h0m0 513h0m1 203h0m0-131h0m0-396h0m1 407h0m1-71h0m1-27h0m1-57h0m0-137h0m0 342h0m0 175h0m0-313h0m1-139h0m0 106h0m0 117h0m0-394h0m0 694h0m2-290h0m0 258h0m0-48h0m1 12h0m0 91h0m0-382h0m0 330h0m1-202h0m0 140h0m2 38h0m0-397h0m1 131h0m0 219h0m0-107h0m0-32h0m1 332h0m0 80h0m0-47h0m0-392h0m0 161h0m1-75h0m1 1h0m0 180h0m1 43h0m0 33h0m0-37h0m0 17h0m0-103h0m1 225h0m0-63h0m1-281h0m0 329h0m2-317h0m1 250h0m0-314h0m1 380h0m2-243h0m9-10h0m1 72h0m0-108h0m0 252h0m1-101h0m2-163h0m0 89h0m2-95h0m0 57h0m0 95h0m1-200h0m0-100h0m0 38h0m1 295h0m0-163h0m0 26h0m0-164h0m1 275h0m0-91h0m1 91h0m0-225h0m3 144h0m2 195h0m4-71h0m1 87h0m0-152h0m0-27h0m2 57h0m0-188h0m0 38h0m1 33h0m1-12h0m0 92h0m0-117h0m1 198h0m0-269h0m1 162h0m1-150h0m1 62h0m0-146h0m0 303h0m0-13h0m1-254h0m2 396h0m1-144h0m0-160h0m3-120h0m2 189h0m0 74h0m1-50h0m0-124h0m0 33h0m0 70h0m1 204h0m0-190h0m1 62h0m0-162h0m0 46h0m1 216h0m0-179h0m0-96h0m0 75h0m1 2h0m0-48h0m0-22h0m0-90h0m1 211h0m0-43h0m0-89h0m0 157h0m0-59h0m1 63h0m1 88h0m1-186h0m1-141h0m0 305h0m1-297h0m0 48h0m0 194h0m0-162h0m1 127h0m0 163h0m11-371h0m1 197h0m1 42h0m0 2h0m1-294h0m0 248h0m1 181h0m0-387h0m0 325h0m1-213h0m0 147h0m1-2h0m0 69h0m0-331h0m0 348h0m1-12h0m0 3h0m1-423h0m0 374h0m0-31h0m0-303h0m1-117h0m0 14h0m0-27h0m1 360h0m0 35h0m0-15h0m0-142h0m0 266h0m0-207h0m1 120h0m1 26h0m1 83h0m0-107h0m8-58h0m1-217h0m4 69h0m0 127h0m0 95h0m0-103h0m1-189h0m0 147h0m1 45h0m0 240h0m0-303h0m1 242h0m1-88h0m1 11h0m0-281h0m0 403h0m0-134h0m0 53h0m0-140h0m0 173h0m1-125h0m1 78h0m2-26h0m3 23h0m7 18h0m0-227h0m1 26h0m3 180h0m0 46h0m1-59h0m0-157h0m0 137h0m1 110h0m0-141h0m0 9h0m0 77h0m1-126h0m0 36h0m0 27h0m2-22h0m1 119h0m0-58h0m0 58h0m0-107h0m1 21h0m1-16h0m2 41h0m0-865h0m1 865h0m1-225h0m1-552h0m2-10h0m0-146h0m2 98h0m0-52h0m2 966h0m0-292h0m0 203h0m1-775h0m2 749h0m0-19h0m1-731h0m1 19h0m0 681h0m1 40h0m1 114h0m0-46h0m1-879h0m0 729h0m0 101h0m0-75h0m1 71h0m0 8h0m2-247h0m1 188h0m0-93h0m2 177h0m0-259h0m1 257h0m2 4h0m31-558h0m3 254h0m1 47h0m0-209h0m1-109h0m1-26h0m1 144h0m0-115h0m0 74h0m0 36h0m1-80h0m0 273h0m0-116h0m1-174h0m0 222h0m1-275h0m1 114h0m0 140h0m2-246h0m0 43h0m0 230h0m0-100h0m1-28h0m11-51h0m2 169h0m0-201h0m1-112h0m0 236h0m1-131h0m1 111h0m1-94h0m1 233h0m1-88h0m0-154h0m1 181h0m0 56h0m0-220h0m0-98h0m0 15h0m0 280h0m1-324h0m1 70h0m0 252h0m1-279h0m1 21h0m1 289h0m0-152h0m1-116h0m3 165h0m8 19h0m0 548h0m3-174h0m1-411h0m1 176h0m1 18h0m0-60h0m1 296h0m0-138h0m0 94h0m0-88h0m0-203h0m1 27h0m0-58h0m0-288h0m0 63h0m0 577h0m0-152h0m0 307h0m1-570h0m0 283h0m0-216h0m0 103h0m0-28h0m0-222h0m0 488h0m0-138h0m0 131h0m0-609h0m0 52h0m1 455h0m0-42h0m1-53h0m0-362h0m0 213h0m0 446h0m1-161h0m0-381h0m1 7h0m0 348h0m0-423h0m0 80h0m0 33h0m0 279h0m0 52h0m1-454h0m0 584h0m1-632h0m0 202h0m1 417h0m0-665h0m1 126h0m3 56h0m2 457h0m2 159h0m2-221h0m0 206h0m1-146h0m0 62h0m0-39h0m0-13h0m0-175h0m0 174h0m1 102h0m0-128h0m0-357h0m1 394h0m0-243h0m0 235h0m0-415h0m1 19h0m0 435h0m0-350h0m0 136h0m0 288h0m1-30h0m0-81h0m1 56h0m2-73h0m0-181h0m1 179h0m0-293h0m1 355h0m0-318h0m1 276h0m1-40h0m6-16h0m2 19h0m0-138h0m1 135h0m0 26h0m0-24h0m2 150h0m0-254h0m0 45h0m1 61h0m0-192h0m1 167h0m1 78h0m0 6h0m1-322h0m0 56h0m1 36h0m0 98h0m2 28h0m0 155h0m1 10h0m0-421h0m0 154h0m1 153h0m0-82h0m3 130h0m3-86h0m3-138h0m1 161h0m0 34h0m2-294h0m0 89h0m1 107h0m1-157h0m1 119h0m0 187h0m0-153h0m1 164h0m0-201h0m0-171h0m0 204h0m1-89h0m0-27h0m0 340h0m0-100h0m1-107h0m0 39h0m1-129h0m1 111h0m0-91h0m0 76h0m0 37h0m1 91h0m1-113h0m1-187h0m1 199h0m1 149h0m12-145h0m0 14h0m1 134h0m1-657h0m2-75h0m0 656h0m0 122h0m0-156h0m0 66h0m1 42h0m1-259h0m1-122h0m0 33h0m1 320h0m0-659h0m1 263h0m0-271h0m0 575h0m1-434h0m1-56h0m0-117h0m0 778h0m1-205h0m0-55h0m0-528h0m1 657h0m0-504h0m1 526h0m1-232h0m1 168h0m0-67h0m1-157h0m0 183h0m2-374h0m0-257h0m1 635h0m1-71h0m2 281h0m0-214h0m0 24h0m1-161h0m0 153h0m0 101h0m1-181h0m0 13h0m1 180h0m1-232h0m0 70h0m0 96h0m1-250h0m1 118h0m0-96h0m0 183h0m1 45h0m0-96h0m3-181h0m1 252h0m3 148h0m4-118h0m0 12h0m1 28h0m1-58h0m0 37h0m1 63h0m0-117h0m0 102h0m1-144h0m0 105h0m1 45h0m0 117h0m0 68h0m1-163h0m0 52h0m0-199h0m1-66h0m0 187h0m0 62h0m0-30h0m1 46h0m0-316h0m0 214h0m1 129h0m0-395h0m0 347h0m0-87h0m1-105h0m0 99h0m1 116h0m3-134h0m1-101h0m0 352h0m9-203h0m1-921h0m1 702h0m0 59h0m1-576h0m0 686h0m0 119h0m0-966h0m0 170h0m1 417h0m1-550h0m0 808h0m0-150h0m1-52h0m0-577h0m1 769h0m0-105h0m1-46h0m0-620h0m1 793h0m1-211h0m0 168h0m0 8h0m1-935h0m0 839h0m0 187h0m1-200h0m1-92h0m0 219h0m0-53h0m0 71h0m1-214h0m0 156h0m0-112h0m2-12h0m0-131h0m1 321h0m4-203h0m3-607h0m1 491h0m2 228h0m0 114h0m0-156h0m0-48h0m0-53h0m1 13h0m0 258h0m0-276h0m0 72h0m1 33h0m0-795h0m1 716h0m0 84h0m1-134h0m0 76h0m0-760h0m0 689h0m0-143h0m0 224h0m0 63h0m0 66h0m1-87h0m0-27h0m0 29h0m0-716h0m0 631h0m1 62h0m1 96h0m0-231h0m0 127h0m0-75h0m0-5h0m2 252h0m1-191h0m3 2h0m9 20h0m3-200h0m1 288h0m1 68h0m0-41h0m1 2h0m0-157h0m0 5h0m0 46h0m1-173h0m0 64h0m0 145h0m1-110h0m0 239h0m0-240h0m0-19h0m1 118h0m0-259h0m0 131h0m1 101h0m0 7h0m2-36h0m0 70h0m0-130h0m0-22h0m1 56h0m0-98h0m0 163h0m2-108h0m0 29h0m0-64h0m10 191h0m2-57h0m1 27h0m1 79h0m0 81h0m1-230h0m1 151h0m0-156h0m1-50h0m0 147h0m0-71h0m0-36h0m1-2h0m0 188h0m0-173h0m2 177h0m0-133h0m0 56h0m1-228h0m0-16h0m0 12h0m1 179h0m0-160h0m1 15h0m0 305h0m0-84h0m1 91h0m0-19h0m0-221h0m0-77h0m0 204h0m1-57h0m2 229h0m1-194h0m1 98h0m7-542h0m2 52h0m0-53h0m0-136h0m2 678h0m1-173h0m1-369h0m0 277h0m1-342h0m1 389h0m1 16h0m0 8h0m0 101h0m1-15h0m0-142h0m0-196h0m1 393h0m0-569h0m0 26h0m1 561h0m0-38h0m0-72h0m1 26h0m0 87h0m0 74h0m0-264h0m0-73h0m0 233h0m1-84h0m1-544h0m0 622h0m0-553h0m0 654h0m0 7h0m0-401h0m0 213h0m1 84h0m0 71h0m1-38h0m0-106h0m0 140h0m0-181h0m0-29h0m4 212h0m12-21h0m1 48h0m1-284h0m1 305h0m0-161h0m1 167h0m1-143h0m0-268h0m0 295h0m1 55h0m1-56h0m0-57h0m1 99h0m0 24h0m0-340h0m0 59h0m0-132h0m0 89h0m1 277h0m0 98h0m0 20h0m0-252h0m0-446h0m1 450h0m0 104h0m0-34h0m1-460h0m0 364h0m0 272h0m0-70h0m0-94h0m1 27h0m0 133h0m1-313h0m0 237h0m0-70h0m13 40h0m0-140h0m1 14h0m1-18h0m1-187h0m2 176h0m0-102h0m0 49h0m1 101h0m0 91h0m1-179h0m0 194h0m0 8h0m0-268h0m1 402h0m0-308h0m0 73h0m1-50h0m0-60h0m0 225h0m0-80h0m1-70h0m1-123h0m0 166h0m1-137h0m0 338h0m0-241h0m0-30h0m1-207h0m0 228h0m1 123h0m0-12h0m0-197h0m2 43h0m1-85h0m3 367h0m6-61h0m1-134h0m1 17h0m0 15h0m0-14h0m2-181h0m0 192h0m0-105h0m1 9h0m1-82h0m1-108h0m1 172h0m1 44h0m0-87h0m0 218h0m0 31h0m1 40h0m1-136h0m0-133h0m1-9h0m0 189h0m1-76h0m0 30h0m2-68h0m1 178h0m0-188h0m2-419h0m1 615h0m0-533h0m1 531h0m0-499h0m4 324h0m1-415h0m0 14h0m0 485h0m1-143h0m0 203h0m0-153h0m0 52h0m0 24h0m1 61h0m0-108h0m1-209h0m0-208h0m0 390h0m1-175h0m0-254h0m0 444h0m0 43h0m0 60h0m1 53h0m0-245h0m0 178h0m0 32h0m0-9h0m1-128h0m0 192h0m0-28h0m2 26h0m0-24h0m1-76h0m0 81h0m0-47h0m0 8h0m8-154h0m3 191h0m1-555h0m1 580h0m1-254h0m1-164h0m0 243h0m0 57h0m0-568h0m1 38h0m0 450h0m0 185h0m0-4h0m1-320h0m1-71h0m0 94h0m1 88h0m0-213h0m0 260h0m1 153h0m0-156h0m1 114h0m0-93h0m1 83h0m0-225h0m2 162h0m0-482h0m1 472h0m16 376h0m0-140h0m1 44h0m0 31h0m0-29h0m2-337h0m0 350h0m1 56h0m0 13h0m1-87h0m0 49h0m0-41h0m0 12h0m1-521h0m0 532h0m1-28h0m0 131h0m0-220h0m1 127h0m0-122h0m1-261h0m0 423h0m0-537h0m0 416h0m1 142h0m0-52h0m1 73h0m1-94h0m0 21h0m0-2h0m2 36h0m3 13h0m1-118h0m0-14h0m2-158h0m0 288h0m0-445h0m0 329h0m1-3h0m0-39h0m0 26h0m3 140h0m0-147h0m0-37h0m1 66h0m0-310h0m1 223h0m1 43h0m0-171h0m1 65h0m0-44h0m0 186h0m0 89h0m0-264h0m0-47h0m1-35h0m1 108h0m0-877h0m1 925h0m1-941h0m0 1088h0m1-260h0m0 75h0m1-21h0m0 43h0m2-806h0m1 84h0m1-182h0m4 956h0m1 172h0m0-959h0m0 833h0m1-735h0m0 575h0m0-706h0m2 695h0m1-11h0m0 94h0m0-92h0m0-669h0m1 878h0m0 20h0m1 19h0m1-316h0m0 71h0m1 209h0m0 208h0m0-317h0m0 113h0m1 133h0m0-253h0m0-104h0m1 245h0m0-237h0m0 211h0m1 6h0m0 91h0m2-188h0m1-53h0m1-130h0m1 271h0m1-224h0m7 114h0m6 172h0m0-140h0m1 177h0m0-358h0m0 294h0m1-152h0m0 95h0m1-175h0m0 73h0m1-15h0m0 20h0m1-77h0m1 84h0m0 14h0m0 223h0m0-65h0m1-45h0m0 47h0m0 61h0m0-128h0m0 99h0m1-215h0m0-136h0m1 251h0m2-18h0m1 42h0m9-207h0m1 140h0m1 39h0m0-87h0m0 218h0m2-87h0m1-186h0m0 153h0m0-55h0m1-238h0m0 265h0m0-131h0m0-64h0m1 375h0m0-428h0m0 358h0m0-71h0m0 31h0m1 13h0m0-131h0m0-153h0m2 269h0m0-147h0m1-127h0m0 191h0m0-67h0m0 42h0m0-447h0m0 331h0m1-60h0m0 150h0m0 17h0m1 205h0m0-187h0m0-92h0m1 295h0m1-227h0m0-111h0m0-457h0m1-13h0m1 146h0m0 1h0m1 75h0m0 271h0m1-132h0m12 311h0m1 166h0m1-435h0m2-28h0m1 354h0m0-66h0m0-233h0m1 50h0m1 155h0m0 44h0m1-38h0m0-270h0m1-16h0m0 249h0m0-223h0m0 330h0m1-272h0m0 166h0m0-97h0m1 262h0m1-85h0m0-284h0m1 192h0m1 20h0m0-94h0m0 136h0m10-285h0m1 224h0m0 122h0m1-101h0m0-204h0m1 232h0m0-29h0m1-145h0m0 203h0m1-52h0m0 69h0m0-51h0m1 92h0m0-248h0m1 172h0m0-97h0m0 60h0m0-294h0m0 180h0m1 227h0m0-253h0m1 326h0m0-235h0m0 128h0m0-15h0m1-92h0m0-25h0m0 169h0m1-163h0m0-92h0m1-64h0m0 134h0m1-105h0m1 166h0m0-74h0m0-177h0m0 131h0m1-15h0m3 356h0m1-143h0m13-20h0m3-48h0m0-140h0m1 170h0m0-97h0m0-32h0m1 184h0m0-191h0m0-163h0m0 39h0m0 190h0m1 17h0m0-24h0m1-81h0m0-52h0m0-50h0m0 256h0m0-176h0m0 89h0m0 55h0m0-31h0m1 20h0m0 32h0m0-18h0m0-233h0m0 15h0m0 128h0m1-89h0m1 125h0m0 5h0m0 102h0m1-188h0m0 70h0m2 51h0m0-264h0m1 251h0m3-534h0m0-116h0m1 280h0m2 31h0m2-306h0m1 125h0m0-124h0m0 362h0m2-207h0m0 115h0m1 9h0m1-59h0m0-156h0m1 306h0m1-119h0m2-235h0m2 234h0m0 119h0m7-176h0m0 225h0m3-241h0m0 212h0m1-116h0m0 82h0m1-180h0m0-203h0m0 410h0m2-144h0m0-100h0m0 265h0m1-189h0m0-69h0m1-104h0m1 195h0m0 154h0m0-75h0m1 72h0m0-598h0m0-178h0m4 149h0m0 92h0m0-130h0m4 0h0m1 615h0m1-82h0m1-63h0m0 66h0m1-145h0m0 298h0m1-212h0m1 208h0m0-210h0m1 57h0m0-219h0m2 375h0m5-271h0m30 364h0m97 99h0m1-310h0m0 413h0m0-207h0m1-98h0m2 311h0m1-35h0m0-71h0m0-308h0m1 359h0m0-2h0m1-86h0m0 200h0m0-295h0m0 278h0m0-373h0m1 429h0m1-231h0m0 26h0m1 94h0m0-211h0m1 84h0m0 152h0m0 13h0m1-229h0m0-40h0m1 331h0m6-284h0m3 13h0m0 41h0m0 28h0m1 86h0m0-143h0m0 69h0m0-53h0m1 35h0m1-91h0m1 176h0m0-50h0m0-134h0m0 160h0m1-47h0m0-71h0m0-83h0m0 74h0m1 111h0m1-299h0m2 243h0m0-200h0m1 173h0m0 52h0m1-125h0m1-20h0m0-108h0m1 106h0m1-97h0m2 208h0m2 104h0m0 107h0m2-154h0m2-243h0m0-23h0m1 397h0m0-89h0m0-150h0m0 48h0m0 39h0m1-106h0m1 194h0m1-59h0m0-7h0m0 164h0m1-312h0m1 267h0m0-113h0m0 8h0m1-117h0m0 84h0m1-2h0m0 34h0m1 30h0m1 34h0m0-238h0m0 173h0m5 87h0m6-222h0m1 66h0m1 212h0m0-148h0m2-190h0m0 166h0m0 47h0m1-89h0m0-144h0m0 248h0m1-253h0m0 163h0m0-200h0m1 239h0m0-12h0m1-65h0m0-143h0m1 318h0m0-105h0m1-130h0m0 133h0m0-8h0m1 39h0m0-233h0m1 221h0m3-6h0m3-42h0m1-57h0m8 60h0m1-64h0m0 90h0m0 2h0m2-197h0m0-57h0m1 365h0m1-165h0m1 73h0m0-441h0m0-58h0m0-64h0m1 339h0m0-93h0m0 2h0m0 247h0m1-398h0m0 370h0m0-361h0m0 194h0m0 371h0m0-83h0m1 36h0m0 110h0m0-123h0m0-23h0m1-340h0m0-178h0m0-9h0m0-46h0m1 446h0m0 28h0m0-615h0m1 381h0m0-404h0m0 134h0m0 138h0m0 101h0m0 285h0m0-201h0m1-35h0m0 256h0m0-44h0m0-596h0m0 92h0m0 619h0m1-148h0m0-591h0m0 622h0m0-497h0m0 131h0m1-298h0m0 395h0m0-369h0m0 493h0m1 35h0m0-113h0m0-67h0m0-278h0m0 137h0m1-24h0m0 57h0m0-118h0m0 77h0m1 159h0m0-113h0m0-98h0m1-4h0m2 47h0m0 180h0m3-60h0m1-3h0m9-13h0m0 16h0m1-171h0m1-173h0m4-5h0m0 181h0m1-7h0m0 35h0m0 124h0m0-136h0m0-149h0m2-54h0m0 149h0m1 119h0m0-261h0m0 88h0m1 17h0m0 102h0m0 202h0m0-77h0m0-347h0m2 114h0m0 180h0m0-173h0m0 13h0m0 239h0m1-173h0m1 146h0m1-295h0m2 335h0m5 297h0m2-105h0m1 29h0m1-82h0m0 8h0m0 96h0m1 91h0m0-203h0m0 52h0m0-33h0m0-52h0m1 45h0m0 161h0m1-369h0m0-5h0m0 134h0m0-222h0m1 382h0m0-129h0m0-70h0m1-25h0m0 63h0m0 105h0m1-118h0m0 172h0m0-168h0m1 236h0m0-134h0m0-147h0m1-15h0m0 120h0m0-195h0m1 260h0m0 130h0m1-169h0m0-25h0m0 176h0m1-175h0m0 22h0m0-58h0m0 153h0m1 42h0m16-135h0m1-142h0m1-36h0m0 141h0m0 60h0m0 23h0m3 47h0m0-88h0m3-12h0m1-95h0m0 25h0m1 35h0m0-185h0m1 251h0m0-150h0m0 238h0m1-79h0m1 157h0m5-31h0m0-153h0m2 69h0m1-62h0m0-63h0m3 164h0m0 28h0m0-113h0m1-224h0m1 95h0m0-39h0m1 41h0m1 110h0m0-242h0m1 58h0m0 52h0m0 252h0m1-100h0m1 36h0m0-177h0m0-16h0m1-50h0m2 216h0m1-261h0m0 170h0m1-6h0m8-12h0m0 36h0m0-85h0m1 82h0m0 71h0m1-154h0m1 77h0m0 63h0m0-94h0m1 115h0m1 46h0m0-181h0m0-442h0m0 620h0m0-46h0m1-1h0m0 142h0m0-376h0m1 106h0m1 129h0m0 111h0m0-209h0m0 69h0m0 36h0m0-51h0m1-144h0m0 256h0m0 59h0m0-754h0m0 330h0m0 91h0m0 190h0m0 28h0m0-287h0m1-72h0m0 236h0m0-437h0m1 22h0m0 268h0m1-51h0m2 335h0m0-203h0m17-164h0m0 351h0m4-28h0m1-69h0m0 174h0m0-237h0m0 80h0m1-237h0m0 203h0m1 4h0m0 30h0m0-64h0m1 43h0m0-427h0m0 494h0m1-96h0m0 181h0m0-138h0m1 140h0m0-110h0m0 0h0m1-571h0m0 457h0m1 158h0m1-486h0m0 36h0m0 313h0m0 139h0m0 88h0m1-582h0m0 258h0m0-277h0m2-14h0m5 427h0m1 97h0m0-37h0m3 49h0m0-46h0m1-293h0m0 337h0m0-59h0m1 114h0m0-239h0m0-149h0m0 89h0m1 432h0m1-99h0m0-171h0m0 2h0m1 76h0m1-224h0m0 19h0m1 383h0m2-110h0m0-254h0m0 76h0m0-258h0m0 641h0m2-127h0m0-188h0m1-17h0m1-66h0m8-40h0m2 203h0m0-209h0m1 197h0m1-51h0m0-227h0m0-79h0m1 66h0m0 131h0m1-61h0m0 196h0m0 136h0m0-212h0m1 164h0m0-139h0m2 88h0m0-183h0m2-257h0m1 491h0m0-111h0m1-358h0m0 218h0m1 27h0m3 171h0m0 201h0m0-349h0m0 369h0m1-40h0m0-221h0m0 269h0m0-212h0m1-214h0m0 4h0m0 342h0m1-249h0m0 221h0m0-172h0m1 68h0m0 73h0m1 115h0m0-428h0m0 227h0m1 102h0m0-121h0m0 175h0m1 118h0m1-77h0m0-28h0m0-128h0m0 47h0m0-51h0m1 120h0m0 120h0m1-139h0m2-85h0m0 54h0m0-12h0m0 129h0m3 89h0m10-123h0m1 71h0m1-321h0m2 190h0m1 73h0m1-115h0m0-52h0m1 296h0m0-243h0m0-9h0m1 69h0m1-166h0m0 95h0m0 57h0m0 98h0m1-142h0m1-133h0m1 214h0m0-364h0m0 122h0m0 46h0m1 179h0m3 175h0m4-526h0m1 337h0m1-78h0m0-105h0m0-133h0m1 46h0m0-384h0m1-84h0m1 455h0m0-219h0m0 484h0m1-95h0m0 186h0m0-85h0m0-18h0m1-134h0m0 217h0m0-248h0m0 204h0m0-69h0m0 63h0m0-167h0m1 47h0m0 20h0m1-181h0m0-374h0m0 725h0m0-71h0m1 30h0m0-253h0m0-381h0m1 300h0m1-61h0m0 217h0m1 191h0m0-272h0m1 234h0m1 29h0m0-298h0m1-36h0m1 48h0m9-57h0m2 234h0m0-207h0m0 16h0m2 410h0m1-257h0m0-186h0m1 200h0m0-29h0m0 264h0m1-237h0m1 207h0m0-204h0m1-198h0m0 485h0m0-268h0m0 150h0m1-53h0m1-337h0m0 259h0m1-164h0m1 326h0m1-87h0m0-75h0m0-78h0m1-44h0m0 113h0m6-26h0m1-134h0m1 306h0m1-201h0m0 174h0m1 14h0m1-132h0m0-162h0m0 229h0m1-42h0m0 30h0m0 55h0m1 4h0m0-170h0m1 201h0m0-47h0m0-177h0m1 279h0m1-114h0m1-200h0m1 35h0m1 238h0m0-145h0m0 48h0m1 155h0m4-395h0m8-11h0m0 219h0m1-110h0m1 145h0m0 5h0m1 142h0m1-419h0m0 91h0m1 182h0m1-291h0m0 251h0m1-167h0m0-118h0m0 234h0m0 82h0m1-116h0m1 104h0m1 5h0m1-170h0m1 253h0m0-105h0m1-161h0m1 199h0m2-188h0m1-8h0m3 10h0m0 35h0m1 37h0m1-65h0m0-119h0m1 195h0m0 8h0m0-235h0m0 10h0m1 163h0m1-94h0m0 105h0m1-137h0m0 260h0m0-308h0m0 285h0m0-250h0m0 161h0m0 60h0m1-122h0m0 292h0m1-248h0m0-90h0m1-23h0m0 70h0m0 214h0m0-107h0m0-177h0m1 12h0m1 112h0m2-47h0m1-5h0m1 231h0m12-117h0m3-139h0m0 176h0m2-23h0m0 74h0m1-28h0m0-56h0m0 207h0m0-96h0m1-55h0m0 107h0m0-257h0m0 140h0m0 81h0m1-25h0m1-45h0m1 52h0m1 118h0m0-4h0m1-184h0m1 123h0m0-142h0m4-208h0m1 332h0m0-149h0m3 29h0m1-116h0m0 161h0m0 81h0m1-77h0m1-31h0m0 36h0m0-402h0m0 441h0m1-303h0m0-160h0m1 565h0m1-706h0m0 551h0m1-141h0m0-411h0m0 495h0m0-117h0m0 96h0m0 260h0m0-843h0m0 521h0m1-410h0m0 449h0m1-81h0m1 335h0m2-301h0m1 100h0m0-443h0m1-101h0m2 585h0m1-9h0m0-37h0m3-544h0m0 343h0m0 242h0m0-336h0m0 306h0m1-14h0m0 64h0m0-335h0m0 198h0m0 194h0m1-118h0m0 306h0m0-739h0m0 621h0m0-191h0m1 73h0m0 204h0m0-630h0m0-52h0m0 351h0m1-451h0m1 380h0m1 81h0m0-94h0m1 527h0m0-353h0m1-167h0m1 92h0m0-84h0m0 225h0m0 149h0m0-368h0m3-105h0m0 208h0m1-286h0m1 293h0m5-69h0m1 105h0m0 39h0m0-158h0m1 156h0m1-129h0m2 239h0m0-28h0m1-95h0m1-29h0m1 42h0m1-174h0m0 128h0m0 121h0m0-56h0m0 159h0m0-270h0m1 96h0m0-5h0m1-248h0m1-91h0m0 318h0m0-31h0m0-184h0m1-14h0m1 138h0m1-30h0m1 170h0m2-60h0m0-1h0m1-230h0m13 338h0m0-316h0m1-16h0m1 7h0m0 147h0m1-88h0m0 189h0m0-231h0m0 306h0m1-135h0m0 34h0m1 34h0m0-6h0m0-85h0m0 16h0m0-198h0m1 115h0m0 143h0m0-308h0m0 214h0m0-32h0m0-18h0m0-45h0m1-66h0m1 279h0m0-185h0m0-58h0m0 208h0m2-201h0m0 201h0m1-25h0m1-126h0m0 264h0m0-163h0m1 43h0m1-134h0m2-54h0m12-97h0m1 136h0m3 213h0m0-53h0m0 106h0m0-43h0m0-133h0m0-31h0m1-321h0m0 331h0m1-137h0m0 223h0m1-220h0m0 132h0m0-195h0m0 151h0m0 130h0m0-96h0m0 73h0m1-72h0m0-106h0m0-193h0m1 267h0m0 22h0m0 23h0m0-277h0m1 347h0m0-349h0m0 7h0m1 9h0m0-157h0m0 278h0m0-256h0m0 506h0m0-873h0m1 442h0m0 267h0m0-184h0m0 245h0m1 39h0m0-928h0m0 336h0m0 637h0m0-575h0m1 285h0m0 239h0m0-595h0m0 671h0m0-591h0m1-74h0m0-312h0m1 354h0m0-124h0m1 220h0m0-136h0m0-89h0m2-169h0m0 296h0m1 168h0m0-218h0m0-43h0m1 164h0m0-237h0m1 69h0m0 66h0m1-264h0m8 117h0m1-68h0m2 224h0m0 278h0m0-179h0m1-64h0m0-299h0m1 415h0m0-148h0m2 250h0m0-260h0m0-317h0m0 397h0m1-148h0m0 193h0m0-240h0m0 166h0m1 169h0m1-217h0m1-332h0m0 287h0m0 98h0m1-316h0m1 89h0m0 462h0m0-608h0m3 203h0m1 131h0m11-170h0m1 370h0m1-381h0m1 332h0m1-133h0m1 137h0m1-441h0m0 435h0m0-283h0m1 374h0m0-137h0m0-17h0m0-120h0m1 60h0m1-38h0m0 136h0m0-135h0m0 41h0m0-4h0m1-18h0m0-187h0m0 37h0m1 80h0m0-36h0m0 218h0m0-393h0m1 564h0m0-517h0m0 241h0m0-229h0m0 112h0m1 282h0m0-317h0m1-16h0m0-101h0m0 266h0m2-345h0m2 531h0m9-496h0m2 469h0m1-252h0m0-21h0m1 126h0m1 98h0m0-307h0m0-35h0m1 144h0m1 384h0m0-583h0m1 537h0m0-315h0m0 78h0m0-118h0m2-130h0m0 213h0m0-21h0m1-103h0m0 115h0m0 78h0m0-121h0m2 146h0m0-28h0m0-42h0m1-225h0m0 72h0m1 140h0m0 94h0m1 103h0m0-290h0m0 236h0m0-213h0m1 207h0m5 409h0m0 8h0m2 52h0m1-60h0m0-35h0m0-17h0m0 82h0m1-351h0m0 250h0m0-1h0m2-312h0m0 401h0m0-60h0m0 102h0m0-419h0m0 84h0m0 162h0m1 195h0m0-326h0m1 214h0m0-182h0m0 233h0m1-89h0m0-111h0m1 224h0m2-234h0m0 101h0m0-99h0m5 370h0m1-128h0m0 111h0m2-258h0m0 20h0m0 170h0m1-123h0m0 121h0m0-8h0m0 74h0m1-50h0m0-165h0m0-50h0m1 132h0m0 11h0m1-233h0m0 211h0m1 123h0m0-257h0m1 124h0m0 120h0m1-27h0m0 35h0m1-21h0m0-79h0m0-25h0m1-162h0m0 206h0m0-49h0m0-5h0m1 183h0m0-195h0m1 26h0m1-40h0m0 13h0m0 171h0m1-77h0m13-149h0m2-71h0m0 208h0m1 99h0m0-348h0m2 221h0m0 46h0m2-119h0m0 8h0m0-72h0m1 38h0m1 52h0m0 145h0m1-312h0m0 148h0m0-175h0m0 221h0m0-138h0m0 155h0m0-108h0m1 24h0m0-156h0m1 248h0m2 24h0m2-7h0m4-158h0m1-326h0m1 287h0m1 147h0m0-104h0m2-7h0m0-1h0m1-474h0m0 136h0m0 558h0m1-100h0m1-680h0m0 710h0m0-33h0m0-5h0m0-325h0m2 311h0m0-716h0m0 675h0m1 16h0m0 108h0m0-851h0m0 755h0m1 3h0m0-638h0m1 628h0m0-717h0m0 695h0m1 92h0m0 26h0m1-60h0m0-182h0m1 139h0m1-484h0m1 80h0m1-58h0m0 483h0m8-18h0m0-80h0m2 242h0m1-354h0m0 282h0m0-87h0m0 2h0m2-105h0m0 99h0m1 46h0m0-141h0m0 73h0m0-174h0m1 201h0m0-4h0m0-86h0m1-395h0m0 548h0" stroke="#000" stroke-width="38" stroke-linecap="round" fill="none"/>
<path transform="scale(.1)" d="M1703 3912h0m22 349h0m19 1949h0m396-1748h0m1-33h0m0-48h0m1 62h0m5-43h0m1 90h0m8-81h0m3 61h0m2-131h0m3 24h0m19-524h0m3 23h0m6 41h0m4-81h0m7 102h0m1 3h0m79 554h0m175-534h0m15 323h0m0 30h0m1 108h0m0-157h0m2 63h0m2 131h0m1 15h0m1 39h0m0-20h0m1-222h0m1-93h0m0 162h0m1 76h0m0-306h0m2 110h0m1 19h0m1-46h0m0 167h0m0 160h0m2-134h0m1 53h0m2-478h0m0 2362h0m1-2122h0m6 171h0m139-241h0m7 230h0m59 22h0m6 120h0m1-81h0m1-8h0m1 51h0m0-107h0m2-100h0m0 78h0m3-8h0m1-64h0m0 276h0m1-22h0m4-68h0m0-163h0m1-218h0m128 343h0m55 83h0m87-93h0m58 103h0m136-75h0m3-24h0m2 81h0m3-48h0m4-191h0m0 264h0m1 24h0m1-240h0m0 6h0m1 148h0m1-166h0m1 195h0m0-88h0m0 158h0m1-49h0m1-131h0m1 99h0m2-144h0m0 15h0m1-132h0m1 309h0m0-99h0m0-51h0m1-283h0m0 232h0m2-45h0m1-52h0m0-108h0m2 51h0m1-10h0m0-123h0m0 209h0m0-145h0m1-42h0m1 302h0m2-382h0m1 11h0m1 400h0m0-187h0m1-94h0m0 163h0m0-135h0m1-121h0m2 55h0m1 110h0m1-349h0m1 122h0m1 68h0m0-25h0m0-118h0m1 17h0m0 309h0m0-160h0m3-158h0m0 36h0m0-71h0m1-15h0m0 305h0m4-213h0m9 40h0m705 508h0m9-121h0m4 87h0m1-68h0m2-32h0m0-176h0m0 35h0m1 211h0m3 16h0m1-403h0m1-85h0m0 519h0m1 40h0m1-109h0m0-398h0m2 99h0m1 90h0m0-162h0m0 45h0m2-94h0m1 561h0m1-23h0m7 19h0m0-122h0m2-264h0m0-26h0m16-259h0m70 616h0m102-411h0m0 222h0m5 179h0m0 71h0m73-116h0m1 76h0m3-169h0m1 73h0m0-39h0m2-80h0m0 191h0m2-17h0m1-208h0m2-167h0m1 266h0m1 44h0m0-152h0m1 56h0m5 218h0m269-74h0m0 82h0m0-48h0m6 22h0m1 15h0m1-58h0m2-45h0m70 1599h0m395-1855h0m1 222h0m3-127h0m1-72h0m0 33h0m1-126h0m1 2h0m3 34h0m47 422h0m0-69h0m5 18h0m2-82h0m3-34h0m2 135h0m1-123h0m3 57h0m1-2h0m4-169h0m38 181h0m154-15h0m3 63h0m1-94h0m5 54h0m347-178h0m0 170h0m0 97h0m136-77h0m7-29h0m2-322h0m1 133h0m0 92h0m3-156h0m1 165h0m1-222h0m0-45h0m1 310h0m0-88h0m0 204h0m1-195h0m0 212h0m0-129h0m1-221h0m0 48h0m1 265h0m3 48h0m0-302h0m0 39h0m0 182h0m1-256h0m0-91h0m1 263h0m3-80h0m2 128h0m5-273h0m190 263h0m0 0h0m87 110h0m4-84h0m0-67h0m1 116h0m5 18h0m2-57h0m1-350h0m4-4h0m0 433h0m4-122h0m0 40h0m0-34h0m1 54h0m1 29h0m0-96h0m1 147h0m1-307h0m0 4h0m8 198h0m405 34h0m0 68h0m4-177h0m41-138h0m4-158h0m5 319h0m8-444h0m247 530h0m2-150h0m1-296h0m4 121h0m1 147h0m0-57h0m1-32h0m0-33h0m1-10h0m0 213h0m0-102h0m0 78h0m4-12h0m1-126h0m2-90h0m5 129h0m206 265h0m51-289h0m10 226h0m2-290h0m1 366h0m2-181h0m1-154h0m0 3h0m1 232h0m0-52h0m1-75h0m5 20h0m1 71h0m3 20h0m2 106h0m2-32h0m2-200h0m1-36h0m473 195h0m8-197h0m3-420h0m0 485h0m1 6h0m2-134h0m0 150h0m0-295h0m1-18h0m1 145h0m1-274h0m1 181h0m1-121h0m0 195h0m1 118h0m0-300h0m0 8h0m0-92h0m0 252h0m1 161h0m1-196h0m0-165h0m1-14h0m4-50h0m0 327h0m0-145h0m1 169h0m1 41h0m2-136h0m0-41h0m11-78h0m3-161h0m155 515h0m162 150h0m203-11h0m1 11h0m1 11h0m227-84h0m4 78h0m2-165h0m2 184h0m0-22h0m1 26h0m1-188h0m3 132h0m1-34h0m0 37h0m1-31h0m2-36h0m1-446h0m0 0h0m3 505h0m5-214h0m0 0h0m99 276h0m1-214h0m1 148h0m2 37h0m0-69h0m0 11h0m159-401h0m1-194h0m1 36h0m1 600h0m1-590h0m1 45h0m2 64h0m1 445h0m1-458h0m0 44h0m1-211h0m0 411h0m2-306h0m0 335h0m1-305h0m0 292h0m0 88h0m4-139h0m1 182h0m0-227h0m1 252h0m1 102h0m1-331h0m1 220h0m0-35h0m3 98h0m0-156h0m0-25h0m2 46h0m5-119h0m7 229h0m171-37h0m72 113h0m2-65h0m1-70h0m0 44h0m3-109h0m1 185h0m1-453h0m0 119h0m2 200h0m1-119h0m1 45h0m1 162h0m0-116h0m1 57h0m1-125h0m1 218h0m467 11h0m3-87h0m5-367h0m0-189h0m0 77h0m0 81h0m2-193h0m0 19h0m4 151h0m0-108h0m1 96h0m0 238h0m7-297h0m14 65h0m3-90h0m3-66h0m1-10h0m0 239h0m1 77h0m1-257h0m3 201h0m0-124h0m2-23h0m0 178h0m1-76h0m0-35h0m2 276h0m1-254h0m1-171h0m1 63h0m5 177h0m1 425h0m3-160h0m200 103h0m358-56h0m114-57h0m0 84h0m38-298h0m3-228h0m1 17h0m1-42h0m3-34h0m4 120h0m1-73h0m0-54h0m1 213h0m1-51h0m2 22h0m3 459h0m0-501h0m3-39h0m267 438h0m5 90h0m1 57h0m1-47h0m1 20h0m0-531h0m0 267h0m8 210h0m183 1723h0m314-2180h0m2-25h0m0-129h0m3 174h0m1-88h0m1-44h0m0-16h0m0-39h0m3 119h0m248 388h0m4 152h0m3-27h0m0-21h0m1-136h0m0 104h0m1 110h0m3-198h0m0 45h0m2 34h0m37-147h0m5-32h0m0 22h0m2 38h0m3-126h0m0-4h0m1 29h0m2 138h0m145 172h0m72-257h0m4 258h0m2-43h0m1 35h0m1-45h0m0 69h0m3 24h0m275-143h0m0 137h0m213-188h0m2-22h0m5-55h0m2-238h0m0 131h0m2 44h0m1-57h0m4 141h0m0 75h0m0 26h0m0-78h0m0-119h0m0 210h0m0-273h0m1 312h0m1-272h0m1 260h0m0-315h0m0-14h0m0 132h0m1 14h0m1 130h0m3-117h0m301-324h0m3 26h0m0-59h0m0 20h0m3-65h0m2-12h0m1 33h0m411 2306h0m14-1687h0m45 28h0m13-250h0m0 72h0m0 66h0m0-521h0m4-44h0m1 635h0m0 9h0m2-585h0m1 51h0m3 50h0m0-87h0m1 211h0m0-188h0m0 46h0m0 479h0m2-601h0m8 640h0m5 30h0" stroke="#ffa500" stroke-width="38" stroke-linecap="round" fill="none"/>
<path d="M214.2 386.6l3.8-5.8 3.8 5.8zM215.2 386.6l3.8-5.8 3.8 5.8zM216.2 386.6l3.8-5.8 3.8 5.8zM240.2 386.6l3.8-5.8 3.8 5.8zM241.2 386.6l3.8-5.8 3.8 5.8zM242.2 386.6l3.8-5.8 3.8 5.8zM243.2 386.6l3.8-5.8 3.8 5.8zM319.2 386.6l3.8-5.8 3.8 5.8zM320.2 386.6l3.8-5.8 3.8 5.8zM321.2 386.6l3.8-5.8 3.8 5.8zM396.2 386.6l3.8-5.8 3.8 5.8zM397.2 386.6l3.8-5.8 3.8 5.8zM398.2 386.6l3.8-5.8 3.8 5.8zM421.2 386.6l3.8-5.8 3.8 5.8zM422.2 386.6l3.8-5.8 3.8 5.8zM469.2 386.6l3.8-5.8 3.8 5.8zM499.2 386.6l3.8-5.8 3.8 5.8zM655.2 386.6l3.8-5.8 3.8 5.8zM656.2 386.6l3.8-5.8 3.8 5.8zM657.2 386.6l3.8-5.8 3.8 5.8zM682.2 386.6l3.8-5.8 3.8 5.8zM760.2 386.6l3.8-5.8 3.8 5.8zM762.2 386.6l3.8-5.8 3.8 5.8zM764.2 386.6l3.8-5.8 3.8 5.8zM794.2 386.6l3.8-5.8 3.8 5.8zM867.2 386.6l3.8-5.8 3.8 5.8zM868.2 386.6l3.8-5.8 3.8 5.8zM869.2 386.6l3.8-5.8 3.8 5.8zM944.2 386.6l3.8-5.8 3.8 5.8zM945.2 386.6l3.8-5.8 3.8 5.8zM946.2 386.6l3.8-5.8 3.8 5.8zM947.2 386.6l3.8-5.8 3.8 5.8zM948.2 386.6l3.8-5.8 3.8 5.8zM949.2 386.6l3.8-5.8 3.8 5.8zM950.2 386.6l3.8-5.8 3.8 5.8zM1022.2 386.6l3.8-5.8 3.8 5.8zM1023.2 386.6l3.8-5.8 3.8 5.8zM1024.2 386.6l3.8-5.8 3.8 5.8zM1102.2 386.6l3.8-5.8 3.8 5.8zM1103.2 386.6l3.8-5.8 3.8 5.8zM1129.2 386.6l3.8-5.8 3.8 5.8zM1208.2 386.6l3.8-5.8 3.8 5.8zM1238.2 386.6l3.8-5.8 3.8 5.8zM1239.2 386.6l3.8-5.8 3.8 5.8zM1288.2 386.6l3.8-5.8 3.8 5.8zM1289.2 386.6l3.8-5.8 3.8 5.8zM1290.2 386.6l3.8-5.8 3.8 5.8zM188.2 660.4l3.8 5.8 3.8-5.8zM260.2 660.4l3.8 5.8 3.8-5.8zM587.2 660.4l3.8 5.8 3.8-5.8zM731.2 660.4l3.8 5.8 3.8-5.8zM779.2 660.4l3.8 5.8 3.8-5.8zM855.2 660.4l3.8 5.8 3.8-5.8zM1077.2 660.4l3.8 5.8 3.8-5.8zM1078.2 660.4l3.8 5.8 3.8-5.8zM1156.2 660.4l3.8 5.8 3.8-5.8zM1262.2 660.4l3.8 5.8 3.8-5.8z" fill="#ffa500"/>
<line x1="162.0" y1="665.9" x2="162.0" y2="380.5" stroke="#800080" stroke-width="2.08" stroke-dasharray="2.08 3.43"/>
<line x1="1303.0" y1="665.9" x2="1303.0" y2="380.5" stroke="#800080" stroke-width="2.08" stroke-dasharray="2.08 3.43"/>
<rect x="162.0" y="490" width="1141.0" height="59.8" fill="#ffa500" fill-opacity=".1"/>
<rect x="105.5" y="499" width="1255.5" height="48.8" fill="#ff0000" fill-opacity=".1"/>
<line x1="162.0" y1="520.3" x2="1303.0" y2="520.3" stroke="#ffa500" stroke-width="2.78"/>
<line x1="105.5" y1="522.7" x2="1361" y2="522.7" stroke="#ff0000" stroke-width="2.08"/>
</g>
<text x="732.5" y="657.7" font-size="14.7" text-anchor="middle" textLength="42.6" lengthAdjust="spacingAndGlyphs">18301</text>
<rect x="105.5" y="380.5" width="1380.0" height="286.0" fill="none" stroke="#000" stroke-width="1.11"/>
<text x="162.5" y="687.0" font-size="14.7" text-anchor="middle" textLength="7.5" lengthAdjust="spacingAndGlyphs">0</text>
<text x="334.5" y="687.0" font-size="14.7" text-anchor="middle" textLength="33.8" lengthAdjust="spacingAndGlyphs">2500</text>
<text x="506.5" y="687.0" font-size="14.7" text-anchor="middle" textLength="33.8" lengthAdjust="spacingAndGlyphs">5000</text>
<text x="679.5" y="687.0" font-size="14.7" text-anchor="middle" textLength="33.8" lengthAdjust="spacingAndGlyphs">7500</text>
<text x="851.5" y="687.0" font-size="14.7" text-anchor="middle" textLength="42.7" lengthAdjust="spacingAndGlyphs">10000</text>
<text x="1023.5" y="687.0" font-size="14.7" text-anchor="middle" textLength="42.7" lengthAdjust="spacingAndGlyphs">12500</text>
<text x="1195.5" y="687.0" font-size="14.7" text-anchor="middle" textLength="42.7" lengthAdjust="spacingAndGlyphs">15000</text>
<text x="1367.5" y="687.0" font-size="14.7" text-anchor="middle" textLength="42.7" lengthAdjust="spacingAndGlyphs">17500</text>
<path d="M162.5 666.5v4.86M334.5 666.5v4.86M506.5 666.5v4.86M679.5 666.5v4.86M851.5 666.5v4.86M1023.5 666.5v4.86M1195.5 666.5v4.86M1367.5 666.5v4.86" stroke="#000" stroke-width="1.11"/>
<text x="94.6" y="650.8" font-size="14.7" text-anchor="end" textLength="29.0" lengthAdjust="spacingAndGlyphs">10.4</text>
<text x="94.6" y="616.8" font-size="14.7" text-anchor="end" textLength="29.0" lengthAdjust="spacingAndGlyphs">10.5</text>
<text x="94.6" y="583.8" font-size="14.7" text-anchor="end" textLength="29.0" lengthAdjust="spacingAndGlyphs">10.6</text>
<text x="94.6" y="549.8" font-size="14.7" text-anchor="end" textLength="29.0" lengthAdjust="spacingAndGlyphs">10.7</text>
<text x="94.6" y="516.8" font-size="14.7" text-anchor="end" textLength="29.0" lengthAdjust="spacingAndGlyphs">10.8</text>
<text x="94.6" y="482.8" font-size="14.7" text-anchor="end" textLength="29.0" lengthAdjust="spacingAndGlyphs">10.9</text>
<text x="94.6" y="448.8" font-size="14.7" text-anchor="end" textLength="29.0" lengthAdjust="spacingAndGlyphs">11.0</text>
<text x="94.6" y="415.8" font-size="14.7" text-anchor="end" textLength="29.0" lengthAdjust="spacingAndGlyphs">11.1</text>
<path d="M105.5 645.5h-4.86M105.5 611.5h-4.86M105.5 578.5h-4.86M105.5 544.5h-4.86M105.5 511.5h-4.86M105.5 477.5h-4.86M105.5 443.5h-4.86M105.5 410.5h-4.86" stroke="#000" stroke-width="1.11"/>
<text x="795.2" y="371.7" font-size="17.6" text-anchor="middle" textLength="175.6" lengthAdjust="spacingAndGlyphs">Magnitude Estimates</text>
<rect x="1365.3" y="387.4" width="113.2" height="48.3" rx="2.8" fill="#fff" fill-opacity=".8" stroke="#ccc" stroke-opacity=".8" stroke-width="1.39"/>
<line x1="1369.3" y1="399.4" x2="1399.7" y2="399.4" stroke="#ffa500" stroke-width="2.78"/>
<line x1="1369.3" y1="422.0" x2="1399.7" y2="422.0" stroke="#ff0000" stroke-width="2.08"/>
<text x="1410.0" y="403.7" font-size="14.7" text-anchor="start" textLength="29.4" lengthAdjust="spacingAndGlyphs">mag</text>
<text x="1439.6" y="406.1" font-size="10.4" text-anchor="start" textLength="31.6" lengthAdjust="spacingAndGlyphs" font-style="italic">OBSID</text>
<text x="1410.0" y="426.3" font-size="14.7" text-anchor="start" textLength="29.4" lengthAdjust="spacingAndGlyphs">mag</text>
<rect x="1348.3" y="613.3" width="130.4" height="45.8" rx="2.8" fill="#fff" fill-opacity=".8" stroke="#ccc" stroke-opacity=".8" stroke-width="1.39"/>
<circle cx="1367.6" cy="626.4" r="1.85" fill="#ffa500"/>
<text x="1393.4" y="630.1" font-size="14.7" text-anchor="start" textLength="77.8" lengthAdjust="spacingAndGlyphs">Highlighted</text>
<circle cx="1367.6" cy="647.3" r="1.85" fill="#000"/>
<text x="1393.4" y="651.0" font-size="14.7" text-anchor="start" textLength="18.2" lengthAdjust="spacingAndGlyphs">OK</text>
<g clip-path="url(#c3)">
<path d="M105.5 758.5H1485.5M105.5 791.1H1485.5M105.5 823.7H1485.5M105.5 856.3H1485.5M105.5 888.9H1485.5M105.5 921.5H1485.5M105.5 1009.5H1485.5M105.5 983.5H1485.5M105.5 957.5H1485.5" stroke="#b0b0b0" stroke-width="1.11" stroke-dasharray="1.11 1.83"/>
<path d="M162.2 790.1h2.0v2.0h-2.0zM163.0 790.1h2.0v2.0h-2.0zM324.0 790.1h2.0v2.0h-2.0zM373.0 790.1h2.0v2.0h-2.0zM376.0 790.1h2.0v2.0h-2.0zM429.0 790.1h2.0v2.0h-2.0zM431.0 790.1h2.0v2.0h-2.0zM433.0 790.1h2.0v2.0h-2.0zM435.0 790.1h2.0v2.0h-2.0zM504.0 790.1h2.0v2.0h-2.0zM506.8 790.1h2.0v2.0h-2.0zM582.0 790.1h2.0v2.0h-2.0zM584.8 790.1h2.0v2.0h-2.0zM686.0 790.1h2.0v2.0h-2.0zM688.7 790.1h2.0v2.0h-2.0zM691.3 790.1h2.0v2.0h-2.0zM694.0 790.1h2.0v2.0h-2.0zM768.2 790.1h2.0v2.0h-2.0zM770.8 790.1h2.0v2.0h-2.0zM773.4 790.1h2.0v2.0h-2.0zM776.0 790.1h2.0v2.0h-2.0zM845.0 790.1h2.0v2.0h-2.0zM848.0 790.1h2.0v2.0h-2.0zM874.0 790.1h2.0v2.0h-2.0zM877.4 790.1h2.0v2.0h-2.0zM1027.0 790.1h2.0v2.0h-2.0zM1030.0 790.1h2.0v2.0h-2.0zM1055.2 790.1h2.0v2.0h-2.0zM1057.8 790.1h2.0v2.0h-2.0zM1060.4 790.1h2.0v2.0h-2.0zM1063.0 790.1h2.0v2.0h-2.0zM1133.0 790.1h2.0v2.0h-2.0zM1136.0 790.1h2.0v2.0h-2.0zM1212.0 790.1h2.0v2.0h-2.0zM1214.2 790.1h2.0v2.0h-2.0zM1216.5 790.1h2.0v2.0h-2.0zM1218.8 790.1h2.0v2.0h-2.0zM1221.0 790.1h2.0v2.0h-2.0z" fill="none" stroke="#000" stroke-width="1.45"/>
<path d="M168.2 855.1h2.3v2.3h-2.3zM173.4 855.1h2.3v2.3h-2.3zM174.8 855.1h2.3v2.3h-2.3zM187.2 855.1h2.3v2.3h-2.3zM201.2 855.1h2.3v2.3h-2.3zM212.4 855.1h2.3v2.3h-2.3zM214.5 855.1h2.3v2.3h-2.3zM216.7 855.1h2.3v2.3h-2.3zM224.8 855.1h2.3v2.3h-2.3zM226.1 855.1h2.3v2.3h-2.3zM235.8 855.1h2.3v2.3h-2.3zM242.8 855.1h2.3v2.3h-2.3zM246.1 855.1h2.3v2.3h-2.3zM251.0 855.1h2.3v2.3h-2.3zM262.9 855.1h2.3v2.3h-2.3zM288.5 855.1h2.3v2.3h-2.3zM319.2 855.1h2.3v2.3h-2.3zM361.2 855.1h2.3v2.3h-2.3zM382.5 855.1h2.3v2.3h-2.3zM384.6 855.1h2.3v2.3h-2.3zM392.9 855.1h2.3v2.3h-2.3zM394.9 855.1h2.3v2.3h-2.3zM396.9 855.1h2.3v2.3h-2.3zM417.9 855.1h2.3v2.3h-2.3zM427.2 855.1h2.3v2.3h-2.3zM435.2 855.1h2.3v2.3h-2.3zM448.1 855.1h2.3v2.3h-2.3zM448.9 855.1h2.3v2.3h-2.3zM462.5 855.1h2.3v2.3h-2.3zM471.9 855.1h2.3v2.3h-2.3zM502.6 855.1h2.3v2.3h-2.3zM508.5 855.1h2.3v2.3h-2.3zM510.8 855.1h2.3v2.3h-2.3zM513.2 855.1h2.3v2.3h-2.3zM515.6 855.1h2.3v2.3h-2.3zM517.9 855.1h2.3v2.3h-2.3zM520.3 855.1h2.3v2.3h-2.3zM522.6 855.1h2.3v2.3h-2.3zM528.9 855.1h2.3v2.3h-2.3zM537.1 855.1h2.3v2.3h-2.3zM539.4 855.1h2.3v2.3h-2.3zM541.8 855.1h2.3v2.3h-2.3zM544.1 855.1h2.3v2.3h-2.3zM546.5 855.1h2.3v2.3h-2.3zM548.9 855.1h2.3v2.3h-2.3zM559.5 855.1h2.3v2.3h-2.3zM564.1 855.1h2.3v2.3h-2.3zM575.8 855.1h2.3v2.3h-2.3zM590.2 855.1h2.3v2.3h-2.3zM601.5 855.1h2.3v2.3h-2.3zM602.9 855.1h2.3v2.3h-2.3zM610.5 855.1h2.3v2.3h-2.3zM613.1 855.1h2.3v2.3h-2.3zM615.6 855.1h2.3v2.3h-2.3zM630.5 855.1h2.3v2.3h-2.3zM632.8 855.1h2.3v2.3h-2.3zM635.2 855.1h2.3v2.3h-2.3zM637.5 855.1h2.3v2.3h-2.3zM639.9 855.1h2.3v2.3h-2.3zM642.2 855.1h2.3v2.3h-2.3zM648.1 855.1h2.3v2.3h-2.3zM656.1 855.1h2.3v2.3h-2.3zM658.5 855.1h2.3v2.3h-2.3zM660.9 855.1h2.3v2.3h-2.3zM667.0 855.1h2.3v2.3h-2.3zM677.6 855.1h2.3v2.3h-2.3zM696.1 855.1h2.3v2.3h-2.3zM696.9 855.1h2.3v2.3h-2.3zM721.1 855.1h2.3v2.3h-2.3zM728.2 855.1h2.3v2.3h-2.3zM735.0 855.1h2.3v2.3h-2.3zM742.2 855.1h2.3v2.3h-2.3zM754.9 855.1h2.3v2.3h-2.3zM757.3 855.1h2.3v2.3h-2.3zM759.8 855.1h2.3v2.3h-2.3zM762.2 855.1h2.3v2.3h-2.3zM767.2 855.1h2.3v2.3h-2.3zM781.5 855.1h2.3v2.3h-2.3zM783.4 855.1h2.3v2.3h-2.3zM785.2 855.1h2.3v2.3h-2.3zM801.9 855.1h2.3v2.3h-2.3zM824.9 855.1h2.3v2.3h-2.3zM838.2 855.1h2.3v2.3h-2.3zM843.6 855.1h2.3v2.3h-2.3zM854.2 855.1h2.3v2.3h-2.3zM873.2 855.1h2.3v2.3h-2.3zM879.9 855.1h2.3v2.3h-2.3zM890.5 855.1h2.3v2.3h-2.3zM906.2 855.1h2.3v2.3h-2.3zM917.1 855.1h2.3v2.3h-2.3zM944.1 855.1h2.3v2.3h-2.3zM946.6 855.1h2.3v2.3h-2.3zM953.6 855.1h2.3v2.3h-2.3zM957.5 855.1h2.3v2.3h-2.3zM983.5 855.1h2.3v2.3h-2.3zM1008.9 855.1h2.3v2.3h-2.3zM1020.9 855.1h2.3v2.3h-2.3zM1026.2 855.1h2.3v2.3h-2.3zM1036.8 855.1h2.3v2.3h-2.3zM1046.4 855.1h2.3v2.3h-2.3zM1048.8 855.1h2.3v2.3h-2.3zM1053.2 855.1h2.3v2.3h-2.3zM1063.8 855.1h2.3v2.3h-2.3zM1074.9 855.1h2.3v2.3h-2.3zM1086.8 855.1h2.3v2.3h-2.3zM1100.8 855.1h2.3v2.3h-2.3zM1107.2 855.1h2.3v2.3h-2.3zM1132.4 855.1h2.3v2.3h-2.3zM1140.0 855.1h2.3v2.3h-2.3zM1142.8 855.1h2.3v2.3h-2.3zM1149.4 855.1h2.3v2.3h-2.3zM1150.8 855.1h2.3v2.3h-2.3zM1158.8 855.1h2.3v2.3h-2.3zM1159.7 855.1h2.3v2.3h-2.3zM1166.4 855.1h2.3v2.3h-2.3zM1168.9 855.1h2.3v2.3h-2.3zM1171.4 855.1h2.3v2.3h-2.3zM1173.8 855.1h2.3v2.3h-2.3zM1179.0 855.1h2.3v2.3h-2.3zM1179.8 855.1h2.3v2.3h-2.3zM1186.4 855.1h2.3v2.3h-2.3zM1202.8 855.1h2.3v2.3h-2.3zM1204.8 855.1h2.3v2.3h-2.3zM1206.8 855.1h2.3v2.3h-2.3zM1224.0 855.1h2.3v2.3h-2.3zM1224.8 855.1h2.3v2.3h-2.3zM1229.2 855.1h2.3v2.3h-2.3zM1237.8 855.1h2.3v2.3h-2.3zM1240.8 855.1h2.3v2.3h-2.3zM1247.2 855.1h2.3v2.3h-2.3zM1272.2 855.1h2.3v2.3h-2.3zM1284.2 855.1h2.3v2.3h-2.3zM1288.8 855.1h2.3v2.3h-2.3zM1298.0 855.1h2.3v2.3h-2.3zM1298.8 855.1h2.3v2.3h-2.3zM168.2 887.8h2.3v2.3h-2.3zM173.4 887.8h2.3v2.3h-2.3zM174.8 887.8h2.3v2.3h-2.3zM187.2 887.8h2.3v2.3h-2.3zM201.2 887.8h2.3v2.3h-2.3zM212.4 887.8h2.3v2.3h-2.3zM214.5 887.8h2.3v2.3h-2.3zM216.7 887.8h2.3v2.3h-2.3zM224.8 887.8h2.3v2.3h-2.3zM226.1 887.8h2.3v2.3h-2.3zM235.8 887.8h2.3v2.3h-2.3zM242.8 887.8h2.3v2.3h-2.3zM246.1 887.8h2.3v2.3h-2.3zM251.0 887.8h2.3v2.3h-2.3zM262.9 887.8h2.3v2.3h-2.3zM288.5 887.8h2.3v2.3h-2.3zM319.2 887.8h2.3v2.3h-2.3zM361.2 887.8h2.3v2.3h-2.3zM382.5 887.8h2.3v2.3h-2.3zM384.6 887.8h2.3v2.3h-2.3zM392.9 887.8h2.3v2.3h-2.3zM394.9 887.8h2.3v2.3h-2.3zM396.9 887.8h2.3v2.3h-2.3zM417.9 887.8h2.3v2.3h-2.3zM427.2 887.8h2.3v2.3h-2.3zM435.2 887.8h2.3v2.3h-2.3zM448.1 887.8h2.3v2.3h-2.3zM448.9 887.8h2.3v2.3h-2.3zM462.5 887.8h2.3v2.3h-2.3zM471.9 887.8h2.3v2.3h-2.3zM502.6 887.8h2.3v2.3h-2.3zM508.5 887.8h2.3v2.3h-2.3zM510.8 887.8h2.3v2.3h-2.3zM513.2 887.8h2.3v2.3h-2.3zM515.6 887.8h2.3v2.3h-2.3zM517.9 887.8h2.3v2.3h-2.3zM520.3 887.8h2.3v2.3h-2.3zM522.6 887.8h2.3v2.3h-2.3zM528.9 887.8h2.3v2.3h-2.3zM537.1 887.8h2.3v2.3h-2.3zM539.4 887.8h2.3v2.3h-2.3zM541.8 887.8h2.3v2.3h-2.3zM544.1 887.8h2.3v2.3h-2.3zM546.5 887.8h2.3v2.3h-2.3zM548.9 887.8h2.3v2.3h-2.3zM559.5 887.8h2.3v2.3h-2.3zM564.1 887.8h2.3v2.3h-2.3zM575.8 887.8h2.3v2.3h-2.3zM590.2 887.8h2.3v2.3h-2.3zM601.5 887.8h2.3v2.3h-2.3zM602.9 887.8h2.3v2.3h-2.3zM610.5 887.8h2.3v2.3h-2.3zM613.1 887.8h2.3v2.3h-2.3zM615.6 887.8h2.3v2.3h-2.3zM630.5 887.8h2.3v2.3h-2.3zM632.8 887.8h2.3v2.3h-2.3zM635.2 887.8h2.3v2.3h-2.3zM637.5 887.8h2.3v2.3h-2.3zM639.9 887.8h2.3v2.3h-2.3zM642.2 887.8h2.3v2.3h-2.3zM648.1 887.8h2.3v2.3h-2.3zM656.1 887.8h2.3v2.3h-2.3zM658.5 887.8h2.3v2.3h-2.3zM660.9 887.8h2.3v2.3h-2.3zM667.0 887.8h2.3v2.3h-2.3zM677.6 887.8h2.3v2.3h-2.3zM696.1 887.8h2.3v2.3h-2.3zM696.9 887.8h2.3v2.3h-2.3zM721.1 887.8h2.3v2.3h-2.3zM728.2 887.8h2.3v2.3h-2.3zM735.0 887.8h2.3v2.3h-2.3zM742.2 887.8h2.3v2.3h-2.3zM754.9 887.8h2.3v2.3h-2.3zM757.3 887.8h2.3v2.3h-2.3zM759.8 887.8h2.3v2.3h-2.3zM762.2 887.8h2.3v2.3h-2.3zM767.2 887.8h2.3v2.3h-2.3zM781.5 887.8h2.3v2.3h-2.3zM783.4 887.8h2.3v2.3h-2.3zM785.2 887.8h2.3v2.3h-2.3zM801.9 887.8h2.3v2.3h-2.3zM824.9 887.8h2.3v2.3h-2.3zM838.2 887.8h2.3v2.3h-2.3zM843.6 887.8h2.3v2.3h-2.3zM854.2 887.8h2.3v2.3h-2.3zM873.2 887.8h2.3v2.3h-2.3zM879.9 887.8h2.3v2.3h-2.3zM890.5 887.8h2.3v2.3h-2.3zM906.2 887.8h2.3v2.3h-2.3zM917.1 887.8h2.3v2.3h-2.3zM944.1 887.8h2.3v2.3h-2.3zM946.6 887.8h2.3v2.3h-2.3zM953.6 887.8h2.3v2.3h-2.3zM957.5 887.8h2.3v2.3h-2.3zM983.5 887.8h2.3v2.3h-2.3zM1008.9 887.8h2.3v2.3h-2.3zM1020.9 887.8h2.3v2.3h-2.3zM1026.2 887.8h2.3v2.3h-2.3zM1036.8 887.8h2.3v2.3h-2.3zM1046.4 887.8h2.3v2.3h-2.3zM1048.8 887.8h2.3v2.3h-2.3zM1053.2 887.8h2.3v2.3h-2.3zM1063.8 887.8h2.3v2.3h-2.3zM1074.9 887.8h2.3v2.3h-2.3zM1086.8 887.8h2.3v2.3h-2.3zM1100.8 887.8h2.3v2.3h-2.3zM1107.2 887.8h2.3v2.3h-2.3zM1132.4 887.8h2.3v2.3h-2.3zM1140.0 887.8h2.3v2.3h-2.3zM1142.8 887.8h2.3v2.3h-2.3zM1149.4 887.8h2.3v2.3h-2.3zM1150.8 887.8h2.3v2.3h-2.3zM1158.8 887.8h2.3v2.3h-2.3zM1159.7 887.8h2.3v2.3h-2.3zM1166.4 887.8h2.3v2.3h-2.3zM1168.9 887.8h2.3v2.3h-2.3zM1171.4 887.8h2.3v2.3h-2.3zM1173.8 887.8h2.3v2.3h-2.3zM1179.0 887.8h2.3v2.3h-2.3zM1179.8 887.8h2.3v2.3h-2.3zM1186.4 887.8h2.3v2.3h-2.3zM1202.8 887.8h2.3v2.3h-2.3zM1204.8 887.8h2.3v2.3h-2.3zM1206.8 887.8h2.3v2.3h-2.3zM1224.0 887.8h2.3v2.3h-2.3zM1224.8 887.8h2.3v2.3h-2.3zM1229.2 887.8h2.3v2.3h-2.3zM1237.8 887.8h2.3v2.3h-2.3zM1240.8 887.8h2.3v2.3h-2.3zM1247.2 887.8h2.3v2.3h-2.3zM1272.2 887.8h2.3v2.3h-2.3zM1284.2 887.8h2.3v2.3h-2.3zM1288.8 887.8h2.3v2.3h-2.3zM1298.0 887.8h2.3v2.3h-2.3zM1298.8 887.8h2.3v2.3h-2.3zM191.8 887.8h2.3v2.3h-2.3zM324.1 887.8h2.3v2.3h-2.3zM326.3 887.8h2.3v2.3h-2.3zM328.6 887.8h2.3v2.3h-2.3zM330.9 887.8h2.3v2.3h-2.3zM333.1 887.8h2.3v2.3h-2.3zM335.4 887.8h2.3v2.3h-2.3zM337.7 887.8h2.3v2.3h-2.3zM339.9 887.8h2.3v2.3h-2.3zM342.2 887.8h2.3v2.3h-2.3zM344.5 887.8h2.3v2.3h-2.3zM346.7 887.8h2.3v2.3h-2.3zM349.0 887.8h2.3v2.3h-2.3zM351.2 887.8h2.3v2.3h-2.3zM353.5 887.8h2.3v2.3h-2.3zM355.8 887.8h2.3v2.3h-2.3zM358.1 887.8h2.3v2.3h-2.3zM360.3 887.8h2.3v2.3h-2.3zM362.6 887.8h2.3v2.3h-2.3zM364.8 887.8h2.3v2.3h-2.3zM367.1 887.8h2.3v2.3h-2.3zM369.4 887.8h2.3v2.3h-2.3zM371.6 887.8h2.3v2.3h-2.3zM1215.2 887.8h2.3v2.3h-2.3zM1265.2 887.8h2.3v2.3h-2.3z" fill="none" stroke="#000" stroke-width="1.2"/>
<path transform="scale(.1)" d="M1639 10006h0m0 67h0m8-36h0m3 11h0m1 24h0m3-22h0m2-22h0m1 42h0m5-86h0m2 86h0m1-68h0m4 18h0m0-25h0m1-9h0m1 51h0m4-50h0m10 36h0m1 27h0m2-30h0m2 57h0m1-102h0m3 1h0m1 18h0m1 44h0m1 11h0m1 25h0m6-35h0m3-52h0m4 81h0m0-14h0m1-36h0m4-20h0m3 77h0m3-24h0m4 27h0m1 4h0m2 2h0m7-43h0m3 40h0m4-24h0m2-4h0m1-31h0m2 13h0m2 0h0m2 22h0m1-40h0m1 38h0m3-49h0m2 80h0m1-84h0m10 45h0m2 10h0m2-17h0m1 13h0m0 7h0m1-4h0m3-26h0m6 20h0m4 32h0m2-15h0m1 5h0m1-22h0m0 15h0m1-19h0m0 4h0m2 6h0m1-2h0m0 8h0m2-6h0m4 24h0m14-35h0m1-5h0m2 9h0m4-21h0m2 19h0m2 3h0m1-43h0m4 48h0m5 2h0m0 7h0m2-61h0m3 3h0m2 39h0m0-34h0m3 41h0m2-7h0m0-42h0m4 21h0m1 57h0m3-11h0m2-31h0m13-85h0m1 116h0m3-37h0m1-86h0m3 107h0m1-94h0m1 66h0m9-33h0m0-14h0m1-20h0m4 3h0m3 34h0m5-39h0m4 4h0m0 50h0m3-39h0m0 38h0m2-32h0m2 32h0m4-34h0m1 28h0m1-18h0m4 19h0m4-3h0m7 6h0m2 48h0m2-86h0m2 5h0m4 69h0m2-25h0m1-77h0m2 112h0m2-64h0m2 10h0m2 6h0m2 74h0m0-105h0m5-30h0m1 57h0m0-4h0m0 27h0m7-57h0m5 11h0m6 97h0m5-14h0m1 22h0m2-54h0m2 11h0m0-23h0m0 20h0m0-18h0m2 53h0m1-25h0m3 32h0m0-79h0m14 34h0m4 14h0m3-9h0m1 26h0m4-53h0m0 28h0m3 7h0m2-31h0m0 17h0m5-30h0m6 11h0m4 8h0m4 32h0m1 1h0m2 3h0m1-13h0m5-18h0m0 17h0m4 15h0m0-21h0m5 19h0m1-29h0m5 20h0m1 15h0m6-22h0m1-19h0m0-26h0m4 13h0m1 3h0m4 74h0m2-25h0m1-35h0m0 7h0m0-29h0m5 30h0m4-28h0m1 32h0m10-23h0m2-7h0m3 50h0m1-50h0m1 47h0m4 32h0m0-18h0m3-25h0m5-68h0m0 89h0m6-77h0m0 34h0m2-22h0m0 7h0m7 54h0m1-59h0m4-2h0m0-10h0m3 18h0m0-3h0m2-26h0m0 51h0m3-28h0m0 11h0m2 15h0m4 2h0m10-46h0m9-8h0m3 15h0m2-2h0m1-14h0m2-9h0m0 6h0m1 18h0m9 38h0m2-10h0m1 3h0m1 1h0m1-1h0m5-21h0m1-10h0m3 6h0m1 27h0m0 2h0m2-17h0m1 26h0m1-49h0m1 57h0m2-12h0m5 35h0m5-34h0m3-73h0m3 36h0m5-15h0m8-1h0m1 16h0m1-32h0m1 38h0m1-25h0m1 9h0m3 53h0m7-9h0m2-22h0m4-6h0m1 13h0m1 31h0m1-44h0m3 8h0m2-14h0m2 10h0m4 42h0m1-28h0m2 41h0m2-17h0m5 19h0m2-21h0m1 22h0m9-9h0m2 28h0m1-51h0m1 35h0m0-3h0m4 0h0m1 6h0m0-11h0m1 11h0m8-9h0m0 7h0m1-7h0m4-10h0m1 33h0m2-12h0m1-19h0m4 13h0m0-25h0m1 31h0m5-42h0m9 1h0m2 30h0m4-23h0m5 42h0m2-61h0m2 8h0m2 59h0m0-18h0m0-21h0m4-17h0m4-41h0m1-6h0m1 38h0m0-11h0m0 15h0m1 51h0m5 1h0m4-67h0m1 33h0m1-49h0m1 69h0m10-30h0m1 11h0m2-22h0m4 35h0m2-12h0m0 12h0m3-38h0m2 56h0m5-24h0m5 14h0m3 17h0m3-51h0m4 38h0m3 10h0m2-42h0m0 4h0m2 36h0m1 8h0m2-61h0m4-41h0m1 47h0m6-47h0m1 41h0m2-13h0m7 13h0m3 0h0m0 11h0m5-7h0m1 13h0m2 20h0m0-42h0m1 46h0m3 7h0m3-17h0m2 2h0m2-38h0m5 66h0m2-11h0m0-15h0m4 28h0m4 2h0m1-7h0m5-7h0m2-12h0m3 4h0m5 9h0m1 11h0m0-1h0m1-10h0m1 10h0m1-8h0m1-18h0m1 10h0m9-4h0m4-43h0m5-6h0m3 47h0m8-54h0m2 40h0m5 26h0m4 1h0m0-26h0m1 3h0m0 4h0m1-5h0m0 7h0m4-23h0m4-7h0m1 7h0m0-21h0m2 20h0m1 0h0m7-5h0m3 17h0m5 6h0m1-20h0m5-11h0m1-23h0m3 35h0m3-31h0m0 6h0m2-36h0m3 63h0m1-13h0m2-46h0m1 27h0m11 56h0m2-51h0m1 68h0m1-41h0m0-76h0m1 27h0m0 29h0m7-64h0m2 94h0m0 9h0m1-2h0m1-88h0m9-10h0m2 9h0m4 27h0m4 43h0m2-50h0m2-27h0m2-7h0m0 25h0m1 83h0m0-86h0m7 65h0m5-1h0m2-91h0m1 100h0m3-23h0m0 11h0m3-27h0m1-30h0m2 90h0m6-53h0m3-32h0m3 21h0m1 0h0m0-26h0m3-5h0m3 8h0m1-2h0m3 24h0m2-20h0m7 29h0m2-23h0m2 46h0m1-62h0m8 77h0m0-37h0m3 17h0m0-1h0m1 18h0m5 14h0m7-18h0m0-4h0m3-3h0m0-11h0m5 24h0m0-42h0m5 45h0m1 27h0m0-33h0m3 16h0m3-38h0m1 33h0m4 3h0m0 26h0m3-50h0m5-1h0m5 5h0m7 3h0m2 47h0m2-40h0m0-4h0m4 7h0m1 5h0m4 5h0m2-22h0m1 18h0m3 4h0m0-7h0m2-3h0m2-27h0m0 4h0m4-7h0m3 29h0m9 1h0m3-18h0m2-7h0m1 13h0m6-4h0m0-8h0m1 26h0m2-25h0m1 8h0m0 1h0m10 5h0m1-42h0m3 34h0m1 3h0m3-3h0m2-4h0m2 9h0m2-14h0m2-32h0m1-5h0m3 21h0m8 17h0m3-20h0m0 81h0m3-47h0m0-53h0m1 78h0m1-48h0m3 27h0m2-22h0m1 26h0m6 37h0m10-80h0m4 32h0m2 32h0m1-66h0m8 47h0m2 6h0m0-63h0m0-10h0m1 22h0m6 22h0m1-15h0m2-17h0m3 34h0m2-39h0m4-8h0m0 63h0m3-45h0m1-9h0m1 52h0m0-72h0m2 15h0m1 24h0m1-11h0m0-17h0m10 32h0m6-28h0m3-14h0m1 37h0m1-7h0m1 23h0m5 1h0m2-16h0m1-28h0m4-9h0m3 42h0m3-51h0m4 19h0m2 41h0m4-3h0m1 0h0m2-34h0m5 57h0m0-36h0m0 7h0m4-14h0m1 22h0m2 17h0m0-25h0m2-16h0m5 47h0m0-47h0m3 64h0m5-12h0m3 17h0m0 13h0m3-11h0m2-57h0m0 45h0m2-64h0m2 50h0m5-2h0m4 34h0m1-31h0m6 13h0m4-13h0m0 9h0m3-8h0m7-36h0m2 64h0m3-24h0m5-30h0m2 48h0m2-27h0m2 1h0m4 2h0m1 17h0m5-34h0m1 11h0m0 48h0m4-61h0m5 17h0m1-17h0m2 9h0m4-33h0m2 47h0m2-42h0m8 17h0m0-5h0m2-8h0m0 62h0m0-4h0m3-42h0m1 9h0m0 41h0m2-32h0m2 11h0m8 19h0m0-21h0m5 11h0m0-23h0m2 8h0m1 31h0m2-23h0m1-10h0m1 8h0m0 4h0m10-23h0m8 6h0m1 23h0m5-30h0m4-2h0m1 5h0m2 16h0m0-11h0m5 45h0m1-44h0m2 34h0m1-36h0m3-79h0m11 32h0m0-17h0m0 38h0m2-33h0m1 13h0m0 0h0m0 6h0m1 16h0m3-12h0m2-4h0m533 67h0m2-13h0m2 29h0m3-22h0m13 20h0m1-88h0m1 19h0m0 39h0m2-8h0m3 0h0m3-43h0m1 53h0m1-93h0m0 61h0m2-37h0m4 33h0m0-19h0m3 76h0m3 7h0m3-78h0m3-6h0m1 35h0m1-15h0m3 59h0m1-113h0m1 110h0m11-57h0m2 10h0m0 42h0m2 5h0m3-66h0m1 43h0m0-36h0m1 32h0m4-27h0m1 24h0m3 12h0m1-34h0m3-4h0m3-4h0m2 36h0m1-10h0m2-31h0m3 4h0m9 12h0m8-16h0m2 16h0m1-32h0m0 23h0m0 10h0m0-1h0m1-17h0m1 9h0m0 1h0m6-29h0m4-15h0m6-2h0m1 42h0m5-10h0m2-5h0m5 1h0m5 12h0m1-33h0m2 40h0m1 11h0m2-39h0m3 24h0m2-25h0m2-6h0m3 32h0m1-32h0m5 11h0m1 14h0m6-43h0m3 40h0m2-17h0m2-15h0m2-10h0m2 40h0m5-12h0m1 2h0m2 37h0m8-85h0m2 125h0m2-18h0m0-85h0m0 103h0m3-80h0m9 31h0m0 17h0m2-10h0m4-6h0m1 34h0m1-27h0m1 29h0m0-23h0m3 6h0m1 10h0m0-27h0m12 17h0m0-13h0m4 4h0m1-13h0m2 20h0m4-8h0m6 9h0m4 1h0m0-24h0m1 7h0m0 29h0m1-38h0m1 66h0m0-68h0m1 25h0m1 8h0m1 12h0m15-21h0m4-31h0m0 27h0m1 23h0m3-3h0m7 31h0m1-49h0m0 49h0m0-6h0m1-8h0m3-31h0m12 6h0m3 23h0m0-42h0m2 28h0m6 20h0m1 6h0m3-16h0m1-30h0m0-1h0m4-13h0m5 31h0m2-10h0m3 40h0m5-26h0m1-2h0m0-36h0m0 62h0m0 7h0m1-85h0m4 24h0m1-8h0m0-3h0m7-22h0m1 4h0m4 44h0m2-18h0m1 8h0m1-31h0m16 68h0m3 0h0m5 6h0m0-58h0m2 7h0m0 22h0m3 25h0m1-13h0m2-33h0m3-10h0m2 47h0m2-42h0m2 14h0m3-7h0m1 28h0m11 15h0m2-43h0m1-41h0m1 95h0m0 1h0m0-24h0m1 2h0m2-9h0m4-33h0m1 6h0m8 61h0m0-47h0m5 7h0m1-14h0m0-27h0m5 59h0m3-42h0m1 26h0m1-59h0m3 9h0m1 8h0m13 7h0m3 41h0m1-2h0m2-38h0m3 62h0m4-5h0m1 14h0m4-38h0m0-29h0m0 43h0m2 12h0m3 5h0m68-43h0m3-15h0m1-39h0m2-1h0m3 8h0m2 3h0m3 5h0m0 67h0m1-43h0m11 67h0m1-41h0m4-29h0m3 48h0m1 21h0m0-45h0m4-26h0m2 17h0m1 45h0m3-71h0m1 79h0m0-40h0m1 1h0m1-13h0m1 24h0m0-36h0m10-37h0m7 43h0m5-9h0m3 4h0m1-22h0m0 23h0m3 2h0m0-5h0m2-34h0m1 4h0m1 5h0m0 48h0m7-42h0m5 31h0m0-42h0m6-2h0m4-1h0m4 20h0m0 52h0m4-18h0m4-31h0m1 51h0m0-15h0m2-53h0m3 55h0m1-21h0m1-38h0m2 36h0m0 32h0m5-79h0m10 16h0m1 65h0m1-94h0m0 86h0m1-75h0m2 32h0m1 49h0m1-6h0m0 26h0m6-81h0m5-12h0m7 29h0m0-23h0m4-19h0m0 21h0m1 3h0m10 8h0m1-8h0m0 9h0m6 26h0m1 43h0m3-14h0m1 6h0m1 10h0m1-15h0m2-12h0m0 2h0m2 19h0m6 15h0m4-14h0m5-18h0m5 30h0m1-53h0m1 9h0m2-11h0m8 56h0m2-14h0m1-11h0m0-16h0m1-8h0m5-34h0m2 59h0m5 4h0m1 15h0m4-41h0m0 16h0m0-21h0m3 24h0m1 24h0m1-18h0m2 0h0m0-41h0m3 54h0m1-24h0m3 26h0m5-23h0m0 28h0m11-58h0m5 11h0m6-2h0m0-40h0m1 12h0m4 24h0m1 4h0m0-27h0m2 14h0m0 25h0m4-40h0m0-2h0m12 16h0m3-29h0m1 15h0m0 12h0m1 2h0m5-27h0m5 1h0m1 0h0m2 7h0m4 65h0m3-9h0m2 11h0m0 2h0m3-52h0m4-18h0m1 68h0m0-62h0m1-16h0m0 51h0m3-31h0m7 25h0m2 52h0m0-15h0m3-76h0m11 86h0m4-55h0m2 55h0m0-85h0m1 51h0m1 10h0m1 0h0m1 22h0m0-42h0m8-28h0m5 17h0m3-6h0m4 67h0m0-56h0m0 27h0m4 14h0m1-54h0m6 8h0m2 59h0m3-79h0m0 54h0m2 7h0m1-60h0m3 53h0m0 24h0m1-56h0m7 57h0m12-80h0m2 1h0m0 13h0m2 20h0m4-15h0m1 2h0m4-22h0m4-3h0m3 51h0m0 27h0m1-2h0m4-76h0m2 74h0m3-50h0m4 49h0m5-52h0m1 41h0m2-22h0m0-8h0m0-1h0m0 31h0m14-26h0m1 37h0m1-88h0m1 31h0m2 38h0m0-57h0m3 13h0m0 17h0m9 15h0m4-27h0m0-32h0m3 21h0m1-31h0m1 31h0m0-17h0m4 34h0m4-46h0m2 23h0m1 21h0m1-18h0m1 52h0m5-16h0m0 3h0m2-2h0m0-18h0m9-3h0m2 10h0m3 36h0m0-15h0m5 22h0m1-53h0m6 53h0m3-64h0m1-4h0m2 5h0m1 17h0m4 12h0m0 1h0m4 0h0m5-19h0m1 16h0m6-17h0m1 30h0m2 14h0m6-6h0m2-22h0m0-38h0m4 80h0m1-69h0m6 20h0m0-15h0m3 16h0m0-18h0m0 53h0m2-6h0m3-24h0m5-4h0m1-5h0m5 41h0m0-24h0m0-10h0m2-10h0m4 14h0m2 28h0m4-24h0m6-8h0m3-4h0m1-29h0m8 29h0m1-33h0m2 18h0m1-12h0m0 14h0m1-22h0m5 50h0m34 4h0m1 0h0m7 12h0m1 30h0m1-1h0m6-6h0m0-24h0m1 4h0m1-17h0m2 16h0m6 15h0m5-7h0m1-29h0m2 12h0m3-20h0m1-30h0m2 28h0m1-15h0m0 24h0m5-12h0m4-20h0m0 5h0m2-11h0m8-1h0m3 23h0m2 45h0m2-25h0m1 37h0m6-45h0m2-36h0m4 58h0m0-63h0m3 88h0m2-18h0m0-22h0m9 15h0m1-79h0m1 58h0m4-1h0m1-17h0m5-23h0m1-5h0m2 45h0m1-45h0m1-14h0m4 57h0m2-49h0m1 11h0m3-4h0m1 31h0m2 47h0m1-52h0m4 12h0m3-64h0m5 54h0m4-17h0m2 31h0m0-37h0m4 10h0m0 21h0m2 27h0m3-46h0m1 44h0m2-10h0m0-25h0m1 0h0m17-7h0m0 0h0m2 10h0m1-30h0m3-4h0m0 12h0m0 16h0m1-15h0m0 3h0m0-4h0m13-14h0m7 32h0m0 12h0m1 40h0m4-87h0m3 43h0m2 46h0m1-8h0m3 18h0m4-59h0m0-37h0m2 14h0m3 22h0m3-11h0m2 8h0m2 4h0m4-6h0m3-16h0m1-3h0m6 31h0m1-24h0m5 5h0m1 81h0m2-79h0m0 31h0m0-29h0m13-1h0m2 51h0m3 25h0m3-9h0m1-64h0m1 75h0m1-50h0m2 39h0m0-46h0m3-32h0m4 16h0m4 46h0m5-7h0m3-38h0m4-16h0m0 75h0m1-44h0m2 20h0m0 0h0m3 23h0m1-6h0m4-29h0m0 17h0m8-39h0m3 70h0m3-76h0m0 13h0m6 17h0m4-35h0m2 25h0m2 49h0m2-1h0m0 4h0m1-53h0m0 8h0m0 38h0m1-47h0m6-9h0m0 40h0m1 18h0m3-51h0m14-32h0m1 43h0m1 5h0m1 16h0m3 27h0m0-23h0m1-15h0m0 11h0m5-29h0m3 28h0m3-46h0m4 19h0m6-17h0m3 10h0m1 15h0m5-30h0m1 53h0m0-20h0m1-26h0m6-54h0m0 51h0m2 51h0m1-54h0m1 62h0m0-108h0m3 4h0m13 57h0m0-5h0m10-31h0m0 40h0m1-52h0m1 1h0m6 21h0m3 7h0m1-7h0m1-2h0m6 42h0m0-2h0m2 2h0m0-20h0m1-49h0m0 63h0m3 14h0m0 17h0m0-70h0m3-14h0m2 109h0m10-115h0m4 43h0m1 1h0m2-2h0m2 57h0m1-38h0m0 30h0m9 4h0m3-35h0m4-46h0m3 3h0m1-31h0m2 123h0m1-102h0m4 87h0m2-98h0m2 46h0m1 61h0m4-42h0m1 24h0m1 10h0m0-70h0m1 14h0m9 37h0m0-81h0m1-4h0m2 7h0m3 33h0m2 21h0m8-51h0m5 45h0m2-36h0m1 9h0m0 26h0m1-27h0m2 3h0m4 26h0m5-19h0m2-13h0m2 47h0m1-32h0m3-15h0m1 5h0m1 49h0m4-33h0m0 4h0m0 24h0m4-18h0m0-1h0m1 26h0m5-43h0m5 75h0m2-38h0m0 5h0m4 4h0m4 29h0m0-46h0m1 25h0m7 14h0m1-19h0m1-1h0m10-29h0m2 6h0m3 47h0m2-6h0m2-30h0m1-15h0m0-8h0m2 34h0m1 36h0m5-32h0m2-56h0m3 52h0m0 15h0m3-3h0m3-31h0m1-11h0m3-25h0m0 54h0m2-50h0m0 51h0m4 2h0m13 3h0m11 14h0m1-16h0m0 28h0m1-12h0m2-14h0m7-28h0m5 61h0m1-82h0m1 25h0m0-2h0m2-2h0m0 19h0m3 37h0m3-34h0m5 1h0m2-38h0m2-2h0m0 33h0m1 10h0m45 28h0m0-64h0m1 66h0m1-74h0m3 4h0m1 6h0m1 64h0m1-24h0m3-64h0m16 79h0m2 7h0m0-29h0m2-34h0m1 10h0m1 51h0m1-31h0m1-22h0m0 11h0m3 16h0m3 7h0m11 24h0m2-20h0m3-61h0m2 2h0m1 62h0m4-19h0m2 9h0m1 31h0m1-58h0m2-2h0m1 32h0m2-50h0m1 7h0m5 7h0m1 10h0m0 8h0m1 17h0m1 15h0m3-21h0m8 18h0m5-40h0m0-4h0m2 48h0m0 6h0m2-35h0m2-16h0m1 30h0m5 3h0m14-28h0m0 45h0m5-51h0m1 61h0m0-69h0m2 25h0m0 37h0m3-48h0m1 23h0m1-2h0m4-20h0m2 20h0m2-32h0m1-12h0m1 21h0m8-20h0m2 48h0m8-55h0m5 60h0m6-65h0m0 68h0m2 14h0m1-96h0m0 43h0m7 19h0m3-54h0m1 67h0m0-39h0m0 34h0m5-59h0m0 91h0m2-56h0m5 50h0m1-1h0m7-81h0m2 17h0m1 36h0m2 18h0m0-14h0m5-3h0m1-18h0m1 39h0m7-52h0m0-30h0m1 49h0m4-11h0m3-43h0m4 50h0m1-42h0m0 38h0m2-26h0m3 0h0m4 9h0m2-25h0m1 82h0m4-42h0m5 39h0m0-4h0m1-38h0m6-5h0m1 50h0m1-38h0m5 6h0m1-15h0m5-11h0m5-4h0m0 19h0m0 16h0m1 2h0m2-2h0m3 2h0m1-29h0m11-12h0m5 0h0m3 16h0m0 19h0m2-13h0m3-60h0m1 25h0m1 27h0m6-10h0m5-25h0m1-18h0m0 0h0m2-5h0m1 16h0m0 21h0m1-18h0m4 17h0m3-24h0m8 20h0m1-16h0m4 41h0m0-24h0m2 14h0m8 51h0m0-37h0m1 3h0m0-20h0m0 2h0m2 72h0m1-10h0m2 11h0m0-93h0m13 56h0m5-49h0m5 32h0m1 9h0m2-31h0m1 68h0m1-69h0m2-12h0m1 7h0m3 4h0m0-8h0m0-20h0m1 64h0m4-10h0m4-16h0m0-21h0m5 55h0m4-57h0m7 28h0m2-10h0m1-22h0m1 28h0m6 3h0m1 20h0m0-2h0m2-31h0m3-34h0m1 44h0m4 13h0m3 48h0m2-64h0m2-15h0m3 35h0m2-25h0m8 49h0m3 13h0m2-71h0m1 54h0m1-34h0m1-8h0m0-62h0m7 105h0m0-52h0m3 86h0m1-25h0m4-29h0m2-57h0m0 62h0m5-29h0m6-13h0m1 9h0m0-12h0m2 17h0m2 0h0m4 22h0m4 45h0m0-89h0m2 43h0m1-7h0m0-13h0m10-35h0m4 13h0m2-7h0m0 30h0m1-37h0m3 38h0m2 2h0m1-14h0m2 14h0m2-24h0m13 2h0m1 6h0m2-8h0m1-19h0m1 27h0m1 7h0m1-41h0m2 21h0m0 37h0m9-3h0m2-40h0m2 64h0m0 9h0m5-35h0m0-2h0m5 3h0m1 23h0m1 35h0m1-59h0m1-5h0m7 25h0m2 45h0m5 2h0m0-74h0m1 19h0m1-35h0m3 35h0m3-18h0m0 6h0m4 40h0m4-2h0m11-41h0m1 8h0m2 33h0m0-17h0m2-28h0m3 15h0m0 36h0m4-46h0m9-31h0m2 58h0m6 11h0m1-3h0m2-37h0m1 29h0m2-10h0m1 15h0m5-8h0m1-46h0m1 51h0m3-46h0m4 3h0m2 22h0m0-32h0m4 88h0m0-69h0m7 39h0m1 1h0m0-18h0m5 16h0m0-71h0m0 56h0m5-39h0m1 47h0m2-28h0m9-34h0m0-22h0m1 129h0m3-13h0m2-70h0m4-2h0m3 86h0m3-66h0m5-9h0m5 58h0m3-8h0m2-11h0m5-47h0m0 29h0m2 15h0m2 12h0m1-58h0m1 60h0m0-16h0m10-61h0m0 88h0m6-40h0m0 27h0m1-49h0m0-13h0m1 89h0m5-33h0m2-67h0m1 42h0m2-39h0m2-13h0m2 3h0m0 1h0m7 13h0m4 22h0m1-20h0m1 31h0m1-1h0m7-25h0m6-18h0m2 1h0m3 8h0m1 42h0m2 3h0m2-35h0m2-17h0m4 74h0m2-20h0m0 21h0m3-22h0m4 24h0m3-31h0m0 15h0m2 9h0m1-38h0m0 35h0m2-19h0m10 21h0m3-18h0m1-2h0m4-5h0m1 13h0m0-8h0m2 22h0m4-7h0m4 11h0m0-26h0m5 45h0m1-1h0m0-47h0m3-7h0m1-18h0m8 61h0m1-44h0m7-11h0m3 3h0m0 15h0m1-11h0m3-11h0m3 23h0m7-5h0m1-19h0m1-10h0m1 34h0m0-35h0m1 50h0m1-29h0m4-17h0m2-8h0m12 29h0m2 11h0m3 52h0m1-31h0m4 32h0m1-28h0m3 13h0m1-33h0m4 14h0m4 9h0m6 11h0m1-3h0m4-28h0m1 15h0m2 6h0m1-12h0m1-2h0m3 34h0m90-3h0m2-45h0m4 10h0m3 7h0m0-21h0m1 29h0m0 10h0m3-55h0m3-6h0m3 27h0m4 48h0m5-35h0m1 20h0m4-48h0m1 43h0m0 3h0m2 0h0m3-50h0m4 37h0m1-23h0m4-5h0m1 39h0m3-74h0m7-36h0m6 34h0m2 6h0m1 16h0m3-59h0m1 2h0m1 13h0m3 6h0m3 34h0m5 13h0m5-20h0m2-29h0m0 27h0m7 38h0m1 0h0m2-17h0m2-32h0m2 57h0m3-16h0m0 4h0m2 31h0m2 14h0m0 1h0m1-61h0m1-28h0m3 1h0m2 26h0m3-16h0m1-4h0m1 21h0m3-43h0m0 36h0m1-8h0m2-13h0m1-5h0m13 86h0m5-48h0m4 51h0m2-98h0m2 81h0m2-62h0m1 78h0m0-128h0m4 7h0m1 41h0m0-12h0m17 5h0m0-24h0m0 65h0m2-40h0m2 47h0m0-53h0m11 11h0m2-28h0m4 21h0m0-7h0m1-30h0m3 44h0m1 16h0m2-40h0m0 18h0m1 0h0m1-10h0m4-10h0m1 12h0m0 19h0m1 10h0m2-30h0m0-8h0m3 27h0m3-19h0m10 42h0m3 31h0m0 33h0m4-68h0m5 23h0m1-26h0m0 21h0m0 45h0m2-44h0m1 2h0m15 54h0m1-10h0m0-10h0m2-5h0m2-41h0m3-2h0m1 61h0m0-34h0m1 23h0m4-18h0m15 15h0m1 5h0m2-63h0m4 15h0m4 13h0m1 0h0m2 34h0m0-37h0m0 26h0m2-48h0m4 14h0m0 16h0m6 26h0m0-26h0m3 18h0m0-38h0m1-5h0m8 52h0m3 10h0m0-42h0m2-24h0m2 37h0m1 20h0m2-18h0m1-1h0m2-2h0m1-19h0m7-10h0m4 13h0m2 9h0m0-50h0m3 64h0m5-20h0m0 20h0m8-5h0m7 34h0m0-63h0m0-28h0m2 92h0m0-56h0m2 5h0m1-20h0m4 48h0m1-48h0m3 26h0m0-14h0m4 40h0m2-24h0m1-9h0m0-19h0m3-8h0m1 40h0m4-25h0m8-23h0m2 57h0m1-25h0m2 27h0m4-53h0m2 52h0m4-48h0m3-46h0m1 93h0m6-87h0m1 41h0m5 7h0m3-6h0m1-51h0m11 98h0m1-66h0m1 11h0m1 37h0m1 31h0m0 9h0m4-61h0m3 5h0m0-16h0m7 12h0m2 18h0m1 45h0m3-8h0m0-19h0m3-46h0m3 4h0m3-7h0m0 8h0m2 40h0m3-50h0m1-8h0m7-27h0m4 29h0m2-11h0m2 11h0m0-34h0m1 33h0m3-1h0m4-22h0m12 89h0m1-68h0m1 4h0m1 37h0m3-4h0m2-24h0m0 67h0m2-42h0m1 38h0m1-70h0m0 12h0m7 27h0m5-21h0m7 5h0m5 26h0m3 22h0m0-38h0m1-15h0m3 51h0m0-19h0m1 3h0m1 6h0m2 14h0m0-35h0m1 10h0m9-43h0m2 65h0m0-84h0m3 3h0m3 46h0m6-42h0m0 89h0m3-71h0m4 33h0m4-1h0m3 37h0m6-52h0m0 57h0m2-40h0m3-1h0m1 2h0m3 37h0m2-52h0m1 41h0m1-27h0m9 27h0m1 9h0m8-18h0m0 20h0m5-85h0m3-1h0m0 35h0m1-58h0m0 9h0m1 54h0m1 45h0m3-105h0m2 40h0m2 67h0m3-99h0m4 84h0m1-12h0m4-8h0m4 16h0m0-58h0m2 44h0m1-78h0m4 106h0m0-43h0m14-36h0m0 12h0m1 2h0m0-17h0m3 6h0m2 13h0m0-2h0m6-30h0m2 36h0m0-34h0m7 81h0m0-35h0m1-30h0m2 21h0m1-24h0m1 1h0m1 27h0m64 55h0m1-45h0m1-31h0m5 74h0m0-18h0m1-36h0m1 56h0m3-22h0m4-35h0m9-7h0m6-12h0m2 15h0m6-24h0m1 26h0m2-41h0m0 36h0m3-9h0m2-6h0m1 26h0m1 4h0m3-8h0m3 45h0m1 7h0m1-17h0m6 26h0m0-31h0m6-4h0m5 27h0m2-19h0m4 23h0m1-80h0m1-33h0m4 53h0m0 59h0m3-41h0m3-79h0m0 55h0m2 12h0m4-15h0m7 15h0m3-32h0m1 10h0m1-7h0m3-12h0m8 3h0m0 68h0m0-68h0m2-5h0m1 23h0m10-18h0m0 15h0m1 0h0m2 47h0m2-50h0m6 20h0m6-16h0m1-2h0m1 13h0m0 6h0m1-41h0m7-8h0m0 22h0m7-14h0m0 3h0m1-13h0m0 20h0m1-2h0m4 4h0m2 17h0m0-29h0m4 29h0m4 23h0m4 1h0m5-35h0m0 50h0m1 2h0m0-52h0m1 20h0m6-6h0m5-3h0m2-8h0m4 55h0m3-23h0m0-44h0m0 72h0m2 19h0m0-68h0m4 22h0m0 26h0m2-66h0m0 7h0m6 32h0m7-6h0m1-27h0m2 83h0m6-58h0m2 21h0m4-3h0m1 1h0m0-69h0m4 43h0m0-41h0m1 77h0m8 3h0m0-34h0m1 29h0m4-4h0m1 26h0m5-35h0m3 18h0m0-37h0m2 4h0m13-29h0m7 45h0m1 12h0m1 14h0m1-61h0m1 52h0m2 0h0m5 7h0m0 19h0m6-23h0m1-14h0m1 6h0m0 13h0m1 13h0m0-37h0m0 38h0m1-14h0m7-44h0m3-30h0m4 46h0m5-10h0m0-21h0m3-7h0m3 30h0m0-3h0m5 43h0m5-50h0m0-1h0m1 22h0m8 27h0m10-62h0m0 38h0m1 10h0m1-51h0m2 56h0m0-51h0m0-14h0m5 36h0m0-20h0m2 15h0m2-24h0m3 22h0m6 30h0m5-15h0m4-28h0m1 29h0m1-30h0m0 34h0m3 29h0m0-40h0m2-69h0m1 54h0m4-25h0m2 4h0m0-12h0m2 17h0m1 79h0m3-119h0m11 23h0m2 71h0m5-1h0m4 14h0m1-87h0m1 39h0m2 22h0m2-47h0m6 20h0m1 2h0m2 48h0m9-92h0m5-12h0m1 35h0m2-7h0m0-40h0m3 15h0m0-19h0m1 68h0m7-43h0m1 7h0m3 54h0m1-31h0m3 11h0m4 4h0m2 7h0m2-25h0m1 33h0m5 17h0m0-30h0m3-6h0m4 15h0m2-32h0m1 3h0m1 44h0m2-47h0m2 57h0m4-47h0m7-14h0m4 4h0m2 22h0m1-2h0m1 3h0m0-37h0m1 4h0m1-11h0m0 29h0m1 5h0m8 4h0m0 14h0m2-9h0m6-5h0m4-10h0m1 28h0m2-13h0m2-21h0m1 19h0m4 23h0m1-40h0m5 43h0m4 14h0m0-13h0m3-1h0m1-10h0m2 35h0m0-43h0m1 34h0m0 19h0m0-36h0m2 34h0m16-2h0m2-45h0m3-22h0m0 27h0m1 47h0m3-49h0m8 0h0m4 22h0m1-40h0m5-9h0m1-12h0m6 72h0m0-71h0m1 53h0m0-29h0m1-1h0m1-29h0m2-14h0m1 48h0m2-8h0m3 16h0m10-34h0m2 36h0m2-31h0m3 27h0m0-23h0m3 14h0m4-23h0m0 32h0m3-5h0m5 4h0m1-14h0m42 0h0m0 16h0m6-20h0m3 10h0m1 0h0m5 31h0m3 33h0m0-55h0m2 8h0m0-32h0m1 27h0m9 15h0m2 23h0m6-29h0m2 33h0m0-52h0m1 33h0m1-26h0m0-15h0m9 12h0m1 29h0m0-5h0m5-24h0m2 1h0m2-5h0m1-12h0m5 50h0m0-45h0m0 43h0m19 7h0m0-43h0m1-6h0m2 37h0m1-3h0m1 2h0m0 16h0m1-40h0m0-3h0m0 9h0m3 2h0m2 52h0m4-15h0m0-11h0m2-12h0m0-38h0m16-21h0m0 33h0m1 10h0m5-21h0m2-31h0m2 28h0m1-27h0m3 10h0m2 61h0m7-2h0m2-14h0m1-23h0m0 9h0m1-15h0m2 46h0m3-25h0m3 12h0m2-25h0m7 22h0m0-12h0m4-18h0m5 34h0m0-8h0m3 16h0m5-35h0m0 8h0m3 5h0m1-9h0m2 9h0m1 17h0m11 26h0m1-7h0m1-22h0m2-12h0m2-9h0m1 13h0m0 22h0m4-43h0m2 54h0m2-46h0m7 41h0m2-31h0m1 47h0m4-39h0m7-10h0m1 1h0m1 12h0m4 3h0m4-25h0m1 18h0m2-10h0m0-7h0m6-28h0m43 53h0m1-36h0m3 21h0m0-26h0m1 22h0m4-12h0m5-5h0m4 30h0m2 3h0m1-72h0m3 19h0m1 29h0m1-6h0m2-54h0m0 0h0m1 95h0m5-7h0m3-74h0m5 17h0m11 14h0m0-5h0m0 0h0m2 21h0m1 9h0m1-41h0m1 37h0m7-5h0m2 10h0m3-12h0m3 5h0m1-17h0m0 27h0m1-20h0m2 29h0m0-18h0m2 29h0m1-18h0m3-7h0m2-16h0m20-29h0m0-18h0m1 68h0m2-6h0m2-12h0m0 11h0m1 3h0m2-3h0m2 49h0m7 13h0m0-62h0m0-58h0m1 46h0m2-24h0m1 41h0m1-20h0m4-35h0m3 22h0m8 65h0m3-68h0m2 41h0m3 37h0m0-13h0m1-74h0m3 5h0m1 95h0m2-90h0m8 62h0m12 3h0m0-36h0m6-7h0m1 50h0m4-74h0m2 90h0m1-135h0m1 28h0m1 8h0m1-43h0m0 27h0m1-6h0m3-3h0m3 30h0m2 1h0m5 21h0m0-1h0m3 6h0m1 26h0m3 5h0m1-21h0m0 35h0m1-81h0m1-4h0m2 16h0m4-22h0m9 89h0m5-68h0m2 91h0m4-103h0m3 33h0m3 15h0m4-35h0m2 94h0m0-21h0m4-59h0m3 41h0m6-16h0m8 35h0m1-55h0m0 31h0m2 14h0m3-17h0m4 8h0m2-26h0m1-8h0m0-5h0m1-4h0m0 28h0m0 23h0m4-56h0m0 8h0m1 32h0m10-18h0m5-13h0m3 45h0m0-8h0m3-5h0m1-7h0m1 36h0m0 4h0m3-48h0m2 15h0m2-4h0m3-11h0m12-47h0m2 2h0m2 35h0m1 27h0m2-14h0m2-23h0m1-2h0m4 15h0m2-7h0m4 24h0m8-14h0m2-38h0m1 19h0m2 11h0m1 69h0m3-19h0m5-43h0m4 42h0m1-18h0m2 39h0m0 1h0m3 2h0m5-5h0m4-38h0m2 24h0m1-90h0m9 50h0m0 4h0m0-5h0m2 49h0m0-62h0m0 55h0m1-78h0m1 14h0m2 7h0m6 3h0m0-20h0m2-3h0m1 15h0m1-38h0m2 36h0m2-26h0m13 7h0m3-10h0m1 4h0m1 46h0m3 9h0m2 11h0m2-54h0m4 70h0m4-47h0m6-51h0m1 61h0m2-10h0m0-28h0m1-11h0m1 39h0m0 22h0m4-52h0m1 56h0m1-73h0m11 40h0m2 9h0m3-41h0m1 0h0m1 56h0m1-14h0m1-40h0m8 48h0m9-3h0m0-52h0m1 36h0m1 2h0m1-19h0m0 21h0m6 9h0m3-36h0m4-7h0m1 36h0m0 7h0m4 37h0m1-86h0m1 104h0m2-61h0m0 32h0m2-73h0m4 74h0m0 19h0m0-87h0m1 60h0m15-5h0m2-8h0m2 56h0m0-46h0m5-29h0m0 48h0m1 27h0m7-65h0m7 45h0m2-25h0m2-7h0m1 27h0m2-51h0m2 1h0m1 37h0m0-37h0m4 68h0m1 7h0m7-65h0m1 63h0m5-15h0m3-58h0m1 13h0m0-7h0m1 40h0m1-43h0m2 18h0m1 2h0m6-39h0m1-4h0m5 101h0m6-102h0m6 25h0m0-28h0m2 8h0m1 19h0m6 12h0m4-8h0m4-11h0m1 13h0m3-37h0m1 50h0m2-34h0m2-1h0m1-4h0m1 43h0m10-3h0m2 6h0m1 5h0m2-7h0m4 10h0m0 2h0m0-39h0m2 44h0m0-10h0m0-6h0m2-11h0m2-18h0m5-8h0m13-13h0m1 95h0m4-83h0m4-11h0m2 55h0m0-43h0m4 58h0m1 25h0m2-50h0m1-22h0m1 45h0m8 21h0m3-43h0m3-7h0m2-31h0m0-7h0m2 84h0m2-10h0m0-75h0m1 72h0m4-48h0m1 49h0m5-55h0m0-29h0m1 69h0m7 44h0m1-36h0m3-26h0m1 56h0m10-95h0m4-3h0m6 25h0m2-24h0m0 8h0m3 57h0m0-29h0m1 32h0m0-53h0m0 9h0m1 13h0m7 1h0m1 43h0m3-14h0m5 20h0m2-7h0m1-15h0m6-21h0m1 3h0m1 3h0m2 0h0m9-29h0m1 69h0m5-88h0m1 24h0m2-25h0m2 10h0m2-39h0m0 30h0m1-32h0m2 24h0m5 2h0m3 4h0m4 69h0m6-30h0m3-4h0m2 57h0m4-57h0m0 15h0m1-34h0m0 10h0m1-9h0m1-2h0m6-13h0m4 12h0m0 0h0m0-7h0m4 47h0m0-35h0m1-2h0m5-32h0m2-10h0m4-5h0m4 28h0m0-4h0m5 1h0m5-24h0m0-2h0m5 27h0m2-17h0m8 18h0m3 47h0m1 5h0m0-11h0m2-27h0m0 54h0m3-28h0m7 66h0m3-13h0m2-38h0m1-23h0m2 66h0m5-10h0m1 15h0m0-12h0m1-19h0m1-18h0m3 4h0m4 14h0m4-25h0m3 21h0m1-17h0m9 42h0m2-31h0m3-11h0m0 9h0m1-46h0m1 46h0m2-8h0m0 8h0m0-4h0m7-31h0m1-8h0m2 11h0m0 14h0m9-21h0m2 44h0m5-57h0m5 54h0m2-34h0m1 62h0m0 4h0m1-70h0m4 0h0m3 78h0m2-36h0m4 3h0m0-29h0m3-2h0m3 55h0m0-68h0m6 38h0m4-27h0m4 17h0m0 2h0m0-15h0m0-5h0m1-7h0m1 23h0m2 18h0m0-10h0m4-19h0m5-4h0m3-9h0m2 11h0m6 3h0m0-29h0m1 19h0m1-14h0m8-1h0m0-7h0m1 12h0m1 27h0m14 39h0m5-28h0m1-7h0m3-5h0m1 26h0m0-3h0m0-35h0m3 65h0m2-69h0m1 22h0m4 5h0m5 5h0m1-11h0m1-20h0m1 42h0m0-5h0m1-16h0m2 22h0m1-8h0m13-7h0m9-47h0m1-7h0m2 28h0m1-19h0m3-13h0m1 10h0m4 13h0m2 79h0m7-110h0m2-3h0m1 4h0m2 59h0m3-39h0m1 13h0m8 4h0m1-18h0m7-31h0m1 72h0m1-63h0m2-7h0m2 107h0m2-89h0m1 77h0m2-69h0m0 60h0m5-67h0m2 34h0m4 66h0m2-113h0m1 24h0m1 35h0m4-5h0m0-5h0m2 9h0m1-65h0m2 51h0m1 8h0m1 2h0m0-30h0m2 57h0m2-37h0m2-22h0m4-30h0m2 60h0m12-15h0m2 8h0m6 21h0m1-27h0m1 41h0m4-45h0m0 14h0m1-14h0m2 25h0m4-35h0m2 28h0m3-52h0m1 21h0m0 28h0m3 4h0m4-46h0m3-10h0m0 21h0m1-1h0m6-10h0m8 77h0m0-23h0m3 13h0m1-4h0m0-13h0m2-5h0m0 31h0m8-15h0m4 15h0m0-31h0m10 61h0m0-54h0m0 52h0m5-80h0m0 18h0m2-23h0m2 21h0m0 54h0m3-33h0m5-34h0m2 57h0m0-60h0m5 74h0m1-48h0m7-43h0m0 86h0m1-44h0m0-29h0m0-8h0m2 88h0m13-59h0m0 17h0m1 29h0m1-15h0m7-1h0m2 2h0m0 21h0m2-27h0m7 29h0m4-77h0m4 43h0m1 5h0m0-7h0m0 21h0m5-79h0m3 57h0m2-46h0m6 8h0m42 44h0m1 7h0m4 18h0m0-5h0m5 2h0m0-14h0m3 6h0m0 7h0m1-4h0m0 7h0m10 17h0m7-48h0m1 42h0m1-73h0m0 38h0m1-63h0m0 1h0m1 74h0m1-80h0m4 70h0m1 39h0m5-23h0m5-91h0m3-6h0m3-3h0m4 26h0m1 1h0m0 35h0m3-12h0m0-6h0m11 8h0m4-4h0m0 45h0m0-47h0m1 5h0m0 39h0m1 30h0m2-77h0m5 70h0m8-6h0m3-52h0m4 37h0m4 8h0m2-56h0m0 49h0m5-46h0m3 27h0m0-29h0m7-2h0m3-28h0m4 41h0m0-20h0m1-13h0m3 34h0m2-29h0m3 26h0m0 34h0m4 33h0m1-60h0m1 4h0m1-19h0m1 36h0m0 28h0m2 4h0m3-73h0m1 25h0m4 10h0m2 47h0m16-82h0m1-7h0m0-33h0m3 14h0m1-16h0m0 7h0m1-1h0m7 105h0m0-102h0m4 45h0m5-38h0m2 57h0m1-3h0m3-42h0m2 30h0m2-31h0m3 67h0m1-56h0m1 21h0m7 8h0m7 1h0m0 9h0m1 8h0m1-24h0m9 1h0m5 20h0m0-33h0m1 54h0m3-13h0m2-8h0m2 21h0m0-80h0m1 8h0m2-8h0m2 24h0m2-31h0m1-7h0m1 18h0m1-14h0m62 12h0m2 14h0m2-8h0m2 1h0m2 5h0m0-9h0m2 17h0m5-7h0m5 20h0m4 29h0m1-11h0m3-28h0m2 23h0m2-29h0m2 15h0m7 21h0m4-10h0m1 23h0m2-16h0m1 20h0m0 6h0m1-11h0m1 15h0m2-10h0m7-14h0m0 44h0m4-27h0m0-30h0m5 55h0m1-25h0m2 3h0m1-12h0m2-33h0m2 63h0m13-47h0m0 28h0m2-47h0m0 44h0m5-4h0m0 31h0m2-69h0m1 20h0m8-20h0m4 24h0m2 13h0m0-51h0m2 33h0m1 21h0m1-22h0m5 1h0m4 0h0m2-21h0m0-15h0m6 19h0m2 16h0m1-5h0m0-27h0m4-7h0m1 24h0m2-15h0m3 10h0m5-7h0m0 7h0m1 14h0m1-44h0m4 8h0m1 74h0m1-1h0m5-12h0m6-98h0m2 23h0m5-38h0m7 19h0m3-17h0m2-1h0m1 25h0m3 1h0m3 19h0m3-2h0m4 54h0m2 43h0m2-61h0m1-15h0m3 31h0m0 22h0m7-45h0m1-27h0m1 2h0m0-7h0m1 17h0m1-6h0m1 29h0m1-2h0m1-9h0m8-11h0m4-38h0m5 56h0m0-52h0m2 5h0m0 45h0m3-2h0m3-52h0m1 48h0m1-5h0m1 0h0m10-45h0m1 77h0m2 19h0m3-4h0m3-16h0m3-26h0m4 38h0m5-6h0m1 12h0m2-4h0m5-40h0m4 16h0m4 37h0m3 11h0m5-13h0m1 20h0m1-52h0m1-18h0m4-13h0m3-1h0m1 19h0m4 15h0m3-8h0m5 20h0m2-24h0m2 24h0m1-29h0m3 48h0m2 7h0m1-20h0m1 20h0m1-14h0m4 31h0m0-55h0m1 23h0m14-32h0m1 48h0m0-34h0m1 42h0m2-59h0m0 25h0m3 27h0m1 7h0m2-66h0m1 53h0m1 14h0m3 3h0m2-78h0m3 69h0m10 9h0m0-55h0m2-6h0m5-11h0m1 5h0m2-1h0m2-46h0m4 16h0m1-22h0m3 23h0m1 38h0m1 5h0m2 13h0m8 37h0m3-47h0m0-19h0m1 10h0m5-2h0m0-47h0m1-15h0m2 42h0m3 14h0m1-42h0m1 10h0m4-14h0m1 61h0m4-67h0m8 104h0m0-100h0m6 49h0m2 39h0m3-44h0m2 26h0m3 30h0m8-7h0m5-57h0m1-30h0m2 39h0m2 20h0m1-44h0m0-14h0m1 74h0m6-76h0m1 109h0m5-13h0m5-10h0m0-62h0m1 57h0m1-6h0m1 18h0m1-81h0m1 81h0m5-16h0m3-38h0m1-4h0m11-50h0m2 57h0m2 44h0m5-112h0m2 120h0m1-12h0m2-38h0m0 21h0m3-69h0m1 87h0m0-30h0m2 3h0m2-13h0m3 19h0m2 4h0m1-8h0m2-6h0m2-13h0m3-18h0m13 85h0m4-48h0m1 45h0m3-27h0m1 26h0m2-30h0m2 12h0m2-28h0m2 30h0m0-15h0m4 35h0m4-50h0m4 30h0m4 2h0m0-42h0m2 16h0m3 7h0m1 40h0m3-93h0m1 27h0m11 31h0m1-5h0m5-1h0m0-17h0m0-2h0m3 2h0m1 46h0m4-6h0m1-55h0m0 37h0m3 22h0m1-25h0m1-20h0m8 32h0m1-15h0m1-16h0m0 53h0m4-42h0m0 37h0m4 14h0m1-17h0m7-5h0m7-30h0m1-6h0m0 52h0m5-14h0m3-25h0m3-8h0m2 0h0m1 1h0m0-5h0m7 9h0m1 3h0m3 9h0m2 28h0m4-66h0m0-3h0m8 61h0m0-45h0m7 25h0m0-39h0m0 16h0m2 11h0m0-17h0m1 13h0m1-17h0m2 12h0m3-17h0m2 26h0m3 2h0m6-28h0m2 75h0m1-77h0m5 5h0m1-13h0m3 24h0m1 0h0m0-11h0m5-26h0m0 61h0m10-10h0m1-27h0m2-24h0m2 53h0m1-5h0m1-12h0m0 25h0m0-40h0m0-14h0m9 42h0m15-21h0m4 14h0m2-35h0m4 49h0m0-24h0m0 44h0m3 20h0m1-59h0m1-43h0m2 18h0m5-19h0m1 8h0m7 8h0m2 21h0m0-17h0m2-24h0m1 71h0m0-31h0m3 5h0m3 23h0m0-18h0m1-31h0m1-8h0m3 54h0m0-26h0m12-12h0m1 1h0m1 2h0m0 32h0m0 7h0m3-14h0m7 0h0m2-34h0m8-22h0m0 8h0m4-6h0m2 0h0m0 19h0m2-25h0m2 20h0m2-35h0m1 9h0m2 28h0m7-4h0m3-9h0m6-3h0m1 38h0m0-16h0m1 12h0m2 74h0m3-12h0m0-19h0m9-17h0m1 27h0m6-63h0m2-5h0m1 29h0m6 1h0m0-33h0m6 35h0m0 2h0m0-38h0m1 70h0m0-44h0m1-32h0m7 24h0m3 42h0m10 21h0m0-60h0m0 68h0m1-38h0m0 11h0m0-2h0m12-23h0m4 19h0m0-38h0m0 30h0m1 19h0m9-2h0m0-55h0m0-9h0m1 50h0m5 15h0m2-10h0m2-13h0m5 14h0m3-12h0m5-8h0m2 12h0m3 25h0m0-34h0m1 34h0m0-26h0m0-16h0m4 48h0m0-4h0m4-34h0m7 17h0m1-12h0m3-26h0m3 30h0m2-21h0m2 2h0m2 50h0m7-43h0m5 5h0m1 16h0m1-2h0m1-5h0m1 22h0m1 9h0m3-6h0m1-28h0m6 31h0m10-61h0m1 19h0m2 36h0m3-38h0m1-2h0m2 17h0m7-10h0m0-17h0m4 38h0m1-59h0m8 1h0m1-6h0m1 63h0m7-44h0m1 10h0m0-6h0m6 13h0m0 35h0m2 23h0m2-46h0m0 15h0m3-31h0m9-5h0m1 17h0m2-43h0m1 29h0m0-14h0m1 49h0m6-36h0m1-18h0m1 7h0m2 15h0m6-16h0m1 77h0m4-67h0m4 14h0m7 6h0m3-34h0m1-28h0m1 18h0m1 45h0m3-18h0m2-50h0m2 12h0m1 16h0m3-7h0m0-8h0m1 58h0m4-21h0m2 5h0m6-44h0m0-9h0m1 81h0m1-94h0m2 109h0m1-32h0m12 17h0m2-31h0m0 50h0m1 4h0m0-95h0m3 73h0m7 21h0m2-40h0m0-37h0m6 82h0m2 4h0m2-61h0m2 52h0m3-57h0m0 27h0m2-73h0m3 105h0m8-102h0m3 0h0m0-13h0m3 8h0m0 11h0m1 19h0m2-19h0m10-37h0m1 22h0m1 6h0m2 49h0m2-53h0m1-18h0m4-4h0m0 28h0m1-6h0m11 77h0m1-34h0m4 30h0m2 26h0m2 12h0m2-12h0m1-12h0m2-19h0m1 43h0m3-70h0m1 21h0m6 48h0m1-7h0m2-15h0m1 22h0m2 0h0m0-65h0m2 16h0m4 39h0m4 4h0m5-29h0m1-46h0m10 57h0m2 19h0m2-60h0m2 59h0m3-39h0m0 44h0m0-86h0m3 34h0m1 0h0m4 14h0m4 15h0m5-28h0m2 51h0m3-58h0m1 52h0m0 3h0m1-25h0m1-47h0m1 9h0m15-9h0m1 2h0m1-44h0m1 18h0m1 14h0m2 4h0m2-12h0m1 17h0m2-31h0m2 16h0m2 6h0m10 14h0m112 38h0m5-31h0m2 27h0m1-19h0m3 43h0m0-60h0m1 31h0m2 17h0m1-40h0m1 37h0m2-13h0m2-27h0m3 66h0m1-65h0m3 17h0m7-8h0m6-4h0m5 43h0m2-14h0m1 5h0m1-19h0m5-2h0m2 30h0m4-7h0m0-15h0m8 6h0m0-10h0m5 26h0m0-35h0m1 43h0m2-29h0m1 5h0m0 13h0m6 19h0m0-14h0m2 14h0m15-104h0m1 23h0m2 45h0m3 48h0m0-93h0m4 87h0m3-38h0m1-2h0m2-37h0m3 76h0m3-32h0m0-17h0m1-33h0m4-46h0m1 135h0m1-4h0m3-32h0m4-6h0m3-54h0m1 23h0m3 43h0m3-33h0m1-33h0m1 24h0m4-11h0m3 45h0m1-21h0m11 23h0m5-68h0m1 20h0m1 22h0m2-56h0m0 98h0m2-83h0m4 90h0m0-43h0m0 54h0m2-102h0m10 38h0m6 56h0m0-14h0m2 18h0m2-26h0m2-18h0m5-39h0m0 33h0m3 52h0m1 0h0m3-9h0m1-2h0m0-92h0m2 43h0m2 7h0m1-34h0m6 87h0m0-63h0m4-37h0m13-9h0m0-3h0m1 29h0m2-38h0m0 17h0m2 36h0m4 2h0m0-13h0m2-42h0m0 51h0m5 10h0m4 38h0m3-67h0m4 43h0m4 37h0m4-67h0m2 39h0m1 26h0m6-58h0m0 15h0m4-24h0m5 6h0m0-3h0m1 52h0m3-43h0m7 31h0m1-51h0m1 55h0m0 18h0m2-20h0m3-24h0m1 9h0m1 23h0m1 8h0m1 14h0m4-83h0m5 12h0m15 75h0m1-58h0m1-11h0m1 37h0m4 24h0m0-3h0m2-12h0m4 21h0m2-17h0m3 12h0m1-63h0m0 56h0m0-46h0m3 16h0m1 41h0m3-50h0m6 38h0m2-4h0m2-5h0m1-28h0m1-2h0m0-13h0m5-2h0m1 4h0m1-23h0m2 55h0m2-4h0m1-10h0m3-20h0m6 0h0m13 25h0m0-20h0m0 37h0m1-27h0m2 49h0m1-45h0m0-4h0m0 50h0m3-72h0m11-39h0m5 96h0m0 0h0m5-114h0m2 15h0m2 7h0m1 7h0m3-6h0m2 14h0m0-3h0m3-42h0m4 21h0m2-7h0m1 28h0m5-31h0m3 89h0m4-2h0m2-61h0m0 5h0m2 30h0m5 23h0m2-46h0m1 30h0m1-4h0m2 41h0m11-89h0m1 8h0m2-20h0m2 43h0m0-41h0m1 38h0m2 3h0m6-36h0m1-1h0m6 50h0m3 15h0m1-31h0m0 40h0m2-51h0m1 17h0m2 24h0m1-7h0m2-32h0m8 18h0m4 71h0m5-38h0m2-12h0m3 49h0m6-13h0m0 14h0m3-44h0m1 2h0m2-17h0m0-16h0m0 33h0m4 2h0m0-11h0m2 1h0m2-34h0m3-6h0m0 16h0m1 33h0m11 8h0m2-23h0m4-8h0m0 29h0m3-12h0m1 9h0m0 6h0m2-31h0m2 13h0m4 15h0m1-19h0m11-26h0m10 33h0m1 52h0m1-6h0m0-28h0m1-27h0m1 4h0m1 23h0m4-31h0m5 33h0m2-6h0m0-8h0m4-24h0m2 14h0m4-36h0m2 22h0m1-39h0m3 76h0m0-9h0m9-28h0m4 18h0m1 40h0m6-106h0m1 97h0m2-60h0m2 52h0m0-75h0m4 64h0m1 20h0m0-91h0m0 9h0m1 70h0m0 3h0m4-56h0m2 87h0m2-76h0m7 67h0m6-20h0m1-29h0m1-10h0m3 49h0m0-14h0m1-19h0m1 12h0m8 19h0m0 5h0m2-64h0m6 55h0m0-21h0m1-59h0m1 49h0m2 35h0m12-8h0m2 17h0m1 5h0m1-7h0m3-99h0m2 51h0m2 47h0m2-78h0m1-14h0m7-2h0m3 1h0m2 67h0m8-15h0m2-24h0m1 0h0m1 74h0m1-103h0m3 32h0m1-35h0m0 110h0m12-10h0m0-67h0m1 33h0" stroke="#000" stroke-width="38" stroke-linecap="round" fill="none"/>
<path transform="scale(.1)" d="M1700 9920h0m4-10h0m6-8h0m184-28h0m30 6h0m6-70h0m4 10h0m70 110h0m256-10h0m10-10h0m10-5h0m4 20h0m152-59h0m9 39h0m5-21h0m6-64h0m4 110h0m6-186h0m0 26h0m4 130h0m4 20h0m6-120h0m4 44h0m1 81h0m5-45h0m140-70h0m6 100h0m4-110h0m0 124h0m84 6h0m246-10h0m10-10h0m10 15h0m10-10h0m50-5h0m10-15h0m6 30h0m134-5h0m10-20h0m10 25h0m10-35h0m10 20h0m4-208h0m6 183h0m570 30h0m4 15h0m110-156h0m0 90h0m10-34h0m26 50h0m5 45h0m5-25h0m4 20h0m6-45h0m280 55h0m14-276h0m0 162h0m0 48h0m0 26h0m196 10h0m4 25h0m86-15h0m4 20h0m156-64h0m4 24h0m0 26h0m76 9h0m10-15h0m10-8h0m54 18h0m150-218h0m2 158h0m0 20h0m0 20h0m0 20h0m0 20h0m8-126h0m40 100h0m150 12h0m56 4h0m14-56h0m6 56h0m266-4h0m214-66h0m6 20h0m4 20h0m10 15h0m6 20h0m4-40h0m94 35h0m100-30h0m0 26h0m26-2h0m60 1h0m6-20h0m6 25h0m4-45h0m190-5h0m0 20h0m358-6h0m32 36h0m4-14h0m164-56h0m0 20h0m0 30h0m0 20h0m100-256h0m10 240h0m2-212h0m98 178h0m0 25h0m0 25h0m90-70h0m0 16h0m256 54h0m10-16h0m10-14h0m60 10h0m140 16h0m14-16h0m10 24h0m16-14h0m4-40h0m150-26h0m0 60h0m40-10h0m50 22h0m100-22h0m160 0h0m76 12h0m4-172h0m0 60h0m20 112h0m160-72h0m6 82h0m4-42h0m90 36h0m200-100h0m0 74h0m70 40h0m110-90h0m0 70h0m90 16h0m160-16h0m86 11h0m10-15h0m4 20h0m6-34h0m60 20h0m140-6h0m14 16h0m12-22h0m4 32h0m10-16h0m10-14h0m10 24h0m140-24h0m50 20h0m294-6h0m70 6h0m120-42h0m36 26h0m6 20h0m18-56h0m190 32h0m90-76h0m0 26h0m0 70h0m220-36h0m46-10h0m14 34h0m300-40h0m0 20h0m32 26h0m8-10h0m0 24h0m160-90h0m0 70h0m40 16h0m6-25h0m4 15h0m2-30h0m8-16h0m130-40h0m80 30h0m0 26h0m10 20h0m10 16h0m6 10h0m244-56h0m0 20h0m0 20h0m70 10h0m2-20h0m4-20h0m4-20h0m130 56h0m36-12h0m4-18h0m0 32h0m200-34h0m0 20h0m0 16h0m46 0h0m254-76h0m0 20h0m40-54h0m0 100h0m70 0h0m110 6h0m50-82h0m6 66h0m4 20h0m86-10h0m4-100h0m6 84h0m6 32h0m4-52h0m6 31h0m4 15h0" stroke="#ff0000" stroke-width="30" stroke-linecap="round" fill="none"/>
<path d="M161.5 959.2l1.7-3 1.7 3zM162.3 959.2l1.7-3 1.7 3zM323.3 959.2l1.7-3 1.7 3zM372.3 959.2l1.7-3 1.7 3zM375.3 959.2l1.7-3 1.7 3zM428.3 959.2l1.7-3 1.7 3zM430.3 959.2l1.7-3 1.7 3zM432.3 959.2l1.7-3 1.7 3zM434.3 959.2l1.7-3 1.7 3zM503.3 959.2l1.7-3 1.7 3zM506.1 959.2l1.7-3 1.7 3zM581.3 959.2l1.7-3 1.7 3zM584.1 959.2l1.7-3 1.7 3zM685.3 959.2l1.7-3 1.7 3zM688.0 959.2l1.7-3 1.7 3zM690.6 959.2l1.7-3 1.7 3zM693.3 959.2l1.7-3 1.7 3zM767.5 959.2l1.7-3 1.7 3zM770.1 959.2l1.7-3 1.7 3zM772.7 959.2l1.7-3 1.7 3zM775.3 959.2l1.7-3 1.7 3zM844.3 959.2l1.7-3 1.7 3zM847.3 959.2l1.7-3 1.7 3zM873.3 959.2l1.7-3 1.7 3zM876.7 959.2l1.7-3 1.7 3zM1026.3 959.2l1.7-3 1.7 3zM1029.3 959.2l1.7-3 1.7 3zM1054.5 959.2l1.7-3 1.7 3zM1057.1 959.2l1.7-3 1.7 3zM1059.7 959.2l1.7-3 1.7 3zM1062.3 959.2l1.7-3 1.7 3zM1132.3 959.2l1.7-3 1.7 3zM1135.3 959.2l1.7-3 1.7 3zM1211.3 959.2l1.7-3 1.7 3zM1213.5 959.2l1.7-3 1.7 3zM1215.8 959.2l1.7-3 1.7 3zM1218.0 959.2l1.7-3 1.7 3zM1220.3 959.2l1.7-3 1.7 3zM167.7 959.2l1.7-3 1.7 3zM172.9 959.2l1.7-3 1.7 3zM174.3 959.2l1.7-3 1.7 3zM186.7 959.2l1.7-3 1.7 3zM200.7 959.2l1.7-3 1.7 3zM211.9 959.2l1.7-3 1.7 3zM214.0 959.2l1.7-3 1.7 3zM216.1 959.2l1.7-3 1.7 3zM224.3 959.2l1.7-3 1.7 3zM225.5 959.2l1.7-3 1.7 3zM235.3 959.2l1.7-3 1.7 3zM242.3 959.2l1.7-3 1.7 3zM245.5 959.2l1.7-3 1.7 3zM250.5 959.2l1.7-3 1.7 3zM262.3 959.2l1.7-3 1.7 3zM287.9 959.2l1.7-3 1.7 3zM318.7 959.2l1.7-3 1.7 3zM360.7 959.2l1.7-3 1.7 3zM381.9 959.2l1.7-3 1.7 3zM384.1 959.2l1.7-3 1.7 3zM392.3 959.2l1.7-3 1.7 3zM394.3 959.2l1.7-3 1.7 3zM396.3 959.2l1.7-3 1.7 3zM417.3 959.2l1.7-3 1.7 3zM426.7 959.2l1.7-3 1.7 3zM434.7 959.2l1.7-3 1.7 3zM447.5 959.2l1.7-3 1.7 3zM448.3 959.2l1.7-3 1.7 3zM461.9 959.2l1.7-3 1.7 3zM471.3 959.2l1.7-3 1.7 3zM502.0 959.2l1.7-3 1.7 3zM507.9 959.2l1.7-3 1.7 3zM510.3 959.2l1.7-3 1.7 3zM512.6 959.2l1.7-3 1.7 3zM515.0 959.2l1.7-3 1.7 3zM517.4 959.2l1.7-3 1.7 3zM519.7 959.2l1.7-3 1.7 3zM522.1 959.2l1.7-3 1.7 3zM528.3 959.2l1.7-3 1.7 3zM536.5 959.2l1.7-3 1.7 3zM538.9 959.2l1.7-3 1.7 3zM541.2 959.2l1.7-3 1.7 3zM543.6 959.2l1.7-3 1.7 3zM545.9 959.2l1.7-3 1.7 3zM548.3 959.2l1.7-3 1.7 3zM558.9 959.2l1.7-3 1.7 3zM563.6 959.2l1.7-3 1.7 3zM575.2 959.2l1.7-3 1.7 3zM589.7 959.2l1.7-3 1.7 3zM600.9 959.2l1.7-3 1.7 3zM602.3 959.2l1.7-3 1.7 3zM609.9 959.2l1.7-3 1.7 3zM612.5 959.2l1.7-3 1.7 3zM615.1 959.2l1.7-3 1.7 3zM629.9 959.2l1.7-3 1.7 3zM632.3 959.2l1.7-3 1.7 3zM634.6 959.2l1.7-3 1.7 3zM637.0 959.2l1.7-3 1.7 3zM639.3 959.2l1.7-3 1.7 3zM641.7 959.2l1.7-3 1.7 3zM647.6 959.2l1.7-3 1.7 3zM655.5 959.2l1.7-3 1.7 3zM657.9 959.2l1.7-3 1.7 3zM660.3 959.2l1.7-3 1.7 3zM666.4 959.2l1.7-3 1.7 3zM677.1 959.2l1.7-3 1.7 3zM695.5 959.2l1.7-3 1.7 3zM696.3 959.2l1.7-3 1.7 3zM720.6 959.2l1.7-3 1.7 3zM727.7 959.2l1.7-3 1.7 3zM734.4 959.2l1.7-3 1.7 3zM741.7 959.2l1.7-3 1.7 3zM754.3 959.2l1.7-3 1.7 3zM756.8 959.2l1.7-3 1.7 3zM759.2 959.2l1.7-3 1.7 3zM761.7 959.2l1.7-3 1.7 3zM766.7 959.2l1.7-3 1.7 3zM780.9 959.2l1.7-3 1.7 3zM782.8 959.2l1.7-3 1.7 3zM784.7 959.2l1.7-3 1.7 3zM801.3 959.2l1.7-3 1.7 3zM824.3 959.2l1.7-3 1.7 3zM837.7 959.2l1.7-3 1.7 3zM843.1 959.2l1.7-3 1.7 3zM853.7 959.2l1.7-3 1.7 3zM872.7 959.2l1.7-3 1.7 3zM879.3 959.2l1.7-3 1.7 3zM889.9 959.2l1.7-3 1.7 3zM905.7 959.2l1.7-3 1.7 3zM916.6 959.2l1.7-3 1.7 3zM943.5 959.2l1.7-3 1.7 3zM946.1 959.2l1.7-3 1.7 3zM953.1 959.2l1.7-3 1.7 3zM956.9 959.2l1.7-3 1.7 3zM982.9 959.2l1.7-3 1.7 3zM1008.3 959.2l1.7-3 1.7 3zM1020.3 959.2l1.7-3 1.7 3zM1025.7 959.2l1.7-3 1.7 3zM1036.3 959.2l1.7-3 1.7 3zM1045.9 959.2l1.7-3 1.7 3zM1048.3 959.2l1.7-3 1.7 3zM1052.7 959.2l1.7-3 1.7 3zM1063.2 959.2l1.7-3 1.7 3zM1074.4 959.2l1.7-3 1.7 3zM1086.3 959.2l1.7-3 1.7 3zM1100.2 959.2l1.7-3 1.7 3zM1106.7 959.2l1.7-3 1.7 3zM1131.9 959.2l1.7-3 1.7 3zM1139.5 959.2l1.7-3 1.7 3zM1142.3 959.2l1.7-3 1.7 3zM1148.9 959.2l1.7-3 1.7 3zM1150.3 959.2l1.7-3 1.7 3zM1158.3 959.2l1.7-3 1.7 3zM1159.1 959.2l1.7-3 1.7 3zM1165.9 959.2l1.7-3 1.7 3zM1168.4 959.2l1.7-3 1.7 3zM1170.8 959.2l1.7-3 1.7 3zM1173.3 959.2l1.7-3 1.7 3zM1178.5 959.2l1.7-3 1.7 3zM1179.3 959.2l1.7-3 1.7 3zM1185.9 959.2l1.7-3 1.7 3zM1202.3 959.2l1.7-3 1.7 3zM1204.3 959.2l1.7-3 1.7 3zM1206.3 959.2l1.7-3 1.7 3zM1223.5 959.2l1.7-3 1.7 3zM1224.3 959.2l1.7-3 1.7 3zM1228.7 959.2l1.7-3 1.7 3zM1237.3 959.2l1.7-3 1.7 3zM1240.3 959.2l1.7-3 1.7 3zM1246.7 959.2l1.7-3 1.7 3zM1271.7 959.2l1.7-3 1.7 3zM1283.7 959.2l1.7-3 1.7 3zM1288.3 959.2l1.7-3 1.7 3zM1297.5 959.2l1.7-3 1.7 3zM1298.3 959.2l1.7-3 1.7 3zM191.3 959.2l1.7-3 1.7 3zM323.5 959.2l1.7-3 1.7 3zM325.8 959.2l1.7-3 1.7 3zM328.0 959.2l1.7-3 1.7 3zM330.3 959.2l1.7-3 1.7 3zM332.6 959.2l1.7-3 1.7 3zM334.8 959.2l1.7-3 1.7 3zM337.1 959.2l1.7-3 1.7 3zM339.4 959.2l1.7-3 1.7 3zM341.6 959.2l1.7-3 1.7 3zM343.9 959.2l1.7-3 1.7 3zM346.2 959.2l1.7-3 1.7 3zM348.4 959.2l1.7-3 1.7 3zM350.7 959.2l1.7-3 1.7 3zM353.0 959.2l1.7-3 1.7 3zM355.2 959.2l1.7-3 1.7 3zM357.5 959.2l1.7-3 1.7 3zM359.8 959.2l1.7-3 1.7 3zM362.0 959.2l1.7-3 1.7 3zM364.3 959.2l1.7-3 1.7 3zM366.6 959.2l1.7-3 1.7 3zM368.8 959.2l1.7-3 1.7 3zM371.1 959.2l1.7-3 1.7 3zM1214.7 959.2l1.7-3 1.7 3zM1264.7 959.2l1.7-3 1.7 3z" fill="none" stroke="#ff0000" stroke-width="1.3" stroke-linejoin="round"/>
<line x1="162.0" y1="1010.9" x2="162.0" y2="725.5" stroke="#800080" stroke-width="2.08" stroke-dasharray="2.08 3.43"/>
<line x1="1303.0" y1="1010.9" x2="1303.0" y2="725.5" stroke="#800080" stroke-width="2.08" stroke-dasharray="2.08 3.43"/>
</g>
<line x1="105.5" y1="954.5" x2="1485.5" y2="954.5" stroke="#000" stroke-width="1.11"/>
<rect x="105.5" y="725.5" width="1380.0" height="286.0" fill="none" stroke="#000" stroke-width="1.11"/>
<text x="162.5" y="1032.0" font-size="14.7" text-anchor="middle" textLength="7.5" lengthAdjust="spacingAndGlyphs">0</text>
<text x="334.5" y="1032.0" font-size="14.7" text-anchor="middle" textLength="33.8" lengthAdjust="spacingAndGlyphs">2500</text>
<text x="506.5" y="1032.0" font-size="14.7" text-anchor="middle" textLength="33.8" lengthAdjust="spacingAndGlyphs">5000</text>
<text x="679.5" y="1032.0" font-size="14.7" text-anchor="middle" textLength="33.8" lengthAdjust="spacingAndGlyphs">7500</text>
<text x="851.5" y="1032.0" font-size="14.7" text-anchor="middle" textLength="42.7" lengthAdjust="spacingAndGlyphs">10000</text>
<text x="1023.5" y="1032.0" font-size="14.7" text-anchor="middle" textLength="42.7" lengthAdjust="spacingAndGlyphs">12500</text>
<text x="1195.5" y="1032.0" font-size="14.7" text-anchor="middle" textLength="42.7" lengthAdjust="spacingAndGlyphs">15000</text>
<text x="1367.5" y="1032.0" font-size="14.7" text-anchor="middle" textLength="42.7" lengthAdjust="spacingAndGlyphs">17500</text>
<path d="M162.5 1011.5v4.86M334.5 1011.5v4.86M506.5 1011.5v4.86M679.5 1011.5v4.86M851.5 1011.5v4.86M1023.5 1011.5v4.86M1195.5 1011.5v4.86M1367.5 1011.5v4.86" stroke="#000" stroke-width="1.11"/>
<text x="94.6" y="763.8" font-size="14.7" text-anchor="end" textLength="77.6" lengthAdjust="spacingAndGlyphs">not Kalman</text>
<text x="94.6" y="796.8" font-size="14.7" text-anchor="end" textLength="61.2" lengthAdjust="spacingAndGlyphs">not track</text>
<text x="94.6" y="828.8" font-size="14.7" text-anchor="end" textLength="67.4" lengthAdjust="spacingAndGlyphs">Sat. pixel.</text>
<text x="94.6" y="861.8" font-size="14.7" text-anchor="end" textLength="56.0" lengthAdjust="spacingAndGlyphs">Ion. rad.</text>
<text x="94.6" y="893.8" font-size="14.7" text-anchor="end" textLength="42.4" lengthAdjust="spacingAndGlyphs">dr &gt; 5</text>
<text x="94.6" y="926.8" font-size="14.7" text-anchor="end" textLength="78.6" lengthAdjust="spacingAndGlyphs">OBS not OK</text>
<path d="M105.5 758.5h-4.86M105.5 791.5h-4.86M105.5 823.5h-4.86M105.5 856.5h-4.86M105.5 888.5h-4.86M105.5 921.5h-4.86" stroke="#000" stroke-width="1.11"/>
<text x="94.6" y="1014.8" font-size="14.7" text-anchor="end" textLength="7.6" lengthAdjust="spacingAndGlyphs">0</text>
<text x="94.6" y="988.8" font-size="14.7" text-anchor="end" textLength="7.6" lengthAdjust="spacingAndGlyphs">5</text>
<text x="94.6" y="962.8" font-size="14.7" text-anchor="end" textLength="16.4" lengthAdjust="spacingAndGlyphs">10</text>
<path d="M105.5 1009.5h-4.86M105.5 983.5h-4.86M105.5 957.5h-4.86" stroke="#000" stroke-width="1.11"/>
<path d="M105.5 996.5h-2.78M105.5 970.5h-2.78" stroke="#000" stroke-width=".83"/>
<text transform="translate(69.2,983) rotate(-90)" font-size="14.7" text-anchor="middle" textLength="13.4" lengthAdjust="spacingAndGlyphs">dr</text>
</svg>
</body></html>
